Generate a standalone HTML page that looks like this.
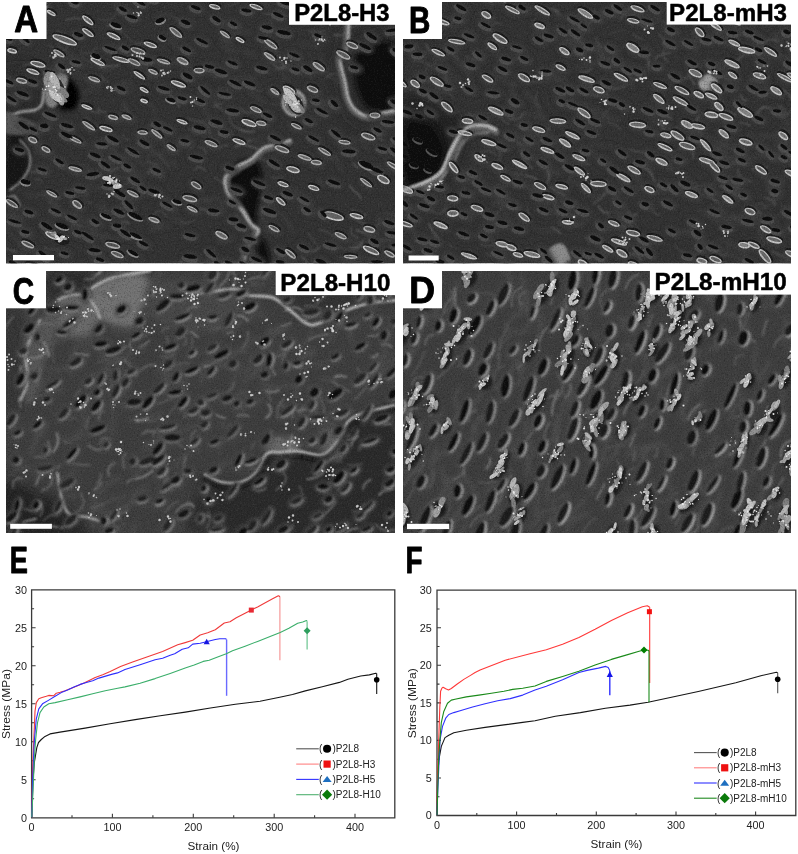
<!DOCTYPE html>
<html><head><meta charset="utf-8"><style>
html,body{margin:0;padding:0;background:#fff;}
body{width:798px;height:854px;overflow:hidden;position:relative;}
svg{position:absolute;left:0;top:0;display:block;}
</style></head><body>
<svg width="798" height="854" viewBox="0 0 798 854">
<defs><filter id="b04" x="-30%" y="-30%" width="160%" height="160%"><feGaussianBlur stdDeviation="0.4"/></filter><filter id="b05" x="-30%" y="-30%" width="160%" height="160%"><feGaussianBlur stdDeviation="0.5"/></filter><filter id="b06" x="-30%" y="-30%" width="160%" height="160%"><feGaussianBlur stdDeviation="0.6"/></filter><filter id="b08" x="-30%" y="-30%" width="160%" height="160%"><feGaussianBlur stdDeviation="0.8"/></filter><filter id="b1" x="-30%" y="-30%" width="160%" height="160%"><feGaussianBlur stdDeviation="1"/></filter><filter id="b2" x="-30%" y="-30%" width="160%" height="160%"><feGaussianBlur stdDeviation="2"/></filter><filter id="b3" x="-30%" y="-30%" width="160%" height="160%"><feGaussianBlur stdDeviation="3"/></filter><filter id="b6" x="-30%" y="-30%" width="160%" height="160%"><feGaussianBlur stdDeviation="6"/></filter><filter id="b8" x="-30%" y="-30%" width="160%" height="160%"><feGaussianBlur stdDeviation="8"/></filter><filter id="b12" x="-30%" y="-30%" width="160%" height="160%"><feGaussianBlur stdDeviation="12"/></filter><filter id="grain" x="0" y="0" width="100%" height="100%"><feTurbulence type="fractalNoise" baseFrequency="0.7" numOctaves="2" seed="3"/><feColorMatrix type="matrix" values="0 0 0 0 0  0 0 0 0 0  0 0 0 0 0  1.4 0 0 0 -0.7"/></filter><filter id="grainw" x="0" y="0" width="100%" height="100%"><feTurbulence type="fractalNoise" baseFrequency="0.7" numOctaves="2" seed="9"/><feColorMatrix type="matrix" values="0 0 0 0 1  0 0 0 0 1  0 0 0 0 1  1.4 0 0 0 -0.7"/></filter><clipPath id="clipA"><rect x="6" y="2" width="389" height="261.5"/></clipPath><clipPath id="clipB"><rect x="403" y="2" width="388" height="261.5"/></clipPath><clipPath id="clipC"><rect x="6" y="271" width="389" height="262"/></clipPath><clipPath id="clipD"><rect x="403" y="271" width="388" height="262"/></clipPath></defs><g clip-path="url(#clipA)"><g filter="url(#b04)"><rect x="6" y="2" width="389" height="261.5" fill="#303030"/><g filter="url(#b2)"><path d="M168,150C170,149 174,147 177,146C180,146 183,148 186,148C190,148 194,146 195,146M321,180C321,180 318,179 318,180C318,181 322,184 323,185C324,186 325,186 325,186M75,67C75,67 75,65 76,64C77,63 79,64 80,64C81,64 83,64 83,63M396,211C396,213 395,217 394,219C394,221 393,221 392,224C392,226 391,230 391,232M379,215C379,216 378,221 378,222C379,223 380,221 381,222C381,223 380,226 380,226M126,249C127,249 130,251 132,252C135,253 137,254 139,255C141,256 143,259 144,260M73,191C74,191 76,192 79,192C81,193 87,194 88,194C89,195 85,196 85,196M153,227C153,227 154,227 156,226C158,226 161,224 163,224C166,224 169,227 170,228M32,149C34,150 38,151 40,152C42,153 43,154 44,155C45,156 47,157 48,157M321,56C322,59 324,68 325,70C326,72 327,67 327,67C327,68 326,73 326,74M12,253C13,253 14,253 16,253C18,253 23,254 25,254C26,255 27,256 27,256M334,156C335,157 337,159 338,161C338,162 338,163 339,165C339,167 342,170 343,170M223,26C223,27 224,31 225,33C226,35 228,37 229,40C230,42 231,46 231,47M366,8C367,9 370,14 374,15C377,15 384,11 387,9C390,7 391,4 392,3M282,176C282,177 283,182 285,185C288,187 292,189 295,190C297,191 298,191 299,192M146,155C148,155 153,154 155,154C157,154 156,153 158,153C160,152 164,153 166,153M171,217C172,218 172,221 174,221C176,221 181,219 182,219C184,220 183,224 183,225M-1,80C1,79 7,78 9,78C11,79 8,82 10,83C12,84 19,85 21,86M75,101C77,103 81,108 83,110C85,113 85,112 86,115C87,118 89,126 89,128M367,76C369,76 372,78 374,77C375,76 375,72 376,72C377,72 380,76 381,76M387,118C387,118 388,116 388,117C388,118 388,121 388,122C388,124 389,126 390,127M10,215C11,215 11,215 12,216C13,216 14,218 15,218C17,219 22,219 23,219M263,47C265,48 268,53 270,54C272,55 274,53 277,54C279,54 283,55 284,55M288,101C290,101 296,101 299,102C302,104 304,107 306,108C308,108 309,106 310,105M137,140C139,141 146,146 150,149C153,151 157,153 159,155C161,156 161,158 161,159M338,257C340,258 345,262 349,262C353,262 358,258 362,257C366,257 371,260 373,260M217,197C217,198 219,199 220,201C221,202 223,204 223,206C224,208 223,212 223,213M281,213C282,214 284,216 285,219C287,221 289,224 291,227C292,229 294,232 295,233M240,136C242,137 250,139 253,140C256,141 256,142 258,142C260,141 263,137 264,136M74,139C76,140 82,140 83,141C85,142 83,145 84,145C86,146 91,144 92,144M269,26C269,25 270,22 271,20C273,18 276,15 278,14C280,13 284,15 285,15M119,51C120,51 123,51 126,51C128,52 131,54 134,54C136,54 139,52 140,51M137,161C138,161 140,164 142,164C144,165 147,163 148,163C150,163 150,164 151,164M57,47C59,48 64,49 67,51C69,53 70,55 72,56C74,58 76,58 77,58M350,84C351,84 353,84 355,84C357,84 359,85 360,86C362,87 362,91 362,92M163,206C164,206 169,207 170,207C171,207 169,205 170,206C171,207 174,212 175,213M192,199C193,199 197,202 200,202C202,202 204,198 207,198C209,199 211,203 212,203M74,213C76,215 84,219 86,221C88,223 84,223 86,225C88,227 95,231 97,232M201,106C201,106 202,106 203,108C205,110 208,114 209,117C211,119 212,124 213,125M2,222C3,224 6,229 8,231C9,233 10,235 13,237C16,240 23,243 25,245M92,231C94,233 102,239 105,241C108,243 107,242 108,243C109,243 113,243 114,243M28,85C28,85 28,85 29,87C31,89 35,97 36,98C38,100 39,97 40,96M263,158C262,157 259,156 259,154C258,153 257,153 259,151C260,149 266,143 268,142M155,16C155,16 159,20 160,20C161,19 160,15 162,14C164,14 170,15 172,15M386,159C387,160 388,165 390,167C391,169 393,169 395,171C397,173 401,175 402,176M18,245C19,246 23,249 25,249C27,250 28,247 30,248C32,249 36,254 37,256M115,2C116,2 116,5 117,7C118,9 119,12 121,13C123,13 128,11 129,11M350,111C350,112 349,112 350,113C352,113 358,112 361,113C364,114 370,116 371,117M230,34C231,34 235,34 238,33C241,33 244,31 246,31C248,31 249,32 250,33M168,197C168,198 166,199 167,201C168,204 173,209 174,211C176,213 176,211 176,211M133,73C134,73 136,74 139,74C142,75 148,77 151,77C154,76 156,72 157,71M20,70C21,70 23,71 26,72C28,73 34,75 35,75C37,76 36,75 36,74M147,128C147,128 147,130 148,130C150,129 155,125 156,125C157,124 156,127 156,127M97,203C98,205 101,213 103,214C105,215 107,210 108,211C110,212 110,219 111,221M41,224C41,224 42,227 43,228C44,230 47,232 48,234C49,235 48,235 48,235M112,190C113,191 116,193 118,193C121,194 125,193 127,193C130,193 134,192 135,191M352,252C353,251 357,247 361,246C364,245 368,248 370,247C373,247 375,242 376,241M141,102C142,102 144,101 146,101C147,102 149,103 151,105C153,107 155,112 156,114M343,72C344,72 344,73 345,74C346,75 346,77 347,78C349,78 354,75 355,75M26,194C28,194 33,196 35,197C38,197 39,194 41,194C44,195 50,199 52,200M205,203C205,203 203,200 204,200C205,199 209,201 211,200C213,200 213,197 213,197M258,212C259,214 264,219 265,221C266,224 264,226 265,228C267,230 274,232 275,232M161,32C162,33 166,34 168,36C170,38 172,42 173,44C175,46 177,48 178,49M254,202C254,202 251,201 252,202C253,202 259,205 261,206C263,208 264,209 264,210M89,185C90,186 94,188 95,188C97,189 97,187 99,187C101,188 105,191 107,192M339,236C340,237 344,239 347,240C351,241 356,243 358,244C360,244 359,243 360,242M207,130C207,131 209,131 210,133C211,134 213,138 213,140C213,142 213,142 212,142M61,83C61,83 59,80 60,81C62,82 67,88 69,89C72,91 75,90 76,90M-6,211C-4,212 3,216 6,217C9,217 10,213 12,214C14,214 18,218 20,219M116,209C117,209 120,208 122,207C123,207 123,207 125,207C127,208 134,210 135,211M124,82C124,82 123,83 123,83C124,83 126,81 128,82C130,83 133,87 134,88M251,2C252,3 252,3 255,4C258,4 267,6 269,6C272,6 269,6 269,5M236,77C238,77 243,77 244,77C246,78 245,79 247,79C249,79 256,76 257,76M223,183C223,184 224,188 225,189C225,191 224,189 224,191C225,193 228,199 228,201M327,156C328,157 330,160 331,160C333,160 334,156 335,156C337,155 338,157 338,157M317,105C318,105 318,106 320,105C323,105 330,103 332,102C334,101 332,99 332,99M4,85C6,86 11,88 12,89C13,89 11,88 12,88C14,89 19,90 21,91M213,102C214,101 218,98 219,96C220,94 220,89 221,89C223,88 228,92 229,93M247,51C247,52 246,54 246,55C247,55 249,53 251,53C252,54 255,56 256,57M346,140C348,140 357,139 360,140C362,140 360,141 362,143C364,144 369,149 370,150M110,240C111,240 116,238 118,238C120,238 119,238 121,238C123,238 129,237 130,236M111,178C113,178 119,176 122,177C125,177 128,180 130,180C133,181 138,180 139,180M220,43C221,44 225,48 227,49C229,51 229,52 231,52C234,51 240,49 241,49M154,161C155,162 153,165 156,165C159,166 169,162 172,162C175,162 175,166 176,167M216,241C217,241 219,242 222,242C224,242 229,242 231,241C233,240 234,236 234,235M120,159C120,159 119,157 121,157C122,157 128,158 129,158C131,158 129,157 129,157M124,101C124,102 124,103 124,105C124,106 124,107 124,108C125,110 126,112 126,112M347,32C348,32 351,29 353,29C356,28 359,29 362,29C364,28 368,26 370,26M347,216C348,216 350,218 351,217C353,216 354,210 356,211C358,211 362,216 363,217M74,75C75,75 80,75 83,76C85,77 86,80 90,81C93,81 102,79 105,79M78,167C79,167 82,164 84,165C87,165 90,169 91,171C91,172 89,172 88,172M367,116C368,116 368,115 369,116C370,117 372,121 373,121C373,122 373,120 373,120M136,173C139,173 148,174 151,174C154,174 152,174 154,175C156,176 162,178 164,178M205,138C206,139 208,143 210,144C211,145 213,143 215,142C216,142 216,141 217,141M110,141C111,141 114,142 115,143C115,145 113,148 113,150C113,151 115,153 115,153M250,85C250,86 249,91 250,93C252,95 256,95 258,97C261,99 264,103 266,104M301,41C301,42 301,44 302,44C304,45 308,45 311,45C314,46 318,47 320,47M4,155C6,156 13,158 16,159C20,159 24,158 26,159C28,159 29,160 30,160M103,203C103,204 105,208 106,210C107,211 110,211 111,212C112,213 112,214 113,214M207,65C207,65 208,68 209,70C210,72 213,76 214,77C216,78 218,77 219,77M28,107C28,107 28,107 28,108C28,109 25,111 26,112C28,113 37,114 39,114M92,234C93,234 94,234 97,235C100,235 107,237 108,237C110,236 106,234 106,233M88,66C88,66 89,64 91,64C94,64 101,68 104,69C106,70 105,70 105,70M21,82C22,83 26,85 27,88C29,90 27,94 29,97C30,99 34,101 35,102M83,93C84,92 87,92 89,91C90,90 91,87 92,87C94,87 98,91 99,92M80,103C80,103 82,103 84,103C85,103 87,103 88,103C89,103 87,103 87,103M283,63C283,64 285,67 285,69C285,71 281,75 282,76C282,78 288,78 290,79M337,81C338,82 341,85 344,86C347,87 351,88 354,89C357,90 359,92 360,93M123,105C123,106 127,108 128,110C129,112 128,114 129,116C130,118 135,119 136,120M149,231C150,231 152,230 154,229C156,229 161,229 162,229C163,228 160,227 160,226" fill="none" stroke="#404040" stroke-width="2.5" stroke-linecap="round"/></g><g filter="url(#b08)"><path d="M379,75C380,75 382,77 384,78C385,79 387,80 388,81C389,82 391,84 392,85M326,78C327,78 328,76 330,75C331,74 332,74 334,74C335,74 338,74 338,74M302,256C302,257 303,258 304,258C305,259 305,260 306,261C307,262 307,263 308,263M352,163C353,163 354,164 354,165C355,166 356,166 356,167C357,167 359,167 359,168M84,105C85,105 87,108 88,109C90,110 91,111 93,112C95,112 98,113 99,113M180,261C181,262 184,264 185,265C187,266 189,266 191,265C193,265 196,262 197,262M287,96C287,96 289,96 290,97C292,97 293,97 294,97C296,97 298,97 298,97M268,92C268,92 270,91 271,91C272,91 274,91 275,92C276,92 278,93 278,93" fill="none" stroke="#626262" stroke-width="1.2" stroke-linecap="round"/><path d="M48,202C49,202 51,202 52,203C53,203 55,204 56,204C57,205 59,207 59,207M214,177C215,177 216,179 217,179C218,180 219,181 220,181C221,182 222,182 223,183M12,168C13,167 15,166 16,165C17,165 19,164 20,164C22,164 24,164 25,164M274,70C275,70 278,70 280,69C282,69 284,68 286,68C288,67 290,66 291,65M115,58C116,58 119,57 120,56C122,56 123,56 125,57C127,57 129,58 130,58M200,122C201,123 204,123 206,124C207,125 208,127 209,128C209,130 209,133 210,134" fill="none" stroke="#565656" stroke-width="1.1" stroke-linecap="round"/><path d="M188,128C189,129 192,132 194,133C196,134 198,135 200,134C202,134 206,132 207,132M120,191C121,190 123,186 124,185C126,183 128,183 130,184C132,184 135,187 136,188M220,40C220,40 222,40 223,40C224,40 225,40 225,41C226,41 227,43 227,43M80,51C81,52 82,56 83,57C84,59 86,60 88,61C89,62 93,62 94,62M158,155C159,156 161,158 163,159C164,161 165,162 167,164C168,166 169,168 170,169M224,6C225,6 228,6 229,6C231,6 233,5 235,4C236,3 239,1 239,1M271,104C272,104 275,104 277,104C279,105 281,105 282,106C284,106 287,107 287,107" fill="none" stroke="#4a4a4a" stroke-width="1.1" stroke-linecap="round"/><path d="M158,126C158,125 160,125 161,125C162,125 163,125 164,126C165,126 167,127 167,127M135,236C135,236 137,236 138,236C139,236 139,236 140,236C141,237 142,238 143,238M255,155C256,155 257,157 258,157C259,158 260,159 261,159C263,159 265,160 265,160M44,247C44,247 47,248 48,249C50,249 52,249 54,249C55,250 58,249 59,249" fill="none" stroke="#4a4a4a" stroke-width="1.4" stroke-linecap="round"/><path d="M352,210C353,211 354,214 356,215C357,216 358,217 360,216C362,216 365,215 366,214M72,225C73,225 75,225 76,225C77,225 78,226 79,226C80,226 82,226 83,226M384,101C385,100 388,97 390,96C392,96 394,96 396,97C398,97 401,100 402,101M31,172C32,172 33,172 35,172C36,172 37,172 38,172C39,172 41,172 42,172" fill="none" stroke="#565656" stroke-width="1.4" stroke-linecap="round"/><path d="M11,100C11,100 12,102 13,103C14,104 15,105 16,106C17,107 19,109 19,109M328,76C329,77 332,78 333,79C335,79 337,80 338,81C340,82 342,84 343,84M93,53C93,53 93,51 94,50C95,49 95,49 96,48C97,48 98,48 99,48M279,32C280,33 281,34 282,35C283,35 284,35 285,35C286,35 287,34 288,34M147,159C147,160 149,161 150,162C151,162 152,163 153,164C154,164 156,165 157,165M382,213C383,213 386,213 388,213C390,214 392,214 394,215C396,215 399,217 400,217M63,94C63,94 66,95 68,96C69,96 70,97 70,99C71,100 70,103 71,104M39,83C40,82 43,79 45,78C47,77 49,76 51,76C53,76 57,78 58,78M392,144C392,144 393,146 393,147C393,148 393,149 393,150C393,151 393,153 393,153M94,246C94,247 96,248 96,249C97,250 97,250 98,251C98,252 98,254 99,254" fill="none" stroke="#4a4a4a" stroke-width="1.2" stroke-linecap="round"/><path d="M347,149C348,149 350,149 351,149C352,149 354,149 355,149C356,150 358,151 358,151M241,108C242,109 243,111 245,112C246,113 248,113 249,113C251,113 253,111 254,111M263,14C263,14 266,14 268,14C270,14 271,14 273,13C275,13 277,12 278,11M190,259C191,259 193,260 194,261C195,261 195,262 196,263C197,264 198,266 198,266M219,150C219,149 220,147 221,147C222,146 224,146 225,145C226,145 228,146 229,146M174,17C175,18 177,19 178,20C179,21 181,21 182,21C184,21 186,20 187,20M271,177C271,177 273,178 274,178C276,178 277,178 278,178C279,178 281,178 282,178M252,212C253,211 256,210 258,209C260,209 262,208 264,207C266,207 269,206 270,205M117,195C118,196 119,196 121,197C122,197 123,197 124,196C126,196 127,195 128,195M215,103C215,103 216,105 217,106C218,107 219,108 220,108C221,109 222,110 223,110M37,65C38,65 40,65 41,66C42,66 44,67 44,67C45,68 47,70 47,71M229,116C230,118 230,121 231,123C232,124 233,126 235,127C236,128 240,129 241,129" fill="none" stroke="#565656" stroke-width="1.2" stroke-linecap="round"/><path d="M355,12C356,12 357,12 358,12C359,12 360,12 361,12C362,12 364,12 365,11M26,19C27,19 28,19 29,19C30,19 31,19 32,20C33,20 35,21 35,21M351,227C351,228 351,231 351,232C352,234 352,235 354,236C355,237 358,237 358,238M57,163C57,164 58,165 59,166C60,167 62,168 63,168C64,168 66,168 67,168M199,147C200,147 201,148 202,148C203,149 204,149 205,150C205,151 206,153 206,154M135,46C135,46 137,45 139,44C140,44 141,43 143,43C144,43 146,44 147,44" fill="none" stroke="#565656" stroke-width="1.3" stroke-linecap="round"/><path d="M9,158C9,159 11,160 12,161C13,161 14,162 16,162C17,162 19,162 20,162M213,107C213,107 215,106 216,106C217,105 218,105 219,104C220,104 222,103 223,103M363,234C364,233 367,232 369,231C371,230 373,229 375,228C377,226 379,223 380,223M308,30C309,31 311,32 313,32C315,32 317,32 319,32C321,32 324,31 325,31" fill="none" stroke="#626262" stroke-width="1" stroke-linecap="round"/><path d="M319,230C320,230 323,230 325,231C326,231 328,232 329,233C331,234 333,236 334,237M332,248C333,248 336,247 337,247C339,247 341,248 342,248C344,249 346,250 347,250M123,134C124,135 123,137 124,138C124,139 125,139 126,139C127,140 129,139 130,139M57,30C57,31 59,32 60,32C61,33 61,33 63,33C64,34 65,33 66,34M33,128C33,128 35,129 36,130C36,131 37,132 37,133C37,134 35,136 35,136M62,94C62,95 63,96 64,97C64,98 65,98 66,99C67,100 68,101 68,101M187,118C188,118 191,120 193,120C195,121 197,121 200,121C202,121 205,120 206,120" fill="none" stroke="#4a4a4a" stroke-width="1.5" stroke-linecap="round"/><path d="M240,130C241,130 244,131 245,131C247,132 249,132 250,132C252,132 254,131 255,131M197,209C198,209 200,208 202,209C203,209 204,209 206,210C207,210 209,212 210,212M50,193C50,193 52,195 53,195C54,196 55,197 56,197C57,198 59,198 60,198M356,230C357,230 360,231 361,232C363,232 365,233 367,233C369,234 372,235 373,235M148,173C149,172 150,170 151,169C152,169 153,168 154,168C155,168 157,168 158,168M349,27C349,27 352,27 353,27C355,27 356,27 357,26C358,26 360,24 361,24M55,100C55,101 57,103 59,104C60,105 62,106 64,107C65,108 68,110 68,110M349,186C350,186 352,188 353,190C355,191 356,193 358,194C359,196 361,198 361,199" fill="none" stroke="#626262" stroke-width="1.4" stroke-linecap="round"/><path d="M194,171C194,170 197,168 198,167C199,167 201,167 202,168C203,168 205,171 206,171M106,25C107,25 110,26 112,26C114,27 116,28 118,29C119,30 122,32 123,32M98,108C98,109 99,110 100,111C101,111 102,112 103,112C104,112 105,112 106,112M379,240C380,240 382,240 383,240C385,240 386,240 388,240C389,240 392,240 392,240" fill="none" stroke="#626262" stroke-width="1.1" stroke-linecap="round"/><path d="M104,70C105,70 108,71 109,71C111,70 113,70 115,69C116,68 118,66 119,66M14,102C14,103 13,104 13,105C13,106 13,107 13,108C14,109 15,110 15,111" fill="none" stroke="#4a4a4a" stroke-width="1" stroke-linecap="round"/><path d="M350,216C351,216 353,218 355,219C357,220 358,221 360,222C362,223 365,223 366,224M111,173C111,172 112,171 113,170C114,170 115,169 116,169C117,169 118,168 119,168M24,65C25,65 28,65 30,64C31,64 33,64 35,64C37,64 39,63 40,63M-1,158C0,159 4,160 6,160C8,160 10,160 12,159C14,159 17,157 18,156M-1,241C-1,242 1,245 3,247C5,248 7,249 9,250C11,250 14,251 16,251" fill="none" stroke="#565656" stroke-width="1.5" stroke-linecap="round"/><path d="M268,140C269,141 271,143 273,144C274,145 276,146 278,147C280,148 283,149 284,149M181,222C182,222 184,223 186,223C187,223 189,223 190,222C192,222 194,220 195,220M386,50C387,50 389,51 391,53C392,54 393,55 394,57C394,58 395,61 395,62M307,233C308,233 310,235 311,237C312,238 313,239 314,241C315,242 316,245 317,245M254,89C254,89 256,90 257,91C258,91 259,91 260,91C261,91 262,90 263,90M34,179C35,179 37,179 38,179C39,179 40,179 41,180C42,181 43,183 43,183M314,66C314,66 314,69 315,70C316,71 317,72 318,72C319,72 322,72 323,72M84,53C85,53 87,53 89,53C90,53 92,54 93,54C95,54 97,55 98,55M235,213C236,214 238,217 239,218C241,220 242,221 244,223C246,224 249,225 250,226M98,19C99,19 103,20 105,20C107,20 109,20 111,19C113,18 116,15 116,14" fill="none" stroke="#4a4a4a" stroke-width="1.3" stroke-linecap="round"/><path d="M100,67C101,67 104,67 106,66C108,66 110,66 112,66C114,66 118,65 119,65M334,35C335,35 338,35 340,35C342,35 345,35 347,35C349,35 352,35 353,35M240,144C241,144 244,145 246,145C248,146 250,146 252,147C254,147 257,149 258,149M169,94C170,95 172,97 173,98C174,99 176,101 177,102C178,104 179,106 179,107M349,247C350,248 353,249 355,248C357,248 359,247 360,246C361,244 363,241 363,240M310,251C311,251 313,251 314,251C315,251 316,250 317,250C318,249 319,247 319,247M235,147C236,147 239,145 240,145C242,144 244,143 245,142C247,142 250,141 251,141" fill="none" stroke="#626262" stroke-width="1.5" stroke-linecap="round"/><path d="M255,214C256,214 258,213 260,213C261,213 262,213 264,213C265,213 267,214 268,214M47,45C48,45 50,46 51,47C53,47 54,48 55,50C55,51 56,53 56,54M84,200C84,200 85,201 86,201C87,202 88,202 89,203C90,203 91,203 92,203M116,175C116,176 117,177 117,178C117,179 118,180 118,181C118,182 118,184 118,184M58,43C59,44 61,48 63,49C64,50 65,50 66,49C68,48 69,43 70,42M124,33C125,34 127,37 128,38C130,40 132,41 134,42C136,43 139,44 140,44M101,75C101,75 102,77 102,78C103,79 104,80 105,81C106,81 108,82 109,82" fill="none" stroke="#565656" stroke-width="1" stroke-linecap="round"/><path d="M66,20C67,20 70,19 71,19C73,18 75,18 76,18C78,18 81,19 81,19M272,63C273,63 275,66 277,67C278,68 280,68 282,68C283,67 286,65 287,64M272,62C273,61 275,61 276,61C277,61 278,61 280,62C281,62 282,64 283,65" fill="none" stroke="#565656" stroke-width="1.6" stroke-linecap="round"/><path d="M181,90C181,89 182,86 182,84C183,82 185,81 186,80C188,79 192,79 193,79M152,220C153,219 154,214 156,212C157,211 159,211 161,211C163,212 166,216 167,217" fill="none" stroke="#4a4a4a" stroke-width="1.6" stroke-linecap="round"/><path d="M210,139C211,140 213,140 214,140C215,140 215,141 216,141C217,142 218,143 219,144M51,236C52,237 55,237 57,237C59,237 61,237 62,237C64,237 67,237 68,237M121,223C122,223 123,222 124,222C125,222 126,222 127,222C128,223 129,224 129,224" fill="none" stroke="#626262" stroke-width="1.3" stroke-linecap="round"/><path d="M369,136C370,136 373,135 374,135C376,136 377,136 379,137C380,138 382,140 383,140" fill="none" stroke="#626262" stroke-width="1.6" stroke-linecap="round"/></g><g filter="url(#b8)"><path d="M352,28C360.5,22.8 387.8,4.7 395,20C402.2,35.3 401.5,103.7 395,120C388.5,136.3 364,121.3 356,118C348,114.7 349,105.8 347,100C345,94.2 345.7,88.7 344,83C342.3,77.3 337,71.3 337,66C337,60.7 341.5,57.3 344,51C346.5,44.7 343.5,33.2 352,28Z" fill="#2a2a2a"/><path d="M6,75C11.7,64.7 34,72.2 40,78C46,83.8 43.7,100.5 42,110C40.3,119.5 36,130 30,135C24,140 10,150 6,140C2,130 0.3,85.3 6,75Z" fill="#2a2a2a"/></g><g filter="url(#b2)"><path d="M360,50C366.7,46.7 389.2,35.3 395,45C400.8,54.7 397.5,96.8 395,108C392.5,119.2 385,112.5 380,112C375,111.5 369,109.5 365,105C361,100.5 357.7,91.7 356,85C354.3,78.3 354.3,70.8 355,65C355.7,59.2 353.3,53.3 360,50Z" fill="#101010"/><path d="M232,168C234.5,163.8 240.7,160.8 245,160C249.3,159.2 255.2,159.7 258,163C260.8,166.3 262,173 262,180C262,187 259.3,197.3 258,205C256.7,212.7 256,224.3 254,226C252,227.7 248.7,219.3 246,215C243.3,210.7 240.7,205 238,200C235.3,195 231,190.3 230,185C229,179.7 229.5,172.2 232,168Z" fill="#070707"/><path d="M60,82C61.7,78.3 65.3,77.3 68,78C70.7,78.7 74.2,83 76,86C77.8,89 79.2,92.3 79,96C78.8,99.7 77.8,105.7 75,108C72.2,110.3 64.8,111.3 62,110C59.2,108.7 58.3,104.7 58,100C57.7,95.3 58.3,85.7 60,82Z" fill="#040404"/><path d="M8,140C10.7,131 18.3,134.3 22,136C25.7,137.7 29.5,143.5 30,150C30.5,156.5 28,168.7 25,175C22,181.3 15.2,185.5 12,188C8.8,190.5 6.7,198 6,190C5.3,182 5.3,149 8,140Z" fill="#121212"/><path d="M258,238C259.3,234.7 264,239.7 266,244C268,248.3 271.3,260.7 270,264C268.7,267.3 260,268.3 258,264C256,259.7 256.7,241.3 258,238Z" fill="#0e0e0e"/></g><g filter="url(#b1)"><path d="M347,24C347,25 347.1,25.8 346.8,30C346.5,34.2 346.5,44.6 345.1,49.5C343.7,54.4 338.9,53.8 338.6,59.3C338.3,64.8 342.1,75.7 343.5,82.3C344.9,88.9 345.1,93.9 346.8,98.7C348.6,103.5 350.5,107.8 354,111C357.5,114.2 362.8,117.5 368,118C373.2,118.5 380.5,115 385,114C389.5,113 393.3,112.3 395,112" fill="none" stroke="#5e5e5e" stroke-width="6" stroke-linecap="round"/><path d="M290,142C288,142.8 282.3,145.2 278,146.5C273.7,147.8 268.3,147.6 264,150C259.7,152.4 256,158 252,161C248,164 243.5,165.8 240,168C236.5,170.2 233.2,172 231,174C228.8,176 227.3,177.3 227,180C226.7,182.7 227.8,186.7 229,190C230.2,193.3 231.7,196.5 234,200C236.3,203.5 240.3,207 243,211C245.7,215 247.8,220.5 250,224C252.2,227.5 256.5,228.3 256,232C255.5,235.7 249.3,240.7 247,246C244.7,251.3 242.8,261 242,264" fill="none" stroke="#5e5e5e" stroke-width="6" stroke-linecap="round"/><path d="M349,24C349,25 349.1,25.8 348.8,30C348.5,34.2 348.5,44.6 347.1,49.5C345.7,54.4 340.9,53.8 340.6,59.3C340.3,64.8 344.1,75.7 345.5,82.3C346.9,88.9 347.1,94.1 348.8,98.7C350.6,103.3 352.8,107.1 356,110C359.2,112.9 363.2,115.7 368,116C372.8,116.3 380.5,113 385,112C389.5,111 393.3,110.3 395,110" fill="none" stroke="#b8b8b8" stroke-width="2.4" stroke-linecap="round"/><path d="M290,140C288,140.7 282.3,142.8 278,144C273.7,145.2 268.5,145 264,147.5C259.5,150 255.2,156.1 251,159C246.8,161.9 242.6,162.8 239,165C235.4,167.2 231.9,169.8 229.5,172C227.1,174.2 225.2,175.4 224.7,178.4C224.2,181.4 225.1,186.4 226.3,190C227.5,193.6 229.4,196.7 232,200C234.6,203.3 238.8,206 242,210C245.2,214 248.2,220.5 251,224C253.8,227.5 259.3,227.3 259,231C258.7,234.7 251.5,240.5 249,246C246.5,251.5 244.8,261 244,264" fill="none" stroke="#bcbcbc" stroke-width="2.4" stroke-linecap="round"/><path d="M6,118C8.3,117 15.2,113.3 20,112C24.8,110.7 31.3,111.3 35,110C38.7,108.7 40.5,107.3 42,104C43.5,100.7 43.7,92.3 44,90" fill="none" stroke="#a4a4a4" stroke-width="2.5" stroke-linecap="round"/><path d="M20,140C21.3,141.7 26.3,145.8 28,150C29.7,154.2 31,160 30,165C29,170 25.3,175.8 22,180C18.7,184.2 12,188.3 10,190" fill="none" stroke="#8e8e8e" stroke-width="2" stroke-linecap="round"/><path d="M6,200C7.3,199.3 11.7,195 14,196C16.3,197 19,204.3 20,206" fill="none" stroke="#8a8a8a" stroke-width="2" stroke-linecap="round"/></g><g filter="url(#b1)"><path d="M44,76C45.2,72.8 49,71.7 52,71C55,70.3 59.3,70.8 62,72C64.7,73.2 67.3,75 68,78C68.7,81 67.3,86.3 66,90C64.7,93.7 62.2,97 60,100C57.8,103 55.3,107.5 53,108C50.7,108.5 47.3,106 46,103C44.7,100 45.3,94.5 45,90C44.7,85.5 42.8,79.2 44,76Z" fill="#808080"/><path d="M48,80C49.3,77.5 55.7,76.2 58,77C60.3,77.8 62.5,81.5 62,85C61.5,88.5 57,96.8 55,98C53,99.2 51.2,95 50,92C48.8,89 46.7,82.5 48,80Z" fill="#a4a4a4"/><path d="M6,112C8.7,109.5 17,116 22,118C27,120 33.3,121.5 36,124C38.7,126.5 43,131.5 38,133C33,134.5 11.3,136.5 6,133C0.7,129.5 3.3,114.5 6,112Z" fill="#555"/><path d="M284,92C286.7,89.3 294.3,88.7 298,90C301.7,91.3 305.2,96 306,100C306.8,104 305.7,111.3 303,114C300.3,116.7 293.5,117.3 290,116C286.5,114.7 283,110 282,106C281,102 281.3,94.7 284,92Z" fill="#6a6a6a"/><path d="M284,94C286.2,93.5 293.5,90 297,91C300.5,92 304.2,96.5 305,100C305.8,103.5 304.3,109.5 302,112C299.7,114.5 294.2,116 291,115C287.8,114 284.2,109.5 283,106C281.8,102.5 283.8,96 284,94" fill="none" stroke="#b8b8b8" stroke-width="1.6" stroke-linecap="round"/></g><g filter="url(#b2)"><path fill="#3c3c3c" d="M20.6 5.2a9 5 10 1 0 17.7 3.2a9 5 10 1 0 -17.7 -3.2M220.8 260.3a9 5 22 1 0 16.7 6.7a9 5 22 1 0 -16.7 -6.7M266.6 225a9 5 29 1 0 15.8 8.7a9 5 29 1 0 -15.8 -8.7M306.2 134.9a9 5 29 1 0 15.7 8.8a9 5 29 1 0 -15.7 -8.8M25 136.9a9 5 26 1 0 16.2 7.8a9 5 26 1 0 -16.2 -7.8M67.7 136.7a9 5 27 1 0 16.1 8.1a9 5 27 1 0 -16.1 -8.1M134.2 132.6a9 5 4 1 0 18 1.3a9 5 4 1 0 -18 -1.3M72 187.4a9 5 9 1 0 17.8 2.7a9 5 9 1 0 -17.8 -2.7M160 125.9a9 5 25 1 0 16.3 7.6a9 5 25 1 0 -16.3 -7.6M25.7 125.9a9 5 27 1 0 16 8.3a9 5 27 1 0 -16 -8.3M218.1 29.9a9 5 35 1 0 14.7 10.4a9 5 35 1 0 -14.7 -10.4M113.6 85.4a9 5 25 1 0 16.3 7.7a9 5 25 1 0 -16.3 -7.7M273.3 247.5a9 5 29 1 0 15.8 8.6a9 5 29 1 0 -15.8 -8.6M382.1 250.4a9 5 29 1 0 15.7 8.8a9 5 29 1 0 -15.7 -8.8M361.2 227.9a9 5 15 1 0 17.4 4.6a9 5 15 1 0 -17.4 -4.6M364.7 4.2a9 5 0 1 0 18 0.1a9 5 0 1 0 -18 -0.1M188.1 155.9a9 5 13 1 0 17.5 4.1a9 5 13 1 0 -17.5 -4.1M267.1 159.1a9 5 32 1 0 15.2 9.6a9 5 32 1 0 -15.2 -9.6M238 246a9 5 28 1 0 15.8 8.5a9 5 28 1 0 -15.8 -8.5M375.6 2.9a9 5 30 1 0 15.6 9a9 5 30 1 0 -15.6 -9M6.5 219.9a9 5 16 1 0 17.3 4.9a9 5 16 1 0 -17.3 -4.9M267.8 134.8a9 5 27 1 0 16 8.2a9 5 27 1 0 -16 -8.2M224.7 199a9 5 26 1 0 16.2 7.9a9 5 26 1 0 -16.2 -7.9M315.7 -6.1a9 5 34 1 0 14.9 10.1a9 5 34 1 0 -14.9 -10.1M21 209.8a9 5 20 1 0 17 6a9 5 20 1 0 -17 -6M381.2 220.4a9 5 19 1 0 17 5.9a9 5 19 1 0 -17 -5.9M155.8 86.5a9 5 18 1 0 17.1 5.5a9 5 18 1 0 -17.1 -5.5M132.5 -1.8a9 5 31 1 0 15.4 9.3a9 5 31 1 0 -15.4 -9.3M300.6 64.8a9 5 32 1 0 15.3 9.4a9 5 32 1 0 -15.3 -9.4M128 176a9 5 32 1 0 15.3 9.4a9 5 32 1 0 -15.3 -9.4M175 58a9 5 26 1 0 16.1 8a9 5 26 1 0 -16.1 -8M344.4 42.5a9 5 24 1 0 16.5 7.2a9 5 24 1 0 -16.5 -7.2M54.7 61.9a9 5 36 1 0 14.6 10.5a9 5 36 1 0 -14.6 -10.5M184.6 205.9a9 5 27 1 0 16 8.2a9 5 27 1 0 -16 -8.2M126.6 59a9 5 26 1 0 16.2 7.9a9 5 26 1 0 -16.2 -7.9M253.5 66.8a9 5 14 1 0 17.5 4.3a9 5 14 1 0 -17.5 -4.3M201.3 65.4a9 5 13 1 0 17.5 4.2a9 5 13 1 0 -17.5 -4.2M86.2 77a9 5 20 1 0 16.9 6.1a9 5 20 1 0 -16.9 -6.1M125.3 190.5a9 5 27 1 0 16 8.2a9 5 27 1 0 -16 -8.2M261.6 208.9a9 5 19 1 0 17 5.8a9 5 19 1 0 -17 -5.8M209.5 14.9a9 5 34 1 0 14.9 10.1a9 5 34 1 0 -14.9 -10.1M136.1 240.1a9 5 28 1 0 15.9 8.5a9 5 28 1 0 -15.9 -8.5M387.6 99.1a9 5 26 1 0 16.1 8a9 5 26 1 0 -16.1 -8M48.1 207.9a9 5 24 1 0 16.4 7.4a9 5 24 1 0 -16.4 -7.4M304.8 86.4a9 5 23 1 0 16.6 7a9 5 23 1 0 -16.6 -7M307.5 99.3a9 5 11 1 0 17.7 3.5a9 5 11 1 0 -17.7 -3.5M108.4 154.8a9 5 26 1 0 16.2 7.8a9 5 26 1 0 -16.2 -7.8M288.8 123.1a9 5 26 1 0 16.2 7.9a9 5 26 1 0 -16.2 -7.9M192.2 98a9 5 21 1 0 16.8 6.6a9 5 21 1 0 -16.8 -6.6M20.2 241.4a9 5 25 1 0 16.3 7.6a9 5 25 1 0 -16.3 -7.6M51.9 49.4a9 5 32 1 0 15.2 9.7a9 5 32 1 0 -15.2 -9.7M342.1 257.2a9 5 3 1 0 18 0.8a9 5 3 1 0 -18 -0.8M364.6 31.8a9 5 35 1 0 14.7 10.4a9 5 35 1 0 -14.7 -10.4M70.4 32.6a9 5 18 1 0 17.2 5.4a9 5 18 1 0 -17.2 -5.4M284.1 248.7a9 5 41 1 0 13.6 11.8a9 5 41 1 0 -13.6 -11.8M174 96.7a9 5 16 1 0 17.3 4.9a9 5 16 1 0 -17.3 -4.9M41.3 71.1a9 5 8 1 0 17.8 2.6a9 5 8 1 0 -17.8 -2.6M367.4 13.7a9 5 29 1 0 15.7 8.8a9 5 29 1 0 -15.7 -8.8M13.4 79.1a9 5 15 1 0 17.4 4.8a9 5 15 1 0 -17.4 -4.8M203.4 141a9 5 23 1 0 16.6 6.9a9 5 23 1 0 -16.6 -6.9M204.8 248.2a9 5 41 1 0 13.7 11.7a9 5 41 1 0 -13.7 -11.7M24.5 79.2a9 5 20 1 0 17 6a9 5 20 1 0 -17 -6M296.5 243.7a9 5 27 1 0 16 8.3a9 5 27 1 0 -16 -8.3M194.5 37.9a9 5 27 1 0 16 8.3a9 5 27 1 0 -16 -8.3M126 147.3a9 5 31 1 0 15.4 9.4a9 5 31 1 0 -15.4 -9.4M111.2 208.7a9 5 25 1 0 16.3 7.5a9 5 25 1 0 -16.3 -7.5M379.7 121.4a9 5 8 1 0 17.8 2.6a9 5 8 1 0 -17.8 -2.6M233.4 223.8a9 5 19 1 0 17 5.9a9 5 19 1 0 -17 -5.9M179.3 45.8a9 5 29 1 0 15.7 8.8a9 5 29 1 0 -15.7 -8.8M368.3 262.4a9 5 0 1 0 18 -0a9 5 0 1 0 -18 0M4.6 199.5a9 5 32 1 0 15.2 9.6a9 5 32 1 0 -15.2 -9.6M286.5 52.3a9 5 23 1 0 16.6 7a9 5 23 1 0 -16.6 -7M252.8 122.4a9 5 11 1 0 17.7 3.5a9 5 11 1 0 -17.7 -3.5M66.6 -0.3a9 5 21 1 0 16.8 6.4a9 5 21 1 0 -16.8 -6.4M115.4 5.7a9 5 29 1 0 15.8 8.6a9 5 29 1 0 -15.8 -8.6M98.6 160.4a9 5 35 1 0 14.7 10.3a9 5 35 1 0 -14.7 -10.3M241.9 80.8a9 5 23 1 0 16.6 7a9 5 23 1 0 -16.6 -7M224.2 110a9 5 8 1 0 17.8 2.4a9 5 8 1 0 -17.8 -2.4M208.4 120a9 5 18 1 0 17.1 5.7a9 5 18 1 0 -17.1 -5.7M86.2 249.9a9 5 7 1 0 17.9 2.2a9 5 7 1 0 -17.9 -2.2M333.1 232.5a9 5 26 1 0 16.2 7.9a9 5 26 1 0 -16.2 -7.9M58.9 132a9 5 26 1 0 16.2 7.8a9 5 26 1 0 -16.2 -7.8M61.6 191.8a9 5 12 1 0 17.6 3.8a9 5 12 1 0 -17.6 -3.8M87.5 152.6a9 5 22 1 0 16.6 6.9a9 5 22 1 0 -16.6 -6.9M56.4 251.8a9 5 15 1 0 17.4 4.7a9 5 15 1 0 -17.4 -4.7M268 87.2a9 5 35 1 0 14.8 10.3a9 5 35 1 0 -14.8 -10.3M215.7 131.1a9 5 11 1 0 17.7 3.4a9 5 11 1 0 -17.7 -3.4M360.3 134.4a9 5 19 1 0 17 5.9a9 5 19 1 0 -17 -5.9M144.3 -3.3a9 5 16 1 0 17.3 5a9 5 16 1 0 -17.3 -5M190.6 70.9a9 5 3 1 0 18 0.8a9 5 3 1 0 -18 -0.8M221.8 166.5a9 5 17 1 0 17.2 5.2a9 5 17 1 0 -17.2 -5.2M177.7 19.5a9 5 23 1 0 16.6 7a9 5 23 1 0 -16.6 -7M191.2 126.7a9 5 13 1 0 17.6 3.9a9 5 13 1 0 -17.6 -3.9M248.9 256.6a9 5 24 1 0 16.5 7.3a9 5 24 1 0 -16.5 -7.3M105 115.8a9 5 15 1 0 17.4 4.6a9 5 15 1 0 -17.4 -4.6M87.7 218a9 5 28 1 0 15.9 8.5a9 5 28 1 0 -15.9 -8.5M311.9 62.2a9 5 35 1 0 14.7 10.4a9 5 35 1 0 -14.7 -10.4M164.2 143.4a9 5 34 1 0 15 9.9a9 5 34 1 0 -15 -9.9M370.2 126.4a9 5 29 1 0 15.7 8.8a9 5 29 1 0 -15.7 -8.8M329.4 128.7a9 5 39 1 0 14 11.3a9 5 39 1 0 -14 -11.3M129.9 49a9 5 18 1 0 17.1 5.5a9 5 18 1 0 -17.1 -5.5M313.2 259.1a9 5 22 1 0 16.7 6.8a9 5 22 1 0 -16.7 -6.8M359.4 178.1a9 5 37 1 0 14.4 10.8a9 5 37 1 0 -14.4 -10.8M318 207.9a9 5 49 1 0 11.8 13.6a9 5 49 1 0 -11.8 -13.6M64.5 214.1a9 5 28 1 0 15.9 8.5a9 5 28 1 0 -15.9 -8.5M199.1 85.2a9 5 42 1 0 13.3 12.2a9 5 42 1 0 -13.3 -12.2M307.9 162.3a9 5 7 1 0 17.9 2.1a9 5 7 1 0 -17.9 -2.1M258.6 26.5a9 5 12 1 0 17.6 3.6a9 5 12 1 0 -17.6 -3.6M383.6 231.9a9 5 11 1 0 17.7 3.5a9 5 11 1 0 -17.7 -3.5M117.9 44.6a9 5 29 1 0 15.8 8.6a9 5 29 1 0 -15.8 -8.6M386.1 161.7a9 5 34 1 0 15 10a9 5 34 1 0 -15 -10M44.4 190.2a9 5 30 1 0 15.6 8.9a9 5 30 1 0 -15.6 -8.9M17.1 230.3a9 5 15 1 0 17.4 4.7a9 5 15 1 0 -17.4 -4.7M299.9 205.9a9 5 30 1 0 15.5 9.1a9 5 30 1 0 -15.5 -9.1M340.3 151.5a9 5 4 1 0 17.9 1.3a9 5 4 1 0 -17.9 -1.3M368.7 167.7a9 5 22 1 0 16.7 6.6a9 5 22 1 0 -16.7 -6.6M84.4 176.2a9 5 -8 1 0 17.8 -2.4a9 5 -8 1 0 -17.8 2.4M102.3 46.4a9 5 19 1 0 17 5.9a9 5 19 1 0 -17 -5.9M251.4 180.3a9 5 23 1 0 16.6 7a9 5 23 1 0 -16.6 -7M109.6 251.9a9 5 23 1 0 16.6 7a9 5 23 1 0 -16.6 -7M105.5 135.2a9 5 29 1 0 15.7 8.8a9 5 29 1 0 -15.7 -8.8M187.9 4.9a9 5 22 1 0 16.7 6.8a9 5 22 1 0 -16.7 -6.8M336 141.7a9 5 9 1 0 17.8 2.8a9 5 9 1 0 -17.8 -2.8M181.6 197.3a9 5 14 1 0 17.5 4.3a9 5 14 1 0 -17.5 -4.3M224.8 60.2a9 5 24 1 0 16.5 7.3a9 5 24 1 0 -16.5 -7.3M123.9 15a9 5 17 1 0 17.2 5.3a9 5 17 1 0 -17.2 -5.3M14.8 91.3a9 5 21 1 0 16.8 6.5a9 5 21 1 0 -16.8 -6.5M248.2 106.8a9 5 24 1 0 16.5 7.3a9 5 24 1 0 -16.5 -7.3M155.4 59.5a9 5 18 1 0 17.1 5.5a9 5 18 1 0 -17.1 -5.5M181.7 256a9 5 8 1 0 17.8 2.5a9 5 8 1 0 -17.8 -2.5M42.6 112a9 5 23 1 0 16.6 6.9a9 5 23 1 0 -16.6 -6.9M367.2 237.6a9 5 29 1 0 15.7 8.8a9 5 29 1 0 -15.7 -8.8M93.3 143.8a9 5 6 1 0 17.9 1.8a9 5 6 1 0 -17.9 -1.8M390.3 137.2a9 5 25 1 0 16.3 7.6a9 5 25 1 0 -16.3 -7.6M70.6 199.7a9 5 38 1 0 14.2 11.1a9 5 38 1 0 -14.2 -11.1M18.6 33.2a9 5 43 1 0 13.1 12.3a9 5 43 1 0 -13.1 -12.3M212.8 69.4a9 5 18 1 0 17.1 5.7a9 5 18 1 0 -17.1 -5.7M279.8 191.5a9 5 20 1 0 16.9 6.3a9 5 20 1 0 -16.9 -6.3M123 199a9 5 46 1 0 12.5 13a9 5 46 1 0 -12.5 -13M35.8 126.3a9 5 3 1 0 18 1a9 5 3 1 0 -18 -1M16.3 15a9 5 19 1 0 17 5.9a9 5 19 1 0 -17 -5.9M100.5 185.3a9 5 4 1 0 18 1.3a9 5 4 1 0 -18 -1.3M169.2 27.6a9 5 39 1 0 14.1 11.2a9 5 39 1 0 -14.1 -11.2M289.2 105.4a9 5 13 1 0 17.6 4a9 5 13 1 0 -17.6 -4M238 9.8a9 5 9 1 0 17.8 2.9a9 5 9 1 0 -17.8 -2.9M275.8 31.6a9 5 12 1 0 17.6 3.7a9 5 12 1 0 -17.6 -3.7M16.8 121.3a9 5 35 1 0 14.8 10.2a9 5 35 1 0 -14.8 -10.2M0.5 16.2a9 5 14 1 0 17.5 4.4a9 5 14 1 0 -17.5 -4.4M150 120.4a9 5 31 1 0 15.4 9.3a9 5 31 1 0 -15.4 -9.3M37.4 250.2a9 5 39 1 0 14 11.3a9 5 39 1 0 -14 -11.3M227.8 79.9a9 5 26 1 0 16.1 8a9 5 26 1 0 -16.1 -8M384.1 32.4a9 5 -8 1 0 17.8 -2.6a9 5 -8 1 0 -17.8 2.6M346 65.7a9 5 16 1 0 17.3 4.9a9 5 16 1 0 -17.3 -4.9M119.7 162.9a9 5 27 1 0 16 8.1a9 5 27 1 0 -16 -8.1M301.1 117.7a9 5 25 1 0 16.3 7.6a9 5 25 1 0 -16.3 -7.6M181.7 233.8a9 5 13 1 0 17.5 4.2a9 5 13 1 0 -17.5 -4.2M260.4 195.5a9 5 19 1 0 17 5.9a9 5 19 1 0 -17 -5.9M112.6 189a9 5 33 1 0 15.1 9.9a9 5 33 1 0 -15.1 -9.9M260 111.9a9 5 27 1 0 16 8.3a9 5 27 1 0 -16 -8.3M276.7 -0a9 5 22 1 0 16.7 6.7a9 5 22 1 0 -16.7 -6.7M159.8 201a9 5 29 1 0 15.7 8.7a9 5 29 1 0 -15.7 -8.7M389.4 46.9a9 5 33 1 0 15.1 9.8a9 5 33 1 0 -15.1 -9.8M357 10.5a9 5 29 1 0 15.7 8.8a9 5 29 1 0 -15.7 -8.8M225 219a9 5 7 1 0 17.9 2.3a9 5 7 1 0 -17.9 -2.3M328.3 98.1a9 5 43 1 0 13.2 12.3a9 5 43 1 0 -13.2 -12.3M228.5 187.5a9 5 21 1 0 16.8 6.4a9 5 21 1 0 -16.8 -6.4M296.9 195.9a9 5 27 1 0 16 8.2a9 5 27 1 0 -16 -8.2M274 146.9a9 5 20 1 0 16.9 6.3a9 5 20 1 0 -16.9 -6.3M210.7 260.4a9 5 29 1 0 15.7 8.8a9 5 29 1 0 -15.7 -8.8M242 237.6a9 5 13 1 0 17.5 4a9 5 13 1 0 -17.5 -4M314.4 108a9 5 27 1 0 16.1 8.1a9 5 27 1 0 -16.1 -8.1M52.5 157.4a9 5 31 1 0 15.4 9.3a9 5 31 1 0 -15.4 -9.3M176.5 139.7a9 5 12 1 0 17.6 3.7a9 5 12 1 0 -17.6 -3.7M388.7 147a9 5 36 1 0 14.6 10.6a9 5 36 1 0 -14.6 -10.6M294.8 19a9 5 1 1 0 18 0.2a9 5 1 1 0 -18 -0.2M145.3 68.6a9 5 26 1 0 16.2 7.8a9 5 26 1 0 -16.2 -7.8M136.9 139.2a9 5 29 1 0 15.7 8.7a9 5 29 1 0 -15.7 -8.7M4.6 94.8a9 5 33 1 0 15.1 9.8a9 5 33 1 0 -15.1 -9.8M254.7 36.8a9 5 13 1 0 17.5 4.2a9 5 13 1 0 -17.5 -4.2M118.5 229.1a9 5 33 1 0 15.1 9.8a9 5 33 1 0 -15.1 -9.8M287.4 67.2a9 5 19 1 0 17.1 5.8a9 5 19 1 0 -17.1 -5.8M189.2 181.3a9 5 33 1 0 15 9.9a9 5 33 1 0 -15 -9.9M335.9 51.3a9 5 29 1 0 15.7 8.8a9 5 29 1 0 -15.7 -8.8M81.9 121.3a9 5 35 1 0 14.7 10.4a9 5 35 1 0 -14.7 -10.4M118.8 114.3a9 5 23 1 0 16.5 7.2a9 5 23 1 0 -16.5 -7.2M317.3 147.7a9 5 31 1 0 15.4 9.4a9 5 31 1 0 -15.4 -9.4M236.3 260.9a9 5 26 1 0 16.2 7.8a9 5 26 1 0 -16.2 -7.8M322.4 243.2a9 5 15 1 0 17.4 4.7a9 5 15 1 0 -17.4 -4.7M264 39.7a9 5 36 1 0 14.6 10.5a9 5 36 1 0 -14.6 -10.5M136.2 183.9a9 5 36 1 0 14.6 10.5a9 5 36 1 0 -14.6 -10.5M80.8 231.6a9 5 34 1 0 14.9 10.1a9 5 34 1 0 -14.9 -10.1M138.2 59.6a9 5 5 1 0 17.9 1.6a9 5 5 1 0 -17.9 -1.6M270.5 11.9a9 5 25 1 0 16.3 7.6a9 5 25 1 0 -16.3 -7.6M225.9 20.7a9 5 25 1 0 16.3 7.6a9 5 25 1 0 -16.3 -7.6M336 14.1a9 5 10 1 0 17.7 3.1a9 5 10 1 0 -17.7 -3.1M34.2 2.3a9 5 14 1 0 17.5 4.4a9 5 14 1 0 -17.5 -4.4M180.5 71.9a9 5 32 1 0 15.2 9.6a9 5 32 1 0 -15.2 -9.6M216.5 93a9 5 11 1 0 17.7 3.4a9 5 11 1 0 -17.7 -3.4M0.8 78.6a9 5 25 1 0 16.3 7.7a9 5 25 1 0 -16.3 -7.7M39.7 222a9 5 32 1 0 15.2 9.6a9 5 32 1 0 -15.2 -9.6M150.3 129a9 5 39 1 0 14 11.3a9 5 39 1 0 -14 -11.3M205.2 210.3a9 5 7 1 0 17.9 2.1a9 5 7 1 0 -17.9 -2.1M69.9 230a9 5 19 1 0 17.1 5.8a9 5 19 1 0 -17.1 -5.8M326 179.9a9 5 20 1 0 16.9 6.3a9 5 20 1 0 -16.9 -6.3M214.1 231.7a9 5 29 1 0 15.8 8.7a9 5 29 1 0 -15.8 -8.7M387.1 246.1a9 5 -1 1 0 18 -0.4a9 5 -1 1 0 -18 0.4M325.7 15.9a9 5 19 1 0 17 5.9a9 5 19 1 0 -17 -5.9M92 257.7a9 5 18 1 0 17.1 5.6a9 5 18 1 0 -17.1 -5.6M198.8 264.2a9 5 10 1 0 17.7 3a9 5 10 1 0 -17.7 -3M23.8 264.2a9 5 15 1 0 17.4 4.6a9 5 15 1 0 -17.4 -4.6M-0.5 35.4a9 5 22 1 0 16.7 6.7a9 5 22 1 0 -16.7 -6.7M149 167.3a9 5 25 1 0 16.3 7.6a9 5 25 1 0 -16.3 -7.6M38.6 146a9 5 29 1 0 15.7 8.8a9 5 29 1 0 -15.7 -8.8M366.4 115.7a9 5 3 1 0 18 1a9 5 3 1 0 -18 -1M296.7 155.3a9 5 19 1 0 17 6a9 5 19 1 0 -17 -6M262.8 52a9 5 35 1 0 14.7 10.4a9 5 35 1 0 -14.7 -10.4M374.1 147a9 5 15 1 0 17.4 4.7a9 5 15 1 0 -17.4 -4.7M34.2 167.6a9 5 18 1 0 17.1 5.6a9 5 18 1 0 -17.1 -5.6M311 33.2a9 5 23 1 0 16.6 7a9 5 23 1 0 -16.6 -7M58.8 123.9a9 5 17 1 0 17.3 5.1a9 5 17 1 0 -17.3 -5.1M67 167.6a9 5 15 1 0 17.3 4.8a9 5 15 1 0 -17.3 -4.8M11.3 147.7a9 5 18 1 0 17.1 5.7a9 5 18 1 0 -17.1 -5.7M146.1 217.6a9 5 21 1 0 16.8 6.4a9 5 21 1 0 -16.8 -6.4M104.5 243.7a9 5 15 1 0 17.4 4.7a9 5 15 1 0 -17.4 -4.7M67.9 60.2a9 5 16 1 0 17.3 5.1a9 5 16 1 0 -17.3 -5.1M108.7 224.8a9 5 11 1 0 17.7 3.3a9 5 11 1 0 -17.7 -3.3M271.8 261.1a9 5 11 1 0 17.7 3.5a9 5 11 1 0 -17.7 -3.5M146 189.6a9 5 17 1 0 17.3 5.1a9 5 17 1 0 -17.3 -5.1M5.3 260.1a9 5 23 1 0 16.5 7.2a9 5 23 1 0 -16.5 -7.2M357.5 43.5a9 5 26 1 0 16.2 7.8a9 5 26 1 0 -16.2 -7.8"/></g><g filter="url(#b06)"><path fill="#141414" opacity="0.85" d="M47.1 8.9a5.6 2.6 30 1 0 9.7 5.6a5.6 2.6 30 1 0 -9.7 -5.6M83 14.3a7.6 3.1 40 1 0 11.6 9.8a7.6 3.1 40 1 0 -11.6 -9.8M82.5 27a7.6 3.1 35 1 0 12.5 8.7a7.6 3.1 35 1 0 -12.5 -8.7M106.9 31.4a8.1 3.1 25 1 0 14.7 6.8a8.1 3.1 25 1 0 -14.7 -6.8M52.4 33.8a13.6 4.1 20 1 0 25.6 9.3a13.6 4.1 20 1 0 -25.6 -9.3M143.7 40.8a7.6 3.1 20 1 0 14.3 5.2a7.6 3.1 20 1 0 -14.3 -5.2M112 55.6a9.6 3.1 15 1 0 18.5 5a9.6 3.1 15 1 0 -18.5 -5M90.5 56.9a8.6 3.1 25 1 0 15.6 7.3a8.6 3.1 25 1 0 -15.6 -7.3M29.9 60.6a8.6 3.6 15 1 0 16.6 4.5a8.6 3.6 15 1 0 -16.6 -4.5M26.3 67.7a7.6 3.1 20 1 0 14.3 5.2a7.6 3.1 20 1 0 -14.3 -5.2M133.9 69.7a7.6 2.6 35 1 0 12.5 8.7a7.6 2.6 35 1 0 -12.5 -8.7M170.8 79.5a8.6 3.1 20 1 0 16.2 5.9a8.6 3.1 20 1 0 -16.2 -5.9M140 85.9a5.6 2.6 30 1 0 9.7 5.6a5.6 2.6 30 1 0 -9.7 -5.6M140.3 98a4.6 2.6 20 1 0 8.6 3.1a4.6 2.6 20 1 0 -8.6 -3.1M81 103.4a6.6 2.6 20 1 0 12.4 4.5a6.6 2.6 20 1 0 -12.4 -4.5M7.1 48a5.6 3.1 15 1 0 10.8 2.9a5.6 3.1 15 1 0 -10.8 -2.9M99 125.6a7.6 3.1 15 1 0 14.7 3.9a7.6 3.1 15 1 0 -14.7 -3.9M176.3 118.1a6.6 2.6 20 1 0 12.4 4.5a6.6 2.6 20 1 0 -12.4 -4.5M249.4 3a7.6 3.1 20 1 0 14.3 5.2a7.6 3.1 20 1 0 -14.3 -5.2M208.7 3.7a6.6 3.1 15 1 0 12.8 3.4a6.6 3.1 15 1 0 -12.8 -3.4M283.2 84.9a7.6 3.6 30 1 0 13.2 7.6a7.6 3.6 30 1 0 -13.2 -7.6M241.4 118.6a8.6 3.6 20 1 0 16.2 5.9a8.6 3.6 20 1 0 -16.2 -5.9M235.9 35.9a5.6 2.6 30 1 0 9.7 5.6a5.6 2.6 30 1 0 -9.7 -5.6M286 166.3a7.6 3.6 15 1 0 14.7 3.9a7.6 3.6 15 1 0 -14.7 -3.9M277.3 180.6a6.6 3.1 20 1 0 12.4 4.5a6.6 3.1 20 1 0 -12.4 -4.5M308 184.3a6.6 3.1 20 1 0 12.4 4.5a6.6 3.1 20 1 0 -12.4 -4.5M322.5 211.6a11.6 4.6 15 1 0 22.4 6a11.6 4.6 15 1 0 -22.4 -6M349.5 212.7a7.6 3.1 15 1 0 14.7 3.9a7.6 3.1 15 1 0 -14.7 -3.9M377.6 174.4a7.6 4.1 30 1 0 13.2 7.6a7.6 4.1 30 1 0 -13.2 -7.6M363 245a9.6 3.6 25 1 0 17.4 8.1a9.6 3.6 25 1 0 -17.4 -8.1M276.6 196.1a6.6 3.1 40 1 0 10.1 8.5a6.6 3.1 40 1 0 -10.1 -8.5M232.4 137.6a7.6 3.1 20 1 0 14.3 5.2a7.6 3.1 20 1 0 -14.3 -5.2M45.3 230.7a8.6 3.6 25 1 0 15.6 7.3a8.6 3.6 25 1 0 -15.6 -7.3M268.7 223.9a6.9 3 29 1 0 12.1 6.6a6.9 3 29 1 0 -12.1 -6.6M28.2 136.2a5.7 3.5 26 1 0 10.3 4.9a5.7 3.5 26 1 0 -10.3 -4.9M69 135.1a7.7 2.7 27 1 0 13.8 7a7.7 2.7 27 1 0 -13.8 -7M136.8 130.6a5.9 2.9 4 1 0 11.8 0.9a5.9 2.9 4 1 0 -11.8 -0.9M220.4 29.3a6.6 2.6 35 1 0 10.8 7.7a6.6 2.6 35 1 0 -10.8 -7.7M384.6 249.5a6.5 2.9 29 1 0 11.3 6.3a6.5 2.9 29 1 0 -11.3 -6.3M363.2 226.2a6.8 3.5 15 1 0 13.1 3.5a6.8 3.5 15 1 0 -13.1 -3.5M364.7 1.9a8.5 3.3 0 1 0 17.1 0.1a8.5 3.3 0 1 0 -17.1 -0.1M177 56.7a7 3.4 26 1 0 12.5 6.2a7 3.4 26 1 0 -12.5 -6.2M346.3 41.2a7 3.4 24 1 0 12.8 5.6a7 3.4 24 1 0 -12.8 -5.6M186.9 204.8a6.6 2.7 27 1 0 11.8 6.1a6.6 2.7 27 1 0 -11.8 -6.1M128 57.5a7.6 3.3 26 1 0 13.7 6.7a7.6 3.3 26 1 0 -13.7 -6.7M88.1 75.5a7 2.9 20 1 0 13.2 4.8a7 2.9 20 1 0 -13.2 -4.8M127.1 189.2a7.2 3 27 1 0 12.9 6.5a7.2 3 27 1 0 -12.9 -6.5M307 85.1a6.7 3.5 23 1 0 12.3 5.2a6.7 3.5 23 1 0 -12.3 -5.2M291.1 122a6.6 2.8 26 1 0 11.9 5.8a6.6 2.8 26 1 0 -11.9 -5.8M21.6 239.9a7.6 3.1 25 1 0 13.7 6.4a7.6 3.1 25 1 0 -13.7 -6.4M53.8 48.3a7.1 2.9 32 1 0 12 7.6a7.1 2.9 32 1 0 -12 -7.6M343.2 255a7.5 2.7 3 1 0 15 0.7a7.5 2.7 3 1 0 -15 -0.7M285.9 247.9a7.3 2.9 41 1 0 10.9 9.5a7.3 2.9 41 1 0 -10.9 -9.5M370 12.9a6.3 3 29 1 0 11 6.2a6.3 3 29 1 0 -11 -6.2M15.9 77.6a6.3 3.2 15 1 0 12.1 3.3a6.3 3.2 15 1 0 -12.1 -3.3M204.6 139.3a7.7 3.2 23 1 0 14.2 5.9a7.7 3.2 23 1 0 -14.2 -5.9M5.9 198.1a7.8 3.2 32 1 0 13.2 8.4a7.8 3.2 32 1 0 -13.2 -8.4M255.6 120.7a6 3.2 11 1 0 11.8 2.4a6 3.2 11 1 0 -11.8 -2.4M334.7 231.1a7.3 3.2 26 1 0 13.1 6.5a7.3 3.2 26 1 0 -13.1 -6.5M270.8 86.9a6 2.8 35 1 0 9.9 6.9a6 2.8 35 1 0 -9.9 -6.9M361.1 132.5a8.1 3.6 19 1 0 15.3 5.3a8.1 3.6 19 1 0 -15.3 -5.3M192.9 68.7a6.3 3.5 3 1 0 12.6 0.6a6.3 3.5 3 1 0 -12.6 -0.6M107.9 114.4a5.8 3 15 1 0 11.3 3a5.8 3 15 1 0 -11.3 -3M313.4 61a7.7 3.2 35 1 0 12.5 8.8a7.7 3.2 35 1 0 -12.5 -8.8M167.1 143.1a5.9 2.6 34 1 0 9.9 6.5a5.9 2.6 34 1 0 -9.9 -6.5M130.3 46.9a8.5 3.5 18 1 0 16.2 5.2a8.5 3.5 18 1 0 -16.2 -5.2M360.6 176.6a8 2.7 37 1 0 12.9 9.6a8 2.7 37 1 0 -12.9 -9.6M310.2 160.3a6.3 3.3 7 1 0 12.6 1.5a6.3 3.3 7 1 0 -12.6 -1.5M387.3 160.3a7.9 2.8 34 1 0 13.1 8.7a7.9 2.8 34 1 0 -13.1 -8.7M46.4 189.1a7 2.6 30 1 0 12.2 7a7 2.6 30 1 0 -12.2 -7M111 250.3a7.5 3.4 23 1 0 13.8 5.8a7.5 3.4 23 1 0 -13.8 -5.8M337.8 139.8a6.9 2.8 9 1 0 13.7 2.1a6.9 2.8 9 1 0 -13.7 -2.1M182.1 195.2a8.3 3.5 14 1 0 16 3.9a8.3 3.5 14 1 0 -16 -3.9M250.1 105.5a7 3.2 24 1 0 12.8 5.6a7 3.2 24 1 0 -12.8 -5.6M156.7 57.7a7.6 2.7 18 1 0 14.4 4.6a7.6 2.7 18 1 0 -14.4 -4.6M73.2 199.4a6.3 3.6 38 1 0 9.9 7.7a6.3 3.6 38 1 0 -9.9 -7.7M170 26a8.5 3.4 39 1 0 13.3 10.6a8.5 3.4 39 1 0 -13.3 -10.6M359.9 9.9a5.9 2.8 29 1 0 10.3 5.7a5.9 2.8 29 1 0 -10.3 -5.7M274.7 145a8.3 3.4 20 1 0 15.5 5.7a8.3 3.4 20 1 0 -15.5 -5.7M148.3 67.8a5.9 2.6 26 1 0 10.5 5.1a5.9 2.6 26 1 0 -10.5 -5.1M191.4 180.5a6.7 3.5 33 1 0 11.2 7.4a6.7 3.5 33 1 0 -11.2 -7.4M336.7 49.6a8.4 3.5 29 1 0 14.6 8.2a8.4 3.5 29 1 0 -14.6 -8.2M82.7 119.6a8.4 2.8 35 1 0 13.8 9.8a8.4 2.8 35 1 0 -13.8 -9.8M121.7 113.3a6 2.7 23 1 0 11 4.8a6 2.7 23 1 0 -11 -4.8M318.4 146.1a8.1 2.8 31 1 0 13.8 8.4a8.1 2.8 31 1 0 -13.8 -8.4M264.7 38a8.6 3.1 36 1 0 13.9 10a8.6 3.1 36 1 0 -13.9 -10M152 128a7.5 2.7 39 1 0 11.6 9.3a7.5 2.7 39 1 0 -11.6 -9.3M215.7 230.4a7.5 3.4 29 1 0 13.1 7.2a7.5 3.4 29 1 0 -13.1 -7.2M328.7 14.7a5.8 2.7 19 1 0 11 3.9a5.8 2.7 19 1 0 -11 -3.9M24.8 262.3a7.8 2.7 15 1 0 15.2 4a7.8 2.7 15 1 0 -15.2 -4M41.7 145.5a5.6 3.2 29 1 0 9.9 5.5a5.6 3.2 29 1 0 -9.9 -5.5M368.8 113.5a6.2 3.6 3 1 0 12.4 0.7a6.2 3.6 3 1 0 -12.4 -0.7M297.7 153.5a7.9 2.9 19 1 0 14.9 5.2a7.9 2.9 19 1 0 -14.9 -5.2M264.6 51a7.3 2.8 35 1 0 11.8 8.4a7.3 2.8 35 1 0 -11.8 -8.4M68.4 165.7a7.5 2.7 15 1 0 14.4 4a7.5 2.7 15 1 0 -14.4 -4M148.3 216.2a6.7 3 21 1 0 12.5 4.7a6.7 3 21 1 0 -12.5 -4.7M105.1 241.7a8.3 3.4 15 1 0 16 4.3a8.3 3.4 15 1 0 -16 -4.3"/><path fill="#1a1a1a" opacity="0.85" d="M290 95a11 7 60 1 0 11 19.1a11 7 60 1 0 -11 -19.1M51.4 75.4a15 8 70 1 0 10.3 28.2a15 8 70 1 0 -10.3 -28.2M105.7 179a9 5.5 30 1 0 15.6 9a9 5.5 30 1 0 -15.6 -9M54 236.8a8 5 20 1 0 15 5.5a8 5 20 1 0 -15 -5.5"/><path fill="#4e4e4e" d="M21.6 6.7a7.1 3.1 10 1 0 14 2.5a7.1 3.1 10 1 0 -14 -2.5M222.8 262.7a5.5 3.3 22 1 0 10.3 4.1a5.5 3.3 22 1 0 -10.3 -4.1M306 136.5a7.6 3 29 1 0 13.2 7.4a7.6 3 29 1 0 -13.2 -7.4M73.5 189a6.7 3 9 1 0 13.3 2a6.7 3 9 1 0 -13.3 -2M160.9 128a6.5 3.1 25 1 0 11.8 5.5a6.5 3.1 25 1 0 -11.8 -5.5M27.3 128.4a5.7 3 27 1 0 10.1 5.2a5.7 3 27 1 0 -10.1 -5.2M114.7 87.6a6.3 3.2 25 1 0 11.3 5.4a6.3 3.2 25 1 0 -11.3 -5.4M274.1 249.7a6.5 3.4 29 1 0 11.4 6.2a6.5 3.4 29 1 0 -11.4 -6.2M188.1 157.3a8.1 3.3 13 1 0 15.8 3.7a8.1 3.3 13 1 0 -15.8 -3.7M266.5 160.6a7.9 3.4 32 1 0 13.4 8.5a7.9 3.4 32 1 0 -13.4 -8.5M239.4 248.5a5.8 3.5 28 1 0 10.2 5.5a5.8 3.5 28 1 0 -10.2 -5.5M375.7 4.7a7.1 3.1 30 1 0 12.4 7.1a7.1 3.1 30 1 0 -12.4 -7.1M6.5 221.3a8 3 16 1 0 15.4 4.4a8 3 16 1 0 -15.4 -4.4M267.8 136.5a7.5 3.1 27 1 0 13.3 6.8a7.5 3.1 27 1 0 -13.3 -6.8M226.6 201.5a5.4 3 26 1 0 9.7 4.7a5.4 3 26 1 0 -9.7 -4.7M315.5 -4.3a7.3 3.3 34 1 0 12.1 8.2a7.3 3.3 34 1 0 -12.1 -8.2M22.5 211.9a6.1 3.3 20 1 0 11.5 4.1a6.1 3.3 20 1 0 -11.5 -4.1M382.1 222.2a6.8 3.4 19 1 0 12.9 4.5a6.8 3.4 19 1 0 -12.9 -4.5M156 88a7.6 3.3 18 1 0 14.5 4.7a7.6 3.3 18 1 0 -14.5 -4.7M131.7 -0.5a8.1 3.4 31 1 0 13.9 8.4a8.1 3.4 31 1 0 -13.9 -8.4M301 66.9a6.7 3.5 32 1 0 11.4 7a6.7 3.5 32 1 0 -11.4 -7M128 177.9a7.1 3.4 32 1 0 12.1 7.5a7.1 3.4 32 1 0 -12.1 -7.5M55.7 64.6a5.7 3.4 36 1 0 9.3 6.6a5.7 3.4 36 1 0 -9.3 -6.6M254.4 68.4a7.1 3.5 14 1 0 13.9 3.4a7.1 3.5 14 1 0 -13.9 -3.4M203 67.2a6.3 3.3 13 1 0 12.2 2.9a6.3 3.3 13 1 0 -12.2 -2.9M261.1 210.2a8.4 3.5 19 1 0 15.8 5.4a8.4 3.5 19 1 0 -15.8 -5.4M210.1 17.3a6.2 3.6 34 1 0 10.3 7a6.2 3.6 34 1 0 -10.3 -7M136.8 242.2a6.6 3.3 28 1 0 11.6 6.2a6.6 3.3 28 1 0 -11.6 -6.2M388 101a7 3.6 26 1 0 12.5 6.2a7 3.6 26 1 0 -12.5 -6.2M48.5 209.7a7.1 3.1 24 1 0 12.9 5.9a7.1 3.1 24 1 0 -12.9 -5.9M310.1 101.2a5.4 3.1 11 1 0 10.6 2.1a5.4 3.1 11 1 0 -10.6 -2.1M108.2 156.4a7.6 3 26 1 0 13.8 6.6a7.6 3 26 1 0 -13.8 -6.6M193.1 99.9a6.7 3 21 1 0 12.4 4.9a6.7 3 21 1 0 -12.4 -4.9M364.2 33.5a7.6 3.5 35 1 0 12.4 8.7a7.6 3.5 35 1 0 -12.4 -8.7M72.1 34.6a6.1 3.5 18 1 0 11.7 3.7a6.1 3.5 18 1 0 -11.7 -3.7M175.6 98.6a6.2 3.1 16 1 0 11.9 3.4a6.2 3.1 16 1 0 -11.9 -3.4M42.7 72.6a6.8 3.1 8 1 0 13.4 2a6.8 3.1 8 1 0 -13.4 -2M203.9 249.7a7.7 3.3 41 1 0 11.8 10.1a7.7 3.3 41 1 0 -11.8 -10.1M25.6 81.1a6.5 3.2 20 1 0 12.3 4.4a6.5 3.2 20 1 0 -12.3 -4.4M296.8 245.6a7.1 3.2 27 1 0 12.6 6.5a7.1 3.2 27 1 0 -12.6 -6.5M194 39.3a7.9 3.2 27 1 0 14.1 7.3a7.9 3.2 27 1 0 -14.1 -7.3M125 148.6a8.3 3.1 31 1 0 14.2 8.7a8.3 3.1 31 1 0 -14.2 -8.7M111.4 210.4a7.3 3.4 25 1 0 13.3 6.1a7.3 3.4 25 1 0 -13.3 -6.1M380.2 122.8a7.7 3.3 8 1 0 15.3 2.2a7.7 3.3 8 1 0 -15.3 -2.2M234.7 225.8a6.5 3.3 19 1 0 12.2 4.3a6.5 3.3 19 1 0 -12.2 -4.3M180.1 48.1a6.3 3.3 29 1 0 11 6.2a6.3 3.3 29 1 0 -11 -6.2M369 263.6a7.8 3.2 0 1 0 15.6 -0a7.8 3.2 0 1 0 -15.6 0M286.9 54.1a7.2 3.2 23 1 0 13.3 5.6a7.2 3.2 23 1 0 -13.3 -5.6M68.4 1.9a5.8 3.5 21 1 0 10.8 4.1a5.8 3.5 21 1 0 -10.8 -4.1M116.6 8.1a5.9 3.4 29 1 0 10.4 5.7a5.9 3.4 29 1 0 -10.4 -5.7M98.5 162.3a7.1 3.5 35 1 0 11.7 8.2a7.1 3.5 35 1 0 -11.7 -8.2M241.8 82.3a7.7 3.4 23 1 0 14.3 6a7.7 3.4 23 1 0 -14.3 -6M224.4 111.3a8 3.5 8 1 0 15.9 2.1a8 3.5 8 1 0 -15.9 -2.1M208.4 121.5a7.8 3.5 18 1 0 14.7 4.9a7.8 3.5 18 1 0 -14.7 -4.9M86.8 251.2a7.6 3.5 7 1 0 15.2 1.9a7.6 3.5 7 1 0 -15.2 -1.9M58.5 133.5a7.9 3.5 26 1 0 14.3 6.9a7.9 3.5 26 1 0 -14.3 -6.9M63.5 193.6a6 3.2 12 1 0 11.8 2.6a6 3.2 12 1 0 -11.8 -2.6M87.9 154.4a7.2 3.4 22 1 0 13.3 5.5a7.2 3.4 22 1 0 -13.3 -5.5M58.7 253.8a5.5 3 15 1 0 10.7 2.9a5.5 3 15 1 0 -10.7 -2.9M217.7 132.8a6 3.4 11 1 0 11.9 2.3a6 3.4 11 1 0 -11.9 -2.3M145 -1.6a7.2 3.4 16 1 0 13.8 4a7.2 3.4 16 1 0 -13.8 -4M223.5 168.4a6.1 3.4 17 1 0 11.7 3.5a6.1 3.4 17 1 0 -11.7 -3.5M178.8 21.6a6.4 3.6 23 1 0 11.9 5a6.4 3.6 23 1 0 -11.9 -5M191.8 128.2a7.5 3.4 13 1 0 14.6 3.2a7.5 3.4 13 1 0 -14.6 -3.2M248.9 258.2a7.5 3.1 24 1 0 13.7 6.1a7.5 3.1 24 1 0 -13.7 -6.1M89.3 220.6a5.5 3.2 28 1 0 9.7 5.2a5.5 3.2 28 1 0 -9.7 -5.2M371.3 128.8a6 3.2 29 1 0 10.5 5.9a6 3.2 29 1 0 -10.5 -5.9M328.8 130.3a7.6 3.2 39 1 0 11.8 9.6a7.6 3.2 39 1 0 -11.8 -9.6M313.6 260.9a7.2 3.6 22 1 0 13.3 5.5a7.2 3.6 22 1 0 -13.3 -5.5M318.2 211a5.6 3.4 49 1 0 7.4 8.5a5.6 3.4 49 1 0 -7.4 -8.5M64.9 216.1a6.9 3 28 1 0 12.2 6.5a6.9 3 28 1 0 -12.2 -6.5M198.1 86.7a7.8 3.2 42 1 0 11.5 10.6a7.8 3.2 42 1 0 -11.5 -10.6M259.7 28.1a6.9 3.5 12 1 0 13.5 2.8a6.9 3.5 12 1 0 -13.5 -2.8M384.6 233.4a7.1 3.2 11 1 0 13.9 2.8a7.1 3.2 11 1 0 -13.9 -2.8M119.5 47.2a5.5 3.3 29 1 0 9.7 5.3a5.5 3.3 29 1 0 -9.7 -5.3M19.4 232.4a5.5 3.1 15 1 0 10.6 2.8a5.5 3.1 15 1 0 -10.6 -2.8M301.2 208.5a5.7 3.2 30 1 0 9.8 5.7a5.7 3.2 30 1 0 -9.8 -5.7M340.6 152.8a8.1 3.4 4 1 0 16.1 1.2a8.1 3.4 4 1 0 -16.1 -1.2M368.1 169a8.3 3.5 22 1 0 15.4 6.1a8.3 3.5 22 1 0 -15.4 -6.1M85.2 177.2a7.9 3.5 -8 1 0 15.7 -2.1a7.9 3.5 -8 1 0 -15.7 2.1M102 47.7a8.1 3 19 1 0 15.4 5.3a8.1 3 19 1 0 -15.4 -5.3M251 181.7a8.1 3.2 23 1 0 14.9 6.3a8.1 3.2 23 1 0 -14.9 -6.3M104.9 136.7a8 3.5 29 1 0 14 7.8a8 3.5 29 1 0 -14 -7.8M188.8 6.9a6.6 3.3 22 1 0 12.3 5a6.6 3.3 22 1 0 -12.3 -5M225.4 62.1a6.9 3.1 24 1 0 12.6 5.6a6.9 3.1 24 1 0 -12.6 -5.6M124.9 16.8a6.8 3.3 17 1 0 13 4a6.8 3.3 17 1 0 -13 -4M14.6 92.7a8 3.3 21 1 0 14.9 5.8a8 3.3 21 1 0 -14.9 -5.8M181.7 257.3a8.3 3.6 8 1 0 16.3 2.3a8.3 3.6 8 1 0 -16.3 -2.3M42.2 113.4a8.1 3.2 23 1 0 14.9 6.2a8.1 3.2 23 1 0 -14.9 -6.2M368.1 239.9a6.2 3.5 29 1 0 10.9 6.1a6.2 3.5 29 1 0 -10.9 -6.1M94.6 145.2a6.9 3.2 6 1 0 13.8 1.4a6.9 3.2 6 1 0 -13.8 -1.4M390.3 138.9a7.5 3.4 25 1 0 13.6 6.3a7.5 3.4 25 1 0 -13.6 -6.3M17.5 34.5a7.9 3.5 43 1 0 11.6 10.8a7.9 3.5 43 1 0 -11.6 -10.8M212.7 70.9a7.9 3.5 18 1 0 15 5a7.9 3.5 18 1 0 -15 -5M280.5 193.3a6.9 3.5 20 1 0 13 4.8a6.9 3.5 20 1 0 -13 -4.8M122.2 200.7a7.4 3.4 46 1 0 10.3 10.7a7.4 3.4 46 1 0 -10.3 -10.7M38.6 127.7a5.6 3.6 3 1 0 11.1 0.6a5.6 3.6 3 1 0 -11.1 -0.6M17.9 17.1a6 3.3 19 1 0 11.4 3.9a6 3.3 19 1 0 -11.4 -3.9M101.3 186.6a7.5 3.1 4 1 0 15.1 1.1a7.5 3.1 4 1 0 -15.1 -1.1M289.8 106.9a7.4 3 13 1 0 14.5 3.3a7.4 3 13 1 0 -14.5 -3.3M239.7 11.4a6.5 3.2 9 1 0 12.8 2.1a6.5 3.2 9 1 0 -12.8 -2.1M275.5 32.9a8.4 3.5 12 1 0 16.4 3.4a8.4 3.5 12 1 0 -16.4 -3.4M16.2 122.9a7.8 3.6 35 1 0 12.9 8.9a7.8 3.6 35 1 0 -12.9 -8.9M2.9 18.2a5.4 3.4 14 1 0 10.6 2.7a5.4 3.4 14 1 0 -10.6 -2.7M151.4 123.1a5.6 3.4 31 1 0 9.6 5.8a5.6 3.4 31 1 0 -9.6 -5.8M36.2 251.4a8.4 3.4 39 1 0 13 10.4a8.4 3.4 39 1 0 -13 -10.4M227.2 81.3a8.1 3.2 26 1 0 14.5 7.2a8.1 3.2 26 1 0 -14.5 -7.2M384.7 33.5a8.2 3 -8 1 0 16.1 -2.4a8.2 3 -8 1 0 -16.1 2.4M348.1 67.8a5.7 3.2 16 1 0 11 3.1a5.7 3.2 16 1 0 -11 -3.1M121.3 165.3a5.7 3.3 27 1 0 10.1 5.1a5.7 3.3 27 1 0 -10.1 -5.1M302.5 119.9a6 3.3 25 1 0 10.9 5a6 3.3 25 1 0 -10.9 -5M182.8 235.4a7 3.2 13 1 0 13.6 3.2a7 3.2 13 1 0 -13.6 -3.2M261.9 197.6a6.2 3.3 19 1 0 11.7 4a6.2 3.3 19 1 0 -11.7 -4M111.8 190.4a8.1 3.6 33 1 0 13.5 8.8a8.1 3.6 33 1 0 -13.5 -8.8M260.8 114a6.5 3.2 27 1 0 11.6 6a6.5 3.2 27 1 0 -11.6 -6M276.4 1.4a7.9 3.6 22 1 0 14.7 5.9a7.9 3.6 22 1 0 -14.7 -5.9M159.9 202.8a7.2 3.1 29 1 0 12.6 7a7.2 3.1 29 1 0 -12.6 -7M390.2 49.3a6.2 3.6 33 1 0 10.4 6.7a6.2 3.6 33 1 0 -10.4 -6.7M226.9 220.5a6.4 3.4 7 1 0 12.6 1.6a6.4 3.4 7 1 0 -12.6 -1.6M328.5 100.7a6.2 3.5 43 1 0 9 8.4a6.2 3.5 43 1 0 -9 -8.4M228.3 189a7.8 3.3 21 1 0 14.6 5.6a7.8 3.3 21 1 0 -14.6 -5.6M297.3 197.8a7 3 27 1 0 12.4 6.3a7 3 27 1 0 -12.4 -6.3M211.7 262.7a6.2 3.4 29 1 0 10.8 6.1a6.2 3.4 29 1 0 -10.8 -6.1M242.6 239.1a7.4 3.1 13 1 0 14.5 3.3a7.4 3.1 13 1 0 -14.5 -3.3M314 109.4a7.9 3.1 27 1 0 14.2 7.1a7.9 3.1 27 1 0 -14.2 -7.1M53.3 159.8a6.2 3.2 31 1 0 10.6 6.5a6.2 3.2 31 1 0 -10.6 -6.5M178.5 141.5a6 3 12 1 0 11.7 2.5a6 3 12 1 0 -11.7 -2.5M387.6 148.2a8.3 3.4 36 1 0 13.5 9.8a8.3 3.4 36 1 0 -13.5 -9.8M296.9 20.2a6.4 3.2 1 1 0 12.8 0.1a6.4 3.2 1 1 0 -12.8 -0.1M137.2 141.1a7 3.5 29 1 0 12.3 6.8a7 3.5 29 1 0 -12.3 -6.8M4.6 96.8a7 3.1 33 1 0 11.7 7.6a7 3.1 33 1 0 -11.7 -7.6M256.5 38.6a6.1 3.1 13 1 0 11.9 2.9a6.1 3.1 13 1 0 -11.9 -2.9M117.8 230.6a7.9 3.4 33 1 0 13.3 8.6a7.9 3.4 33 1 0 -13.3 -8.6M289.3 69.3a5.7 3.1 19 1 0 10.8 3.7a5.7 3.1 19 1 0 -10.8 -3.7M237.1 263a6.5 3.1 26 1 0 11.8 5.6a6.5 3.1 26 1 0 -11.8 -5.6M322.8 244.7a7.5 3.1 15 1 0 14.5 3.9a7.5 3.1 15 1 0 -14.5 -3.9M137.3 186.8a5.5 3.1 36 1 0 9 6.5a5.5 3.1 36 1 0 -9 -6.5M79.7 232.9a8.4 3.1 34 1 0 13.8 9.4a8.4 3.1 34 1 0 -13.8 -9.4M139.4 61a7.1 3.6 5 1 0 14.1 1.3a7.1 3.6 5 1 0 -14.1 -1.3M270.8 13.7a7.2 3.3 25 1 0 13.1 6.1a7.2 3.3 25 1 0 -13.1 -6.1M227.7 23.2a5.4 3.2 25 1 0 9.9 4.6a5.4 3.2 25 1 0 -9.9 -4.6M336.2 15.5a7.9 3.1 10 1 0 15.5 2.8a7.9 3.1 10 1 0 -15.5 -2.8M35.5 4a6.6 3.3 14 1 0 12.8 3.2a6.6 3.3 14 1 0 -12.8 -3.2M180.7 73.9a6.9 3.5 32 1 0 11.6 7.3a6.9 3.5 32 1 0 -11.6 -7.3M216.8 94.4a7.8 3.1 11 1 0 15.4 2.9a7.8 3.1 11 1 0 -15.4 -2.9M1.5 80.6a6.7 3.1 25 1 0 12.2 5.7a6.7 3.1 25 1 0 -12.2 -5.7M39 223.4a8 3.6 32 1 0 13.5 8.6a8 3.6 32 1 0 -13.5 -8.6M206.3 211.7a7.1 3.4 7 1 0 14.1 1.7a7.1 3.4 7 1 0 -14.1 -1.7M71.9 232.2a5.6 3.3 19 1 0 10.7 3.6a5.6 3.3 19 1 0 -10.7 -3.6M325.8 181.3a8 3.3 20 1 0 14.9 5.6a8 3.3 20 1 0 -14.9 -5.6M390 247.3a5.6 3.1 -1 1 0 11.2 -0.2a5.6 3.1 -1 1 0 -11.2 0.2M93.8 259.8a5.9 3.2 18 1 0 11.2 3.6a5.9 3.2 18 1 0 -11.2 -3.6M201.4 265.9a5.5 3.1 10 1 0 10.9 1.8a5.5 3.1 10 1 0 -10.9 -1.8M0.4 37.4a6.6 3.6 22 1 0 12.3 4.9a6.6 3.6 22 1 0 -12.3 -4.9M150.3 169.6a6 3.2 25 1 0 10.9 5.1a6 3.2 25 1 0 -10.9 -5.1M375.6 148.8a6.3 3.1 15 1 0 12.2 3.3a6.3 3.1 15 1 0 -12.2 -3.3M35.8 169.6a6.1 3 18 1 0 11.7 3.8a6.1 3 18 1 0 -11.7 -3.8M312.2 35.3a6.2 3.2 23 1 0 11.5 4.8a6.2 3.2 23 1 0 -11.5 -4.8M58.8 125.3a7.9 3.6 17 1 0 15.2 4.5a7.9 3.6 17 1 0 -15.2 -4.5M12.9 149.7a6.1 3.4 18 1 0 11.7 3.9a6.1 3.4 18 1 0 -11.7 -3.9M69.6 62.1a6.1 3.1 16 1 0 11.7 3.5a6.1 3.1 16 1 0 -11.7 -3.5M111.1 226.5a5.7 3.6 11 1 0 11.2 2.1a5.7 3.6 11 1 0 -11.2 -2.1M273.9 262.8a5.9 3.5 11 1 0 11.6 2.3a5.9 3.5 11 1 0 -11.6 -2.3M146.4 191.1a7.4 3.5 17 1 0 14.3 4.2a7.4 3.5 17 1 0 -14.3 -4.2M6.9 262.4a5.9 3.4 23 1 0 10.9 4.7a5.9 3.4 23 1 0 -10.9 -4.7M357.3 45a7.8 3.3 26 1 0 14 6.8a7.8 3.3 26 1 0 -14 -6.8"/><path fill="#8a8a8a" d="M109.4 23.8a6.7 3.4 20 1 0 12.6 4.6a6.7 3.4 20 1 0 -12.6 -4.6M155 23.2a5.7 3.4 -20 1 0 10.7 -3.9a5.7 3.4 -20 1 0 -10.7 3.9M157.9 36a4.7 2.9 30 1 0 8.1 4.7a4.7 2.9 30 1 0 -8.1 -4.7M165.3 98.8a5.7 2.9 20 1 0 10.7 3.9a5.7 2.9 20 1 0 -10.7 -3.9M90.3 55a5.7 3.4 20 1 0 10.7 3.9a5.7 3.4 20 1 0 -10.7 -3.9M358 162a8.7 3.9 25 1 0 15.8 7.4a8.7 3.9 25 1 0 -15.8 -7.4M54.6 224.2a7.7 3.4 20 1 0 14.5 5.3a7.7 3.4 20 1 0 -14.5 -5.3M127.3 213.3a8.7 3.4 25 1 0 15.8 7.4a8.7 3.4 25 1 0 -15.8 -7.4M128.2 233.4a7.7 2.9 25 1 0 14 6.5a7.7 2.9 25 1 0 -14 -6.5M99.7 214.2a6.7 2.9 25 1 0 12.1 5.7a6.7 2.9 25 1 0 -12.1 -5.7M19.8 181.4a5.7 3.4 15 1 0 11 3a5.7 3.4 15 1 0 -11 -3M126.8 250.3a6.7 2.9 30 1 0 11.6 6.7a6.7 2.9 30 1 0 -11.6 -6.7M171.4 200.5a5.7 2.9 20 1 0 10.7 3.9a5.7 2.9 20 1 0 -10.7 -3.9"/><path fill="#b0b0b0" d="M268.5 225.5a6.3 2.4 29 1 0 11.1 6.1a6.3 2.4 29 1 0 -11.1 -6.1M28.1 137.8a5.1 2.9 26 1 0 9.2 4.4a5.1 2.9 26 1 0 -9.2 -4.4M68.9 136.7a7.1 2.1 27 1 0 12.7 6.4a7.1 2.1 27 1 0 -12.7 -6.4M137.3 132.1a5.3 2.3 4 1 0 10.6 0.8a5.3 2.3 4 1 0 -10.6 -0.8M220 30.9a6 2 35 1 0 9.8 7a6 2 35 1 0 -9.8 -7M384.4 251.1a5.9 2.3 29 1 0 10.2 5.7a5.9 2.3 29 1 0 -10.2 -5.7M363.4 227.8a6.2 2.9 15 1 0 11.9 3.2a6.2 2.9 15 1 0 -11.9 -3.2M365.2 3.4a7.9 2.7 0 1 0 15.9 0.1a7.9 2.7 0 1 0 -15.9 -0.1M176.9 58.3a6.4 2.8 26 1 0 11.4 5.6a6.4 2.8 26 1 0 -11.4 -5.6M346.3 42.8a6.4 2.8 24 1 0 11.7 5.1a6.4 2.8 24 1 0 -11.7 -5.1M186.8 206.4a6 2.1 27 1 0 10.8 5.5a6 2.1 27 1 0 -10.8 -5.5M127.9 59.1a7 2.7 26 1 0 12.6 6.2a7 2.7 26 1 0 -12.6 -6.2M88.1 77.1a6.4 2.3 20 1 0 12.1 4.4a6.4 2.3 20 1 0 -12.1 -4.4M126.9 190.8a6.6 2.4 27 1 0 11.8 6a6.6 2.4 27 1 0 -11.8 -6M307 86.8a6.1 2.9 23 1 0 11.2 4.8a6.1 2.9 23 1 0 -11.2 -4.8M291 123.6a6 2.2 26 1 0 10.8 5.3a6 2.2 26 1 0 -10.8 -5.3M21.5 241.5a7 2.5 25 1 0 12.6 5.9a7 2.5 25 1 0 -12.6 -5.9M53.5 49.9a6.5 2.3 32 1 0 10.9 7a6.5 2.3 32 1 0 -10.9 -7M343.7 256.5a6.9 2.1 3 1 0 13.8 0.6a6.9 2.1 3 1 0 -13.8 -0.6M285.4 249.5a6.7 2.3 41 1 0 10 8.7a6.7 2.3 41 1 0 -10 -8.7M369.7 14.5a5.7 2.4 29 1 0 10 5.6a5.7 2.4 29 1 0 -10 -5.6M16.1 79.2a5.7 2.6 15 1 0 10.9 3a5.7 2.6 15 1 0 -10.9 -3M204.6 140.9a7.1 2.6 23 1 0 13.1 5.5a7.1 2.6 23 1 0 -13.1 -5.5M5.6 199.7a7.2 2.6 32 1 0 12.2 7.8a7.2 2.6 32 1 0 -12.2 -7.8M255.9 122.3a5.4 2.6 11 1 0 10.6 2.1a5.4 2.6 11 1 0 -10.6 -2.1M334.6 232.7a6.7 2.6 26 1 0 12.1 5.9a6.7 2.6 26 1 0 -12.1 -5.9M270.4 88.5a5.4 2.2 35 1 0 8.9 6.2a5.4 2.2 35 1 0 -8.9 -6.2M361.2 134.1a7.5 3 19 1 0 14.1 4.9a7.5 3 19 1 0 -14.1 -4.9M193.4 70.3a5.7 2.9 3 1 0 11.4 0.5a5.7 2.9 3 1 0 -11.4 -0.5M108.1 116a5.2 2.4 15 1 0 10.1 2.7a5.2 2.4 15 1 0 -10.1 -2.7M313 62.6a7.1 2.6 35 1 0 11.5 8.1a7.1 2.6 35 1 0 -11.5 -8.1M166.8 144.7a5.3 2 34 1 0 8.9 5.9a5.3 2 34 1 0 -8.9 -5.9M130.4 48.5a7.9 2.9 18 1 0 15.1 4.8a7.9 2.9 18 1 0 -15.1 -4.8M360.1 178.2a7.4 2.1 37 1 0 11.9 8.9a7.4 2.1 37 1 0 -11.9 -8.9M310.6 161.9a5.7 2.7 7 1 0 11.4 1.3a5.7 2.7 7 1 0 -11.4 -1.3M387 161.8a7.3 2.2 34 1 0 12.1 8.1a7.3 2.2 34 1 0 -12.1 -8.1M46.1 190.7a6.4 2 30 1 0 11.2 6.4a6.4 2 30 1 0 -11.2 -6.4M111 251.9a6.9 2.8 23 1 0 12.7 5.4a6.9 2.8 23 1 0 -12.7 -5.4M338.2 141.3a6.3 2.2 9 1 0 12.5 1.9a6.3 2.2 9 1 0 -12.5 -1.9M182.4 196.8a7.7 2.9 14 1 0 14.9 3.7a7.7 2.9 14 1 0 -14.9 -3.7M250.1 107.1a6.4 2.6 24 1 0 11.7 5.2a6.4 2.6 24 1 0 -11.7 -5.2M156.9 59.3a7 2.1 18 1 0 13.3 4.3a7 2.1 18 1 0 -13.3 -4.3M72.7 201a5.7 3 38 1 0 8.9 7a5.7 3 38 1 0 -8.9 -7M169.6 27.5a7.9 2.8 39 1 0 12.4 9.9a7.9 2.8 39 1 0 -12.4 -9.9M359.7 11.5a5.3 2.2 29 1 0 9.2 5.1a5.3 2.2 29 1 0 -9.2 -5.1M274.8 146.6a7.7 2.8 20 1 0 14.4 5.3a7.7 2.8 20 1 0 -14.4 -5.3M148.2 69.5a5.3 2 26 1 0 9.5 4.6a5.3 2 26 1 0 -9.5 -4.6M191.1 182a6.1 2.9 33 1 0 10.2 6.7a6.1 2.9 33 1 0 -10.2 -6.7M336.5 51.2a7.8 2.9 29 1 0 13.5 7.6a7.8 2.9 29 1 0 -13.5 -7.6M82.3 121.2a7.8 2.2 35 1 0 12.8 9.1a7.8 2.2 35 1 0 -12.8 -9.1M121.6 114.9a5.4 2.1 23 1 0 9.9 4.3a5.4 2.1 23 1 0 -9.9 -4.3M318.1 147.7a7.5 2.2 31 1 0 12.8 7.8a7.5 2.2 31 1 0 -12.8 -7.8M264.3 39.5a8 2.5 36 1 0 12.9 9.3a8 2.5 36 1 0 -12.9 -9.3M151.5 129.6a6.9 2.1 39 1 0 10.7 8.6a6.9 2.1 39 1 0 -10.7 -8.6M215.5 232a6.9 2.8 29 1 0 12 6.6a6.9 2.8 29 1 0 -12 -6.6M328.7 16.3a5.2 2.1 19 1 0 9.9 3.5a5.2 2.1 19 1 0 -9.9 -3.5M25 263.9a7.2 2.1 15 1 0 14 3.7a7.2 2.1 15 1 0 -14 -3.7M41.5 147.1a5 2.6 29 1 0 8.8 4.9a5 2.6 29 1 0 -8.8 -4.9M369.3 115.1a5.6 3 3 1 0 11.2 0.6a5.6 3 3 1 0 -11.2 -0.6M297.8 155.1a7.3 2.3 19 1 0 13.7 4.8a7.3 2.3 19 1 0 -13.7 -4.8M264.2 52.6a6.7 2.2 35 1 0 10.8 7.7a6.7 2.2 35 1 0 -10.8 -7.7M68.6 167.3a6.9 2.1 15 1 0 13.2 3.7a6.9 2.1 15 1 0 -13.2 -3.7M148.3 217.8a6.1 2.4 21 1 0 11.4 4.3a6.1 2.4 21 1 0 -11.4 -4.3M105.3 243.3a7.7 2.8 15 1 0 14.8 4a7.7 2.8 15 1 0 -14.8 -4"/><path fill="#cacaca" d="M46.9 10.5a5 2 30 1 0 8.7 5a5 2 30 1 0 -8.7 -5M82.5 15.8a7 2.5 40 1 0 10.7 9a7 2.5 40 1 0 -10.7 -9M82.2 28.6a7 2.5 35 1 0 11.5 8a7 2.5 35 1 0 -11.5 -8M106.8 33a7.5 2.5 25 1 0 13.6 6.3a7.5 2.5 25 1 0 -13.6 -6.3M52.5 35.5a13 3.5 20 1 0 24.4 8.9a13 3.5 20 1 0 -24.4 -8.9M143.7 42.4a7 2.5 20 1 0 13.2 4.8a7 2.5 20 1 0 -13.2 -4.8M112.2 57.2a9 2.5 15 1 0 17.4 4.7a9 2.5 15 1 0 -17.4 -4.7M90.4 58.5a8 2.5 25 1 0 14.5 6.8a8 2.5 25 1 0 -14.5 -6.8M30.1 62.2a8 3 15 1 0 15.5 4.1a8 3 15 1 0 -15.5 -4.1M26.3 69.3a7 2.5 20 1 0 13.2 4.8a7 2.5 20 1 0 -13.2 -4.8M133.6 71.3a7 2 35 1 0 11.5 8a7 2 35 1 0 -11.5 -8M170.9 81.2a8 2.5 20 1 0 15 5.5a8 2.5 20 1 0 -15 -5.5M139.8 87.5a5 2 30 1 0 8.7 5a5 2 30 1 0 -8.7 -5M140.3 99.6a4 2 20 1 0 7.5 2.7a4 2 20 1 0 -7.5 -2.7M81.1 105a6 2 20 1 0 11.3 4.1a6 2 20 1 0 -11.3 -4.1M7.3 49.6a5 2.5 15 1 0 9.7 2.6a5 2.5 15 1 0 -9.7 -2.6M99.2 127.2a7 2.5 15 1 0 13.5 3.6a7 2.5 15 1 0 -13.5 -3.6M176.4 119.7a6 2 20 1 0 11.3 4.1a6 2 20 1 0 -11.3 -4.1M249.4 4.6a7 2.5 20 1 0 13.2 4.8a7 2.5 20 1 0 -13.2 -4.8M208.9 5.3a6 2.5 15 1 0 11.6 3.1a6 2.5 15 1 0 -11.6 -3.1M282.9 86.5a7 3 30 1 0 12.1 7a7 3 30 1 0 -12.1 -7M241.5 120.3a8 3 20 1 0 15 5.5a8 3 20 1 0 -15 -5.5M235.7 37.5a5 2 30 1 0 8.7 5a5 2 30 1 0 -8.7 -5M286.2 167.9a7 3 15 1 0 13.5 3.6a7 3 15 1 0 -13.5 -3.6M277.4 182.2a6 2.5 20 1 0 11.3 4.1a6 2.5 20 1 0 -11.3 -4.1M308.1 185.9a6 2.5 20 1 0 11.3 4.1a6 2.5 20 1 0 -11.3 -4.1M322.7 213.3a11 4 15 1 0 21.3 5.7a11 4 15 1 0 -21.3 -5.7M349.7 214.3a7 2.5 15 1 0 13.5 3.6a7 2.5 15 1 0 -13.5 -3.6M377.3 176a7 3.5 30 1 0 12.1 7a7 3.5 30 1 0 -12.1 -7M362.9 246.6a9 3 25 1 0 16.3 7.6a9 3 25 1 0 -16.3 -7.6M276.1 197.6a6 2.5 40 1 0 9.2 7.7a6 2.5 40 1 0 -9.2 -7.7M232.4 139.2a7 2.5 20 1 0 13.2 4.8a7 2.5 20 1 0 -13.2 -4.8M45.2 232.3a8 3 25 1 0 14.5 6.8a8 3 25 1 0 -14.5 -6.8"/><path fill="#525252" d="M269.9 226a4.8 1 29 1 0 8.4 4.6a4.8 1 29 1 0 -8.4 -4.6M138.8 132a3.8 0.9 4 1 0 7.7 0.6a3.8 0.9 4 1 0 -7.7 -0.6M385.8 251.7a4.4 0.9 29 1 0 7.6 4.3a4.4 0.9 29 1 0 -7.6 -4.3M347.7 43.2a4.9 1.4 24 1 0 8.9 3.9a4.9 1.4 24 1 0 -8.9 -3.9M308.4 87.2a4.6 1.5 23 1 0 8.5 3.6a4.6 1.5 23 1 0 -8.5 -3.6M292.4 124.1a4.5 0.8 26 1 0 8.1 3.9a4.5 0.8 26 1 0 -8.1 -3.9M23 242a5.5 1.1 25 1 0 9.9 4.6a5.5 1.1 25 1 0 -9.9 -4.6M345.2 256.4a5.4 0.7 3 1 0 10.8 0.5a5.4 0.7 3 1 0 -10.8 -0.5M286.7 250.3a5.2 0.9 41 1 0 7.8 6.8a5.2 0.9 41 1 0 -7.8 -6.8M17.6 79.4a4.2 1.2 15 1 0 8.1 2.2a4.2 1.2 15 1 0 -8.1 -2.2M7 200.3a5.7 1.2 32 1 0 9.7 6.2a5.7 1.2 32 1 0 -9.7 -6.2M362.7 134.4a6 1.6 19 1 0 11.3 3.9a6 1.6 19 1 0 -11.3 -3.9M194.9 70.1a4.2 1.5 3 1 0 8.4 0.4a4.2 1.5 3 1 0 -8.4 -0.4M109.6 116.2a3.7 1 15 1 0 7.2 1.9a3.7 1 15 1 0 -7.2 -1.9M168.1 145.3a3.8 0.6 34 1 0 6.4 4.2a3.8 0.6 34 1 0 -6.4 -4.2M131.9 48.8a6.4 1.5 18 1 0 12.2 3.9a6.4 1.5 18 1 0 -12.2 -3.9M388.4 162.5a5.8 0.8 34 1 0 9.6 6.4a5.8 0.8 34 1 0 -9.6 -6.4M47.5 191.2a4.9 0.6 30 1 0 8.6 4.9a4.9 0.6 30 1 0 -8.6 -4.9M339.7 141.4a4.8 0.8 9 1 0 9.5 1.5a4.8 0.8 9 1 0 -9.5 -1.5M183.9 197a6.2 1.5 14 1 0 12 2.9a6.2 1.5 14 1 0 -12 -2.9M158.4 59.6a5.5 0.7 18 1 0 10.4 3.3a5.5 0.7 18 1 0 -10.4 -3.3M74 201.7a4.2 1.6 38 1 0 6.6 5.2a4.2 1.6 38 1 0 -6.6 -5.2M149.6 69.9a3.8 0.6 26 1 0 6.8 3.3a3.8 0.6 26 1 0 -6.8 -3.3M192.4 182.7a4.6 1.5 33 1 0 7.7 5.1a4.6 1.5 33 1 0 -7.7 -5.1M26.5 264a5.7 0.7 15 1 0 11.1 2.9a5.7 0.7 15 1 0 -11.1 -2.9M42.9 147.7a3.5 1.2 29 1 0 6.2 3.5a3.5 1.2 29 1 0 -6.2 -3.5M106.8 243.5a6.2 1.4 15 1 0 11.9 3.2a6.2 1.4 15 1 0 -11.9 -3.2"/><path fill="#5c5c5c" d="M29.5 138.3a3.6 1.5 26 1 0 6.5 3.1a3.6 1.5 26 1 0 -6.5 -3.1M70.3 137.2a5.6 0.7 27 1 0 10.1 5.1a5.6 0.7 27 1 0 -10.1 -5.1M364.9 228a4.7 1.5 15 1 0 9 2.4a4.7 1.5 15 1 0 -9 -2.4M129.3 59.6a5.5 1.3 26 1 0 9.9 4.9a5.5 1.3 26 1 0 -9.9 -4.9M128.4 191.3a5.1 1 27 1 0 9.1 4.6a5.1 1 27 1 0 -9.1 -4.6M54.9 50.6a5 0.9 32 1 0 8.4 5.3a5 0.9 32 1 0 -8.4 -5.3M314.4 63.3a5.6 1.2 35 1 0 9.1 6.4a5.6 1.2 35 1 0 -9.1 -6.4M361.5 178.9a5.9 0.7 37 1 0 9.5 7.1a5.9 0.7 37 1 0 -9.5 -7.1M312.1 161.8a4.2 1.3 7 1 0 8.4 1a4.2 1.3 7 1 0 -8.4 -1M112.4 252.3a5.4 1.4 23 1 0 10 4.2a5.4 1.4 23 1 0 -10 -4.2M361.2 12.1a3.8 0.8 29 1 0 6.6 3.7a3.8 0.8 29 1 0 -6.6 -3.7M276.3 146.9a6.2 1.4 20 1 0 11.6 4.3a6.2 1.4 20 1 0 -11.6 -4.3M337.9 51.7a6.3 1.5 29 1 0 10.9 6.1a6.3 1.5 29 1 0 -10.9 -6.1M319.5 148.3a6 0.8 31 1 0 10.2 6.2a6 0.8 31 1 0 -10.2 -6.2M265.6 40.2a6.5 1.1 36 1 0 10.5 7.6a6.5 1.1 36 1 0 -10.5 -7.6M330.2 16.6a3.7 0.7 19 1 0 7 2.5a3.7 0.7 19 1 0 -7 -2.5"/><path fill="#646464" d="M48.3 11.1a3.5 0.6 30 1 0 6.1 3.5a3.5 0.6 30 1 0 -6.1 -3.5M83.8 16.6a5.5 1.1 40 1 0 8.4 7.1a5.5 1.1 40 1 0 -8.4 -7.1M83.5 29.3a5.5 1.1 35 1 0 9 6.3a5.5 1.1 35 1 0 -9 -6.3M108.2 33.5a6 1.1 25 1 0 10.9 5.1a6 1.1 25 1 0 -10.9 -5.1M54 35.8a11.5 2.1 20 1 0 21.6 7.9a11.5 2.1 20 1 0 -21.6 -7.9M145.2 42.7a5.5 1.1 20 1 0 10.3 3.8a5.5 1.1 20 1 0 -10.3 -3.8M113.7 57.4a7.5 1.1 15 1 0 14.5 3.9a7.5 1.1 15 1 0 -14.5 -3.9M91.9 59a6.5 1.1 25 1 0 11.8 5.5a6.5 1.1 25 1 0 -11.8 -5.5M31.6 62.4a6.5 1.6 15 1 0 12.6 3.4a6.5 1.6 15 1 0 -12.6 -3.4M27.8 69.6a5.5 1.1 20 1 0 10.3 3.8a5.5 1.1 20 1 0 -10.3 -3.8M134.9 72a5.5 0.6 35 1 0 9 6.3a5.5 0.6 35 1 0 -9 -6.3M172.4 81.5a6.5 1.1 20 1 0 12.2 4.4a6.5 1.1 20 1 0 -12.2 -4.4M141.2 88.1a3.5 0.6 30 1 0 6.1 3.5a3.5 0.6 30 1 0 -6.1 -3.5M141.8 100a2.5 0.6 20 1 0 4.7 1.7a2.5 0.6 20 1 0 -4.7 -1.7M82.5 105.4a4.5 0.6 20 1 0 8.5 3.1a4.5 0.6 20 1 0 -8.5 -3.1M8.8 49.8a3.5 1.1 15 1 0 6.8 1.8a3.5 1.1 15 1 0 -6.8 -1.8M100.7 127.4a5.5 1.1 15 1 0 10.6 2.8a5.5 1.1 15 1 0 -10.6 -2.8M177.8 120.1a4.5 0.6 20 1 0 8.5 3.1a4.5 0.6 20 1 0 -8.5 -3.1M250.9 4.9a5.5 1.1 20 1 0 10.3 3.8a5.5 1.1 20 1 0 -10.3 -3.8M210.4 5.5a4.5 1.1 15 1 0 8.7 2.3a4.5 1.1 15 1 0 -8.7 -2.3M284.3 87.1a5.5 1.6 30 1 0 9.5 5.5a5.5 1.6 30 1 0 -9.5 -5.5M243 120.6a6.5 1.6 20 1 0 12.2 4.4a6.5 1.6 20 1 0 -12.2 -4.4M237.1 38.1a3.5 0.6 30 1 0 6.1 3.5a3.5 0.6 30 1 0 -6.1 -3.5M287.7 168.1a5.5 1.6 15 1 0 10.6 2.8a5.5 1.6 15 1 0 -10.6 -2.8M278.8 182.6a4.5 1.1 20 1 0 8.5 3.1a4.5 1.1 20 1 0 -8.5 -3.1M309.5 186.3a4.5 1.1 20 1 0 8.5 3.1a4.5 1.1 20 1 0 -8.5 -3.1M324.2 213.4a9.5 2.6 15 1 0 18.4 4.9a9.5 2.6 15 1 0 -18.4 -4.9M351.2 214.5a5.5 1.1 15 1 0 10.6 2.8a5.5 1.1 15 1 0 -10.6 -2.8M378.7 176.6a5.5 2.1 30 1 0 9.5 5.5a5.5 2.1 30 1 0 -9.5 -5.5M364.4 247a7.5 1.6 25 1 0 13.6 6.3a7.5 1.6 25 1 0 -13.6 -6.3M277.4 198.5a4.5 1.1 40 1 0 6.9 5.8a4.5 1.1 40 1 0 -6.9 -5.8M233.9 139.5a5.5 1.1 20 1 0 10.3 3.8a5.5 1.1 20 1 0 -10.3 -3.8M46.7 232.8a6.5 1.6 25 1 0 11.8 5.5a6.5 1.6 25 1 0 -11.8 -5.5"/><path fill="#666666" d="M221.3 31.6a4.5 0.6 35 1 0 7.3 5.2a4.5 0.6 35 1 0 -7.3 -5.2M366.7 3.2a6.4 1.3 0 1 0 12.9 0.1a6.4 1.3 0 1 0 -12.9 -0.1M178.3 58.8a4.9 1.4 26 1 0 8.8 4.3a4.9 1.4 26 1 0 -8.8 -4.3M188.2 206.9a4.5 0.7 27 1 0 8.1 4.1a4.5 0.7 27 1 0 -8.1 -4.1M89.6 77.4a4.9 0.9 20 1 0 9.3 3.3a4.9 0.9 20 1 0 -9.3 -3.3M371.1 15.1a4.2 1 29 1 0 7.4 4.2a4.2 1 29 1 0 -7.4 -4.2M206.1 141.3a5.6 1.2 23 1 0 10.4 4.3a5.6 1.2 23 1 0 -10.4 -4.3M257.4 122.4a3.9 1.2 11 1 0 7.6 1.5a3.9 1.2 11 1 0 -7.6 -1.5M336 233.2a5.2 1.2 26 1 0 9.4 4.6a5.2 1.2 26 1 0 -9.4 -4.6M271.8 89.1a3.9 0.8 35 1 0 6.4 4.5a3.9 0.8 35 1 0 -6.4 -4.5M251.5 107.5a4.9 1.2 24 1 0 8.9 3.9a4.9 1.2 24 1 0 -8.9 -3.9M170.8 28.3a6.4 1.4 39 1 0 10 8a6.4 1.4 39 1 0 -10 -8M83.6 121.9a6.3 0.8 35 1 0 10.4 7.3a6.3 0.8 35 1 0 -10.4 -7.3M123.1 115.4a3.9 0.7 23 1 0 7.1 3.1a3.9 0.7 23 1 0 -7.1 -3.1M152.8 130.4a5.4 0.7 39 1 0 8.3 6.7a5.4 0.7 39 1 0 -8.3 -6.7M216.9 232.5a5.4 1.4 29 1 0 9.4 5.2a5.4 1.4 29 1 0 -9.4 -5.2M370.8 115a4.1 1.6 3 1 0 8.2 0.4a4.1 1.6 3 1 0 -8.2 -0.4M299.3 155.4a5.8 0.9 19 1 0 10.9 3.8a5.8 0.9 19 1 0 -10.9 -3.8M265.6 53.3a5.2 0.8 35 1 0 8.4 6a5.2 0.8 35 1 0 -8.4 -6M70.1 167.5a5.4 0.7 15 1 0 10.3 2.9a5.4 0.7 15 1 0 -10.3 -2.9M149.8 218.2a4.6 1 21 1 0 8.6 3.2a4.6 1 21 1 0 -8.6 -3.2"/><path fill="#0e0e0e" d="M110.4 23.1a6 2.5 20 1 0 11.3 4.1a6 2.5 20 1 0 -11.3 -4.1M155.3 22a5 2.5 -20 1 0 9.4 -3.4a5 2.5 -20 1 0 -9.4 3.4M159 35.5a4 2 30 1 0 6.9 4a4 2 30 1 0 -6.9 -4M166.3 98.1a5 2 20 1 0 9.4 3.4a5 2 20 1 0 -9.4 -3.4M91.3 54.3a5 2.5 20 1 0 9.4 3.4a5 2.5 20 1 0 -9.4 -3.4M359 161.4a8 3 25 1 0 14.5 6.8a8 3 25 1 0 -14.5 -6.8M55.6 223.5a7 2.5 20 1 0 13.2 4.8a7 2.5 20 1 0 -13.2 -4.8M128.3 212.7a8 2.5 25 1 0 14.5 6.8a8 2.5 25 1 0 -14.5 -6.8M129.3 232.7a7 2 25 1 0 12.7 5.9a7 2 25 1 0 -12.7 -5.9M100.8 213.6a6 2 25 1 0 10.9 5.1a6 2 25 1 0 -10.9 -5.1M20.8 180.6a5 2.5 15 1 0 9.7 2.6a5 2.5 15 1 0 -9.7 -2.6M127.9 249.8a6 2 30 1 0 10.4 6a6 2 30 1 0 -10.4 -6M172.4 199.8a5 2 20 1 0 9.4 3.4a5 2 20 1 0 -9.4 -3.4"/><path fill="#101010" d="M23.3 5a5.7 1.5 10 1 0 11.2 2a5.7 1.5 10 1 0 -11.2 -2M224.8 261.3a4.1 1.7 22 1 0 7.7 3.1a4.1 1.7 22 1 0 -7.7 -3.1M308.2 135.5a6.2 1.4 29 1 0 10.8 6a6.2 1.4 29 1 0 -10.8 -6M75.2 187.2a5.3 1.4 9 1 0 10.5 1.6a5.3 1.4 9 1 0 -10.5 -1.6M163 126.8a5.1 1.5 25 1 0 9.3 4.3a5.1 1.5 25 1 0 -9.3 -4.3M29.4 127.3a4.3 1.4 27 1 0 7.6 3.9a4.3 1.4 27 1 0 -7.6 -3.9M116.8 86.4a4.9 1.6 25 1 0 8.8 4.2a4.9 1.6 25 1 0 -8.8 -4.2M276.2 248.6a5.1 1.8 29 1 0 9 4.9a5.1 1.8 29 1 0 -9 -4.9M189.9 155.7a6.7 1.7 13 1 0 13 3a6.7 1.7 13 1 0 -13 -3M268.7 159.6a6.5 1.8 32 1 0 11 7a6.5 1.8 32 1 0 -11 -7M241.5 247.4a4.4 1.9 28 1 0 7.7 4.2a4.4 1.9 28 1 0 -7.7 -4.2M377.9 3.7a5.7 1.5 30 1 0 9.9 5.7a5.7 1.5 30 1 0 -9.9 -5.7M8.4 219.8a6.6 1.4 16 1 0 12.7 3.6a6.6 1.4 16 1 0 -12.7 -3.6M269.9 135.3a6.1 1.5 27 1 0 10.8 5.5a6.1 1.5 27 1 0 -10.8 -5.5M228.7 200.4a4 1.4 26 1 0 7.2 3.5a4 1.4 26 1 0 -7.2 -3.5M317.8 -5.1a5.9 1.7 34 1 0 9.8 6.6a5.9 1.7 34 1 0 -9.8 -6.6M24.5 210.5a4.7 1.7 20 1 0 8.8 3.2a4.7 1.7 20 1 0 -8.8 -3.2M384.1 220.8a5.4 1.8 19 1 0 10.2 3.6a5.4 1.8 19 1 0 -10.2 -3.6M157.9 86.5a6.2 1.7 18 1 0 11.9 3.8a6.2 1.7 18 1 0 -11.9 -3.8M133.9 -1.5a6.7 1.8 31 1 0 11.5 7a6.7 1.8 31 1 0 -11.5 -7M303.3 65.9a5.3 1.9 32 1 0 9 5.5a5.3 1.9 32 1 0 -9 -5.5M130.3 176.9a5.7 1.8 32 1 0 9.7 6a5.7 1.8 32 1 0 -9.7 -6M58 63.8a4.3 1.8 36 1 0 7 5a4.3 1.8 36 1 0 -7 -5M256.2 66.8a5.7 1.9 14 1 0 11.2 2.7a5.7 1.9 14 1 0 -11.2 -2.7M204.8 65.6a4.9 1.7 13 1 0 9.5 2.2a4.9 1.7 13 1 0 -9.5 -2.2M263 208.7a7 1.9 19 1 0 13.2 4.5a7 1.9 19 1 0 -13.2 -4.5M212.4 16.5a4.8 2 34 1 0 8 5.4a4.8 2 34 1 0 -8 -5.4M138.9 241.1a5.2 1.7 28 1 0 9.2 4.9a5.2 1.7 28 1 0 -9.2 -4.9M390.2 99.9a5.6 2 26 1 0 10 5a5.6 2 26 1 0 -10 -5M50.6 208.4a5.7 1.5 24 1 0 10.4 4.7a5.7 1.5 24 1 0 -10.4 -4.7M311.9 99.5a4 1.5 11 1 0 7.9 1.6a4 1.5 11 1 0 -7.9 -1.6M110.3 155.2a6.2 1.4 26 1 0 11.3 5.4a6.2 1.4 26 1 0 -11.3 -5.4M195.2 98.6a5.3 1.4 21 1 0 9.8 3.8a5.3 1.4 21 1 0 -9.8 -3.8M366.5 32.6a6.2 1.9 35 1 0 10.1 7.1a6.2 1.9 35 1 0 -10.1 -7.1M74 33.1a4.7 1.9 18 1 0 9 2.9a4.7 1.9 18 1 0 -9 -2.9M177.5 97a4.8 1.5 16 1 0 9.2 2.6a4.8 1.5 16 1 0 -9.2 -2.6M44.4 70.8a5.4 1.5 8 1 0 10.7 1.6a5.4 1.5 8 1 0 -10.7 -1.6M206.3 249.1a6.3 1.7 41 1 0 9.6 8.3a6.3 1.7 41 1 0 -9.6 -8.3M27.6 79.7a5.1 1.6 20 1 0 9.7 3.4a5.1 1.6 20 1 0 -9.7 -3.4M298.9 244.5a5.7 1.6 27 1 0 10.1 5.2a5.7 1.6 27 1 0 -10.1 -5.2M196.2 38.2a6.5 1.6 27 1 0 11.6 6a6.5 1.6 27 1 0 -11.6 -6M127.3 147.6a6.9 1.5 31 1 0 11.8 7.2a6.9 1.5 31 1 0 -11.8 -7.2M113.5 209.2a5.9 1.8 25 1 0 10.7 4.9a5.9 1.8 25 1 0 -10.7 -4.9M381.8 121a6.3 1.7 8 1 0 12.5 1.8a6.3 1.7 8 1 0 -12.5 -1.8M236.7 224.3a5.1 1.7 19 1 0 9.5 3.3a5.1 1.7 19 1 0 -9.5 -3.3M182.3 47a4.9 1.7 29 1 0 8.6 4.8a4.9 1.7 29 1 0 -8.6 -4.8M370.4 261.6a6.4 1.6 0 1 0 12.8 -0a6.4 1.6 0 1 0 -12.8 0M289 52.8a5.8 1.6 23 1 0 10.7 4.5a5.8 1.6 23 1 0 -10.7 -4.5M70.4 0.5a4.4 1.9 21 1 0 8.2 3.1a4.4 1.9 21 1 0 -8.2 -3.1M118.8 7a4.5 1.8 29 1 0 8 4.3a4.5 1.8 29 1 0 -8 -4.3M100.8 161.5a5.7 1.9 35 1 0 9.4 6.6a5.7 1.9 35 1 0 -9.4 -6.6M243.9 81a6.3 1.8 23 1 0 11.7 4.9a6.3 1.8 23 1 0 -11.7 -4.9M226.1 109.5a6.6 1.9 8 1 0 13.1 1.8a6.6 1.9 8 1 0 -13.1 -1.8M210.4 120a6.4 1.9 18 1 0 12.1 4a6.4 1.9 18 1 0 -12.1 -4M88.4 249.4a6.2 1.9 7 1 0 12.4 1.5a6.2 1.9 7 1 0 -12.4 -1.5M60.7 132.3a6.5 1.9 26 1 0 11.8 5.6a6.5 1.9 26 1 0 -11.8 -5.6M65.3 192a4.6 1.6 12 1 0 9.1 2a4.6 1.6 12 1 0 -9.1 -2M90 153.1a5.8 1.8 22 1 0 10.7 4.4a5.8 1.8 22 1 0 -10.7 -4.4M60.6 252.3a4.1 1.4 15 1 0 8 2.2a4.1 1.4 15 1 0 -8 -2.2M219.5 131.1a4.6 1.8 11 1 0 9.1 1.7a4.6 1.8 11 1 0 -9.1 -1.7M146.9 -3.2a5.8 1.8 16 1 0 11.1 3.2a5.8 1.8 16 1 0 -11.1 -3.2M225.4 166.9a4.7 1.8 17 1 0 9 2.7a4.7 1.8 17 1 0 -9 -2.7M180.9 20.3a5 2 23 1 0 9.3 3.9a5 2 23 1 0 -9.3 -3.9M193.6 126.5a6.1 1.8 13 1 0 11.8 2.6a6.1 1.8 13 1 0 -11.8 -2.6M251 257a6.1 1.5 24 1 0 11.1 4.9a6.1 1.5 24 1 0 -11.1 -4.9M91.5 219.5a4.1 1.6 28 1 0 7.2 3.9a4.1 1.6 28 1 0 -7.2 -3.9M373.5 127.8a4.6 1.6 29 1 0 8 4.5a4.6 1.6 29 1 0 -8 -4.5M331.1 129.7a6.2 1.6 39 1 0 9.7 7.8a6.2 1.6 39 1 0 -9.7 -7.8M315.6 259.6a5.8 2 22 1 0 10.7 4.4a5.8 2 22 1 0 -10.7 -4.4M320.7 210.7a4.2 1.8 49 1 0 5.5 6.4a4.2 1.8 49 1 0 -5.5 -6.4M67.1 215a5.5 1.4 28 1 0 9.8 5.2a5.5 1.4 28 1 0 -9.8 -5.2M200.5 86.1a6.4 1.6 42 1 0 9.5 8.7a6.4 1.6 42 1 0 -9.5 -8.7M261.5 26.4a5.5 1.9 12 1 0 10.8 2.2a5.5 1.9 12 1 0 -10.8 -2.2M386.3 231.7a5.7 1.6 11 1 0 11.2 2.2a5.7 1.6 11 1 0 -11.2 -2.2M121.7 46.1a4.1 1.7 29 1 0 7.3 4a4.1 1.7 29 1 0 -7.3 -4M21.3 230.8a4.1 1.5 15 1 0 7.9 2.1a4.1 1.5 15 1 0 -7.9 -2.1M303.4 207.5a4.3 1.6 30 1 0 7.4 4.3a4.3 1.6 30 1 0 -7.4 -4.3M342.2 150.9a6.7 1.8 4 1 0 13.3 1a6.7 1.8 4 1 0 -13.3 -1M370.2 167.7a6.9 1.9 22 1 0 12.8 5.1a6.9 1.9 22 1 0 -12.8 -5.1M86.4 175a6.5 1.9 -8 1 0 12.9 -1.8a6.5 1.9 -8 1 0 -12.9 1.8M104 46.3a6.7 1.4 19 1 0 12.7 4.4a6.7 1.4 19 1 0 -12.7 -4.4M253 180.4a6.7 1.6 23 1 0 12.3 5.2a6.7 1.6 23 1 0 -12.3 -5.2M107.1 135.6a6.6 1.9 29 1 0 11.6 6.5a6.6 1.9 29 1 0 -11.6 -6.5M190.8 5.6a5.2 1.7 22 1 0 9.7 4a5.2 1.7 22 1 0 -9.7 -4M227.5 60.8a5.5 1.5 24 1 0 10.1 4.4a5.5 1.5 24 1 0 -10.1 -4.4M126.8 15.3a5.4 1.7 17 1 0 10.4 3.2a5.4 1.7 17 1 0 -10.4 -3.2M16.6 91.4a6.6 1.7 21 1 0 12.2 4.8a6.6 1.7 21 1 0 -12.2 -4.8M183.4 255.5a6.9 2 8 1 0 13.6 1.9a6.9 2 8 1 0 -13.6 -1.9M44.2 112.1a6.7 1.6 23 1 0 12.4 5.1a6.7 1.6 23 1 0 -12.4 -5.1M370.3 238.9a4.8 1.9 29 1 0 8.4 4.7a4.8 1.9 29 1 0 -8.4 -4.7M96.2 143.3a5.5 1.6 6 1 0 11 1.1a5.5 1.6 6 1 0 -11 -1.1M392.4 137.7a6.1 1.8 25 1 0 11.1 5.1a6.1 1.8 25 1 0 -11.1 -5.1M19.9 34a6.5 1.9 43 1 0 9.5 8.9a6.5 1.9 43 1 0 -9.5 -8.9M214.7 69.4a6.5 1.9 18 1 0 12.3 4.1a6.5 1.9 18 1 0 -12.3 -4.1M282.5 191.9a5.5 1.9 20 1 0 10.4 3.9a5.5 1.9 20 1 0 -10.4 -3.9M124.6 200.4a6 1.8 46 1 0 8.4 8.7a6 1.8 46 1 0 -8.4 -8.7M40.1 125.7a4.2 2 3 1 0 8.3 0.4a4.2 2 3 1 0 -8.3 -0.4M19.9 15.6a4.6 1.7 19 1 0 8.7 3a4.6 1.7 19 1 0 -8.7 -3M102.8 184.7a6.1 1.5 4 1 0 12.3 0.9a6.1 1.5 4 1 0 -12.3 -0.9M291.6 105.3a6 1.4 13 1 0 11.8 2.7a6 1.4 13 1 0 -11.8 -2.7M241.4 9.7a5.1 1.6 9 1 0 10 1.7a5.1 1.6 9 1 0 -10 -1.7M277.2 31.2a7 1.9 12 1 0 13.6 2.8a7 1.9 12 1 0 -13.6 -2.8M18.4 122a6.4 2 35 1 0 10.6 7.3a6.4 2 35 1 0 -10.6 -7.3M4.8 16.7a4 1.8 14 1 0 7.8 2a4 1.8 14 1 0 -7.8 -2M153.6 122.1a4.2 1.8 31 1 0 7.2 4.3a4.2 1.8 31 1 0 -7.2 -4.3M38.5 250.7a7 1.8 39 1 0 10.9 8.7a7 1.8 39 1 0 -10.9 -8.7M229.3 80.1a6.7 1.6 26 1 0 12 5.9a6.7 1.6 26 1 0 -12 -5.9M385.8 31.3a6.8 1.4 -8 1 0 13.4 -2a6.8 1.4 -8 1 0 -13.4 2M350 66.2a4.3 1.6 16 1 0 8.3 2.3a4.3 1.6 16 1 0 -8.3 -2.3M123.5 164.2a4.3 1.7 27 1 0 7.6 3.9a4.3 1.7 27 1 0 -7.6 -3.9M304.6 118.7a4.6 1.7 25 1 0 8.3 3.9a4.6 1.7 25 1 0 -8.3 -3.9M184.6 233.8a5.6 1.6 13 1 0 10.8 2.6a5.6 1.6 13 1 0 -10.8 -2.6M263.9 196.1a4.8 1.7 19 1 0 9.1 3.1a4.8 1.7 19 1 0 -9.1 -3.1M114 189.5a6.7 2 33 1 0 11.2 7.3a6.7 2 33 1 0 -11.2 -7.3M263 112.9a5.1 1.6 27 1 0 9.1 4.7a5.1 1.6 27 1 0 -9.1 -4.7M278.5 0.1a6.5 2 22 1 0 12.1 4.9a6.5 2 22 1 0 -12.1 -4.9M162.1 201.7a5.8 1.5 29 1 0 10.2 5.7a5.8 1.5 29 1 0 -10.2 -5.7M392.4 48.4a4.8 2 33 1 0 8.1 5.2a4.8 2 33 1 0 -8.1 -5.2M228.5 218.7a5 1.8 7 1 0 9.8 1.3a5 1.8 7 1 0 -9.8 -1.3M330.9 100.2a4.8 1.9 43 1 0 7 6.5a4.8 1.9 43 1 0 -7 -6.5M230.4 187.6a6.4 1.7 21 1 0 12 4.6a6.4 1.7 21 1 0 -12 -4.6M299.4 196.7a5.6 1.4 27 1 0 10 5.1a5.6 1.4 27 1 0 -10 -5.1M213.9 261.7a4.8 1.8 29 1 0 8.4 4.7a4.8 1.8 29 1 0 -8.4 -4.7M244.4 237.4a6 1.5 13 1 0 11.8 2.7a6 1.5 13 1 0 -11.8 -2.7M316.2 108.3a6.5 1.5 27 1 0 11.7 5.8a6.5 1.5 27 1 0 -11.7 -5.8M55.5 158.8a4.8 1.6 31 1 0 8.3 5a4.8 1.6 31 1 0 -8.3 -5M180.3 139.8a4.6 1.4 12 1 0 8.9 1.9a4.6 1.4 12 1 0 -8.9 -1.9M389.9 147.4a6.9 1.8 36 1 0 11.2 8.2a6.9 1.8 36 1 0 -11.2 -8.2M298.3 18.3a5 1.6 1 1 0 10 0.1a5 1.6 1 1 0 -10 -0.1M139.4 140.1a5.6 1.9 29 1 0 9.9 5.5a5.6 1.9 29 1 0 -9.9 -5.5M6.9 95.9a5.6 1.5 33 1 0 9.4 6.1a5.6 1.5 33 1 0 -9.4 -6.1M258.3 36.9a4.7 1.5 13 1 0 9.2 2.2a4.7 1.5 13 1 0 -9.2 -2.2M120.1 229.6a6.5 1.8 33 1 0 10.9 7.1a6.5 1.8 33 1 0 -10.9 -7.1M291.3 67.9a4.3 1.5 19 1 0 8.2 2.8a4.3 1.5 19 1 0 -8.2 -2.8M239.3 261.8a5.1 1.5 26 1 0 9.3 4.4a5.1 1.5 26 1 0 -9.3 -4.4M324.7 243.1a6.1 1.5 15 1 0 11.8 3.1a6.1 1.5 15 1 0 -11.8 -3.1M139.6 185.9a4.1 1.5 36 1 0 6.7 4.9a4.1 1.5 36 1 0 -6.7 -4.9M82 232a7 1.5 34 1 0 11.5 7.8a7 1.5 34 1 0 -11.5 -7.8M141 59.1a5.7 2 5 1 0 11.3 1a5.7 2 5 1 0 -11.3 -1M272.9 12.4a5.8 1.7 25 1 0 10.6 4.9a5.8 1.7 25 1 0 -10.6 -4.9M229.9 22a4 1.6 25 1 0 7.3 3.4a4 1.6 25 1 0 -7.3 -3.4M337.9 13.8a6.5 1.5 10 1 0 12.8 2.3a6.5 1.5 10 1 0 -12.8 -2.3M37.4 2.4a5.2 1.7 14 1 0 10.1 2.5a5.2 1.7 14 1 0 -10.1 -2.5M183 73a5.5 1.9 32 1 0 9.2 5.8a5.5 1.9 32 1 0 -9.2 -5.8M218.5 92.7a6.4 1.5 11 1 0 12.6 2.4a6.4 1.5 11 1 0 -12.6 -2.4M3.6 79.4a5.3 1.5 25 1 0 9.6 4.5a5.3 1.5 25 1 0 -9.6 -4.5M41.3 222.5a6.6 2 32 1 0 11.1 7.1a6.6 2 32 1 0 -11.1 -7.1M207.9 209.9a5.7 1.8 7 1 0 11.3 1.3a5.7 1.8 7 1 0 -11.3 -1.3M73.9 230.7a4.2 1.7 19 1 0 8 2.7a4.2 1.7 19 1 0 -8 -2.7M327.8 180a6.6 1.7 20 1 0 12.3 4.6a6.6 1.7 20 1 0 -12.3 -4.6M391.4 245.2a4.2 1.5 -1 1 0 8.4 -0.2a4.2 1.5 -1 1 0 -8.4 0.2M95.8 258.3a4.5 1.6 18 1 0 8.5 2.8a4.5 1.6 18 1 0 -8.5 -2.8M203.1 264.2a4.1 1.5 10 1 0 8.2 1.4a4.1 1.5 10 1 0 -8.2 -1.4M2.5 36a5.2 2 22 1 0 9.7 3.9a5.2 2 22 1 0 -9.7 -3.9M152.4 168.4a4.6 1.6 25 1 0 8.4 3.9a4.6 1.6 25 1 0 -8.4 -3.9M377.5 147.3a4.9 1.5 15 1 0 9.5 2.6a4.9 1.5 15 1 0 -9.5 -2.6M37.7 168.1a4.7 1.4 18 1 0 9 3a4.7 1.4 18 1 0 -9 -3M314.3 34a4.8 1.6 23 1 0 8.9 3.8a4.8 1.6 23 1 0 -8.9 -3.8M60.7 123.8a6.5 2 17 1 0 12.5 3.7a6.5 2 17 1 0 -12.5 -3.7M14.9 148.3a4.7 1.8 18 1 0 9 3a4.7 1.8 18 1 0 -9 -3M71.5 60.6a4.7 1.5 16 1 0 9 2.7a4.7 1.5 16 1 0 -9 -2.7M112.8 224.8a4.3 2 11 1 0 8.5 1.6a4.3 2 11 1 0 -8.5 -1.6M275.7 261.2a4.5 1.9 11 1 0 8.9 1.8a4.5 1.9 11 1 0 -8.9 -1.8M148.3 189.6a6 1.9 17 1 0 11.6 3.4a6 1.9 17 1 0 -11.6 -3.4M8.9 261.1a4.5 1.8 23 1 0 8.3 3.6a4.5 1.8 23 1 0 -8.3 -3.6M359.4 43.8a6.4 1.7 26 1 0 11.4 5.5a6.4 1.7 26 1 0 -11.4 -5.5"/></g><g filter="url(#b05)"><path fill="#7e7e7e" d="M294.6 102a7.2 3.2 49 1 0 9.5 10.9a7.2 3.2 49 1 0 -9.5 -10.9M53.1 86a9.5 4.1 35 1 0 15.5 10.9a9.5 4.1 35 1 0 -15.5 -10.9M54.4 91.6a8.3 2.5 39 1 0 12.9 10.5a8.3 2.5 39 1 0 -12.9 -10.5M112 182.9a5.5 2.4 20 1 0 10.4 3.8a5.5 2.4 20 1 0 -10.4 -3.8"/><path fill="#8e8e8e" d="M285.3 98.3a5.8 3.5 16 1 0 11.1 3.1a5.8 3.5 16 1 0 -11.1 -3.1M293 105a5.6 2.1 42 1 0 8.4 7.5a5.6 2.1 42 1 0 -8.4 -7.5M49.2 71.5a7.3 3.6 102 1 0 -2.9 14.2a7.3 3.6 102 1 0 2.9 -14.2M51.7 73.4a7 2.4 67 1 0 5.4 13a7 2.4 67 1 0 -5.4 -13M51.1 73.6a8.7 2.9 78 1 0 3.6 17a8.7 2.9 78 1 0 -3.6 -17M105.2 176.3a5 1.4 40 1 0 7.6 6.5a5 1.4 40 1 0 -7.6 -6.5M50.7 234.6a3 2 -17 1 0 5.7 -1.8a3 2 -17 1 0 -5.7 1.8"/><path fill="#a0a0a0" d="M49.7 81.8a8.9 3.3 75 1 0 4.5 17.1a8.9 3.3 75 1 0 -4.5 -17.1M59.1 92.9a6.5 3.4 74 1 0 3.5 12.6a6.5 3.4 74 1 0 -3.5 -12.6M109.4 181.5a3.7 1.9 6 1 0 7.4 0.7a3.7 1.9 6 1 0 -7.4 -0.7M60.9 238a3.3 1.4 9 1 0 6.6 1a3.3 1.4 9 1 0 -6.6 -1"/><path fill="#b4b4b4" d="M283.3 95.2a6.6 2.1 49 1 0 8.6 9.9a6.6 2.1 49 1 0 -8.6 -9.9M291.4 93.1a6.7 2.2 65 1 0 5.8 12.1a6.7 2.2 65 1 0 -5.8 -12.1M291.1 104.2a5.9 3.4 41 1 0 9 7.8a5.9 3.4 41 1 0 -9 -7.8M50.9 71.9a8.7 3.1 62 1 0 8.3 15.4a8.7 3.1 62 1 0 -8.3 -15.4M49.3 76.9a8 2.6 49 1 0 10.5 12.1a8 2.6 49 1 0 -10.5 -12.1"/><path fill="#c4c4c4" d="M284 88.2a7.9 3.3 47 1 0 10.8 11.5a7.9 3.3 47 1 0 -10.8 -11.5M50 91.8a7.5 3.7 39 1 0 11.7 9.6a7.5 3.7 39 1 0 -11.7 -9.6M102.1 177.5a5 2.3 12 1 0 9.9 2a5 2.3 12 1 0 -9.9 -2M112.9 186.8a4.4 2.4 -7 1 0 8.7 -1a4.4 2.4 -7 1 0 -8.7 1M54.6 233.9a3.1 1.2 65 1 0 2.7 5.7a3.1 1.2 65 1 0 -2.7 -5.7M58.5 242.2a4.1 1.8 -53 1 0 4.8 -6.5a4.1 1.8 -53 1 0 -4.8 6.5"/><path stroke="#c8c8c8" stroke-width="1" stroke-linecap="round" d="M139.5 55h0M108.5 87h0M114 90.5h0M50 56h0M55 56h0M53 57h0M138.5 13.5h0M194.5 100h0M194 101h0M114.5 177.5h0M110.5 196h0M109 195h0M113 195h0M325 40.5h0M332 22.5h0"/><path stroke="#c8c8c8" stroke-width="1.5" stroke-linecap="round" d="M140.5 53h0M108 86.5h0M112.5 88.5h0M107.5 88.5h0M170.5 71h0M163 70h0M164.5 72.5h0M72 67.5h0M74 70h0M70.5 73.5h0M70.5 74h0M55 56h0M58 54.5h0M140.5 12h0M133.5 13h0M137 12.5h0M138 7h0M192.5 101.5h0M196.5 99.5h0M192.5 106h0M196.5 98h0M114 177.5h0M116 182h0M110 180.5h0M107 194h0M114 191.5h0M155 195.5h0M154.5 195.5h0M156.5 194.5h0M160.5 198h0M295.5 104.5h0M295.5 100.5h0M296 106h0M295 107h0M294 103.5h0M324.5 39.5h0M322 37h0M319 40h0M315.5 40h0M319.5 39h0M291 61h0M287 58h0M282 60.5h0M284 59.5h0M327 18.5h0M328 21h0M329 21h0M333.5 21.5h0"/><path stroke="#c8c8c8" stroke-width="2" stroke-linecap="round" d="M139.5 56.5h0M141.5 57.5h0M144 54h0M137 56h0M132.5 55h0M137 53h0M110.5 87h0M107 87.5h0M111 88h0M167.5 73h0M161 70.5h0M162 75.5h0M168.5 72.5h0M68.5 71h0M70.5 73h0M68 72h0M52 53h0M139 15h0M138.5 15.5h0M141 13h0M138.5 13.5h0M190.5 97h0M191 102.5h0M192.5 102h0M113 178h0M112 181h0M116.5 179.5h0M112 180.5h0M111.5 193.5h0M113 194h0M109 197h0M159 197h0M155.5 195.5h0M162.5 196.5h0M155 195h0M294 102h0M294.5 104.5h0M299 104h0M318 44h0M323 41h0M286 61.5h0M280 57.5h0M286 63h0M330.5 20.5h0M330 24.5h0"/><path stroke="#c8c8c8" stroke-width="2.5" stroke-linecap="round" d="M143 58.5h0M111.5 90.5h0M163.5 73h0M164.5 74h0M70 69.5h0M67.5 70h0M55 55h0M55.5 56h0M53.5 57.5h0M116 181.5h0M109 196h0M159.5 195h0M298.5 101.5h0M321.5 39.5h0M284.5 58h0M284.5 58h0M330 18h0M332 19h0"/><path stroke="#e8e8e8" stroke-width="1" stroke-linecap="round" d="M285.5 105h0M295 104h0M301.5 100h0M42.5 89h0M59 79h0M55.5 89.5h0M52.5 91.5h0M53.5 87.5h0M110 184.5h0M119.5 181h0M68.5 237.5h0M59 240h0"/><path stroke="#e8e8e8" stroke-width="1.5" stroke-linecap="round" d="M297.5 107h0M295 104h0M295.5 104.5h0M295 101.5h0M290 105.5h0M295.5 117h0M286 102.5h0M55.5 89.5h0M45.5 89.5h0M53 87.5h0M65 87h0M46.5 86.5h0M112.5 180h0M58 237.5h0M63.5 237h0M57 236h0"/><path stroke="#e8e8e8" stroke-width="2" stroke-linecap="round" d="M293.5 104.5h0M297 103.5h0M50 91h0M51.5 76.5h0M55 87h0M48.5 86h0M53.5 87h0M57.5 95h0M56.5 91h0M110 183h0M108 183h0M116.5 180.5h0M109.5 181.5h0M110 176h0M119.5 185h0M57.5 239h0M59 239h0M64 236.5h0"/></g></g><rect x="6" y="2" width="389" height="261.5" filter="url(#grain)" opacity="0.5"/><rect x="6" y="2" width="389" height="261.5" filter="url(#grainw)" opacity="0.15"/></g><g clip-path="url(#clipB)"><g filter="url(#b04)"><rect x="403" y="2" width="388" height="261.5" fill="#303030"/><g filter="url(#b2)"><path d="M771,37C772,37 774,35 775,35C777,36 778,39 780,40C781,41 783,41 784,41M756,169C758,170 762,173 764,175C766,178 765,184 767,186C769,189 773,190 774,191M751,206C753,206 758,207 761,207C764,207 769,205 771,204C774,204 776,202 776,201M719,176C720,176 725,177 725,177C726,177 723,177 723,177C723,177 727,179 727,180M749,79C750,79 752,79 754,79C757,80 761,81 763,82C765,83 766,85 767,85M560,101C561,102 563,105 565,106C568,107 573,107 576,109C579,110 581,112 582,113M527,91C527,91 525,93 526,94C528,96 533,98 535,99C536,101 535,103 535,103M570,227C572,227 580,225 582,225C584,224 580,224 582,223C583,221 588,219 590,218M697,208C699,209 702,212 704,214C706,215 710,216 712,217C713,219 714,221 715,222M773,92C774,92 776,91 777,92C778,93 779,95 780,96C781,97 782,97 782,98M524,185C525,186 532,192 535,193C538,195 539,193 541,194C543,196 548,200 549,201M576,70C577,69 578,68 580,67C582,66 586,65 588,65C590,65 592,66 592,66M634,7C634,8 635,12 636,14C637,15 637,15 638,16C639,18 643,22 644,23M732,214C733,215 737,218 739,218C740,218 741,215 741,215C742,216 740,221 739,222M600,42C600,44 600,49 600,51C600,53 597,53 599,54C600,55 607,59 609,60M546,175C547,175 549,175 550,175C550,174 548,173 550,173C552,173 560,175 561,175M729,157C730,157 733,158 734,158C736,159 736,160 738,161C740,162 746,163 748,164M759,230C760,232 760,240 763,242C765,244 770,241 772,241C774,241 775,244 776,245M650,84C650,85 651,86 653,87C654,87 657,89 659,89C661,89 663,89 664,89M582,104C582,104 580,106 582,108C583,109 589,110 592,112C595,113 598,116 599,117M599,57C599,57 600,61 601,62C602,63 603,61 604,62C606,62 609,62 610,62M423,90C423,90 422,91 424,92C426,92 433,92 436,92C438,91 439,88 440,88M540,70C540,71 542,75 543,76C544,77 546,75 547,76C547,77 545,83 545,84M622,73C623,74 625,80 627,82C628,83 630,81 631,82C632,83 632,87 633,88M612,211C613,212 619,213 620,214C621,215 618,217 618,218C618,219 622,221 622,222M697,94C699,95 704,98 707,99C710,100 714,100 717,100C720,101 724,102 725,103M692,32C694,32 700,32 702,33C705,34 705,38 707,39C709,40 714,40 716,40M763,135C763,135 763,134 765,135C766,135 771,136 772,137C774,137 774,138 774,138M570,180C570,180 572,182 574,183C576,184 580,186 582,187C583,189 585,191 585,192M521,116C523,116 526,114 529,114C531,114 533,116 536,117C539,118 546,119 548,120M746,135C749,135 759,136 762,137C765,137 763,136 766,136C768,136 775,136 777,136M543,78C544,78 547,81 550,81C553,81 559,78 561,78C563,78 563,79 563,79M577,42C576,42 574,43 575,43C575,43 579,44 580,45C581,46 581,48 581,48M579,57C579,57 582,57 584,58C586,58 588,58 589,59C591,60 594,63 595,64M704,136C706,137 712,139 714,140C717,141 716,141 718,142C721,143 729,145 731,145M534,105C535,106 539,106 540,108C540,109 538,112 538,113C539,114 543,115 544,116M442,76C443,76 445,80 447,80C449,80 451,76 454,77C456,77 459,81 460,82M454,58C455,59 460,64 462,66C464,68 465,69 466,71C468,73 471,78 471,80M391,181C393,183 398,188 401,189C404,191 406,191 409,192C411,193 414,196 415,197M416,139C417,140 421,143 422,143C424,144 423,143 424,143C425,143 429,145 430,145M619,6C621,6 625,6 627,7C629,8 628,11 630,12C631,13 635,14 636,14M493,205C494,204 498,199 500,199C501,199 500,204 500,204C501,205 504,204 504,204M496,196C497,197 497,200 499,201C502,202 508,203 511,204C515,206 518,208 519,208M782,207C783,207 784,209 786,209C787,209 789,207 791,206C793,206 797,205 798,205M526,129C527,129 532,127 535,127C537,128 539,131 541,131C544,131 548,128 550,127M560,198C561,199 565,200 566,200C567,201 565,201 567,202C569,202 575,203 577,204M689,180C690,181 694,186 695,189C695,191 694,192 695,194C696,197 700,201 701,203M483,136C483,135 484,132 485,132C485,133 486,135 488,137C489,140 492,144 493,145M444,17C445,18 447,21 449,23C451,25 454,27 455,28C456,29 457,29 457,29M591,145C593,145 597,145 599,145C601,145 601,146 604,146C606,146 612,146 613,146M484,93C485,93 488,93 489,93C491,94 490,93 491,94C492,95 495,98 496,99M547,136C548,136 550,138 553,139C556,139 561,137 564,138C567,139 571,142 572,143M592,198C592,198 594,199 596,199C597,199 598,197 600,196C603,195 607,193 608,192M715,145C716,146 719,151 721,153C723,155 726,154 727,156C728,158 726,163 726,164M430,153C431,152 434,149 436,148C438,147 439,149 442,149C445,149 452,146 453,146M691,187C692,187 696,186 699,186C702,186 707,185 710,185C712,185 715,185 715,185M563,42C563,42 563,42 565,43C567,43 571,43 573,45C575,47 577,54 577,56M460,128C461,128 465,127 466,127C468,127 468,127 469,127C470,127 471,125 471,125M719,25C720,26 724,30 725,31C727,32 727,31 728,31C728,32 728,32 728,32M503,134C505,134 510,134 514,135C517,135 520,137 523,138C526,138 529,137 530,137M540,168C541,168 548,168 550,169C553,169 553,170 555,170C556,171 558,171 558,171M732,218C733,218 739,219 740,219C742,220 739,221 740,222C740,222 743,223 743,223M778,259C779,260 783,264 784,264C786,264 784,260 785,260C786,260 790,264 791,265M697,35C696,37 695,41 695,44C695,46 696,48 697,50C697,52 698,54 698,55M651,121C653,121 663,122 666,123C669,124 667,126 669,127C672,128 678,130 679,131M425,73C426,71 428,65 429,65C431,64 432,69 433,68C435,67 436,60 436,59M718,239C720,240 727,241 730,242C733,244 733,246 736,248C739,250 746,253 747,254M410,13C411,12 413,9 416,8C419,7 427,7 430,7C433,7 434,7 435,7M585,85C586,86 589,86 590,87C591,88 591,91 593,92C594,93 597,91 598,91M781,107C782,109 783,115 784,118C785,121 786,121 788,123C789,124 791,126 791,127M710,38C711,38 712,39 714,39C715,39 721,39 721,39C722,39 719,37 719,37M500,195C500,193 500,188 501,186C502,185 507,184 508,184C509,183 507,182 507,182M702,246C703,245 709,244 711,244C713,245 712,246 713,247C715,248 720,251 722,252M605,211C606,212 608,217 610,218C611,219 610,218 612,220C613,222 619,227 621,229M462,137C463,137 468,136 470,136C472,135 474,133 475,133C477,132 479,132 479,132M441,210C442,210 448,209 448,208C449,207 443,205 444,206C444,206 450,211 451,211M781,135C781,134 781,130 782,129C782,128 783,128 785,129C787,130 791,133 793,134M515,145C516,145 519,145 520,146C522,147 522,150 523,151C524,151 526,150 526,150M396,210C397,210 397,208 400,208C404,208 413,208 417,208C421,208 423,207 424,207M603,118C604,118 606,118 608,118C610,118 614,120 616,120C618,119 620,118 620,118M429,161C430,163 429,167 431,169C433,170 439,169 441,171C443,173 443,178 443,179M672,5C673,6 677,7 679,7C681,6 683,4 684,3C686,2 689,1 690,0M735,3C737,4 742,6 744,8C745,11 743,14 744,16C744,17 748,17 749,17M657,121C659,123 666,127 670,128C673,129 675,127 677,127C679,128 682,131 683,132M464,84C465,85 468,91 469,92C470,94 466,92 468,92C469,91 475,89 477,88M680,230C681,230 682,233 684,232C686,232 690,229 692,229C695,229 696,231 697,232M672,168C672,169 673,170 675,171C677,173 680,174 683,175C685,176 687,177 688,177M397,123C399,124 403,128 405,130C408,132 411,134 413,136C415,138 417,141 417,143M533,228C535,228 542,230 544,231C547,231 545,232 548,232C550,232 555,231 557,231M491,74C493,75 499,78 502,80C505,81 505,81 508,82C510,83 516,85 518,86M644,164C645,165 646,166 647,167C648,167 649,167 650,168C651,169 652,171 652,172M712,149C714,149 723,146 726,147C728,147 726,150 728,150C731,149 739,146 741,145M410,230C410,230 413,230 414,231C415,231 415,233 415,234C415,235 414,237 414,238M560,45C561,45 562,42 565,41C567,40 572,40 574,39C577,38 579,37 579,36M547,195C546,195 545,193 545,194C545,195 545,200 546,201C547,201 549,199 549,199M518,182C519,182 523,183 524,184C526,185 525,187 527,187C529,188 534,188 535,188M422,106C424,107 429,109 431,110C433,111 432,114 435,113C438,111 444,103 446,101M697,122C697,122 698,122 698,122C698,122 699,121 699,121C700,122 702,125 703,125M769,198C770,198 775,198 776,198C777,199 777,199 776,200C776,200 776,202 776,202M406,83C406,83 404,83 406,84C407,85 412,86 413,87C414,88 413,90 412,91M500,205C501,206 504,211 506,214C508,216 509,218 511,220C512,222 515,224 516,224M632,175C634,177 639,181 642,182C646,184 650,184 652,186C654,187 656,191 657,192M587,102C587,103 586,107 588,108C589,110 593,109 597,110C600,111 607,115 609,116M541,71C543,71 548,72 551,73C553,75 555,77 557,79C560,80 565,81 566,82M430,186C430,186 432,185 433,185C435,184 437,184 438,184C439,184 440,184 440,184M729,245C728,247 725,252 727,254C729,256 737,256 739,258C742,260 740,264 741,266M455,105C456,106 457,110 459,112C461,113 465,114 467,115C469,117 471,121 471,122M514,83C514,84 512,88 512,90C513,93 515,97 516,99C517,102 517,106 517,107M447,165C448,166 452,167 455,169C459,171 465,175 468,176C472,177 474,176 475,176M736,158C737,158 743,160 746,160C749,160 752,158 755,157C758,157 762,158 763,158M636,187C638,187 642,187 645,188C648,188 651,190 655,191C658,191 664,191 665,191M411,11C412,11 417,12 419,13C421,13 421,15 423,16C425,17 431,18 432,19M488,166C489,166 493,165 495,165C497,164 499,163 499,162C500,162 499,162 499,162M749,210C750,211 752,212 753,214C754,215 756,217 757,218C758,220 761,220 761,221M627,47C629,47 635,46 637,46C640,46 642,49 644,49C646,49 648,46 648,46M717,221C718,221 723,220 726,219C729,219 731,219 734,220C737,220 743,221 745,221M430,15C431,16 433,18 434,21C434,25 435,30 436,33C436,36 439,39 439,40M624,247C624,247 625,245 626,244C626,244 626,243 627,243C627,243 630,244 631,245M705,65C707,65 712,66 715,65C718,65 719,64 721,63C724,61 728,58 729,58M500,261C500,261 500,258 502,259C504,259 511,261 512,263C514,265 511,270 511,272M740,9C741,10 747,13 749,15C750,16 750,15 751,17C752,19 753,25 754,26M497,171C498,171 499,169 501,169C502,169 506,170 509,171C512,172 517,175 519,176M397,85C398,85 402,84 403,85C405,86 403,90 404,90C406,90 411,84 413,83M681,233C682,233 684,233 688,233C691,234 697,237 700,238C702,240 702,240 703,240M661,158C661,158 662,158 664,159C665,160 667,162 668,164C669,166 670,170 670,171M705,12C706,11 709,7 711,8C712,8 714,13 716,13C718,14 721,10 722,9M599,47C599,47 598,45 598,46C599,47 602,52 603,53C604,55 604,54 604,55M570,220C570,220 569,221 570,222C572,222 576,223 578,224C579,225 579,226 579,227M719,117C720,117 720,117 722,118C724,118 730,119 732,120C734,121 733,125 734,126M519,256C521,256 525,256 528,256C531,257 533,258 535,260C538,261 541,263 543,264M551,132C550,133 546,136 546,138C545,140 548,144 548,145C547,147 545,149 544,149M776,34C776,36 777,39 777,42C777,45 777,49 778,52C779,55 780,59 780,60M586,50C587,50 591,49 593,48C595,48 597,49 598,50C599,50 599,52 599,53M658,17C659,18 662,23 664,24C666,25 671,22 672,21C673,20 671,19 670,18M556,18C557,17 561,17 564,17C566,17 569,16 571,17C574,17 577,19 579,20M412,163C414,164 418,167 420,167C422,168 424,165 425,165C427,166 431,170 432,171M772,4C772,5 770,8 770,9C770,11 771,13 771,15C772,17 773,19 773,19M689,121C689,122 689,125 690,127C690,129 693,131 694,131C695,132 694,129 694,129M615,224C616,224 618,226 620,227C623,227 627,224 629,224C632,224 635,226 636,227M719,202C719,203 721,206 722,208C723,211 726,214 727,217C728,220 727,223 728,225" fill="none" stroke="#404040" stroke-width="2.5" stroke-linecap="round"/></g><g filter="url(#b08)"><path d="M697,75C698,75 700,77 702,78C703,79 705,81 706,82C707,84 708,87 708,88M439,52C441,52 444,52 446,52C449,52 451,53 452,54C454,55 457,58 458,59M427,101C429,101 432,100 434,100C436,100 438,100 440,100C443,101 446,103 447,104M427,114C428,115 431,115 432,116C433,117 434,119 435,120C435,122 436,124 436,125M713,71C714,71 718,71 720,71C721,70 723,69 724,67C726,66 727,63 727,62M756,70C756,70 758,72 760,74C761,75 763,76 765,76C767,77 769,78 770,78" fill="none" stroke="#626262" stroke-width="1" stroke-linecap="round"/><path d="M626,214C626,214 628,215 630,216C631,216 632,216 633,216C635,215 636,214 637,214M660,122C661,123 661,125 662,126C662,127 663,128 664,129C664,130 666,132 666,132M751,207C752,208 754,209 755,210C756,210 757,211 758,212C759,212 761,213 761,214M706,190C707,191 708,194 709,195C711,197 712,198 713,199C715,200 717,202 718,202M468,120C468,121 467,124 467,126C467,128 467,129 468,131C469,132 471,135 472,135M514,187C515,187 516,187 517,187C518,187 519,187 520,187C521,187 523,186 523,186M542,164C543,165 546,167 547,169C548,171 549,173 549,176C549,178 548,182 548,183" fill="none" stroke="#626262" stroke-width="1.5" stroke-linecap="round"/><path d="M465,56C466,56 469,58 471,59C473,59 475,60 477,60C479,60 483,60 484,60M620,235C621,235 624,236 626,236C628,236 630,236 632,236C634,236 637,235 638,235M674,245C674,245 675,247 677,248C678,249 679,249 680,250C681,251 683,252 684,252M413,61C414,61 418,61 420,61C422,61 424,62 426,63C428,63 430,66 431,66M488,32C488,31 490,28 491,26C493,25 494,24 496,23C498,23 502,24 503,24M651,160C651,160 653,160 655,160C656,160 657,161 658,161C660,161 661,162 662,162" fill="none" stroke="#4a4a4a" stroke-width="1.3" stroke-linecap="round"/><path d="M495,69C496,69 498,70 499,70C501,70 503,71 504,71C506,71 508,72 509,72M719,77C720,77 722,77 723,77C724,77 725,77 727,78C728,78 729,79 730,80M664,110C664,111 665,113 665,114C666,115 667,116 668,117C669,118 672,118 672,119M646,55C646,56 647,57 648,59C649,60 649,61 649,63C649,64 649,67 649,67M643,167C644,168 647,169 648,170C650,172 651,173 652,175C653,177 654,180 654,181M429,224C430,225 431,228 432,230C433,232 434,234 436,235C437,237 439,240 439,241" fill="none" stroke="#626262" stroke-width="1.6" stroke-linecap="round"/><path d="M497,184C496,185 495,189 495,191C495,193 496,195 498,196C499,198 503,199 504,200M588,15C589,14 591,13 593,12C595,12 597,12 598,12C600,12 603,12 604,13M573,52C574,52 577,53 578,54C580,55 581,56 583,57C584,59 585,61 586,62M486,41C486,41 489,41 491,41C492,41 494,41 495,40C497,40 499,39 500,39M756,204C757,204 759,203 761,203C762,203 763,204 764,205C765,206 766,209 766,209M438,92C439,92 443,92 445,92C447,93 449,93 451,95C452,96 454,100 455,101M738,5C739,5 742,5 744,6C746,6 748,7 750,7C752,8 755,9 756,10M641,187C642,188 644,189 645,190C647,190 648,191 650,192C651,192 654,193 655,193M415,53C416,53 418,53 419,53C421,53 422,53 423,53C425,53 427,52 427,52M449,243C449,243 450,246 451,247C452,248 453,248 454,248C456,249 458,248 459,248M568,182C568,181 569,178 570,176C571,175 572,174 574,173C576,173 579,173 580,173M602,118C603,118 603,116 604,114C605,113 606,112 607,111C608,110 610,108 611,108" fill="none" stroke="#4a4a4a" stroke-width="1.1" stroke-linecap="round"/><path d="M462,30C463,31 465,32 466,32C467,32 468,32 469,32C470,31 472,30 473,30M550,209C551,210 554,212 556,214C557,215 558,217 559,219C559,221 559,225 559,226M744,242C745,243 745,245 746,246C747,247 748,248 749,249C750,249 752,250 753,250M647,63C647,64 647,66 648,67C648,68 648,69 649,70C649,71 651,72 651,72M609,34C610,34 612,33 614,32C615,32 617,32 619,31C620,31 623,30 624,30M445,166C446,167 448,168 449,169C450,170 451,171 453,171C454,172 456,174 457,174" fill="none" stroke="#4a4a4a" stroke-width="1" stroke-linecap="round"/><path d="M554,10C554,10 555,11 556,12C557,13 557,13 558,14C559,14 560,15 560,15M582,162C582,162 584,163 585,163C586,163 587,164 587,164C588,164 590,165 590,165M431,166C432,166 434,167 435,168C436,169 437,170 438,172C439,173 440,175 440,176M502,141C501,142 501,145 501,147C500,149 500,151 500,153C500,155 500,158 500,159M498,112C498,112 499,115 500,117C502,118 503,120 504,121C506,122 508,124 509,124M778,106C778,107 780,107 781,107C782,108 783,109 783,109C784,110 785,111 785,112M517,142C517,143 519,143 521,144C522,144 524,145 525,145C527,146 529,146 530,146M527,207C527,207 527,209 527,210C527,211 528,212 528,213C528,214 528,215 528,216" fill="none" stroke="#565656" stroke-width="1.2" stroke-linecap="round"/><path d="M583,11C583,11 584,13 584,15C585,16 585,18 585,19C586,21 586,23 587,23M630,78C630,78 633,79 634,79C635,79 636,78 638,78C639,77 641,76 641,76M588,25C588,24 591,22 592,21C594,20 595,19 597,18C599,17 601,15 602,15M751,80C752,80 754,80 755,80C756,80 757,81 758,81C759,81 760,82 761,82M562,216C563,216 565,216 567,216C569,216 571,216 572,216C574,216 577,216 577,216M510,120C511,120 514,120 516,119C518,119 520,118 521,117C523,115 524,112 525,112M469,113C469,114 470,115 471,115C472,116 473,116 474,116C475,116 477,115 477,115M711,257C712,257 714,256 716,256C718,256 720,255 722,255C724,255 726,255 727,255M620,20C621,19 622,16 623,14C625,12 626,11 628,10C630,8 634,7 635,7M738,168C738,169 738,173 739,175C740,177 742,179 744,180C746,181 751,181 752,182" fill="none" stroke="#626262" stroke-width="1.1" stroke-linecap="round"/><path d="M752,169C753,169 756,169 757,169C759,169 761,169 763,168C764,168 767,167 768,167M628,220C628,220 629,222 629,223C630,224 630,225 631,226C631,227 632,229 632,229M733,185C734,184 735,184 736,184C737,185 738,185 739,186C739,187 740,189 740,189M590,237C591,237 593,237 594,237C596,237 597,237 599,237C600,238 602,239 603,239M771,110C772,111 775,115 778,116C780,117 782,117 784,116C786,116 790,112 791,111M724,112C724,113 726,114 727,115C727,116 728,117 729,118C729,119 730,121 731,122M623,226C623,226 624,228 625,228C626,229 627,229 628,230C629,230 630,231 631,231M546,10C547,9 549,9 551,9C552,9 553,9 555,9C556,10 558,11 559,11" fill="none" stroke="#565656" stroke-width="1.5" stroke-linecap="round"/><path d="M633,33C633,33 634,35 635,36C636,37 637,38 639,38C640,39 642,39 643,39M481,245C482,245 485,246 488,246C490,246 491,246 493,245C495,244 497,241 498,241M480,152C481,152 484,151 486,151C488,151 490,151 492,152C494,153 496,155 497,155M528,79C529,79 530,81 532,81C533,82 535,82 536,82C538,83 540,82 541,82M563,47C563,48 564,50 564,51C565,52 566,53 567,53C568,54 570,54 571,54M429,209C430,209 433,212 435,213C437,213 439,214 441,213C442,213 446,210 447,210M653,208C653,209 653,212 654,213C655,214 656,214 657,215C658,215 660,214 661,214" fill="none" stroke="#4a4a4a" stroke-width="1.5" stroke-linecap="round"/><path d="M593,204C594,203 597,202 599,200C600,199 602,197 603,196C605,194 607,192 608,191M535,135C536,134 538,133 540,133C542,132 543,131 545,130C547,130 549,128 550,128M695,91C696,91 699,91 701,91C703,91 705,91 707,91C709,91 712,90 713,90M665,47C665,48 663,51 663,53C663,55 663,57 664,58C665,59 668,61 669,62M665,132C666,132 669,133 670,133C672,133 673,133 675,133C677,133 679,133 680,132M659,34C659,34 660,35 661,36C662,37 662,38 663,39C664,40 664,42 665,42M606,180C606,181 607,183 608,185C608,187 609,188 610,190C610,191 611,194 612,195" fill="none" stroke="#565656" stroke-width="1.1" stroke-linecap="round"/><path d="M683,149C684,149 688,149 690,149C692,150 693,151 693,153C694,155 693,158 693,159M458,124C459,125 461,128 462,129C464,131 466,132 467,133C469,134 472,135 473,135M528,247C528,248 526,250 526,251C526,252 526,253 527,253C528,254 531,254 531,254M620,12C621,13 623,14 624,14C626,15 627,15 629,16C630,16 632,16 633,16M581,72C581,72 583,72 585,72C586,72 587,71 588,71C590,70 591,69 592,69M663,43C664,43 666,43 667,44C668,44 670,44 671,43C672,43 674,42 674,42M629,149C630,149 633,151 635,151C637,152 639,152 641,152C643,153 646,152 647,152M445,69C445,70 446,73 446,75C446,77 446,79 446,81C447,83 447,86 447,87M764,198C765,198 768,198 769,199C770,199 772,200 773,201C774,202 775,205 775,205M772,251C773,252 776,253 777,254C779,255 781,256 783,256C785,257 788,258 789,259M763,42C764,42 767,41 768,40C770,40 772,40 773,40C775,40 777,41 778,41" fill="none" stroke="#565656" stroke-width="1.4" stroke-linecap="round"/><path d="M629,254C630,254 632,254 634,254C635,255 637,255 638,256C639,257 641,260 641,260M689,74C690,75 690,77 691,78C692,79 692,80 693,82C694,83 695,85 695,85M425,38C426,37 428,35 430,34C432,33 434,32 436,32C438,31 441,30 442,30M781,89C782,90 784,91 786,92C787,93 788,94 789,95C790,97 792,99 792,100M756,116C757,115 758,111 760,110C761,108 763,107 765,107C767,107 771,109 772,109M728,193C728,193 730,192 731,193C733,193 734,193 735,194C735,195 737,196 737,197M577,39C577,40 579,41 580,41C581,42 582,43 583,45C583,46 584,48 584,49M525,175C526,176 529,176 531,177C533,177 534,178 536,179C537,180 539,183 540,183M551,187C552,188 554,189 556,191C557,192 559,193 560,193C562,194 564,195 565,196M720,186C721,186 724,187 726,187C728,187 730,188 732,188C733,189 736,189 737,189M631,18C632,19 635,21 636,22C638,23 640,24 642,25C644,27 647,28 648,28" fill="none" stroke="#626262" stroke-width="1.4" stroke-linecap="round"/><path d="M662,45C662,45 664,46 665,46C665,47 666,47 667,48C668,48 669,49 669,49M711,108C712,109 715,111 717,112C719,113 721,113 723,113C726,113 729,112 730,112M579,13C580,13 583,12 584,12C586,12 588,12 589,12C591,12 594,12 595,12M774,55C775,55 779,54 781,55C783,55 785,56 787,57C789,58 791,61 792,62M485,252C486,252 487,254 487,254C488,255 489,256 490,256C491,256 493,257 493,257M475,132C475,131 477,130 479,129C480,128 482,128 483,128C485,127 488,127 488,127M423,12C424,12 427,12 429,12C431,12 433,12 435,13C437,13 440,15 441,15M696,183C697,184 697,188 698,190C699,192 700,193 702,194C703,196 707,197 708,197" fill="none" stroke="#4a4a4a" stroke-width="1.2" stroke-linecap="round"/><path d="M720,181C721,181 724,182 726,182C728,183 730,184 732,185C734,186 736,188 737,188M400,104C400,104 401,106 402,107C403,108 404,109 405,109C405,110 407,112 407,112M426,44C426,44 427,47 428,48C429,50 430,51 431,51C432,52 435,52 436,53M741,95C741,95 741,97 742,98C742,99 743,100 744,100C745,101 747,100 747,100M551,227C552,228 554,228 555,229C556,230 557,230 558,231C559,232 561,233 561,234M598,206C599,206 600,209 601,210C602,211 603,212 604,212C606,213 608,213 609,213M699,115C699,116 697,120 696,122C696,124 696,126 697,128C698,130 701,133 702,134M727,112C728,112 729,113 730,113C731,113 732,114 733,114C734,114 735,115 736,115" fill="none" stroke="#626262" stroke-width="1.3" stroke-linecap="round"/><path d="M555,197C555,198 555,201 555,203C555,205 555,207 556,209C557,210 558,213 558,214M736,62C737,61 739,59 741,57C742,56 744,54 745,53C746,52 749,49 749,49M559,104C560,104 563,103 564,103C566,102 568,102 569,102C571,101 574,101 574,101M740,122C740,123 742,123 743,123C745,124 746,124 747,124C748,125 750,125 750,126M725,166C725,165 728,165 729,164C731,164 732,164 734,163C736,163 738,163 739,163M608,89C609,89 612,89 614,89C616,89 618,88 620,88C622,87 624,87 625,86" fill="none" stroke="#626262" stroke-width="1.2" stroke-linecap="round"/><path d="M589,92C590,93 593,95 595,96C597,96 599,96 602,96C604,96 607,94 608,94M523,150C523,151 523,155 523,157C524,159 525,161 526,163C528,165 531,167 532,168M735,105C735,105 738,105 740,106C741,106 742,107 743,109C744,110 744,113 744,114M671,78C672,78 675,79 677,80C679,80 681,80 683,79C685,79 688,77 689,76M655,59C656,58 658,56 660,55C662,55 663,54 665,54C667,53 670,53 671,53M424,179C425,179 426,178 427,178C428,178 429,178 430,179C431,179 432,180 433,180" fill="none" stroke="#565656" stroke-width="1.6" stroke-linecap="round"/><path d="M490,221C491,220 493,219 495,218C496,216 497,215 498,214C499,212 501,210 501,209M505,198C506,198 510,198 512,199C514,200 516,202 517,204C519,206 519,210 520,211" fill="none" stroke="#565656" stroke-width="1" stroke-linecap="round"/><path d="M503,114C504,114 505,116 506,117C507,117 509,118 510,118C511,118 514,118 514,117M479,209C480,210 482,215 483,216C485,217 487,218 489,217C491,217 495,213 496,213M537,92C537,93 536,96 536,98C535,100 536,101 536,103C537,105 539,107 540,108M514,174C515,174 516,174 517,174C518,174 519,174 520,174C521,174 523,175 523,175M614,7C614,7 614,9 614,10C615,11 615,12 614,12C614,13 614,15 614,15" fill="none" stroke="#4a4a4a" stroke-width="1.4" stroke-linecap="round"/><path d="M662,182C663,183 665,186 666,187C668,189 669,190 671,191C672,193 675,194 676,195M439,159C440,158 443,154 444,154C446,153 448,153 450,154C452,155 454,159 455,161M582,75C583,76 586,78 587,79C589,81 590,82 591,84C593,86 594,89 594,90M688,187C688,187 690,188 691,188C692,189 692,189 693,190C694,191 695,192 695,192M628,210C628,210 629,212 629,213C630,214 630,215 631,216C632,217 633,218 633,219M703,20C703,20 704,21 705,21C706,22 707,22 708,23C708,24 709,25 710,25M585,237C586,237 587,238 588,239C588,239 589,240 589,241C589,242 589,244 589,244" fill="none" stroke="#565656" stroke-width="1.3" stroke-linecap="round"/><path d="M596,37C596,38 597,40 597,41C598,43 599,44 599,45C600,46 601,48 602,49M607,123C608,123 611,123 612,124C614,125 615,125 617,126C618,127 620,129 621,130M678,149C679,149 681,149 682,148C684,148 685,148 686,148C688,147 690,147 690,146" fill="none" stroke="#4a4a4a" stroke-width="1.6" stroke-linecap="round"/></g><g filter="url(#b6)"><path d="M403,100C409.2,85.5 430.5,100.8 440,105C449.5,109.2 458,115 460,125C462,135 457,155 452,165C447,175 438.2,180.5 430,185C421.8,189.5 407.5,206.2 403,192C398.5,177.8 396.8,114.5 403,100Z" fill="#202020"/></g><g filter="url(#b3)"><path d="M405,150C408.3,142.5 418.8,140 425,140C431.2,140 439.5,144.7 442,150C444.5,155.3 443.7,166.3 440,172C436.3,177.7 425.8,181.8 420,184C414.2,186.2 407.5,190.7 405,185C402.5,179.3 401.7,157.5 405,150Z" fill="#0a0a0a"/></g><g filter="url(#b1)"><path d="M403,192C405.2,191.3 411.3,189.7 416,188C420.7,186.3 426.5,184.5 431,182C435.5,179.5 439.5,177.8 443,173C446.5,168.2 449,158.8 452,153C455,147.2 457.8,142 461,138C464.2,134 467,130.7 471,129C475,127.3 480.8,127.5 485,128C489.2,128.5 494.2,131.3 496,132" fill="none" stroke="#606060" stroke-width="7" stroke-linecap="round"/><path d="M403,190C405.2,189.3 411.3,187.4 416,185.6C420.7,183.8 426.7,181.6 431,179.1C435.3,176.6 438.6,175.2 441.8,170.5C445,165.8 447.5,156.8 450.4,151.1C453.3,145.3 455.8,140.1 459,136C462.2,131.9 465.5,128.1 469.8,126.3C474.1,124.5 480.6,124.8 484.9,125.3C489.2,125.8 493.9,128.9 495.7,129.6" fill="none" stroke="#b4b4b4" stroke-width="2.6" stroke-linecap="round"/><path d="M410,195C412.5,194.2 420.3,192 425,190C429.7,188 434.3,186 438,183C441.7,180 445.5,173.8 447,172" fill="none" stroke="#8a8a8a" stroke-width="1.8" stroke-linecap="round"/><path d="M455,160C456.2,157.5 459.2,149.2 462,145C464.8,140.8 467.7,137 472,135C476.3,133 485.3,133.3 488,133" fill="none" stroke="#8a8a8a" stroke-width="1.8" stroke-linecap="round"/></g><g filter="url(#b1)"><path d="M543,262C539.7,259.7 546.7,251 550,248C553.3,245 559.7,241.7 563,244C566.3,246.3 573.3,259 570,262C566.7,265 546.3,264.3 543,262Z" fill="#8a8a8a"/><path d="M700,78C702,75.7 709,73 712,74C715,75 718.3,81 718,84C717.7,87 713,91.3 710,92C707,92.7 701.7,90.3 700,88C698.3,85.7 698,80.3 700,78Z" fill="#a0a0a0"/></g><g filter="url(#b2)"><path fill="#3e3e3e" d="M481.4 212.6a9 5 18 1 0 17.1 5.6a9 5 18 1 0 -17.1 -5.6M632 160.6a9 5 15 1 0 17.4 4.8a9 5 15 1 0 -17.4 -4.8M703.5 93.2a9 5 25 1 0 16.4 7.5a9 5 25 1 0 -16.4 -7.5M663.1 26.9a9 5 23 1 0 16.5 7.1a9 5 23 1 0 -16.5 -7.1M416.2 203.7a9 5 18 1 0 17.1 5.6a9 5 18 1 0 -17.1 -5.6M492.9 -4a9 5 23 1 0 16.6 6.9a9 5 23 1 0 -16.6 -6.9M529.7 194.4a9 5 13 1 0 17.6 3.9a9 5 13 1 0 -17.6 -3.9M573 118.1a9 5 32 1 0 15.3 9.5a9 5 32 1 0 -15.3 -9.5M407 212.2a9 5 35 1 0 14.7 10.4a9 5 35 1 0 -14.7 -10.4M512.4 160.7a9 5 29 1 0 15.7 8.9a9 5 29 1 0 -15.7 -8.9M605.9 221a9 5 22 1 0 16.7 6.6a9 5 22 1 0 -16.7 -6.6M589.1 13.3a9 5 30 1 0 15.5 9.1a9 5 30 1 0 -15.5 -9.1M616 174.2a9 5 29 1 0 15.7 8.8a9 5 29 1 0 -15.7 -8.8M758.4 225.5a9 5 31 1 0 15.5 9.2a9 5 31 1 0 -15.5 -9.2M523.7 253.2a9 5 13 1 0 17.5 4a9 5 13 1 0 -17.5 -4M777.3 142a9 5 38 1 0 14.1 11.2a9 5 38 1 0 -14.1 -11.2M721 194.8a9 5 36 1 0 14.5 10.6a9 5 36 1 0 -14.5 -10.6M668.7 182.6a9 5 45 1 0 12.6 12.8a9 5 45 1 0 -12.6 -12.8M705.1 244.6a9 5 21 1 0 16.8 6.4a9 5 21 1 0 -16.8 -6.4M580.2 182.4a9 5 46 1 0 12.5 13a9 5 46 1 0 -12.5 -13M697.9 38.4a9 5 13 1 0 17.6 3.9a9 5 13 1 0 -17.6 -3.9M497.1 266.5a9 5 -6 1 0 17.9 -1.9a9 5 -6 1 0 -17.9 1.9M456.4 211a9 5 26 1 0 16.1 8a9 5 26 1 0 -16.1 -8M565.5 101.9a9 5 23 1 0 16.6 7a9 5 23 1 0 -16.6 -7M625 19.5a9 5 13 1 0 17.5 4.2a9 5 13 1 0 -17.5 -4.2M448.3 40.7a9 5 11 1 0 17.7 3.4a9 5 11 1 0 -17.7 -3.4M561.2 201a9 5 17 1 0 17.3 5.1a9 5 17 1 0 -17.3 -5.1M591 87.7a9 5 20 1 0 16.9 6.1a9 5 20 1 0 -16.9 -6.1M615.4 148.1a9 5 38 1 0 14.3 11a9 5 38 1 0 -14.3 -11M767.1 179.1a9 5 18 1 0 17.1 5.7a9 5 18 1 0 -17.1 -5.7M455.7 231.5a9 5 21 1 0 16.8 6.5a9 5 21 1 0 -16.8 -6.5M635.6 52a9 5 7 1 0 17.8 2.3a9 5 7 1 0 -17.8 -2.3M580.9 44a9 5 13 1 0 17.5 4.2a9 5 13 1 0 -17.5 -4.2M469 206.3a9 5 19 1 0 17 5.8a9 5 19 1 0 -17 -5.8M710.7 35.6a9 5 24 1 0 16.4 7.4a9 5 24 1 0 -16.4 -7.4M620.5 214.6a9 5 25 1 0 16.3 7.7a9 5 25 1 0 -16.3 -7.7M638.8 19a9 5 16 1 0 17.3 5a9 5 16 1 0 -17.3 -5M614.7 249.5a9 5 32 1 0 15.2 9.6a9 5 32 1 0 -15.2 -9.6M620.8 65.7a9 5 33 1 0 15.2 9.7a9 5 33 1 0 -15.2 -9.7M707.7 257a9 5 22 1 0 16.7 6.7a9 5 22 1 0 -16.7 -6.7M460.4 260.6a9 5 48 1 0 12 13.4a9 5 48 1 0 -12 -13.4M786.9 73.9a9 5 26 1 0 16.2 7.9a9 5 26 1 0 -16.2 -7.9M409 54.7a9 5 2 1 0 18 0.6a9 5 2 1 0 -18 -0.6M742.1 209a9 5 22 1 0 16.7 6.6a9 5 22 1 0 -16.7 -6.6M516 123.4a9 5 15 1 0 17.3 4.8a9 5 15 1 0 -17.3 -4.8M679.1 144.1a9 5 18 1 0 17.1 5.6a9 5 18 1 0 -17.1 -5.6M484.8 92.6a9 5 7 1 0 17.9 2.2a9 5 7 1 0 -17.9 -2.2M768.6 110.3a9 5 9 1 0 17.8 2.8a9 5 9 1 0 -17.8 -2.8M443.5 253.3a9 5 32 1 0 15.3 9.6a9 5 32 1 0 -15.3 -9.6M644.2 245.9a9 5 51 1 0 11.4 14a9 5 51 1 0 -11.4 -14M580 251.5a9 5 19 1 0 17 5.8a9 5 19 1 0 -17 -5.8M656.2 181.4a9 5 29 1 0 15.8 8.7a9 5 29 1 0 -15.8 -8.7M571.1 154.8a9 5 24 1 0 16.5 7.3a9 5 24 1 0 -16.5 -7.3M663 39.5a9 5 29 1 0 15.7 8.8a9 5 29 1 0 -15.7 -8.8M562.1 163.7a9 5 29 1 0 15.8 8.7a9 5 29 1 0 -15.8 -8.7M590 184.1a9 5 4 1 0 18 1.2a9 5 4 1 0 -18 -1.2M673.3 97.7a9 5 29 1 0 15.7 8.8a9 5 29 1 0 -15.7 -8.8M648.2 66.3a9 5 4 1 0 18 1.3a9 5 4 1 0 -18 -1.3M412.4 189.2a9 5 23 1 0 16.6 7a9 5 23 1 0 -16.6 -7M746.4 3.4a9 5 39 1 0 14 11.3a9 5 39 1 0 -14 -11.3M664.3 227.7a9 5 26 1 0 16.2 7.9a9 5 26 1 0 -16.2 -7.9M559 222.1a9 5 6 1 0 17.9 2a9 5 6 1 0 -17.9 -2M644.1 149.6a9 5 37 1 0 14.4 10.9a9 5 37 1 0 -14.4 -10.9M657.4 144.2a9 5 25 1 0 16.3 7.6a9 5 25 1 0 -16.3 -7.6M691.4 91.2a9 5 28 1 0 15.9 8.5a9 5 28 1 0 -15.9 -8.5M461.1 253.8a9 5 19 1 0 17 6a9 5 19 1 0 -17 -6M392.1 170.3a9 5 28 1 0 15.9 8.4a9 5 28 1 0 -15.9 -8.4M415.2 88.2a9 5 24 1 0 16.5 7.2a9 5 24 1 0 -16.5 -7.2M431.8 259.9a9 5 16 1 0 17.3 4.8a9 5 16 1 0 -17.3 -4.8M572.6 166.7a9 5 36 1 0 14.5 10.6a9 5 36 1 0 -14.5 -10.6M640.3 107.1a9 5 24 1 0 16.5 7.2a9 5 24 1 0 -16.5 -7.2M726.1 17.3a9 5 29 1 0 15.8 8.6a9 5 29 1 0 -15.8 -8.6M444.5 214.3a9 5 -1 1 0 18 -0.3a9 5 -1 1 0 -18 0.3M681.1 39.4a9 5 29 1 0 15.7 8.8a9 5 29 1 0 -15.7 -8.8M410.4 15.2a9 5 24 1 0 16.5 7.3a9 5 24 1 0 -16.5 -7.3M706.8 209.1a9 5 22 1 0 16.6 6.9a9 5 22 1 0 -16.6 -6.9M432.9 222.6a9 5 23 1 0 16.5 7.1a9 5 23 1 0 -16.5 -7.1M557.4 47a9 5 34 1 0 15 10a9 5 34 1 0 -15 -10M481.1 226.3a9 5 10 1 0 17.7 3.1a9 5 10 1 0 -17.7 -3.1M597.4 61.1a9 5 20 1 0 16.9 6.1a9 5 20 1 0 -16.9 -6.1M504.9 6.6a9 5 27 1 0 16 8.1a9 5 27 1 0 -16 -8.1M471.3 179a9 5 31 1 0 15.4 9.3a9 5 31 1 0 -15.4 -9.3M700 139.4a9 5 48 1 0 12.1 13.3a9 5 48 1 0 -12.1 -13.3M567 15.8a9 5 29 1 0 15.8 8.6a9 5 29 1 0 -15.8 -8.6M457.7 191.5a9 5 14 1 0 17.5 4.3a9 5 14 1 0 -17.5 -4.3M577.2 108.6a9 5 36 1 0 14.6 10.5a9 5 36 1 0 -14.6 -10.5M687.8 70a9 5 26 1 0 16.1 8a9 5 26 1 0 -16.1 -8M703.1 114.1a9 5 10 1 0 17.7 3.3a9 5 10 1 0 -17.7 -3.3M647.8 4.3a9 5 31 1 0 15.4 9.4a9 5 31 1 0 -15.4 -9.4M625.8 43.6a9 5 33 1 0 15 9.9a9 5 33 1 0 -15 -9.9M478.2 21.7a9 5 28 1 0 15.9 8.4a9 5 28 1 0 -15.9 -8.4M522.2 135.8a9 5 30 1 0 15.6 9.1a9 5 30 1 0 -15.6 -9.1M610.2 56.1a9 5 38 1 0 14.3 11a9 5 38 1 0 -14.3 -11M553.9 98.4a9 5 24 1 0 16.5 7.2a9 5 24 1 0 -16.5 -7.2M498.1 174.9a9 5 28 1 0 15.9 8.4a9 5 28 1 0 -15.9 -8.4M641 130.3a9 5 14 1 0 17.5 4.3a9 5 14 1 0 -17.5 -4.3M734.2 157.3a9 5 24 1 0 16.5 7.3a9 5 24 1 0 -16.5 -7.3M553 64.3a9 5 27 1 0 16.1 8.1a9 5 27 1 0 -16.1 -8.1M399 109.6a9 5 22 1 0 16.7 6.8a9 5 22 1 0 -16.7 -6.8M746 84.3a9 5 30 1 0 15.7 8.9a9 5 30 1 0 -15.7 -8.9M398.6 198.5a9 5 43 1 0 13.2 12.2a9 5 43 1 0 -13.2 -12.2M542.4 254.3a9 5 41 1 0 13.7 11.7a9 5 41 1 0 -13.7 -11.7M449.7 17.4a9 5 12 1 0 17.6 3.7a9 5 12 1 0 -17.6 -3.7M565.6 263a9 5 20 1 0 16.9 6.1a9 5 20 1 0 -16.9 -6.1M611.5 198.6a9 5 34 1 0 15 10a9 5 34 1 0 -15 -10M708.7 161a9 5 46 1 0 12.5 12.9a9 5 46 1 0 -12.5 -12.9M555.3 207.8a9 5 25 1 0 16.3 7.6a9 5 25 1 0 -16.3 -7.6M737.8 108.7a9 5 30 1 0 15.6 9a9 5 30 1 0 -15.6 -9M689.7 12.7a9 5 43 1 0 13.1 12.3a9 5 43 1 0 -13.1 -12.3M766.2 148a9 5 52 1 0 11.1 14.2a9 5 52 1 0 -11.1 -14.2M646.4 236.8a9 5 16 1 0 17.3 4.8a9 5 16 1 0 -17.3 -4.8M613.6 73.6a9 5 29 1 0 15.7 8.8a9 5 29 1 0 -15.7 -8.8M594.7 220.4a9 5 41 1 0 13.5 11.9a9 5 41 1 0 -13.5 -11.9M629.6 6.5a9 5 20 1 0 16.9 6.3a9 5 20 1 0 -16.9 -6.3M434.5 66a9 5 20 1 0 16.9 6.3a9 5 20 1 0 -16.9 -6.3M508 97.4a9 5 31 1 0 15.4 9.3a9 5 31 1 0 -15.4 -9.3M536.8 246.5a9 5 37 1 0 14.4 10.7a9 5 37 1 0 -14.4 -10.7M552.5 151.9a9 5 31 1 0 15.4 9.4a9 5 31 1 0 -15.4 -9.4M716.1 160.9a9 5 18 1 0 17.1 5.6a9 5 18 1 0 -17.1 -5.6M493.7 243.1a9 5 13 1 0 17.6 4a9 5 13 1 0 -17.6 -4M411.4 113.1a9 5 26 1 0 16.2 7.8a9 5 26 1 0 -16.2 -7.8M689.8 125.2a9 5 13 1 0 17.5 4a9 5 13 1 0 -17.5 -4M759.7 250.3a9 5 50 1 0 11.6 13.8a9 5 50 1 0 -11.6 -13.8M690.9 228.5a9 5 37 1 0 14.4 10.8a9 5 37 1 0 -14.4 -10.8M726.6 40a9 5 26 1 0 16.1 8a9 5 26 1 0 -16.1 -8M596 156.6a9 5 32 1 0 15.3 9.5a9 5 32 1 0 -15.3 -9.5M766.5 189.6a9 5 14 1 0 17.4 4.5a9 5 14 1 0 -17.4 -4.5M695.1 240.4a9 5 53 1 0 10.9 14.4a9 5 53 1 0 -10.9 -14.4M568.6 28.5a9 5 35 1 0 14.7 10.3a9 5 35 1 0 -14.7 -10.3M693.7 259.2a9 5 17 1 0 17.2 5.3a9 5 17 1 0 -17.2 -5.3M785.5 150.6a9 5 26 1 0 16.2 7.9a9 5 26 1 0 -16.2 -7.9M574.7 209.4a9 5 15 1 0 17.4 4.5a9 5 15 1 0 -17.4 -4.5M414.4 74.2a9 5 23 1 0 16.6 7.1a9 5 23 1 0 -16.6 -7.1M683.5 192.3a9 5 21 1 0 16.8 6.4a9 5 21 1 0 -16.8 -6.4M629.1 124.9a9 5 5 1 0 17.9 1.6a9 5 5 1 0 -17.9 -1.6M732.7 147.2a9 5 27 1 0 16.1 8.1a9 5 27 1 0 -16.1 -8.1M751.1 115.5a9 5 25 1 0 16.3 7.6a9 5 25 1 0 -16.3 -7.6M670.9 157.8a9 5 14 1 0 17.4 4.5a9 5 14 1 0 -17.4 -4.5M516.8 74a9 5 31 1 0 15.4 9.4a9 5 31 1 0 -15.4 -9.4M693.2 -1.6a9 5 33 1 0 15.1 9.8a9 5 33 1 0 -15.1 -9.8M587.4 117.9a9 5 24 1 0 16.4 7.4a9 5 24 1 0 -16.4 -7.4M604.6 98.6a9 5 17 1 0 17.2 5.4a9 5 17 1 0 -17.2 -5.4M654.6 109.3a9 5 20 1 0 16.9 6.3a9 5 20 1 0 -16.9 -6.3M423.4 195.4a9 5 27 1 0 16.1 8.1a9 5 27 1 0 -16.1 -8.1M535.1 6.6a9 5 31 1 0 15.5 9.2a9 5 31 1 0 -15.5 -9.2M472.3 49.4a9 5 42 1 0 13.4 12a9 5 42 1 0 -13.4 -12M722.2 85a9 5 17 1 0 17.2 5.2a9 5 17 1 0 -17.2 -5.2M408.4 79.1a9 5 37 1 0 14.4 10.9a9 5 37 1 0 -14.4 -10.9M783.7 251.2a9 5 25 1 0 16.3 7.6a9 5 25 1 0 -16.3 -7.6M598.9 80a9 5 25 1 0 16.3 7.6a9 5 25 1 0 -16.3 -7.6M632.8 245.4a9 5 37 1 0 14.5 10.7a9 5 37 1 0 -14.5 -10.7M576.4 86.8a9 5 28 1 0 15.8 8.6a9 5 28 1 0 -15.8 -8.6M718.2 226.1a9 5 11 1 0 17.7 3.5a9 5 11 1 0 -17.7 -3.5M657.7 133.9a9 5 14 1 0 17.5 4.4a9 5 14 1 0 -17.5 -4.4M702.9 186.6a9 5 32 1 0 15.3 9.5a9 5 32 1 0 -15.3 -9.5M504.3 203.3a9 5 16 1 0 17.3 4.9a9 5 16 1 0 -17.3 -4.9M556 26.4a9 5 34 1 0 15 10a9 5 34 1 0 -15 -10M562.8 85.5a9 5 31 1 0 15.5 9.2a9 5 31 1 0 -15.5 -9.2M679.4 254.1a9 5 13 1 0 17.5 4.1a9 5 13 1 0 -17.5 -4.1M570.5 249.2a9 5 36 1 0 14.6 10.5a9 5 36 1 0 -14.6 -10.5M735.6 192.3a9 5 22 1 0 16.7 6.6a9 5 22 1 0 -16.7 -6.6M501.2 109a9 5 21 1 0 16.8 6.4a9 5 21 1 0 -16.8 -6.4M738.4 49a9 5 13 1 0 17.5 4.2a9 5 13 1 0 -17.5 -4.2M440.7 101.7a9 5 42 1 0 13.4 12a9 5 42 1 0 -13.4 -12M494 143.2a9 5 23 1 0 16.6 7a9 5 23 1 0 -16.6 -7M712.8 101.2a9 5 43 1 0 13.1 12.4a9 5 43 1 0 -13.1 -12.4M636.7 235.8a9 5 30 1 0 15.6 9a9 5 30 1 0 -15.6 -9M397.1 222.1a9 5 18 1 0 17.1 5.5a9 5 18 1 0 -17.1 -5.5M502.9 132.1a9 5 28 1 0 15.9 8.5a9 5 28 1 0 -15.9 -8.5M396.1 152.7a9 5 26 1 0 16.1 8a9 5 26 1 0 -16.1 -8M600.6 244.9a9 5 31 1 0 15.4 9.3a9 5 31 1 0 -15.4 -9.3M430.6 49.6a9 5 25 1 0 16.2 7.7a9 5 25 1 0 -16.2 -7.7M652.3 83a9 5 22 1 0 16.7 6.7a9 5 22 1 0 -16.7 -6.7M393.2 78.3a9 5 34 1 0 14.8 10.2a9 5 34 1 0 -14.8 -10.2M434.3 20.1a9 5 18 1 0 17.1 5.5a9 5 18 1 0 -17.1 -5.5M576.8 21.7a9 5 34 1 0 14.9 10.1a9 5 34 1 0 -14.9 -10.1M517.5 212.5a9 5 37 1 0 14.3 10.9a9 5 37 1 0 -14.3 -10.9M503.4 244.9a9 5 23 1 0 16.5 7.2a9 5 23 1 0 -16.5 -7.2M780.3 -2.7a9 5 37 1 0 14.5 10.7a9 5 37 1 0 -14.5 -10.7M494.2 221a9 5 16 1 0 17.3 5.1a9 5 16 1 0 -17.3 -5.1M519.7 149.7a9 5 35 1 0 14.8 10.3a9 5 35 1 0 -14.8 -10.3M746.1 242.1a9 5 26 1 0 16.2 7.8a9 5 26 1 0 -16.2 -7.8M578.5 77.2a9 5 18 1 0 17.1 5.5a9 5 18 1 0 -17.1 -5.5M398.5 186.4a9 5 26 1 0 16.2 7.9a9 5 26 1 0 -16.2 -7.9M396 138.2a9 5 36 1 0 14.5 10.6a9 5 36 1 0 -14.5 -10.6M729.4 179a9 5 11 1 0 17.7 3.5a9 5 11 1 0 -17.7 -3.5M578.1 9.6a9 5 32 1 0 15.3 9.5a9 5 32 1 0 -15.3 -9.5M489.5 163.8a9 5 23 1 0 16.6 6.9a9 5 23 1 0 -16.6 -6.9M479.1 11.2a9 5 31 1 0 15.5 9.2a9 5 31 1 0 -15.5 -9.2M652.4 93.9a9 5 40 1 0 13.8 11.5a9 5 40 1 0 -13.8 -11.5M758.9 219a9 5 4 1 0 18 1.3a9 5 4 1 0 -18 -1.3M583.4 130.2a9 5 20 1 0 16.9 6.2a9 5 20 1 0 -16.9 -6.2M429.8 77.8a9 5 32 1 0 15.2 9.6a9 5 32 1 0 -15.2 -9.6M777.4 74.2a9 5 29 1 0 15.8 8.6a9 5 29 1 0 -15.8 -8.6M587.7 235.3a9 5 26 1 0 16.2 7.8a9 5 26 1 0 -16.2 -7.8M439.2 85a9 5 11 1 0 17.6 3.6a9 5 11 1 0 -17.6 -3.6M733.1 99a9 5 45 1 0 12.8 12.7a9 5 45 1 0 -12.8 -12.7M472.2 153.4a9 5 38 1 0 14.2 11.1a9 5 38 1 0 -14.2 -11.1M677.7 180.6a9 5 25 1 0 16.3 7.5a9 5 25 1 0 -16.3 -7.5M625 262.1a9 5 20 1 0 16.9 6.2a9 5 20 1 0 -16.9 -6.2M707.2 5.3a9 5 34 1 0 14.9 10.1a9 5 34 1 0 -14.9 -10.1M724.2 31.9a9 5 9 1 0 17.8 2.9a9 5 9 1 0 -17.8 -2.9M493.5 188.2a9 5 29 1 0 15.8 8.7a9 5 29 1 0 -15.8 -8.7M444.2 198.3a9 5 6 1 0 17.9 1.7a9 5 6 1 0 -17.9 -1.7M530.7 127.7a9 5 18 1 0 17.1 5.6a9 5 18 1 0 -17.1 -5.6M420 -0.1a9 5 20 1 0 17 6a9 5 20 1 0 -17 -6M679.6 120.9a9 5 30 1 0 15.6 8.9a9 5 30 1 0 -15.6 -8.9M399.8 243.7a9 5 31 1 0 15.5 9.1a9 5 31 1 0 -15.5 -9.1M763.5 47.7a9 5 34 1 0 14.9 10.1a9 5 34 1 0 -14.9 -10.1M509.5 180.4a9 5 16 1 0 17.3 4.9a9 5 16 1 0 -17.3 -4.9M626.8 166.4a9 5 30 1 0 15.6 9a9 5 30 1 0 -15.6 -9M553.5 185.1a9 5 15 1 0 17.4 4.6a9 5 15 1 0 -17.4 -4.6M508.7 45.6a9 5 16 1 0 17.3 5a9 5 16 1 0 -17.3 -5M788.3 46.6a9 5 43 1 0 13.2 12.2a9 5 43 1 0 -13.2 -12.2M698.6 159.1a9 5 17 1 0 17.2 5.2a9 5 17 1 0 -17.2 -5.2M462.5 62.6a9 5 19 1 0 17 5.8a9 5 19 1 0 -17 -5.8M492.8 34.9a9 5 31 1 0 15.5 9.2a9 5 31 1 0 -15.5 -9.2M741.3 29.7a9 5 21 1 0 16.8 6.4a9 5 21 1 0 -16.8 -6.4M480.7 140.6a9 5 18 1 0 17.1 5.5a9 5 18 1 0 -17.1 -5.5M718 114.5a9 5 21 1 0 16.8 6.4a9 5 21 1 0 -16.8 -6.4M686 219.2a9 5 24 1 0 16.4 7.4a9 5 24 1 0 -16.4 -7.4M607.4 165.8a9 5 36 1 0 14.6 10.5a9 5 36 1 0 -14.6 -10.5M755.5 142.3a9 5 44 1 0 13 12.4a9 5 44 1 0 -13 -12.4M549.5 121.4a9 5 4 1 0 18 1.1a9 5 4 1 0 -18 -1.1M776.2 154.3a9 5 24 1 0 16.4 7.5a9 5 24 1 0 -16.4 -7.5M686.9 135.8a9 5 19 1 0 17 5.9a9 5 19 1 0 -17 -5.9M400.5 48.2a9 5 -7 1 0 17.9 -2.2a9 5 -7 1 0 -17.9 2.2M784.5 170.9a9 5 25 1 0 16.3 7.7a9 5 25 1 0 -16.3 -7.7M394.2 259.6a9 5 41 1 0 13.6 11.8a9 5 41 1 0 -13.6 -11.8M766 238.4a9 5 15 1 0 17.4 4.6a9 5 15 1 0 -17.4 -4.6M591.6 252.1a9 5 28 1 0 15.8 8.6a9 5 28 1 0 -15.8 -8.6M459.1 120.8a9 5 7 1 0 17.9 2.1a9 5 7 1 0 -17.9 -2.1M465.3 169.6a9 5 25 1 0 16.3 7.7a9 5 25 1 0 -16.3 -7.7M420.3 20.1a9 5 30 1 0 15.5 9.1a9 5 30 1 0 -15.5 -9.1M564.9 132.2a9 5 26 1 0 16.2 7.9a9 5 26 1 0 -16.2 -7.9M637.1 202.4a9 5 17 1 0 17.2 5.3a9 5 17 1 0 -17.2 -5.3M621.5 185.7a9 5 31 1 0 15.4 9.4a9 5 31 1 0 -15.4 -9.4M611 3.1a9 5 35 1 0 14.7 10.4a9 5 35 1 0 -14.7 -10.4M709.2 151.5a9 5 20 1 0 16.9 6.3a9 5 20 1 0 -16.9 -6.3M453 175.5a9 5 15 1 0 17.4 4.6a9 5 15 1 0 -17.4 -4.6M414.1 238.1a9 5 13 1 0 17.5 4a9 5 13 1 0 -17.5 -4M776.8 130.9a9 5 39 1 0 14.1 11.2a9 5 39 1 0 -14.1 -11.2M552.6 87.1a9 5 24 1 0 16.5 7.2a9 5 24 1 0 -16.5 -7.2M717.4 128.9a9 5 40 1 0 13.8 11.6a9 5 40 1 0 -13.8 -11.6M540.5 34.2a9 5 17 1 0 17.2 5.2a9 5 17 1 0 -17.2 -5.2M703.8 61a9 5 23 1 0 16.5 7.2a9 5 23 1 0 -16.5 -7.2M708.7 21.7a9 5 35 1 0 14.7 10.3a9 5 35 1 0 -14.7 -10.3M781.1 209.5a9 5 28 1 0 15.8 8.5a9 5 28 1 0 -15.8 -8.5M754.2 165.5a9 5 36 1 0 14.6 10.6a9 5 36 1 0 -14.6 -10.6M673.2 0.9a9 5 38 1 0 14.2 11a9 5 38 1 0 -14.2 -11M765.3 8.5a9 5 29 1 0 15.8 8.7a9 5 29 1 0 -15.8 -8.7M601.4 8.8a9 5 25 1 0 16.4 7.5a9 5 25 1 0 -16.4 -7.5M461.7 85a9 5 32 1 0 15.3 9.6a9 5 32 1 0 -15.3 -9.6M490.7 250.4a9 5 25 1 0 16.3 7.7a9 5 25 1 0 -16.3 -7.7M539.4 148.1a9 5 20 1 0 16.9 6.1a9 5 20 1 0 -16.9 -6.1M614.9 100.5a9 5 33 1 0 15.2 9.7a9 5 33 1 0 -15.2 -9.7M786.8 263.1a9 5 21 1 0 16.8 6.4a9 5 21 1 0 -16.8 -6.4M558.1 138.7a9 5 34 1 0 14.9 10.1a9 5 34 1 0 -14.9 -10.1M535.7 159.1a9 5 28 1 0 15.9 8.4a9 5 28 1 0 -15.9 -8.4M454 3.7a9 5 32 1 0 15.3 9.5a9 5 32 1 0 -15.3 -9.5M668 72.5a9 5 31 1 0 15.4 9.3a9 5 31 1 0 -15.4 -9.3M443.2 45.7a9 5 28 1 0 15.9 8.4a9 5 28 1 0 -15.9 -8.4M540.2 195.4a9 5 17 1 0 17.3 5.1a9 5 17 1 0 -17.3 -5.1M461.3 33a9 5 23 1 0 16.6 7.1a9 5 23 1 0 -16.6 -7.1M741.7 257.6a9 5 27 1 0 16.1 8.1a9 5 27 1 0 -16.1 -8.1M604.8 185.2a9 5 30 1 0 15.6 9a9 5 30 1 0 -15.6 -9M431.2 186.1a9 5 9 1 0 17.8 2.7a9 5 9 1 0 -17.8 -2.7M710.2 83.4a9 5 39 1 0 13.9 11.4a9 5 39 1 0 -13.9 -11.4M423.2 108.4a9 5 33 1 0 15.2 9.7a9 5 33 1 0 -15.2 -9.7M654 158.5a9 5 27 1 0 16.1 8.1a9 5 27 1 0 -16.1 -8.1M709.3 69.1a9 5 25 1 0 16.3 7.6a9 5 25 1 0 -16.3 -7.6M445.1 130.4a9 5 14 1 0 17.5 4.4a9 5 14 1 0 -17.5 -4.4M767.6 228.9a9 5 12 1 0 17.6 3.8a9 5 12 1 0 -17.6 -3.8M478.3 187.2a9 5 22 1 0 16.6 6.8a9 5 22 1 0 -16.6 -6.8M575.9 259.6a9 5 34 1 0 15 9.9a9 5 34 1 0 -15 -9.9M660.6 200.1a9 5 28 1 0 15.9 8.3a9 5 28 1 0 -15.9 -8.3M475.3 114a9 5 30 1 0 15.6 8.9a9 5 30 1 0 -15.6 -8.9M630 67.7a9 5 26 1 0 16.2 7.8a9 5 26 1 0 -16.2 -7.8M537.2 70.9a9 5 6 1 0 17.9 2a9 5 6 1 0 -17.9 -2M488.1 108.1a9 5 25 1 0 16.3 7.6a9 5 25 1 0 -16.3 -7.6M735.7 244.7a9 5 9 1 0 17.8 2.8a9 5 9 1 0 -17.8 -2.8M641.7 186.6a9 5 24 1 0 16.4 7.5a9 5 24 1 0 -16.4 -7.5M448.6 161.3a9 5 52 1 0 11.1 14.2a9 5 52 1 0 -11.1 -14.2M779 29.6a9 5 21 1 0 16.8 6.4a9 5 21 1 0 -16.8 -6.4M724.4 60.8a9 5 26 1 0 16.2 7.9a9 5 26 1 0 -16.2 -7.9M516.6 55.1a9 5 27 1 0 16 8.2a9 5 27 1 0 -16 -8.2M497.9 57.1a9 5 17 1 0 17.2 5.2a9 5 17 1 0 -17.2 -5.2M754.4 58.6a9 5 26 1 0 16.1 8a9 5 26 1 0 -16.1 -8M479.7 -4.2a9 5 22 1 0 16.7 6.6a9 5 22 1 0 -16.7 -6.6M480.4 74.8a9 5 31 1 0 15.5 9.2a9 5 31 1 0 -15.5 -9.2M624.7 232a9 5 13 1 0 17.6 3.9a9 5 13 1 0 -17.6 -3.9M572.1 46.8a9 5 26 1 0 16.1 8a9 5 26 1 0 -16.1 -8M495.2 65.6a9 5 28 1 0 15.8 8.6a9 5 28 1 0 -15.8 -8.6M722.1 183.1a9 5 33 1 0 15.1 9.8a9 5 33 1 0 -15.1 -9.8M674.5 87.1a9 5 28 1 0 15.9 8.4a9 5 28 1 0 -15.9 -8.4M577.3 149a9 5 15 1 0 17.4 4.7a9 5 15 1 0 -17.4 -4.7M751.4 73.9a9 5 18 1 0 17.2 5.5a9 5 18 1 0 -17.2 -5.5M476.1 233.2a9 5 23 1 0 16.5 7.1a9 5 23 1 0 -16.5 -7.1M531.7 23.3a9 5 22 1 0 16.7 6.6a9 5 22 1 0 -16.7 -6.6M514.9 3.7a9 5 31 1 0 15.4 9.2a9 5 31 1 0 -15.4 -9.2M426.6 239.6a9 5 19 1 0 17 5.9a9 5 19 1 0 -17 -5.9M531.6 35.6a9 5 30 1 0 15.6 9a9 5 30 1 0 -15.6 -9M737.7 140.2a9 5 17 1 0 17.2 5.4a9 5 17 1 0 -17.2 -5.4M509.9 253a9 5 18 1 0 17.2 5.4a9 5 18 1 0 -17.2 -5.4M723.2 125a9 5 16 1 0 17.3 5a9 5 16 1 0 -17.3 -5M714.9 175.7a9 5 19 1 0 17 6a9 5 19 1 0 -17 -6M510.7 227.4a9 5 13 1 0 17.5 4.2a9 5 13 1 0 -17.5 -4.2M717 11.2a9 5 18 1 0 17.1 5.6a9 5 18 1 0 -17.1 -5.6M611 239.9a9 5 19 1 0 17.1 5.7a9 5 19 1 0 -17.1 -5.7M398.3 14.9a9 5 22 1 0 16.6 6.9a9 5 22 1 0 -16.6 -6.9M670.4 131.6a9 5 33 1 0 15.1 9.8a9 5 33 1 0 -15.1 -9.8M769.2 86.7a9 5 34 1 0 15 10a9 5 34 1 0 -15 -10M532.6 182.6a9 5 28 1 0 15.9 8.5a9 5 28 1 0 -15.9 -8.5M786.4 225.2a9 5 24 1 0 16.5 7.3a9 5 24 1 0 -16.5 -7.3M725.9 70.8a9 5 36 1 0 14.6 10.6a9 5 36 1 0 -14.6 -10.6M539.4 136.9a9 5 23 1 0 16.6 6.9a9 5 23 1 0 -16.6 -6.9M485.5 41.8a9 5 36 1 0 14.6 10.6a9 5 36 1 0 -14.6 -10.6M603.3 44.3a9 5 32 1 0 15.3 9.4a9 5 32 1 0 -15.3 -9.4M693.9 26.7a9 5 46 1 0 12.5 12.9a9 5 46 1 0 -12.5 -12.9M456.5 132.1a9 5 12 1 0 17.6 3.7a9 5 12 1 0 -17.6 -3.7M782.4 60.1a9 5 30 1 0 15.6 9a9 5 30 1 0 -15.6 -9M427 91.4a9 5 35 1 0 14.7 10.4a9 5 35 1 0 -14.7 -10.4M750.9 46.6a9 5 26 1 0 16.2 7.9a9 5 26 1 0 -16.2 -7.9M420.1 248.1a9 5 21 1 0 16.8 6.5a9 5 21 1 0 -16.8 -6.5M535.9 206.8a9 5 25 1 0 16.4 7.5a9 5 25 1 0 -16.4 -7.5M750.8 35.5a9 5 25 1 0 16.4 7.5a9 5 25 1 0 -16.4 -7.5M684.3 104.1a9 5 30 1 0 15.6 9a9 5 30 1 0 -15.6 -9M739.7 219.6a9 5 13 1 0 17.5 4.1a9 5 13 1 0 -17.5 -4.1M754 94a9 5 -6 1 0 17.9 -1.9a9 5 -6 1 0 -17.9 1.9M684.6 58.8a9 5 29 1 0 15.7 8.9a9 5 29 1 0 -15.7 -8.9"/></g><g filter="url(#b06)"><path fill="#141414" opacity="0.85" d="M705 91.7a7.4 3.1 25 1 0 13.5 6.2a7.4 3.1 25 1 0 -13.5 -6.2M494.4 -5.6a7.5 3 23 1 0 13.8 5.7a7.5 3 23 1 0 -13.8 -5.7M512.5 158.5a9.2 2.9 29 1 0 16 9a9.2 2.9 29 1 0 -16 -9M607.9 219.5a6.9 3.1 22 1 0 12.9 5.1a6.9 3.1 22 1 0 -12.9 -5.1M616.5 172.2a8.7 3.1 29 1 0 15.1 8.5a8.7 3.1 29 1 0 -15.1 -8.5M760.4 224.5a6.9 3.5 31 1 0 11.9 7.1a6.9 3.5 31 1 0 -11.9 -7.1M523.2 250.9a9.3 3.6 13 1 0 18.2 4.2a9.3 3.6 13 1 0 -18.2 -4.2M722.8 193.8a7.3 2.9 36 1 0 11.7 8.5a7.3 2.9 36 1 0 -11.7 -8.5M581.9 181.7a7.4 2.9 46 1 0 10.2 10.7a7.4 2.9 46 1 0 -10.2 -10.7M626.7 17.7a7 3.1 13 1 0 13.6 3.3a7 3.1 13 1 0 -13.6 -3.3M447.6 38.4a9.5 3 11 1 0 18.6 3.6a9.5 3 11 1 0 -18.6 -3.6M593.1 86.2a6.8 3.8 20 1 0 12.9 4.6a6.8 3.8 20 1 0 -12.9 -4.6M470.6 204.6a7.3 3.6 19 1 0 13.8 4.7a7.3 3.6 19 1 0 -13.8 -4.7M616.7 248.5a7 3.8 32 1 0 11.9 7.5a7 3.8 32 1 0 -11.9 -7.5M709.4 255.5a7.2 3.6 22 1 0 13.4 5.4a7.2 3.6 22 1 0 -13.4 -5.4M786.8 71.6a9.2 3.4 26 1 0 16.6 8.1a9.2 3.4 26 1 0 -16.6 -8.1M744.6 207.8a6.4 3.8 22 1 0 11.9 4.7a6.4 3.8 22 1 0 -11.9 -4.7M678.9 141.8a9.2 3.8 18 1 0 17.4 5.7a9.2 3.8 18 1 0 -17.4 -5.7M572.3 153.1a7.8 3.1 24 1 0 14.3 6.3a7.8 3.1 24 1 0 -14.3 -6.3M589.7 181.8a8.9 3.5 4 1 0 17.7 1.2a8.9 3.5 4 1 0 -17.7 -1.2M673.1 95.3a9.5 3.2 29 1 0 16.6 9.3a9.5 3.2 29 1 0 -16.6 -9.3M747.6 2a8 3.7 39 1 0 12.5 10.1a8 3.7 39 1 0 -12.5 -10.1M561.3 220.1a6.4 2.9 6 1 0 12.8 1.4a6.4 2.9 6 1 0 -12.8 -1.4M657.7 142.2a8.8 2.9 25 1 0 15.9 7.4a8.8 2.9 25 1 0 -15.9 -7.4M693.9 90.4a6.4 3.3 28 1 0 11.3 6a6.4 3.3 28 1 0 -11.3 -6M460.9 251.5a9.1 3 19 1 0 17.2 6.1a9.1 3 19 1 0 -17.2 -6.1M574.2 165.6a7.5 3.2 36 1 0 12.1 8.9a7.5 3.2 36 1 0 -12.1 -8.9M726.4 15.3a8.9 3 29 1 0 15.6 8.5a8.9 3 29 1 0 -15.6 -8.5M446.6 212a6.4 3.7 -1 1 0 12.7 -0.2a6.4 3.7 -1 1 0 -12.7 0.2M433.7 220.7a8.3 3.2 23 1 0 15.2 6.6a8.3 3.2 23 1 0 -15.2 -6.6M559.7 46.2a6.7 3.5 34 1 0 11.2 7.4a6.7 3.5 34 1 0 -11.2 -7.4M505.3 4.6a8.8 2.9 27 1 0 15.6 7.9a8.8 2.9 27 1 0 -15.6 -7.9M700.9 137.9a8.6 3 48 1 0 11.6 12.8a8.6 3 48 1 0 -11.6 -12.8M577.8 106.7a8.7 3.7 36 1 0 14.2 10.1a8.7 3.7 36 1 0 -14.2 -10.1M688.9 68.3a8 3.8 26 1 0 14.3 7.1a8 3.8 26 1 0 -14.3 -7.1M704.2 112.1a7.6 3.6 10 1 0 14.9 2.8a7.6 3.6 10 1 0 -14.9 -2.8M626.9 42.1a8.1 3.8 33 1 0 13.4 8.9a8.1 3.8 33 1 0 -13.4 -8.9M500.4 173.9a6.5 2.9 28 1 0 11.5 6.1a6.5 2.9 28 1 0 -11.5 -6.1M555.6 63.4a6.3 3.1 27 1 0 11.2 5.7a6.3 3.1 27 1 0 -11.2 -5.7M709.8 159.7a8.3 3.3 46 1 0 11.5 11.9a8.3 3.3 46 1 0 -11.5 -11.9M737.8 106.5a9.4 3.8 30 1 0 16.2 9.4a9.4 3.8 30 1 0 -16.2 -9.4M646.2 234.5a9.1 3.2 16 1 0 17.6 4.9a9.1 3.2 16 1 0 -17.6 -4.9M614.2 71.7a8.7 3 29 1 0 15.2 8.5a8.7 3 29 1 0 -15.2 -8.5M630.4 4.6a8.1 3.4 20 1 0 15.2 5.7a8.1 3.4 20 1 0 -15.2 -5.7M495.1 241.2a7.4 3.6 13 1 0 14.5 3.3a7.4 3.6 13 1 0 -14.5 -3.3M690.6 123.2a8 3.3 13 1 0 15.6 3.6a8 3.3 13 1 0 -15.6 -3.6M760.1 248.2a9.5 3.8 50 1 0 12.2 14.5a9.5 3.8 50 1 0 -12.2 -14.5M728.4 38.6a7.1 3.1 26 1 0 12.8 6.3a7.1 3.1 26 1 0 -12.8 -6.3M696.2 257.8a6.3 3.5 17 1 0 11.9 3.7a6.3 3.5 17 1 0 -11.9 -3.7M684.9 190.6a7.6 3.2 21 1 0 14.2 5.4a7.6 3.2 21 1 0 -14.2 -5.4M628.5 122.6a9.3 3.8 5 1 0 18.6 1.6a9.3 3.8 5 1 0 -18.6 -1.6M518.4 72.7a7.5 3.8 31 1 0 12.8 7.8a7.5 3.8 31 1 0 -12.8 -7.8M534.9 4.3a9.5 2.9 31 1 0 16.3 9.7a9.5 2.9 31 1 0 -16.3 -9.7M411 78.8a6.2 3.8 37 1 0 9.9 7.5a6.2 3.8 37 1 0 -9.9 -7.5M785.1 249.7a7.6 3.5 25 1 0 13.7 6.4a7.6 3.5 25 1 0 -13.7 -6.4M659.9 132.3a6.5 3.4 14 1 0 12.7 3.2a6.5 3.4 14 1 0 -12.7 -3.2M737.9 46.6a9.4 3.4 13 1 0 18.2 4.3a9.4 3.4 13 1 0 -18.2 -4.3M441.9 100.5a8 3.7 42 1 0 11.9 10.7a8 3.7 42 1 0 -11.9 -10.7M715.2 101a6.5 3.4 43 1 0 9.4 8.9a6.5 3.4 43 1 0 -9.4 -8.9M397.6 220a8.5 3.1 18 1 0 16.2 5.1a8.5 3.1 18 1 0 -16.2 -5.1M602.5 243.8a7.1 2.9 31 1 0 12.1 7.3a7.1 2.9 31 1 0 -12.1 -7.3M431.6 47.8a8 3 25 1 0 14.5 6.9a8 3 25 1 0 -14.5 -6.9M653.1 81.1a8.1 3 22 1 0 15.1 6.1a8.1 3 22 1 0 -15.1 -6.1M394.1 76.6a8.4 3.1 34 1 0 13.9 9.5a8.4 3.1 34 1 0 -13.9 -9.5M435 18.1a8.2 2.9 18 1 0 15.6 5a8.2 2.9 18 1 0 -15.6 -5M519.1 211.5a7.4 3.6 37 1 0 11.8 9a7.4 3.6 37 1 0 -11.8 -9M506 243.8a6.3 3.4 23 1 0 11.5 5a6.3 3.4 23 1 0 -11.5 -5M782.2 -3.6a7.1 3.2 37 1 0 11.4 8.5a7.1 3.2 37 1 0 -11.4 -8.5M747.9 240.8a7.2 3 26 1 0 12.9 6.2a7.2 3 26 1 0 -12.9 -6.2M578.2 74.9a9.3 3.2 18 1 0 17.6 5.7a9.3 3.2 18 1 0 -17.6 -5.7M399.5 184.6a8.1 3.7 26 1 0 14.5 7.1a8.1 3.7 26 1 0 -14.5 -7.1M577.9 7.2a9.6 3.6 32 1 0 16.3 10.1a9.6 3.6 32 1 0 -16.3 -10.1M491.4 162.4a7 3.2 23 1 0 12.9 5.4a7 3.2 23 1 0 -12.9 -5.4M481.8 10.6a6.1 3.8 31 1 0 10.5 6.3a6.1 3.8 31 1 0 -10.5 -6.3M653.8 92.7a7.8 3.5 40 1 0 12 10a7.8 3.5 40 1 0 -12 -10M430.2 75.8a8.8 3.7 32 1 0 14.9 9.4a8.8 3.7 32 1 0 -14.9 -9.4M777.1 71.8a9.5 2.9 29 1 0 16.7 9.1a9.5 2.9 29 1 0 -16.7 -9.1M474.9 153.2a6.1 3.4 38 1 0 9.7 7.6a6.1 3.4 38 1 0 -9.7 -7.6M627.7 260.8a6.1 3.4 20 1 0 11.5 4.2a6.1 3.4 20 1 0 -11.5 -4.2M446.5 196.2a6.4 3.7 6 1 0 12.7 1.2a6.4 3.7 6 1 0 -12.7 -1.2M532 125.9a7.5 3.3 18 1 0 14.3 4.7a7.5 3.3 18 1 0 -14.3 -4.7M421.9 -1.6a7.1 3.4 20 1 0 13.3 4.7a7.1 3.4 20 1 0 -13.3 -4.7M681.3 119.6a7.4 3.8 30 1 0 12.8 7.3a7.4 3.8 30 1 0 -12.8 -7.3M764.2 45.9a8.5 3.2 34 1 0 14.1 9.6a8.5 3.2 34 1 0 -14.1 -9.6M627.8 164.7a8.2 3.5 30 1 0 14.2 8.2a8.2 3.5 30 1 0 -14.2 -8.2M555.1 183.4a7.2 2.9 15 1 0 13.8 3.7a7.2 2.9 15 1 0 -13.8 -3.7M790.4 46.1a6.8 3.2 43 1 0 10 9.2a6.8 3.2 43 1 0 -10 -9.2M698.6 156.8a9 3.3 17 1 0 17.3 5.2a9 3.3 17 1 0 -17.3 -5.2M493 32.8a9.1 3.6 31 1 0 15.6 9.2a9.1 3.6 31 1 0 -15.6 -9.2M481.1 138.6a8.5 3.1 18 1 0 16.1 5.1a8.5 3.1 18 1 0 -16.1 -5.1M718.5 112.5a8.5 3.6 21 1 0 15.9 6a8.5 3.6 21 1 0 -15.9 -6M548.9 119.1a9.1 3.4 4 1 0 18.2 1.2a9.1 3.4 4 1 0 -18.2 -1.2M784.8 168.8a8.8 3.5 25 1 0 15.9 7.5a8.8 3.5 25 1 0 -15.9 -7.5M766.1 236.2a8.8 3.5 15 1 0 17 4.5a8.8 3.5 15 1 0 -17 -4.5M461.3 118.8a6.5 3.4 7 1 0 12.9 1.5a6.5 3.4 7 1 0 -12.9 -1.5M421.3 18.4a8.2 3 30 1 0 14.1 8.2a8.2 3 30 1 0 -14.1 -8.2M565.3 130.2a8.7 2.9 26 1 0 15.6 7.6a8.7 2.9 26 1 0 -15.6 -7.6M779.2 130.5a6.5 3.7 39 1 0 10.1 8.1a6.5 3.7 39 1 0 -10.1 -8.1M719.3 128.1a7.1 3.6 40 1 0 10.9 9.1a7.1 3.6 40 1 0 -10.9 -9.1M709.6 20a8.3 3.1 35 1 0 13.6 9.6a8.3 3.1 35 1 0 -13.6 -9.6M755.6 164.2a7.7 3.4 36 1 0 12.5 9a7.7 3.4 36 1 0 -12.5 -9M767.4 7.4a6.8 3.2 29 1 0 11.9 6.6a6.8 3.2 29 1 0 -11.9 -6.6M540.4 146.3a8 3 20 1 0 15 5.4a8 3 20 1 0 -15 -5.4M559.4 137.3a7.8 3.4 34 1 0 13 8.8a7.8 3.4 34 1 0 -13 -8.8M541.9 193.7a7.2 3 17 1 0 13.7 4.1a7.2 3 17 1 0 -13.7 -4.1M711.7 82.3a7.6 3.4 39 1 0 11.7 9.6a7.6 3.4 39 1 0 -11.7 -9.6M655.6 157.1a7.4 3.4 27 1 0 13.2 6.7a7.4 3.4 27 1 0 -13.2 -6.7M578.2 258.8a6.6 3.8 34 1 0 11 7.3a6.6 3.8 34 1 0 -11 -7.3M488 105.8a9.3 3.6 25 1 0 16.9 7.8a9.3 3.6 25 1 0 -16.9 -7.8M737.8 242.7a6.6 3.8 9 1 0 13.1 2.1a6.6 3.8 9 1 0 -13.1 -2.1M644.4 185.6a6.2 3.6 24 1 0 11.3 5.2a6.2 3.6 24 1 0 -11.3 -5.2M450.1 160.6a7.6 3.3 52 1 0 9.3 12a7.6 3.3 52 1 0 -9.3 -12M724.5 58.6a9.1 3.3 26 1 0 16.3 7.9a9.1 3.3 26 1 0 -16.3 -7.9M481 -5.9a7.6 3.6 22 1 0 14.2 5.6a7.6 3.6 22 1 0 -14.2 -5.6M482.1 73.7a7.2 3.3 31 1 0 12.4 7.4a7.2 3.3 31 1 0 -12.4 -7.4M625.7 230a7.9 3.5 13 1 0 15.3 3.4a7.9 3.5 13 1 0 -15.3 -3.4M674.7 85a8.9 3.5 28 1 0 15.8 8.3a8.9 3.5 28 1 0 -15.8 -8.3M752.5 72.1a7.7 3.7 18 1 0 14.8 4.7a7.7 3.7 18 1 0 -14.8 -4.7M534.4 22.1a6.2 3.1 22 1 0 11.5 4.6a6.2 3.1 22 1 0 -11.5 -4.6M738.9 138.4a7.7 3.6 17 1 0 14.7 4.6a7.7 3.6 17 1 0 -14.7 -4.6M512.5 251.6a6.2 3.1 18 1 0 11.8 3.7a6.2 3.1 18 1 0 -11.8 -3.7M611 237.7a9 2.9 19 1 0 17 5.7a9 2.9 19 1 0 -17 -5.7M671.1 129.8a8.6 3.6 33 1 0 14.3 9.3a8.6 3.6 33 1 0 -14.3 -9.3M770.9 85.5a7.4 3.6 34 1 0 12.3 8.2a7.4 3.6 34 1 0 -12.3 -8.2M534.3 181.2a7.4 3.5 28 1 0 13.1 7a7.4 3.5 28 1 0 -13.1 -7M728.5 70.4a6.2 3 36 1 0 10 7.3a6.2 3 36 1 0 -10 -7.3M487.9 41.4a6.4 3 36 1 0 10.4 7.5a6.4 3 36 1 0 -10.4 -7.5M696 26.4a6.8 3.8 46 1 0 9.5 9.8a6.8 3.8 46 1 0 -9.5 -9.8M456.9 130a8.3 3.1 12 1 0 16.3 3.5a8.3 3.1 12 1 0 -16.3 -3.5"/><path fill="#4e4e4e" d="M482.6 214.5a6.5 3.5 18 1 0 12.4 4.1a6.5 3.5 18 1 0 -12.4 -4.1M633.4 162.3a6.5 3.4 15 1 0 12.5 3.4a6.5 3.4 15 1 0 -12.5 -3.4M664.8 29.2a5.7 3.5 23 1 0 10.5 4.5a5.7 3.5 23 1 0 -10.5 -4.5M417.1 205.5a6.9 3.2 18 1 0 13.1 4.3a6.9 3.2 18 1 0 -13.1 -4.3M530.5 196a7.2 3.4 13 1 0 14 3.1a7.2 3.4 13 1 0 -14 -3.1M573 120a7.1 3.3 32 1 0 12.1 7.5a7.1 3.3 32 1 0 -12.1 -7.5M407.7 214.7a6.1 3.1 35 1 0 10 7.1a6.1 3.1 35 1 0 -10 -7.1M590.7 16.1a5.4 3.2 30 1 0 9.2 5.4a5.4 3.2 30 1 0 -9.2 -5.4M778.3 144.9a5.6 3.4 38 1 0 8.8 6.9a5.6 3.4 38 1 0 -8.8 -6.9M668.3 184.8a6.8 3.2 45 1 0 9.5 9.6a6.8 3.2 45 1 0 -9.5 -9.6M705.9 246.5a6.9 3.1 21 1 0 12.9 4.9a6.9 3.1 21 1 0 -12.9 -4.9M699.5 40.2a6.5 3.1 13 1 0 12.6 2.8a6.5 3.1 13 1 0 -12.6 -2.8M500.6 267.3a5.2 3 -6 1 0 10.4 -1.1a5.2 3 -6 1 0 -10.4 1.1M458.7 213.8a5 3 26 1 0 8.9 4.4a5 3 26 1 0 -8.9 -4.4M565.9 103.6a7.2 3 23 1 0 13.3 5.6a7.2 3 23 1 0 -13.3 -5.6M563.3 203a5.7 3.4 17 1 0 10.9 3.2a5.7 3.4 17 1 0 -10.9 -3.2M615.7 150.4a6.6 3.1 38 1 0 10.4 8a6.6 3.1 38 1 0 -10.4 -8M768.5 181a6.3 3.4 18 1 0 12 4a6.3 3.4 18 1 0 -12 -4M456 233.1a7.3 3.3 21 1 0 13.7 5.3a7.3 3.3 21 1 0 -13.7 -5.3M637.4 53.5a6.4 3.3 7 1 0 12.8 1.7a6.4 3.3 7 1 0 -12.8 -1.7M583.3 45.9a5.5 3.2 13 1 0 10.6 2.5a5.5 3.2 13 1 0 -10.6 -2.5M711.3 37.5a6.9 3.1 24 1 0 12.6 5.7a6.9 3.1 24 1 0 -12.6 -5.7M621.9 216.9a6 3.1 25 1 0 10.8 5.1a6 3.1 25 1 0 -10.8 -5.1M639.3 20.6a7.3 2.9 16 1 0 14.1 4a7.3 2.9 16 1 0 -14.1 -4M621.5 68a6.3 2.9 33 1 0 10.7 6.8a6.3 2.9 33 1 0 -10.7 -6.8M460.6 263.6a5.7 3 48 1 0 7.6 8.5a5.7 3 48 1 0 -7.6 -8.5M411 56a6.4 3.3 2 1 0 12.8 0.4a6.4 3.3 2 1 0 -12.8 -0.4M518.7 125.6a5.1 3.2 15 1 0 9.8 2.7a5.1 3.2 15 1 0 -9.8 -2.7M485.8 94a7.2 3.1 7 1 0 14.4 1.8a7.2 3.1 7 1 0 -14.4 -1.8M771.2 112a5.5 3.2 9 1 0 10.9 1.7a5.5 3.2 9 1 0 -10.9 -1.7M444.9 256.1a5.5 3 32 1 0 9.3 5.8a5.5 3 32 1 0 -9.3 -5.8M643.8 248.4a6.4 3.4 51 1 0 8 9.9a6.4 3.4 51 1 0 -8 -9.9M582.5 253.9a5.2 2.9 19 1 0 9.7 3.3a5.2 2.9 19 1 0 -9.7 -3.3M657.6 184a5.6 3.2 29 1 0 9.9 5.5a5.6 3.2 29 1 0 -9.9 -5.5M663.1 41.3a7.3 3.2 29 1 0 12.7 7.1a7.3 3.2 29 1 0 -12.7 -7.1M562.6 165.8a6.8 3.4 29 1 0 11.9 6.5a6.8 3.4 29 1 0 -11.9 -6.5M651.2 67.8a5.4 3 4 1 0 10.8 0.8a5.4 3 4 1 0 -10.8 -0.8M413.9 191.5a5.9 3 23 1 0 10.9 4.7a5.9 3 23 1 0 -10.9 -4.7M665.9 230.2a5.7 3.1 26 1 0 10.2 5a5.7 3.1 26 1 0 -10.2 -5M644.9 152.3a5.9 3.3 37 1 0 9.4 7.1a5.9 3.3 37 1 0 -9.4 -7.1M392.1 172a7.4 3.3 28 1 0 13 6.9a7.4 3.3 28 1 0 -13 -6.9M417 90.6a5.6 3.4 24 1 0 10.3 4.5a5.6 3.4 24 1 0 -10.3 -4.5M433.5 261.9a6.1 3.5 16 1 0 11.7 3.3a6.1 3.5 16 1 0 -11.7 -3.3M640.6 108.9a7.2 3.2 24 1 0 13.2 5.8a7.2 3.2 24 1 0 -13.2 -5.8M681.8 41.6a6.5 3 29 1 0 11.4 6.4a6.5 3 29 1 0 -11.4 -6.4M410.6 17a7.3 3.3 24 1 0 13.3 5.9a7.3 3.3 24 1 0 -13.3 -5.9M707.2 210.8a7.1 3 22 1 0 13.2 5.5a7.1 3 22 1 0 -13.2 -5.5M483.2 228a5.9 3.4 10 1 0 11.7 2.1a5.9 3.4 10 1 0 -11.7 -2.1M598.4 63a6.6 3.2 20 1 0 12.5 4.5a6.6 3.2 20 1 0 -12.5 -4.5M472.1 181.3a6.2 3.2 31 1 0 10.7 6.4a6.2 3.2 31 1 0 -10.7 -6.4M567.1 17.6a7.3 2.9 29 1 0 12.8 6.9a7.3 2.9 29 1 0 -12.8 -6.9M459.6 193.4a6.1 3 14 1 0 11.8 2.9a6.1 3 14 1 0 -11.8 -2.9M648 6.3a6.9 3.3 31 1 0 11.8 7.2a6.9 3.3 31 1 0 -11.8 -7.2M478.3 23.5a7.2 3.1 28 1 0 12.7 6.7a7.2 3.1 28 1 0 -12.7 -6.7M523.2 138.2a6.1 2.9 30 1 0 10.5 6.1a6.1 2.9 30 1 0 -10.5 -6.1M611.4 59.1a5.3 3.4 38 1 0 8.4 6.5a5.3 3.4 38 1 0 -8.4 -6.5M556.3 101a5 3.3 24 1 0 9.1 4a5 3.3 24 1 0 -9.1 -4M643.3 132.2a5.7 3.1 14 1 0 11.1 2.7a5.7 3.1 14 1 0 -11.1 -2.7M735.7 159.6a5.9 3.1 24 1 0 10.8 4.8a5.9 3.1 24 1 0 -10.8 -4.8M399.4 111.4a7.2 3.3 22 1 0 13.3 5.4a7.2 3.3 22 1 0 -13.3 -5.4M746.2 86.2a7.1 3.1 30 1 0 12.3 7a7.1 3.1 30 1 0 -12.3 -7M399.2 201.4a5.7 3.4 43 1 0 8.3 7.7a5.7 3.4 43 1 0 -8.3 -7.7M542.6 256.7a6.4 3.3 41 1 0 9.7 8.3a6.4 3.3 41 1 0 -9.7 -8.3M452.6 19.3a5.1 3.2 12 1 0 10.1 2.1a5.1 3.2 12 1 0 -10.1 -2.1M568.1 265.4a5 3.4 20 1 0 9.5 3.4a5 3.4 20 1 0 -9.5 -3.4M613.1 201.6a5.1 3.1 34 1 0 8.6 5.7a5.1 3.1 34 1 0 -8.6 -5.7M556.5 210a6.1 3.1 25 1 0 11.1 5.2a6.1 3.1 25 1 0 -11.1 -5.2M690.7 16a5.1 2.9 43 1 0 7.5 7a5.1 2.9 43 1 0 -7.5 -7M766.1 151a5.7 3 52 1 0 7 9a5.7 3 52 1 0 -7 -9M595.9 223.8a4.9 3.4 41 1 0 7.4 6.5a4.9 3.4 41 1 0 -7.4 -6.5M435.5 67.9a6.6 3.1 20 1 0 12.4 4.6a6.6 3.1 20 1 0 -12.4 -4.6M508.8 99.8a6.3 3.5 31 1 0 10.7 6.4a6.3 3.5 31 1 0 -10.7 -6.4M537.7 249.2a5.8 3.2 37 1 0 9.3 6.9a5.8 3.2 37 1 0 -9.3 -6.9M552.8 153.9a6.9 3.4 31 1 0 11.8 7.2a6.9 3.4 31 1 0 -11.8 -7.2M717.2 162.7a6.7 3.2 18 1 0 12.7 4.1a6.7 3.2 18 1 0 -12.7 -4.1M413 115.6a5.6 3.4 26 1 0 10.2 4.9a5.6 3.4 26 1 0 -10.2 -4.9M691.5 231a6.1 3.3 37 1 0 9.7 7.3a6.1 3.3 37 1 0 -9.7 -7.3M597.8 159.6a5 3 32 1 0 8.4 5.2a5 3 32 1 0 -8.4 -5.2M769.4 191.7a5 3.4 14 1 0 9.6 2.5a5 3.4 14 1 0 -9.6 -2.5M695.5 244a4.9 3.5 53 1 0 6 7.9a4.9 3.5 53 1 0 -6 -7.9M568.6 30.4a7.1 3.2 35 1 0 11.6 8.1a7.1 3.2 35 1 0 -11.6 -8.1M786.1 152.6a6.8 3.1 26 1 0 12.2 5.9a6.8 3.1 26 1 0 -12.2 -5.9M575.3 211a7.3 3 15 1 0 14 3.7a7.3 3 15 1 0 -14 -3.7M416.7 76.8a5.1 3.4 23 1 0 9.4 4a5.1 3.4 23 1 0 -9.4 -4M733.7 149.4a6.3 3.3 27 1 0 11.3 5.7a6.3 3.3 27 1 0 -11.3 -5.7M752.2 117.6a6.3 3.2 25 1 0 11.4 5.3a6.3 3.2 25 1 0 -11.4 -5.3M673.8 159.9a5 3.2 14 1 0 9.7 2.5a5 3.2 14 1 0 -9.7 -2.5M693.1 0.2a7.2 3.1 33 1 0 12.1 7.9a7.2 3.1 33 1 0 -12.1 -7.9M588 119.8a6.9 3.2 24 1 0 12.5 5.7a6.9 3.2 24 1 0 -12.5 -5.7M606.2 100.6a6.2 3.2 17 1 0 11.8 3.7a6.2 3.2 17 1 0 -11.8 -3.7M655.2 111a7.1 3.5 20 1 0 13.4 5a7.1 3.5 20 1 0 -13.4 -5M424.8 197.8a5.9 3.4 27 1 0 10.4 5.3a5.9 3.4 27 1 0 -10.4 -5.3M472.8 52.2a5.8 3 42 1 0 8.7 7.8a5.8 3 42 1 0 -8.7 -7.8M724.9 87.2a5.1 3.4 17 1 0 9.7 2.9a5.1 3.4 17 1 0 -9.7 -2.9M599.8 82.1a6.5 3.5 25 1 0 11.8 5.5a6.5 3.5 25 1 0 -11.8 -5.5M632.4 247.2a7.3 3.2 37 1 0 11.8 8.7a7.3 3.2 37 1 0 -11.8 -8.7M577.1 89a6.6 3.1 28 1 0 11.6 6.3a6.6 3.1 28 1 0 -11.6 -6.3M719.4 227.6a6.8 3.4 11 1 0 13.4 2.6a6.8 3.4 11 1 0 -13.4 -2.6M704.3 189.3a5.5 3 32 1 0 9.4 5.8a5.5 3 32 1 0 -9.4 -5.8M506.2 205.3a5.9 3 16 1 0 11.3 3.2a5.9 3 16 1 0 -11.3 -3.2M556.7 28.8a6.3 3.1 34 1 0 10.5 7a6.3 3.1 34 1 0 -10.5 -7M563.7 87.9a6.2 3.3 31 1 0 10.6 6.3a6.2 3.3 31 1 0 -10.6 -6.3M681.2 255.9a6.2 3.2 13 1 0 12 2.8a6.2 3.2 13 1 0 -12 -2.8M570.7 251.4a6.7 3.1 36 1 0 10.9 7.8a6.7 3.1 36 1 0 -10.9 -7.8M738 194.8a5.1 3.3 22 1 0 9.5 3.7a5.1 3.3 22 1 0 -9.5 -3.7M502.8 111.1a6 3.4 21 1 0 11.2 4.3a6 3.4 21 1 0 -11.2 -4.3M494.8 145.1a6.8 3 23 1 0 12.5 5.3a6.8 3 23 1 0 -12.5 -5.3M637.1 237.8a6.8 3.3 30 1 0 11.7 6.8a6.8 3.3 30 1 0 -11.7 -6.8M503.9 134.4a6.2 3.2 28 1 0 10.9 5.8a6.2 3.2 28 1 0 -10.9 -5.8M396.2 154.4a7.3 3.1 26 1 0 13.1 6.5a7.3 3.1 26 1 0 -13.1 -6.5M578.3 24.6a5.2 2.9 34 1 0 8.7 5.9a5.2 2.9 34 1 0 -8.7 -5.9M495.5 222.8a6.4 3.4 16 1 0 12.4 3.7a6.4 3.4 16 1 0 -12.4 -3.7M520.8 152.4a5.7 3.1 35 1 0 9.3 6.5a5.7 3.1 35 1 0 -9.3 -6.5M395.9 140.1a7 3.4 36 1 0 11.4 8.3a7 3.4 36 1 0 -11.4 -8.3M730.5 180.5a6.9 3.3 11 1 0 13.6 2.7a6.9 3.3 11 1 0 -13.6 -2.7M760.6 220.4a6.7 3.4 4 1 0 13.3 0.9a6.7 3.4 4 1 0 -13.3 -0.9M584.6 132.1a6.5 3.2 20 1 0 12.2 4.5a6.5 3.2 20 1 0 -12.2 -4.5M588.2 237.2a7 3.5 26 1 0 12.6 6.1a7 3.5 26 1 0 -12.6 -6.1M441.7 86.8a5.5 3.1 11 1 0 10.8 2.2a5.5 3.1 11 1 0 -10.8 -2.2M733.4 101.9a5.9 3 45 1 0 8.4 8.3a5.9 3 45 1 0 -8.4 -8.3M678.3 182.5a6.9 3.5 25 1 0 12.5 5.8a6.9 3.5 25 1 0 -12.5 -5.8M708.6 8.2a5.3 3.4 34 1 0 8.7 5.9a5.3 3.4 34 1 0 -8.7 -5.9M726.1 33.5a6.2 3.1 9 1 0 12.2 2a6.2 3.1 9 1 0 -12.2 -2M494 190.3a6.8 2.9 29 1 0 11.9 6.5a6.8 2.9 29 1 0 -11.9 -6.5M400.4 245.9a6.6 3.2 31 1 0 11.4 6.7a6.6 3.2 31 1 0 -11.4 -6.7M510.8 182.2a6.6 3.2 16 1 0 12.7 3.6a6.6 3.2 16 1 0 -12.7 -3.6M510 47.4a6.6 2.9 16 1 0 12.7 3.6a6.6 2.9 16 1 0 -12.7 -3.6M463.8 64.5a6.5 3.3 19 1 0 12.3 4.2a6.5 3.3 19 1 0 -12.3 -4.2M742.9 31.8a6.1 3.2 21 1 0 11.3 4.3a6.1 3.2 21 1 0 -11.3 -4.3M686.8 221.2a6.7 2.9 24 1 0 12.1 5.5a6.7 2.9 24 1 0 -12.1 -5.5M607.2 167.7a7.3 3.4 36 1 0 11.8 8.5a7.3 3.4 36 1 0 -11.8 -8.5M756.2 145.4a5.4 2.9 44 1 0 7.8 7.5a5.4 2.9 44 1 0 -7.8 -7.5M778.5 157a5 3.3 24 1 0 9.2 4.2a5 3.3 24 1 0 -9.2 -4.2M688.1 137.7a6.5 2.9 19 1 0 12.3 4.2a6.5 2.9 19 1 0 -12.3 -4.2M403.2 49a6 3.5 -7 1 0 11.9 -1.4a6 3.5 -7 1 0 -11.9 1.4M393.7 261.4a7.3 3 41 1 0 11 9.6a7.3 3 41 1 0 -11 -9.6M592.1 254.1a6.8 3.2 28 1 0 11.9 6.4a6.8 3.2 28 1 0 -11.9 -6.4M466.6 171.9a6 3.2 25 1 0 10.9 5.2a6 3.2 25 1 0 -10.9 -5.2M639.6 204.6a5.2 3.4 17 1 0 9.9 3a5.2 3.4 17 1 0 -9.9 -3M621.7 187.6a7.1 3 31 1 0 12 7.4a7.1 3 31 1 0 -12 -7.4M611.4 5.4a6.5 3.3 35 1 0 10.6 7.5a6.5 3.3 35 1 0 -10.6 -7.5M710.2 153.4a6.6 3.2 20 1 0 12.4 4.6a6.6 3.2 20 1 0 -12.4 -4.6M455.6 177.6a5.3 3.1 15 1 0 10.3 2.7a5.3 3.1 15 1 0 -10.3 -2.7M415.5 239.8a6.7 3.1 13 1 0 13 3a6.7 3.1 13 1 0 -13 -3M553.3 89a6.8 3.2 24 1 0 12.4 5.4a6.8 3.2 24 1 0 -12.4 -5.4M541.7 36a6.6 3.4 17 1 0 12.7 3.8a6.6 3.4 17 1 0 -12.7 -3.8M705.9 63.5a5.3 3.3 23 1 0 9.7 4.2a5.3 3.3 23 1 0 -9.7 -4.2M781.7 211.6a6.7 3.2 28 1 0 11.8 6.4a6.7 3.2 28 1 0 -11.8 -6.4M673.5 3.2a6.4 3.4 38 1 0 10.2 7.9a6.4 3.4 38 1 0 -10.2 -7.9M602.7 11a6.1 3.4 25 1 0 11.1 5.1a6.1 3.4 25 1 0 -11.1 -5.1M462.3 87.2a6.4 3.1 32 1 0 10.9 6.8a6.4 3.1 32 1 0 -10.9 -6.8M491 252.2a7.1 2.9 25 1 0 12.8 6.1a7.1 2.9 25 1 0 -12.8 -6.1M616.7 103.6a4.9 3.4 33 1 0 8.3 5.3a4.9 3.4 33 1 0 -8.3 -5.3M789.3 265.6a5 3.2 21 1 0 9.4 3.6a5 3.2 21 1 0 -9.4 -3.6M536.4 161.1a6.7 3 28 1 0 11.8 6.2a6.7 3 28 1 0 -11.8 -6.2M453.9 5.5a7.3 3.4 32 1 0 12.4 7.7a7.3 3.4 32 1 0 -12.4 -7.7M668.1 74.4a7.1 3.4 31 1 0 12.2 7.4a7.1 3.4 31 1 0 -12.2 -7.4M444.7 48.2a5.7 3.1 28 1 0 10.1 5.3a5.7 3.1 28 1 0 -10.1 -5.3M461.8 34.7a7.1 3.2 23 1 0 13.1 5.6a7.1 3.2 23 1 0 -13.1 -5.6M742.5 259.7a6.5 3.4 27 1 0 11.6 5.8a6.5 3.4 27 1 0 -11.6 -5.8M605.8 187.6a6.1 3.3 30 1 0 10.5 6.1a6.1 3.3 30 1 0 -10.5 -6.1M433.5 187.7a5.8 3.1 9 1 0 11.5 1.8a5.8 3.1 9 1 0 -11.5 -1.8M424.3 111a5.8 3 33 1 0 9.8 6.3a5.8 3 33 1 0 -9.8 -6.3M709.5 70.9a7.3 3.5 25 1 0 13.3 6.1a7.3 3.5 25 1 0 -13.3 -6.1M446.9 132.2a6.2 3.1 14 1 0 12 3a6.2 3.1 14 1 0 -12 -3M769.7 230.7a5.9 3.4 12 1 0 11.6 2.5a5.9 3.4 12 1 0 -11.6 -2.5M478.7 188.9a7.2 3 22 1 0 13.3 5.5a7.2 3 22 1 0 -13.3 -5.5M661 202a6.9 3.3 28 1 0 12.2 6.4a6.9 3.3 28 1 0 -12.2 -6.4M476.1 116.2a6.3 3.1 30 1 0 11 6.3a6.3 3.1 30 1 0 -11 -6.3M631.3 69.9a6.1 3.2 26 1 0 11 5.3a6.1 3.2 26 1 0 -11 -5.3M538.6 72.3a6.9 3 6 1 0 13.7 1.5a6.9 3 6 1 0 -13.7 -1.5M781.4 32a5.2 3.4 21 1 0 9.6 3.7a5.2 3.4 21 1 0 -9.6 -3.7M518 57.5a5.9 3.1 27 1 0 10.5 5.4a5.9 3.1 27 1 0 -10.5 -5.4M499.2 59a6.5 3.5 17 1 0 12.4 3.8a6.5 3.5 17 1 0 -12.4 -3.8M755.5 60.8a6.2 3.1 26 1 0 11.1 5.5a6.2 3.1 26 1 0 -11.1 -5.5M574 49.4a5.4 3.4 26 1 0 9.6 4.8a5.4 3.4 26 1 0 -9.6 -4.8M495.7 67.5a6.9 3.1 28 1 0 12.1 6.5a6.9 3.1 28 1 0 -12.1 -6.5M723.2 185.7a5.9 2.9 33 1 0 9.9 6.4a5.9 2.9 33 1 0 -9.9 -6.4M579.8 151.1a5.4 2.9 15 1 0 10.3 2.8a5.4 2.9 15 1 0 -10.3 -2.8M477.9 235.6a5.6 3.2 23 1 0 10.3 4.4a5.6 3.2 23 1 0 -10.3 -4.4M516.3 6.4a5.6 3.4 31 1 0 9.6 5.7a5.6 3.4 31 1 0 -9.6 -5.7M428.2 241.6a6.2 3 19 1 0 11.6 4.1a6.2 3 19 1 0 -11.6 -4.1M532.6 38.1a6 3.2 30 1 0 10.4 6a6 3.2 30 1 0 -10.4 -6M724.5 126.8a6.5 3.3 16 1 0 12.5 3.6a6.5 3.3 16 1 0 -12.5 -3.6M716.4 177.7a6.2 3 19 1 0 11.7 4.1a6.2 3 19 1 0 -11.7 -4.1M511.8 229a6.9 3.4 13 1 0 13.4 3.2a6.9 3.4 13 1 0 -13.4 -3.2M718.9 13.3a5.8 2.9 18 1 0 11 3.6a5.8 2.9 18 1 0 -11 -3.6M400.6 17.5a5.1 3.4 22 1 0 9.5 3.9a5.1 3.4 22 1 0 -9.5 -3.9M788 227.5a5.8 3.4 24 1 0 10.7 4.7a5.8 3.4 24 1 0 -10.7 -4.7M540.3 138.9a6.7 3.2 23 1 0 12.3 5.1a6.7 3.2 23 1 0 -12.3 -5.1M604.4 46.8a5.9 3.1 32 1 0 10.1 6.2a5.9 3.1 32 1 0 -10.1 -6.2M783.2 62.4a6.4 3.2 30 1 0 11 6.3a6.4 3.2 30 1 0 -11 -6.3M427.1 93.5a6.9 3.4 35 1 0 11.2 8a6.9 3.4 35 1 0 -11.2 -8M752.5 49.1a5.6 3.2 26 1 0 10 4.9a5.6 3.2 26 1 0 -10 -4.9M421.5 250.2a6.2 3.2 21 1 0 11.5 4.5a6.2 3.2 21 1 0 -11.5 -4.5M536.7 208.8a6.6 3.2 25 1 0 12.1 5.5a6.6 3.2 25 1 0 -12.1 -5.5M751.2 37.3a7.1 2.9 25 1 0 13 6a7.1 2.9 25 1 0 -13 -6M684.8 106.2a6.7 3 30 1 0 11.5 6.7a6.7 3 30 1 0 -11.5 -6.7M740.4 221.2a7.3 3 13 1 0 14.2 3.3a7.3 3 13 1 0 -14.2 -3.3M757.1 94.9a5.6 3.1 -6 1 0 11.2 -1.2a5.6 3.1 -6 1 0 -11.2 1.2M685.2 60.9a6.6 3.2 29 1 0 11.5 6.5a6.6 3.2 29 1 0 -11.5 -6.5"/><path fill="#c6c6c6" d="M705 93.3a6.8 2.5 25 1 0 12.4 5.7a6.8 2.5 25 1 0 -12.4 -5.7M494.4 -4a6.9 2.4 23 1 0 12.7 5.3a6.9 2.4 23 1 0 -12.7 -5.3M512.2 160.1a8.6 2.3 29 1 0 14.9 8.4a8.6 2.3 29 1 0 -14.9 -8.4M607.9 221.2a6.3 2.5 22 1 0 11.8 4.6a6.3 2.5 22 1 0 -11.8 -4.6M616.3 173.8a8.1 2.5 29 1 0 14.1 7.9a8.1 2.5 29 1 0 -14.1 -7.9M760.2 226.1a6.3 2.9 31 1 0 10.9 6.5a6.3 2.9 31 1 0 -10.9 -6.5M523.4 252.5a8.7 3 13 1 0 17.1 3.9a8.7 3 13 1 0 -17.1 -3.9M722.4 195.4a6.7 2.3 36 1 0 10.8 7.8a6.7 2.3 36 1 0 -10.8 -7.8M581.2 183.2a6.8 2.3 46 1 0 9.4 9.8a6.8 2.3 46 1 0 -9.4 -9.8M627 19.3a6.4 2.5 13 1 0 12.5 3a6.4 2.5 13 1 0 -12.5 -3M447.9 40a8.9 2.4 11 1 0 17.5 3.4a8.9 2.4 11 1 0 -17.5 -3.4M593.1 87.8a6.2 3.2 20 1 0 11.7 4.2a6.2 3.2 20 1 0 -11.7 -4.2M470.7 206.2a6.7 3 19 1 0 12.7 4.3a6.7 3 19 1 0 -12.7 -4.3M616.4 250a6.4 3.2 32 1 0 10.9 6.9a6.4 3.2 32 1 0 -10.9 -6.9M709.4 257.1a6.6 3 22 1 0 12.3 4.9a6.6 3 22 1 0 -12.3 -4.9M786.7 73.2a8.6 2.8 26 1 0 15.5 7.6a8.6 2.8 26 1 0 -15.5 -7.6M744.6 209.4a5.8 3.2 22 1 0 10.8 4.2a5.8 3.2 22 1 0 -10.8 -4.2M679 143.4a8.6 3.2 18 1 0 16.3 5.3a8.6 3.2 18 1 0 -16.3 -5.3M572.2 154.7a7.2 2.5 24 1 0 13.2 5.8a7.2 2.5 24 1 0 -13.2 -5.8M590.2 183.3a8.3 2.9 4 1 0 16.5 1.1a8.3 2.9 4 1 0 -16.5 -1.1M672.8 96.9a8.9 2.6 29 1 0 15.6 8.7a8.9 2.6 29 1 0 -15.6 -8.7M747.1 3.6a7.4 3.1 39 1 0 11.6 9.3a7.4 3.1 39 1 0 -11.6 -9.3M561.7 221.7a5.8 2.3 6 1 0 11.6 1.3a5.8 2.3 6 1 0 -11.6 -1.3M657.6 143.8a8.2 2.3 25 1 0 14.8 6.9a8.2 2.3 25 1 0 -14.8 -6.9M693.7 92a5.8 2.7 28 1 0 10.2 5.4a5.8 2.7 28 1 0 -10.2 -5.4M461 253.1a8.5 2.4 19 1 0 16.1 5.7a8.5 2.4 19 1 0 -16.1 -5.7M573.8 167.1a6.9 2.6 36 1 0 11.1 8.2a6.9 2.6 36 1 0 -11.1 -8.2M726.2 16.9a8.3 2.4 29 1 0 14.6 8a8.3 2.4 29 1 0 -14.6 -8M447.2 213.5a5.8 3.1 -1 1 0 11.5 -0.2a5.8 3.1 -1 1 0 -11.5 0.2M433.6 222.3a7.7 2.6 23 1 0 14.1 6.1a7.7 2.6 23 1 0 -14.1 -6.1M559.3 47.8a6.1 2.9 34 1 0 10.2 6.8a6.1 2.9 34 1 0 -10.2 -6.8M505.2 6.2a8.2 2.3 27 1 0 14.6 7.4a8.2 2.3 27 1 0 -14.6 -7.4M700.2 139.3a8 2.4 48 1 0 10.8 11.9a8 2.4 48 1 0 -10.8 -11.9M577.4 108.3a8.1 3.1 36 1 0 13.2 9.4a8.1 3.1 36 1 0 -13.2 -9.4M688.8 69.9a7.4 3.2 26 1 0 13.2 6.6a7.4 3.2 26 1 0 -13.2 -6.6M704.6 113.6a7 3 10 1 0 13.7 2.5a7 3 10 1 0 -13.7 -2.5M626.6 43.7a7.5 3.2 33 1 0 12.4 8.2a7.5 3.2 33 1 0 -12.4 -8.2M500.3 175.5a5.9 2.3 28 1 0 10.5 5.5a5.9 2.3 28 1 0 -10.5 -5.5M555.5 65a5.7 2.5 27 1 0 10.2 5.1a5.7 2.5 27 1 0 -10.2 -5.1M709.1 161.2a7.7 2.7 46 1 0 10.7 11a7.7 2.7 46 1 0 -10.7 -11M737.6 108.1a8.8 3.2 30 1 0 15.1 8.8a8.8 3.2 30 1 0 -15.1 -8.8M646.4 236.1a8.5 2.6 16 1 0 16.4 4.6a8.5 2.6 16 1 0 -16.4 -4.6M613.9 73.3a8.1 2.4 29 1 0 14.1 7.9a8.1 2.4 29 1 0 -14.1 -7.9M630.5 6.3a7.5 2.8 20 1 0 14.1 5.2a7.5 2.8 20 1 0 -14.1 -5.2M495.4 242.8a6.8 3 13 1 0 13.3 3a6.8 3 13 1 0 -13.3 -3M690.8 124.8a7.4 2.7 13 1 0 14.4 3.3a7.4 2.7 13 1 0 -14.4 -3.3M759.3 249.6a8.9 3.2 50 1 0 11.4 13.6a8.9 3.2 50 1 0 -11.4 -13.6M728.3 40.2a6.5 2.5 26 1 0 11.7 5.8a6.5 2.5 26 1 0 -11.7 -5.8M696.4 259.4a5.7 2.9 17 1 0 10.8 3.3a5.7 2.9 17 1 0 -10.8 -3.3M684.9 192.2a7 2.6 21 1 0 13.1 4.9a7 2.6 21 1 0 -13.1 -4.9M628.9 124.1a8.7 3.2 5 1 0 17.4 1.5a8.7 3.2 5 1 0 -17.4 -1.5M518.1 74.2a6.9 3.2 31 1 0 11.8 7.2a6.9 3.2 31 1 0 -11.8 -7.2M534.7 5.9a8.9 2.3 31 1 0 15.2 9.1a8.9 2.3 31 1 0 -15.2 -9.1M410.6 80.4a5.6 3.2 37 1 0 9 6.8a5.6 3.2 37 1 0 -9 -6.8M785 251.3a7 2.9 25 1 0 12.7 5.9a7 2.9 25 1 0 -12.7 -5.9M660.1 133.9a5.9 2.8 14 1 0 11.5 2.9a5.9 2.8 14 1 0 -11.5 -2.9M738.1 48.2a8.8 2.8 13 1 0 17 4a8.8 2.8 13 1 0 -17 -4M441.4 102a7.4 3.1 42 1 0 11 9.9a7.4 3.1 42 1 0 -11 -9.9M714.6 102.5a5.9 2.8 43 1 0 8.5 8a5.9 2.8 43 1 0 -8.5 -8M397.7 221.6a7.9 2.5 18 1 0 15 4.8a7.9 2.5 18 1 0 -15 -4.8M602.2 245.4a6.5 2.3 31 1 0 11.1 6.7a6.5 2.3 31 1 0 -11.1 -6.7M431.5 49.4a7.4 2.4 25 1 0 13.4 6.4a7.4 2.4 25 1 0 -13.4 -6.4M653.1 82.7a7.5 2.4 22 1 0 14 5.6a7.5 2.4 22 1 0 -14 -5.6M393.7 78.1a7.8 2.5 34 1 0 12.9 8.9a7.8 2.5 34 1 0 -12.9 -8.9M435.2 19.7a7.6 2.3 18 1 0 14.4 4.6a7.6 2.3 18 1 0 -14.4 -4.6M518.7 213.1a6.8 3 37 1 0 10.9 8.2a6.8 3 37 1 0 -10.9 -8.2M506 245.4a5.7 2.8 23 1 0 10.4 4.5a5.7 2.8 23 1 0 -10.4 -4.5M781.8 -2a6.5 2.6 37 1 0 10.5 7.7a6.5 2.6 37 1 0 -10.5 -7.7M747.8 242.4a6.6 2.4 26 1 0 11.8 5.7a6.6 2.4 26 1 0 -11.8 -5.7M578.3 76.5a8.7 2.6 18 1 0 16.5 5.3a8.7 2.6 18 1 0 -16.5 -5.3M399.4 186.2a7.5 3.1 26 1 0 13.4 6.6a7.5 3.1 26 1 0 -13.4 -6.6M577.7 8.8a9 3 32 1 0 15.3 9.5a9 3 32 1 0 -15.3 -9.5M491.4 164a6.4 2.6 23 1 0 11.8 4.9a6.4 2.6 23 1 0 -11.8 -4.9M481.5 12.2a5.5 3.2 31 1 0 9.5 5.7a5.5 3.2 31 1 0 -9.5 -5.7M653.3 94.2a7.2 2.9 40 1 0 11.1 9.2a7.2 2.9 40 1 0 -11.1 -9.2M429.9 77.4a8.2 3.1 32 1 0 13.9 8.7a8.2 3.1 32 1 0 -13.9 -8.7M776.9 73.4a8.9 2.3 29 1 0 15.7 8.6a8.9 2.3 29 1 0 -15.7 -8.6M474.5 154.7a5.5 2.8 38 1 0 8.7 6.8a5.5 2.8 38 1 0 -8.7 -6.8M627.8 262.5a5.5 2.8 20 1 0 10.4 3.8a5.5 2.8 20 1 0 -10.4 -3.8M446.9 197.8a5.8 3.1 6 1 0 11.6 1.1a5.8 3.1 6 1 0 -11.6 -1.1M532.1 127.5a6.9 2.7 18 1 0 13.1 4.3a6.9 2.7 18 1 0 -13.1 -4.3M421.9 -0a6.5 2.8 20 1 0 12.2 4.3a6.5 2.8 20 1 0 -12.2 -4.3M681.1 121.2a6.8 3.2 30 1 0 11.8 6.7a6.8 3.2 30 1 0 -11.8 -6.7M763.9 47.5a7.9 2.6 34 1 0 13.1 8.9a7.9 2.6 34 1 0 -13.1 -8.9M627.5 166.3a7.6 2.9 30 1 0 13.2 7.6a7.6 2.9 30 1 0 -13.2 -7.6M555.3 185a6.6 2.3 15 1 0 12.7 3.4a6.6 2.3 15 1 0 -12.7 -3.4M789.9 47.6a6.2 2.6 43 1 0 9.1 8.4a6.2 2.6 43 1 0 -9.1 -8.4M698.7 158.5a8.4 2.7 17 1 0 16.1 4.9a8.4 2.7 17 1 0 -16.1 -4.9M492.8 34.4a8.5 3 31 1 0 14.5 8.6a8.5 3 31 1 0 -14.5 -8.6M481.2 140.2a7.9 2.5 18 1 0 15 4.8a7.9 2.5 18 1 0 -15 -4.8M718.5 114.1a7.9 3 21 1 0 14.8 5.6a7.9 3 21 1 0 -14.8 -5.6M549.4 120.6a8.5 2.8 4 1 0 17 1.1a8.5 2.8 4 1 0 -17 -1.1M784.7 170.4a8.2 2.9 25 1 0 14.8 7a8.2 2.9 25 1 0 -14.8 -7M766.3 237.8a8.2 2.9 15 1 0 15.8 4.2a8.2 2.9 15 1 0 -15.8 -4.2M461.7 120.4a5.9 2.8 7 1 0 11.7 1.4a5.9 2.8 7 1 0 -11.7 -1.4M421.1 20a7.6 2.4 30 1 0 13.1 7.6a7.6 2.4 30 1 0 -13.1 -7.6M565.2 131.8a8.1 2.3 26 1 0 14.5 7.1a8.1 2.3 26 1 0 -14.5 -7.1M778.7 132.1a5.9 3.1 39 1 0 9.2 7.4a5.9 3.1 39 1 0 -9.2 -7.4M718.8 129.6a6.5 3 40 1 0 10 8.4a6.5 3 40 1 0 -10 -8.4M709.2 21.6a7.7 2.5 35 1 0 12.6 8.9a7.7 2.5 35 1 0 -12.6 -8.9M755.2 165.8a7.1 2.8 36 1 0 11.5 8.3a7.1 2.8 36 1 0 -11.5 -8.3M767.2 9a6.2 2.6 29 1 0 10.9 6a6.2 2.6 29 1 0 -10.9 -6M540.4 147.9a7.4 2.4 20 1 0 13.9 5a7.4 2.4 20 1 0 -13.9 -5M559.1 138.9a7.2 2.8 34 1 0 12 8.1a7.2 2.8 34 1 0 -12 -8.1M542 195.3a6.6 2.4 17 1 0 12.6 3.7a6.6 2.4 17 1 0 -12.6 -3.7M711.2 83.9a7 2.8 39 1 0 10.8 8.8a7 2.8 39 1 0 -10.8 -8.8M655.5 158.7a6.8 2.8 27 1 0 12.1 6.1a6.8 2.8 27 1 0 -12.1 -6.1M577.9 260.4a6 3.2 34 1 0 10 6.6a6 3.2 34 1 0 -10 -6.6M487.9 107.4a8.7 3 25 1 0 15.8 7.3a8.7 3 25 1 0 -15.8 -7.3M738.1 244.3a6 3.2 9 1 0 11.9 1.9a6 3.2 9 1 0 -11.9 -1.9M644.3 187.2a5.6 3 24 1 0 10.2 4.7a5.6 3 24 1 0 -10.2 -4.7M449.3 162a7 2.7 52 1 0 8.6 11a7 2.7 52 1 0 -8.6 -11M724.4 60.2a8.5 2.7 26 1 0 15.2 7.4a8.5 2.7 26 1 0 -15.2 -7.4M481 -4.3a7 3 22 1 0 13.1 5.2a7 3 22 1 0 -13.1 -5.2M481.9 75.2a6.6 2.7 31 1 0 11.4 6.8a6.6 2.7 31 1 0 -11.4 -6.8M625.9 231.6a7.3 2.9 13 1 0 14.2 3.2a7.3 2.9 13 1 0 -14.2 -3.2M674.6 86.6a8.3 2.9 28 1 0 14.7 7.8a8.3 2.9 28 1 0 -14.7 -7.8M752.7 73.7a7.1 3.1 18 1 0 13.6 4.3a7.1 3.1 18 1 0 -13.6 -4.3M534.4 23.8a5.6 2.5 22 1 0 10.3 4.1a5.6 2.5 22 1 0 -10.3 -4.1M739 140a7.1 3 17 1 0 13.5 4.2a7.1 3 17 1 0 -13.5 -4.2M512.7 253.2a5.6 2.5 18 1 0 10.7 3.4a5.6 2.5 18 1 0 -10.7 -3.4M611.1 239.3a8.4 2.3 19 1 0 15.8 5.3a8.4 2.3 19 1 0 -15.8 -5.3M670.8 131.3a8 3 33 1 0 13.3 8.7a8 3 33 1 0 -13.3 -8.7M770.5 87.1a6.8 3 34 1 0 11.3 7.5a6.8 3 34 1 0 -11.3 -7.5M534.1 182.8a6.8 2.9 28 1 0 12 6.4a6.8 2.9 28 1 0 -12 -6.4M728.1 72a5.6 2.4 36 1 0 9.1 6.6a5.6 2.4 36 1 0 -9.1 -6.6M487.5 42.9a5.8 2.4 36 1 0 9.4 6.8a5.8 2.4 36 1 0 -9.4 -6.8M695.3 27.9a6.2 3.2 46 1 0 8.7 8.9a6.2 3.2 46 1 0 -8.7 -8.9M457.2 131.6a7.7 2.5 12 1 0 15.1 3.2a7.7 2.5 12 1 0 -15.1 -3.2"/><path fill="#5e5e5e" d="M628.5 19.4a4.9 1.1 13 1 0 9.5 2.3a4.9 1.1 13 1 0 -9.5 -2.3M449.4 40.1a7.4 1 11 1 0 14.5 2.8a7.4 1 11 1 0 -14.5 -2.8M594.6 88.1a4.7 1.8 20 1 0 8.9 3.2a4.7 1.8 20 1 0 -8.9 -3.2M710.8 257.5a5.1 1.6 22 1 0 9.5 3.8a5.1 1.6 22 1 0 -9.5 -3.8M746.1 209.8a4.3 1.8 22 1 0 8 3.1a4.3 1.8 22 1 0 -8 -3.1M680.5 143.7a7.1 1.8 18 1 0 13.4 4.4a7.1 1.8 18 1 0 -13.4 -4.4M591.7 183.2a6.8 1.5 4 1 0 13.5 0.9a6.8 1.5 4 1 0 -13.5 -0.9M659 144.2a6.7 0.9 25 1 0 12.1 5.7a6.7 0.9 25 1 0 -12.1 -5.7M727.6 17.4a6.8 1 29 1 0 11.9 6.5a6.8 1 29 1 0 -11.9 -6.5M501.7 176a4.4 0.9 28 1 0 7.8 4.1a4.4 0.9 28 1 0 -7.8 -4.1M710.3 162.1a6.2 1.3 46 1 0 8.6 8.9a6.2 1.3 46 1 0 -8.6 -8.9M615.4 73.8a6.6 1 29 1 0 11.5 6.4a6.6 1 29 1 0 -11.5 -6.4M632 6.6a6 1.4 20 1 0 11.3 4.2a6 1.4 20 1 0 -11.3 -4.2M519.5 74.9a5.4 1.8 31 1 0 9.3 5.6a5.4 1.8 31 1 0 -9.3 -5.6M442.6 102.9a5.9 1.7 42 1 0 8.8 7.9a5.9 1.7 42 1 0 -8.8 -7.9M399.2 221.9a6.4 1.1 18 1 0 12.1 3.9a6.4 1.1 18 1 0 -12.1 -3.9M433 49.9a5.9 1 25 1 0 10.7 5.1a5.9 1 25 1 0 -10.7 -5.1M654.6 83.1a6 1 22 1 0 11.2 4.5a6 1 22 1 0 -11.2 -4.5M436.6 20a6.1 0.9 18 1 0 11.6 3.7a6.1 0.9 18 1 0 -11.6 -3.7M749.3 242.9a5.1 1 26 1 0 9.1 4.4a5.1 1 26 1 0 -9.1 -4.4M448.4 197.7a4.3 1.7 6 1 0 8.6 0.8a4.3 1.7 6 1 0 -8.6 -0.8M423.4 0.3a5 1.4 20 1 0 9.3 3.3a5 1.4 20 1 0 -9.3 -3.3M494.2 35a7 1.6 31 1 0 12 7.1a7 1.6 31 1 0 -12 -7.1M422.5 20.6a6.1 1 30 1 0 10.5 6.1a6.1 1 30 1 0 -10.5 -6.1M756.6 166.5a5.6 1.4 36 1 0 9.1 6.6a5.6 1.4 36 1 0 -9.1 -6.6M543.5 195.5a5.1 1 17 1 0 9.7 2.9a5.1 1 17 1 0 -9.7 -2.9M579.3 261.1a4.5 1.8 34 1 0 7.5 5a4.5 1.8 34 1 0 -7.5 -5M645.8 187.6a4.1 1.6 24 1 0 7.5 3.4a4.1 1.6 24 1 0 -7.5 -3.4M482.4 -3.9a5.5 1.6 22 1 0 10.3 4.1a5.5 1.6 22 1 0 -10.3 -4.1M483.3 75.8a5.1 1.3 31 1 0 8.8 5.3a5.1 1.3 31 1 0 -8.8 -5.3M627.5 231.7a5.8 1.5 13 1 0 11.2 2.5a5.8 1.5 13 1 0 -11.2 -2.5M676 87.1a6.8 1.5 28 1 0 12 6.4a6.8 1.5 28 1 0 -12 -6.4M535.5 183.3a5.3 1.5 28 1 0 9.4 5a5.3 1.5 28 1 0 -9.4 -5M696.5 28.8a4.7 1.8 46 1 0 6.6 6.8a4.7 1.8 46 1 0 -6.6 -6.8M458.7 131.7a6.2 1.1 12 1 0 12.2 2.6a6.2 1.1 12 1 0 -12.2 -2.6"/><path fill="#6a6a6a" d="M609.4 221.5a4.8 1.1 22 1 0 9 3.5a4.8 1.1 22 1 0 -9 -3.5M761.6 226.7a4.8 1.5 31 1 0 8.3 4.9a4.8 1.5 31 1 0 -8.3 -4.9M472.2 206.5a5.2 1.6 19 1 0 9.8 3.3a5.2 1.6 19 1 0 -9.8 -3.3M617.8 250.7a4.9 1.8 32 1 0 8.3 5.3a4.9 1.8 32 1 0 -8.3 -5.3M788.1 73.7a7.1 1.4 26 1 0 12.8 6.3a7.1 1.4 26 1 0 -12.8 -6.3M674.2 97.5a7.4 1.2 29 1 0 13 7.2a7.4 1.2 29 1 0 -13 -7.2M563.2 221.7a4.3 0.9 6 1 0 8.6 0.9a4.3 0.9 6 1 0 -8.6 -0.9M695.1 92.5a4.3 1.3 28 1 0 7.6 4a4.3 1.3 28 1 0 -7.6 -4M448.7 213.2a4.3 1.7 -1 1 0 8.5 -0.2a4.3 1.7 -1 1 0 -8.5 0.2M506.6 6.7a6.7 0.9 27 1 0 11.9 6a6.7 0.9 27 1 0 -11.9 -6M578.7 109a6.6 1.7 36 1 0 10.8 7.7a6.6 1.7 36 1 0 -10.8 -7.7M690.2 70.4a5.9 1.8 26 1 0 10.5 5.2a5.9 1.8 26 1 0 -10.5 -5.2M706.1 113.7a5.5 1.6 10 1 0 10.8 2a5.5 1.6 10 1 0 -10.8 -2M556.9 65.5a4.2 1.1 27 1 0 7.5 3.8a4.2 1.1 27 1 0 -7.5 -3.8M647.9 236.3a7 1.2 16 1 0 13.6 3.8a7 1.2 16 1 0 -13.6 -3.8M692.3 124.9a5.9 1.3 13 1 0 11.5 2.6a5.9 1.3 13 1 0 -11.5 -2.6M760.4 250.7a7.4 1.8 50 1 0 9.5 11.3a7.4 1.8 50 1 0 -9.5 -11.3M697.9 259.7a4.2 1.5 17 1 0 7.9 2.5a4.2 1.5 17 1 0 -7.9 -2.5M630.4 124a7.2 1.8 5 1 0 14.4 1.3a7.2 1.8 5 1 0 -14.4 -1.3M536.1 6.5a7.4 0.9 31 1 0 12.7 7.5a7.4 0.9 31 1 0 -12.7 -7.5M411.9 81.1a4.1 1.8 37 1 0 6.6 5a4.1 1.8 37 1 0 -6.6 -5M786.4 251.7a5.5 1.5 25 1 0 9.9 4.6a5.5 1.5 25 1 0 -9.9 -4.6M395 78.8a6.3 1.1 34 1 0 10.4 7.2a6.3 1.1 34 1 0 -10.4 -7.2M520 213.8a5.3 1.6 37 1 0 8.5 6.4a5.3 1.6 37 1 0 -8.5 -6.4M507.4 245.8a4.2 1.4 23 1 0 7.7 3.3a4.2 1.4 23 1 0 -7.7 -3.3M783.1 -1.3a5 1.2 37 1 0 8 6a5 1.2 37 1 0 -8 -6M492.9 164.4a4.9 1.2 23 1 0 9 3.7a4.9 1.2 23 1 0 -9 -3.7M482.9 12.7a4 1.8 31 1 0 6.9 4.1a4 1.8 31 1 0 -6.9 -4.1M431.3 78a6.7 1.7 32 1 0 11.3 7.1a6.7 1.7 32 1 0 -11.3 -7.1M778.3 73.9a7.4 0.9 29 1 0 13 7.1a7.4 0.9 29 1 0 -13 -7.1M475.8 155.5a4 1.4 38 1 0 6.4 5a4 1.4 38 1 0 -6.4 -5M533.6 127.8a5.4 1.3 18 1 0 10.3 3.4a5.4 1.3 18 1 0 -10.3 -3.4M765.2 48.2a6.4 1.2 34 1 0 10.6 7.2a6.4 1.2 34 1 0 -10.6 -7.2M628.9 166.9a6.1 1.5 30 1 0 10.6 6.1a6.1 1.5 30 1 0 -10.6 -6.1M556.8 185.2a5.1 0.9 15 1 0 9.8 2.6a5.1 0.9 15 1 0 -9.8 -2.6M791.1 48.5a4.7 1.2 43 1 0 6.9 6.4a4.7 1.2 43 1 0 -6.9 -6.4M720 114.5a6.4 1.6 21 1 0 12 4.5a6.4 1.6 21 1 0 -12 -4.5M550.9 120.5a7 1.4 4 1 0 14 0.9a7 1.4 4 1 0 -14 -0.9M767.8 238a6.7 1.5 15 1 0 12.9 3.4a6.7 1.5 15 1 0 -12.9 -3.4M463.2 120.4a4.4 1.4 7 1 0 8.8 1a4.4 1.4 7 1 0 -8.8 -1M710.5 22.3a6.2 1.1 35 1 0 10.2 7.1a6.2 1.1 35 1 0 -10.2 -7.1M450.4 163.1a5.5 1.3 52 1 0 6.8 8.7a5.5 1.3 52 1 0 -6.8 -8.7M754.1 73.9a5.6 1.7 18 1 0 10.8 3.4a5.6 1.7 18 1 0 -10.8 -3.4M740.5 140.2a5.6 1.6 17 1 0 10.7 3.3a5.6 1.6 17 1 0 -10.7 -3.3M514.2 253.5a4.1 1.1 18 1 0 7.8 2.5a4.1 1.1 18 1 0 -7.8 -2.5M612.6 239.6a6.9 0.9 19 1 0 13 4.4a6.9 0.9 19 1 0 -13 -4.4M672.2 132a6.5 1.6 33 1 0 10.8 7a6.5 1.6 33 1 0 -10.8 -7"/><path fill="#767676" d="M706.4 93.8a5.3 1.1 25 1 0 9.7 4.5a5.3 1.1 25 1 0 -9.7 -4.5M495.8 -3.6a5.4 1 23 1 0 9.9 4.1a5.4 1 23 1 0 -9.9 -4.1M524.9 252.6a7.2 1.6 13 1 0 14.1 3.2a7.2 1.6 13 1 0 -14.1 -3.2M573.7 155.1a5.7 1.1 24 1 0 10.4 4.6a5.7 1.1 24 1 0 -10.4 -4.6M748.4 4.4a5.9 1.7 39 1 0 9.2 7.5a5.9 1.7 39 1 0 -9.2 -7.5M560.7 48.5a4.6 1.5 34 1 0 7.7 5.1a4.6 1.5 34 1 0 -7.7 -5.1M496.9 242.9a5.3 1.6 13 1 0 10.4 2.3a5.3 1.6 13 1 0 -10.4 -2.3M661.6 134a4.4 1.4 14 1 0 8.6 2.1a4.4 1.4 14 1 0 -8.6 -2.1M715.8 103.4a4.4 1.4 43 1 0 6.3 6a4.4 1.4 43 1 0 -6.3 -6M603.6 246a5 0.9 31 1 0 8.5 5.2a5 0.9 31 1 0 -8.5 -5.2M654.5 95a5.7 1.5 40 1 0 8.8 7.3a5.7 1.5 40 1 0 -8.8 -7.3M629.3 262.8a4 1.4 20 1 0 7.5 2.7a4 1.4 20 1 0 -7.5 -2.7M700.2 158.7a6.9 1.3 17 1 0 13.2 4a6.9 1.3 17 1 0 -13.2 -4M482.7 140.5a6.4 1.1 18 1 0 12.1 3.9a6.4 1.1 18 1 0 -12.1 -3.9M786.2 170.9a6.7 1.5 25 1 0 12.1 5.7a6.7 1.5 25 1 0 -12.1 -5.7M780 132.9a4.4 1.7 39 1 0 6.9 5.5a4.4 1.7 39 1 0 -6.9 -5.5M541.9 148.2a5.9 1 20 1 0 11.1 4a5.9 1 20 1 0 -11.1 -4M712.5 84.7a5.5 1.4 39 1 0 8.5 6.9a5.5 1.4 39 1 0 -8.5 -6.9M656.9 159.2a5.3 1.4 27 1 0 9.5 4.8a5.3 1.4 27 1 0 -9.5 -4.8M535.9 24.1a4.1 1.1 22 1 0 7.6 3a4.1 1.1 22 1 0 -7.6 -3M729.5 72.7a4.1 1 36 1 0 6.6 4.8a4.1 1 36 1 0 -6.6 -4.8M488.9 43.6a4.3 1 36 1 0 7 5.1a4.3 1 36 1 0 -7 -5.1"/><path fill="#828282" d="M513.6 160.6a7.1 0.9 29 1 0 12.3 7a7.1 0.9 29 1 0 -12.3 -7M617.7 174.4a6.6 1.1 29 1 0 11.5 6.4a6.6 1.1 29 1 0 -11.5 -6.4M723.7 196.1a5.2 0.9 36 1 0 8.3 6.1a5.2 0.9 36 1 0 -8.3 -6.1M582.4 184.1a5.3 0.9 46 1 0 7.3 7.6a5.3 0.9 46 1 0 -7.3 -7.6M462.5 253.5a7 1 19 1 0 13.3 4.7a7 1 19 1 0 -13.3 -4.7M575.2 167.9a5.4 1.2 36 1 0 8.7 6.4a5.4 1.2 36 1 0 -8.7 -6.4M435.1 222.7a6.2 1.2 23 1 0 11.4 4.9a6.2 1.2 23 1 0 -11.4 -4.9M701.4 140.3a6.5 1 48 1 0 8.8 9.7a6.5 1 48 1 0 -8.8 -9.7M627.9 44.3a6 1.8 33 1 0 9.9 6.6a6 1.8 33 1 0 -9.9 -6.6M739 108.6a7.3 1.8 30 1 0 12.5 7.3a7.3 1.8 30 1 0 -12.5 -7.3M729.7 40.7a5 1.1 26 1 0 9 4.5a5 1.1 26 1 0 -9 -4.5M686.4 192.5a5.5 1.2 21 1 0 10.2 3.9a5.5 1.2 21 1 0 -10.2 -3.9M739.7 48.4a7.3 1.4 13 1 0 14.1 3.3a7.3 1.4 13 1 0 -14.1 -3.3M579.8 76.8a7.2 1.2 18 1 0 13.6 4.4a7.2 1.2 18 1 0 -13.6 -4.4M400.8 186.7a6 1.7 26 1 0 10.7 5.2a6 1.7 26 1 0 -10.7 -5.2M579 9.4a7.5 1.6 32 1 0 12.7 7.9a7.5 1.6 32 1 0 -12.7 -7.9M682.5 121.8a5.3 1.8 30 1 0 9.2 5.2a5.3 1.8 30 1 0 -9.2 -5.2M566.6 132.3a6.6 0.9 26 1 0 11.8 5.7a6.6 0.9 26 1 0 -11.8 -5.7M720.1 130.5a5 1.6 40 1 0 7.7 6.4a5 1.6 40 1 0 -7.7 -6.4M768.6 9.6a4.7 1.2 29 1 0 8.3 4.6a4.7 1.2 29 1 0 -8.3 -4.6M560.4 139.6a5.7 1.4 34 1 0 9.5 6.4a5.7 1.4 34 1 0 -9.5 -6.4M489.3 107.8a7.2 1.6 25 1 0 13.1 6.1a7.2 1.6 25 1 0 -13.1 -6.1M739.6 244.4a4.5 1.8 9 1 0 8.9 1.4a4.5 1.8 9 1 0 -8.9 -1.4M725.9 60.7a7 1.3 26 1 0 12.5 6.1a7 1.3 26 1 0 -12.5 -6.1M771.9 87.7a5.3 1.6 34 1 0 8.8 5.8a5.3 1.6 34 1 0 -8.8 -5.8"/><path fill="#101010" d="M484.5 213a5.1 1.9 18 1 0 9.8 3.2a5.1 1.9 18 1 0 -9.8 -3.2M635.2 160.8a5.1 1.8 15 1 0 9.8 2.7a5.1 1.8 15 1 0 -9.8 -2.7M666.9 28a4.3 1.9 23 1 0 8 3.4a4.3 1.9 23 1 0 -8 -3.4M419.1 204a5.5 1.6 18 1 0 10.4 3.4a5.5 1.6 18 1 0 -10.4 -3.4M532.3 194.3a5.8 1.8 13 1 0 11.3 2.5a5.8 1.8 13 1 0 -11.3 -2.5M575.2 119a5.7 1.7 32 1 0 9.8 6.1a5.7 1.7 32 1 0 -9.8 -6.1M410 213.9a4.7 1.5 35 1 0 7.7 5.5a4.7 1.5 35 1 0 -7.7 -5.5M592.9 15.1a4 1.6 30 1 0 6.8 4a4 1.6 30 1 0 -6.8 -4M780.6 144.2a4.2 1.8 38 1 0 6.6 5.2a4.2 1.8 38 1 0 -6.6 -5.2M670.7 184.4a5.4 1.6 45 1 0 7.5 7.6a5.4 1.6 45 1 0 -7.5 -7.6M707.9 245.1a5.5 1.5 21 1 0 10.3 3.9a5.5 1.5 21 1 0 -10.3 -3.9M701.3 38.5a5.1 1.5 13 1 0 9.9 2.2a5.1 1.5 13 1 0 -9.9 -2.2M501.8 265.2a3.8 1.4 -6 1 0 7.6 -0.8a3.8 1.4 -6 1 0 -7.6 0.8M460.8 212.6a3.6 1.4 26 1 0 6.4 3.2a3.6 1.4 26 1 0 -6.4 -3.2M568 102.3a5.8 1.4 23 1 0 10.7 4.5a5.8 1.4 23 1 0 -10.7 -4.5M565.2 201.5a4.3 1.8 17 1 0 8.2 2.4a4.3 1.8 17 1 0 -8.2 -2.4M618 149.6a5.2 1.5 38 1 0 8.2 6.3a5.2 1.5 38 1 0 -8.2 -6.3M770.5 179.6a4.9 1.8 18 1 0 9.4 3.1a4.9 1.8 18 1 0 -9.4 -3.1M458 231.8a5.9 1.7 21 1 0 11.1 4.3a5.9 1.7 21 1 0 -11.1 -4.3M639.1 51.7a5 1.7 7 1 0 10 1.3a5 1.7 7 1 0 -10 -1.3M585.2 44.3a4.1 1.6 13 1 0 7.9 1.9a4.1 1.6 13 1 0 -7.9 -1.9M713.4 36.3a5.5 1.5 24 1 0 10.1 4.6a5.5 1.5 24 1 0 -10.1 -4.6M624 215.7a4.6 1.5 25 1 0 8.3 3.9a4.6 1.5 25 1 0 -8.3 -3.9M641.2 19a5.9 1.3 16 1 0 11.4 3.3a5.9 1.3 16 1 0 -11.4 -3.3M623.7 67.1a4.9 1.3 33 1 0 8.3 5.3a4.9 1.3 33 1 0 -8.3 -5.3M463 263.3a4.3 1.4 48 1 0 5.8 6.4a4.3 1.4 48 1 0 -5.8 -6.4M412.5 54.1a5 1.7 2 1 0 10 0.3a5 1.7 2 1 0 -10 -0.3M520.6 124a3.7 1.6 15 1 0 7.1 2a3.7 1.6 15 1 0 -7.1 -2M487.4 92.1a5.8 1.5 7 1 0 11.6 1.4a5.8 1.5 7 1 0 -11.6 -1.4M772.9 110.3a4.1 1.6 9 1 0 8.1 1.3a4.1 1.6 9 1 0 -8.1 -1.3M447.2 255.1a4.1 1.4 32 1 0 6.9 4.3a4.1 1.4 32 1 0 -6.9 -4.3M646.3 248.2a5 1.8 51 1 0 6.3 7.7a5 1.8 51 1 0 -6.3 -7.7M584.5 252.4a3.8 1.3 19 1 0 7.1 2.4a3.8 1.3 19 1 0 -7.1 -2.4M659.8 182.9a4.2 1.6 29 1 0 7.4 4.1a4.2 1.6 29 1 0 -7.4 -4.1M665.3 40.2a5.9 1.6 29 1 0 10.3 5.8a5.9 1.6 29 1 0 -10.3 -5.8M564.8 164.7a5.4 1.8 29 1 0 9.4 5.2a5.4 1.8 29 1 0 -9.4 -5.2M652.7 65.9a4 1.4 4 1 0 8 0.6a4 1.4 4 1 0 -8 -0.6M416 190.2a4.5 1.4 23 1 0 8.4 3.6a4.5 1.4 23 1 0 -8.4 -3.6M668 229a4.3 1.5 26 1 0 7.7 3.8a4.3 1.5 26 1 0 -7.7 -3.8M647.2 151.5a4.5 1.7 37 1 0 7.1 5.4a4.5 1.7 37 1 0 -7.1 -5.4M394.3 170.9a6 1.7 28 1 0 10.6 5.5a6 1.7 28 1 0 -10.6 -5.5M419 89.3a4.2 1.8 24 1 0 7.8 3.4a4.2 1.8 24 1 0 -7.8 -3.4M435.4 260.3a4.7 1.9 16 1 0 9 2.5a4.7 1.9 16 1 0 -9 -2.5M642.7 107.6a5.8 1.6 24 1 0 10.6 4.6a5.8 1.6 24 1 0 -10.6 -4.6M684 40.5a5.1 1.4 29 1 0 9 5a5.1 1.4 29 1 0 -9 -5M412.7 15.7a5.9 1.7 24 1 0 10.7 4.7a5.9 1.7 24 1 0 -10.7 -4.7M709.3 209.5a5.7 1.4 22 1 0 10.6 4.4a5.7 1.4 22 1 0 -10.6 -4.4M485 226.3a4.5 1.8 10 1 0 8.9 1.6a4.5 1.8 10 1 0 -8.9 -1.6M600.4 61.6a5.2 1.6 20 1 0 9.8 3.5a5.2 1.6 20 1 0 -9.8 -3.5M474.3 180.4a4.8 1.6 31 1 0 8.3 5a4.8 1.6 31 1 0 -8.3 -5M569.3 16.5a5.9 1.3 29 1 0 10.3 5.6a5.9 1.3 29 1 0 -10.3 -5.6M461.4 191.8a4.7 1.4 14 1 0 9 2.2a4.7 1.4 14 1 0 -9 -2.2M650.3 5.3a5.5 1.7 31 1 0 9.5 5.8a5.5 1.7 31 1 0 -9.5 -5.8M480.5 22.4a5.8 1.5 28 1 0 10.3 5.4a5.8 1.5 28 1 0 -10.3 -5.4M525.4 137.1a4.7 1.3 30 1 0 8.1 4.7a4.7 1.3 30 1 0 -8.1 -4.7M613.7 58.4a3.9 1.8 38 1 0 6.2 4.8a3.9 1.8 38 1 0 -6.2 -4.8M558.4 99.7a3.6 1.7 24 1 0 6.6 2.9a3.6 1.7 24 1 0 -6.6 -2.9M645.1 130.6a4.3 1.5 14 1 0 8.4 2a4.3 1.5 14 1 0 -8.4 -2M737.8 158.4a4.5 1.5 24 1 0 8.2 3.6a4.5 1.5 24 1 0 -8.2 -3.6M401.5 110a5.8 1.7 22 1 0 10.7 4.4a5.8 1.7 22 1 0 -10.7 -4.4M748.4 85.1a5.7 1.5 30 1 0 9.9 5.6a5.7 1.5 30 1 0 -9.9 -5.6M401.6 200.9a4.3 1.8 43 1 0 6.3 5.8a4.3 1.8 43 1 0 -6.3 -5.8M545 256.1a5 1.7 41 1 0 7.6 6.5a5 1.7 41 1 0 -7.6 -6.5M454.4 17.6a3.7 1.6 12 1 0 7.3 1.5a3.7 1.6 12 1 0 -7.3 -1.5M570.1 264a3.6 1.8 20 1 0 6.8 2.5a3.6 1.8 20 1 0 -6.8 -2.5M615.3 200.7a3.7 1.5 34 1 0 6.2 4.1a3.7 1.5 34 1 0 -6.2 -4.1M558.7 208.8a4.7 1.5 25 1 0 8.5 4a4.7 1.5 25 1 0 -8.5 -4M693.1 15.5a3.7 1.3 43 1 0 5.4 5.1a3.7 1.3 43 1 0 -5.4 -5.1M768.5 150.9a4.3 1.4 52 1 0 5.3 6.8a4.3 1.4 52 1 0 -5.3 -6.8M598.3 223.2a3.5 1.8 41 1 0 5.3 4.7a3.5 1.8 41 1 0 -5.3 -4.7M437.5 66.5a5.2 1.5 20 1 0 9.8 3.6a5.2 1.5 20 1 0 -9.8 -3.6M511 98.8a4.9 1.9 31 1 0 8.3 5a4.9 1.9 31 1 0 -8.3 -5M540 248.4a4.4 1.6 37 1 0 7.1 5.3a4.4 1.6 37 1 0 -7.1 -5.3M555 152.9a5.5 1.8 31 1 0 9.4 5.7a5.5 1.8 31 1 0 -9.4 -5.7M719.2 161.2a5.3 1.6 18 1 0 10 3.3a5.3 1.6 18 1 0 -10 -3.3M415.1 114.4a4.2 1.8 26 1 0 7.6 3.7a4.2 1.8 26 1 0 -7.6 -3.7M693.8 230.3a4.7 1.7 37 1 0 7.4 5.6a4.7 1.7 37 1 0 -7.4 -5.6M600.1 158.7a3.6 1.4 32 1 0 6.1 3.8a3.6 1.4 32 1 0 -6.1 -3.8M771.3 190.1a3.6 1.8 14 1 0 6.9 1.8a3.6 1.8 14 1 0 -6.9 -1.8M697.9 244a3.5 1.9 53 1 0 4.3 5.6a3.5 1.9 53 1 0 -4.3 -5.6M570.9 29.6a5.7 1.6 35 1 0 9.3 6.5a5.7 1.6 35 1 0 -9.3 -6.5M788.3 151.4a5.4 1.5 26 1 0 9.7 4.7a5.4 1.5 26 1 0 -9.7 -4.7M577.2 209.4a5.9 1.4 15 1 0 11.3 3a5.9 1.4 15 1 0 -11.3 -3M418.7 75.5a3.7 1.8 23 1 0 6.8 2.9a3.7 1.8 23 1 0 -6.8 -2.9M735.8 148.2a4.9 1.7 27 1 0 8.8 4.4a4.9 1.7 27 1 0 -8.8 -4.4M754.3 116.4a4.9 1.6 25 1 0 8.8 4.1a4.9 1.6 25 1 0 -8.8 -4.1M675.6 158.3a3.6 1.6 14 1 0 7 1.8a3.6 1.6 14 1 0 -7 -1.8M695.3 -0.7a5.8 1.5 33 1 0 9.8 6.3a5.8 1.5 33 1 0 -9.8 -6.3M590.1 118.5a5.5 1.6 24 1 0 10 4.5a5.5 1.6 24 1 0 -10 -4.5M608.2 99.1a4.8 1.6 17 1 0 9.1 2.8a4.8 1.6 17 1 0 -9.1 -2.8M657.2 109.7a5.7 1.9 20 1 0 10.7 4a5.7 1.9 20 1 0 -10.7 -4M427 196.7a4.5 1.8 27 1 0 8 4a4.5 1.8 27 1 0 -8 -4M475.2 51.6a4.4 1.4 42 1 0 6.6 5.9a4.4 1.4 42 1 0 -6.6 -5.9M726.8 85.7a3.7 1.8 17 1 0 7 2.1a3.7 1.8 17 1 0 -7 -2.1M601.9 80.8a5.1 1.9 25 1 0 9.3 4.3a5.1 1.9 25 1 0 -9.3 -4.3M634.7 246.5a5.9 1.6 37 1 0 9.6 7.1a5.9 1.6 37 1 0 -9.6 -7.1M579.3 87.9a5.2 1.5 28 1 0 9.1 4.9a5.2 1.5 28 1 0 -9.1 -4.9M721.2 225.9a5.4 1.8 11 1 0 10.6 2.1a5.4 1.8 11 1 0 -10.6 -2.1M706.5 188.3a4.1 1.4 32 1 0 7 4.3a4.1 1.4 32 1 0 -7 -4.3M508.1 203.7a4.5 1.4 16 1 0 8.6 2.5a4.5 1.4 16 1 0 -8.6 -2.5M558.9 27.9a4.9 1.5 34 1 0 8.2 5.5a4.9 1.5 34 1 0 -8.2 -5.5M565.9 86.9a4.8 1.7 31 1 0 8.2 4.9a4.8 1.7 31 1 0 -8.2 -4.9M683 254.2a4.8 1.6 13 1 0 9.3 2.2a4.8 1.6 13 1 0 -9.3 -2.2M573 250.6a5.3 1.5 36 1 0 8.6 6.2a5.3 1.5 36 1 0 -8.6 -6.2M740.1 193.4a3.7 1.7 22 1 0 6.9 2.7a3.7 1.7 22 1 0 -6.9 -2.7M504.8 109.8a4.6 1.8 21 1 0 8.6 3.3a4.6 1.8 21 1 0 -8.6 -3.3M496.8 143.8a5.4 1.4 23 1 0 9.9 4.2a5.4 1.4 23 1 0 -9.9 -4.2M639.4 236.8a5.4 1.7 30 1 0 9.3 5.4a5.4 1.7 30 1 0 -9.3 -5.4M506.1 133.3a4.8 1.6 28 1 0 8.4 4.5a4.8 1.6 28 1 0 -8.4 -4.5M398.4 153.2a5.9 1.5 26 1 0 10.6 5.2a5.9 1.5 26 1 0 -10.6 -5.2M580.6 23.8a3.8 1.3 34 1 0 6.4 4.3a3.8 1.3 34 1 0 -6.4 -4.3M497.5 221.3a5 1.8 16 1 0 9.7 2.9a5 1.8 16 1 0 -9.7 -2.9M523.1 151.6a4.3 1.5 35 1 0 7 4.9a4.3 1.5 35 1 0 -7 -4.9M398.2 139.4a5.6 1.8 36 1 0 9.1 6.7a5.6 1.8 36 1 0 -9.1 -6.7M732.3 178.8a5.5 1.7 11 1 0 10.9 2.2a5.5 1.7 11 1 0 -10.9 -2.2M762.1 218.5a5.3 1.8 4 1 0 10.5 0.7a5.3 1.8 4 1 0 -10.5 -0.7M586.6 130.7a5.1 1.6 20 1 0 9.6 3.5a5.1 1.6 20 1 0 -9.6 -3.5M590.3 236a5.6 1.9 26 1 0 10 4.8a5.6 1.9 26 1 0 -10 -4.8M443.5 85.1a4.1 1.5 11 1 0 8.1 1.6a4.1 1.5 11 1 0 -8.1 -1.6M735.8 101.4a4.5 1.4 45 1 0 6.4 6.3a4.5 1.4 45 1 0 -6.4 -6.3M680.4 181.3a5.5 1.9 25 1 0 9.9 4.6a5.5 1.9 25 1 0 -9.9 -4.6M710.9 7.3a3.9 1.8 34 1 0 6.4 4.4a3.9 1.8 34 1 0 -6.4 -4.4M727.8 31.8a4.8 1.5 9 1 0 9.4 1.6a4.8 1.5 9 1 0 -9.4 -1.6M496.2 189.2a5.4 1.3 29 1 0 9.4 5.2a5.4 1.3 29 1 0 -9.4 -5.2M402.6 244.9a5.2 1.6 31 1 0 8.9 5.3a5.2 1.6 31 1 0 -8.9 -5.3M512.7 180.6a5.2 1.6 16 1 0 10 2.8a5.2 1.6 16 1 0 -10 -2.8M511.9 45.8a5.2 1.3 16 1 0 10 2.9a5.2 1.3 16 1 0 -10 -2.9M465.7 63.1a5.1 1.7 19 1 0 9.7 3.3a5.1 1.7 19 1 0 -9.7 -3.3M744.9 30.4a4.7 1.6 21 1 0 8.7 3.3a4.7 1.6 21 1 0 -8.7 -3.3M688.9 220a5.3 1.3 24 1 0 9.6 4.3a5.3 1.3 24 1 0 -9.6 -4.3M609.5 166.8a5.9 1.8 36 1 0 9.5 6.9a5.9 1.8 36 1 0 -9.5 -6.9M758.6 144.9a4 1.3 44 1 0 5.8 5.5a4 1.3 44 1 0 -5.8 -5.5M780.6 155.7a3.6 1.7 24 1 0 6.6 3a3.6 1.7 24 1 0 -6.6 -3M690.1 136.3a5.1 1.3 19 1 0 9.6 3.3a5.1 1.3 19 1 0 -9.6 -3.3M404.4 46.9a4.6 1.9 -7 1 0 9.1 -1.1a4.6 1.9 -7 1 0 -9.1 1.1M396.1 260.8a5.9 1.4 41 1 0 8.9 7.7a5.9 1.4 41 1 0 -8.9 -7.7M594.3 253a5.4 1.6 28 1 0 9.5 5.1a5.4 1.6 28 1 0 -9.5 -5.1M468.7 170.7a4.6 1.6 25 1 0 8.4 4a4.6 1.6 25 1 0 -8.4 -4M641.6 203.1a3.8 1.8 17 1 0 7.2 2.2a3.8 1.8 17 1 0 -7.2 -2.2M623.9 186.7a5.7 1.4 31 1 0 9.6 5.9a5.7 1.4 31 1 0 -9.6 -5.9M613.7 4.6a5.1 1.7 35 1 0 8.3 5.9a5.1 1.7 35 1 0 -8.3 -5.9M712.2 152a5.2 1.6 20 1 0 9.7 3.6a5.2 1.6 20 1 0 -9.7 -3.6M457.4 176a3.9 1.5 15 1 0 7.6 2a3.9 1.5 15 1 0 -7.6 -2M417.3 238.2a5.3 1.5 13 1 0 10.2 2.4a5.3 1.5 13 1 0 -10.2 -2.4M555.4 87.7a5.4 1.6 24 1 0 9.8 4.3a5.4 1.6 24 1 0 -9.8 -4.3M543.6 34.5a5.2 1.8 17 1 0 10 3a5.2 1.8 17 1 0 -10 -3M708 62.3a3.9 1.7 23 1 0 7.1 3.1a3.9 1.7 23 1 0 -7.1 -3.1M783.9 210.5a5.3 1.6 28 1 0 9.3 5a5.3 1.6 28 1 0 -9.3 -5M675.8 2.5a5 1.8 38 1 0 8 6.2a5 1.8 38 1 0 -8 -6.2M604.8 9.8a4.7 1.8 25 1 0 8.6 3.9a4.7 1.8 25 1 0 -8.6 -3.9M464.5 86.3a5 1.5 32 1 0 8.5 5.4a5 1.5 32 1 0 -8.5 -5.4M493.2 251a5.7 1.3 25 1 0 10.3 4.9a5.7 1.3 25 1 0 -10.3 -4.9M619 102.7a3.5 1.8 33 1 0 5.9 3.8a3.5 1.8 33 1 0 -5.9 -3.8M791.3 264.2a3.6 1.6 21 1 0 6.7 2.6a3.6 1.6 21 1 0 -6.7 -2.6M538.5 160a5.3 1.4 28 1 0 9.3 4.9a5.3 1.4 28 1 0 -9.3 -4.9M456.1 4.5a5.9 1.8 32 1 0 10 6.2a5.9 1.8 32 1 0 -10 -6.2M670.3 73.4a5.7 1.8 31 1 0 9.8 5.9a5.7 1.8 31 1 0 -9.8 -5.9M446.9 47.1a4.3 1.5 28 1 0 7.6 4a4.3 1.5 28 1 0 -7.6 -4M463.9 33.5a5.7 1.6 23 1 0 10.5 4.5a5.7 1.6 23 1 0 -10.5 -4.5M744.7 258.5a5.1 1.8 27 1 0 9.1 4.6a5.1 1.8 27 1 0 -9.1 -4.6M608 186.6a4.7 1.7 30 1 0 8.1 4.7a4.7 1.7 30 1 0 -8.1 -4.7M435.2 186a4.4 1.5 9 1 0 8.8 1.4a4.4 1.5 9 1 0 -8.8 -1.4M426.6 110a4.4 1.4 33 1 0 7.5 4.8a4.4 1.4 33 1 0 -7.5 -4.8M711.6 69.6a5.9 1.9 25 1 0 10.7 5a5.9 1.9 25 1 0 -10.7 -5M448.7 130.6a4.8 1.5 14 1 0 9.2 2.3a4.8 1.5 14 1 0 -9.2 -2.3M771.5 229.1a4.5 1.8 12 1 0 8.9 1.9a4.5 1.8 12 1 0 -8.9 -1.9M480.7 187.6a5.8 1.4 22 1 0 10.8 4.4a5.8 1.4 22 1 0 -10.8 -4.4M663.2 200.9a5.5 1.7 28 1 0 9.7 5.1a5.5 1.7 28 1 0 -9.7 -5.1M478.3 115.2a4.9 1.5 30 1 0 8.6 4.9a4.9 1.5 30 1 0 -8.6 -4.9M633.4 68.8a4.7 1.6 26 1 0 8.5 4.1a4.7 1.6 26 1 0 -8.5 -4.1M540.2 70.5a5.5 1.4 6 1 0 10.9 1.2a5.5 1.4 6 1 0 -10.9 -1.2M783.4 30.6a3.8 1.8 21 1 0 7 2.7a3.8 1.8 21 1 0 -7 -2.7M520.1 56.3a4.5 1.5 27 1 0 8 4.1a4.5 1.5 27 1 0 -8 -4.1M501.2 57.5a5.1 1.9 17 1 0 9.8 3a5.1 1.9 17 1 0 -9.8 -3M757.7 59.6a4.8 1.5 26 1 0 8.6 4.3a4.8 1.5 26 1 0 -8.6 -4.3M576.1 48.2a4 1.8 26 1 0 7.1 3.5a4 1.8 26 1 0 -7.1 -3.5M497.8 66.4a5.5 1.5 28 1 0 9.6 5.2a5.5 1.5 28 1 0 -9.6 -5.2M725.4 184.8a4.5 1.3 33 1 0 7.5 4.9a4.5 1.3 33 1 0 -7.5 -4.9M581.6 149.5a4 1.3 15 1 0 7.6 2.1a4 1.3 15 1 0 -7.6 -2.1M480 234.3a4.2 1.6 23 1 0 7.7 3.3a4.2 1.6 23 1 0 -7.7 -3.3M518.5 5.4a4.2 1.8 31 1 0 7.2 4.3a4.2 1.8 31 1 0 -7.2 -4.3M430.1 240.2a4.8 1.4 19 1 0 9 3.1a4.8 1.4 19 1 0 -9 -3.1M534.9 37a4.6 1.6 30 1 0 8 4.6a4.6 1.6 30 1 0 -8 -4.6M726.4 125.2a5.1 1.7 16 1 0 9.8 2.9a5.1 1.7 16 1 0 -9.8 -2.9M718.4 176.2a4.8 1.4 19 1 0 9.1 3.2a4.8 1.4 19 1 0 -9.1 -3.2M513.6 227.4a5.5 1.8 13 1 0 10.7 2.5a5.5 1.8 13 1 0 -10.7 -2.5M720.9 11.8a4.4 1.3 18 1 0 8.3 2.7a4.4 1.3 18 1 0 -8.3 -2.7M402.7 16.1a3.7 1.8 22 1 0 6.9 2.9a3.7 1.8 22 1 0 -6.9 -2.9M790.1 226.3a4.4 1.8 24 1 0 8.1 3.6a4.4 1.8 24 1 0 -8.1 -3.6M542.4 137.6a5.3 1.6 23 1 0 9.7 4.1a5.3 1.6 23 1 0 -9.7 -4.1M606.6 45.8a4.5 1.5 32 1 0 7.7 4.8a4.5 1.5 32 1 0 -7.7 -4.8M785.4 61.3a5 1.6 30 1 0 8.6 4.9a5 1.6 30 1 0 -8.6 -4.9M429.4 92.6a5.5 1.8 35 1 0 9 6.3a5.5 1.8 35 1 0 -9 -6.3M754.7 47.9a4.2 1.6 26 1 0 7.5 3.7a4.2 1.6 26 1 0 -7.5 -3.7M423.6 248.8a4.8 1.6 21 1 0 8.9 3.4a4.8 1.6 21 1 0 -8.9 -3.4M538.8 207.6a5.2 1.6 25 1 0 9.5 4.4a5.2 1.6 25 1 0 -9.5 -4.4M753.3 36.1a5.7 1.3 25 1 0 10.4 4.8a5.7 1.3 25 1 0 -10.4 -4.8M687 105.1a5.3 1.4 30 1 0 9.1 5.3a5.3 1.4 30 1 0 -9.1 -5.3M742.2 219.6a5.9 1.4 13 1 0 11.4 2.6a5.9 1.4 13 1 0 -11.4 -2.6M758.3 92.7a4.2 1.5 -6 1 0 8.4 -0.9a4.2 1.5 -6 1 0 -8.4 0.9M687.4 59.9a5.2 1.6 29 1 0 9 5.1a5.2 1.6 29 1 0 -9 -5.1"/></g><g filter="url(#b05)"><path stroke="#d0d0d0" stroke-width="1" stroke-linecap="round" d="M711 73.5h0M588 173.5h0M668.5 109.5h0M666.5 108h0M699.5 226h0M701 229h0M404.5 23h0M404 20.5h0M569.5 220.5h0M569.5 219h0M573.5 223h0M570.5 224h0M661 121h0M791 48.5h0M787 42h0M487 162h0M481.5 156.5h0M483.5 156h0M422 185h0M432 185h0M434.5 187h0M430 186h0M641 79.5h0M531.5 76.5h0M647.5 26h0M652 29h0M600 102.5h0M603 101.5h0M579.5 59.5h0M589 59h0M764 66h0M537 78h0M538 77h0M727.5 236h0M728 230.5h0M727.5 233.5h0M679 171.5h0M439 183.5h0M438.5 183.5h0M443 180.5h0M442 183.5h0"/><path stroke="#d0d0d0" stroke-width="1.5" stroke-linecap="round" d="M713.5 73.5h0M714.5 73h0M591 181h0M586 180h0M583.5 176.5h0M669 106h0M624.5 114h0M633.5 112h0M630 107h0M633.5 109.5h0M630 106.5h0M635 109h0M705.5 224.5h0M702.5 226.5h0M703 228h0M406.5 27.5h0M407.5 24.5h0M569.5 221h0M658.5 120h0M665 120.5h0M662.5 121h0M417 108.5h0M420.5 105.5h0M786 46.5h0M787 45.5h0M431 183.5h0M465.5 83.5h0M530.5 76h0M533 70.5h0M606.5 104.5h0M605 102.5h0M601.5 99.5h0M625.5 237.5h0M584 58h0M590 62h0M590 60.5h0M760.5 68h0M757 66.5h0M759 68h0M767.5 66h0M542 72h0M537 78h0M541.5 77.5h0M542 74h0M728 233.5h0M680.5 173h0"/><path stroke="#d0d0d0" stroke-width="2" stroke-linecap="round" d="M716.5 71.5h0M716.5 73.5h0M581 177h0M675.5 107h0M672.5 109h0M668.5 108h0M633 108h0M696.5 223.5h0M698.5 224h0M404 20h0M410 25.5h0M402.5 22h0M567.5 221h0M573 222h0M658.5 124.5h0M667.5 123h0M422.5 105.5h0M420 104h0M788.5 46h0M788.5 43.5h0M482.5 155h0M484.5 156h0M479 157h0M429.5 189.5h0M428 190h0M469 84h0M463 85h0M468.5 82.5h0M469.5 81.5h0M461.5 87h0M637.5 80.5h0M642.5 81.5h0M644 78h0M542 76h0M540 78.5h0M539 79.5h0M644.5 29.5h0M649 33h0M651 28h0M648 32h0M606 100.5h0M627 242.5h0M619.5 241h0M623 243.5h0M625.5 239.5h0M629.5 239h0M622.5 237.5h0M582 59.5h0M586.5 60h0M757.5 67h0M760.5 75h0M764.5 71h0M724 233h0M725 236h0M728 232h0M723.5 231h0M683 177h0M683.5 173h0M682 174h0M678.5 172.5h0M676 173.5h0M441.5 181.5h0M440 181.5h0"/><path stroke="#d0d0d0" stroke-width="2.5" stroke-linecap="round" d="M708.5 71.5h0M710 72.5h0M714.5 71h0M586 178h0M587.5 177h0M587 177.5h0M671.5 108.5h0M672 107.5h0M633.5 111.5h0M698.5 226h0M403 25h0M574 217h0M666 123.5h0M664 123h0M420.5 103h0M422 104h0M419.5 105.5h0M412.5 103.5h0M791.5 44.5h0M781.5 45.5h0M483.5 159.5h0M484.5 159.5h0M429.5 186.5h0M468 79.5h0M460 83h0M640.5 78.5h0M636.5 80h0M646 78h0M642 79h0M535.5 76.5h0M533.5 76.5h0M653 28.5h0M648 32.5h0M605 104h0M604.5 101.5h0M624.5 240.5h0M590 57.5h0M539.5 78h0M541.5 78.5h0M677.5 173h0M435.5 185h0M438 184h0"/></g><g filter="url(#b3)" opacity="0.85"><path d="M403,125C406.7,114.2 418.5,116.3 425,118C431.5,119.7 438.8,128.3 442,135C445.2,141.7 445.7,151.5 444,158C442.3,164.5 437.3,170 432,174C426.7,178 416.8,180.5 412,182C407.2,183.5 404.5,192.5 403,183C401.5,173.5 399.3,135.8 403,125Z" fill="#0c0c0c"/></g><g filter="url(#b2)"></g><g filter="url(#b06)"><path fill="#555" d="M412.4 138.5a5.7 2.9 25 1 0 10.3 4.8a5.7 2.9 25 1 0 -10.3 -4.8M425.7 149.5a6.7 2.9 30 1 0 11.6 6.7a6.7 2.9 30 1 0 -11.6 -6.7M408.8 164.2a5.2 2.9 20 1 0 9.8 3.6a5.2 2.9 20 1 0 -9.8 -3.6M423.3 168.9a4.7 2.4 25 1 0 8.5 4a4.7 2.4 25 1 0 -8.5 -4"/><path fill="#0e0e0e" d="M413.5 137.9a5 2 25 1 0 9.1 4.2a5 2 25 1 0 -9.1 -4.2M426.8 149a6 2 30 1 0 10.4 6a6 2 30 1 0 -10.4 -6M409.8 163.5a4.5 2 20 1 0 8.5 3.1a4.5 2 20 1 0 -8.5 -3.1M424.4 168.3a4 1.5 25 1 0 7.3 3.4a4 1.5 25 1 0 -7.3 -3.4"/></g><g filter="url(#b05)"></g><g filter="url(#b1)"><path d="M403,190C405.2,189.3 411.3,187.4 416,185.6C420.7,183.8 426.7,181.6 431,179.1C435.3,176.6 438.6,175.2 441.8,170.5C445,165.8 447.5,156.8 450.4,151.1C453.3,145.3 455.8,140.1 459,136C462.2,131.9 465.5,128.1 469.8,126.3C474.1,124.5 480.6,124.8 484.9,125.3C489.2,125.8 493.9,128.9 495.7,129.6" fill="none" stroke="#b8b8b8" stroke-width="2.4" stroke-linecap="round"/></g></g><rect x="403" y="2" width="388" height="261.5" filter="url(#grain)" opacity="0.5"/><rect x="403" y="2" width="388" height="261.5" filter="url(#grainw)" opacity="0.15"/></g><g clip-path="url(#clipC)"><g filter="url(#b04)"><rect x="6" y="271" width="389" height="262" fill="#3e3e3e"/><g filter="url(#b2)"><path d="M219,450C220,449 219,444 221,441C224,438 232,434 234,432C237,430 237,429 238,429M169,528C170,527 173,524 175,521C177,519 178,515 180,513C182,512 185,512 185,511M356,425C357,424 360,421 363,420C366,418 373,416 375,414C378,413 377,410 378,409M100,278C102,278 106,276 109,275C112,274 117,274 120,272C122,271 122,267 123,266M50,314C50,314 52,314 54,312C55,311 58,308 59,306C60,305 60,305 60,304M304,353C305,353 308,351 310,351C311,351 313,351 314,351C314,351 315,350 315,350M118,508C119,508 121,509 124,508C127,507 132,504 134,502C137,500 139,498 139,497M91,507C92,506 96,506 99,505C103,504 108,501 112,499C116,498 122,498 125,497M232,354C234,353 240,351 242,350C245,349 245,348 247,346C250,344 255,339 257,337M328,446C329,446 332,444 333,441C335,438 336,433 339,431C341,428 346,429 348,428M36,527C35,526 36,523 35,520C34,518 33,516 31,512C30,509 28,502 27,500M1,484C2,483 5,483 7,481C10,478 14,471 18,469C22,467 28,468 30,468M324,276C325,276 329,275 330,275C332,274 333,273 334,273C335,273 336,274 336,274M78,308C79,307 83,304 84,303C85,303 83,305 84,304C85,304 90,303 91,302M31,365C31,364 32,361 34,359C35,358 38,358 40,357C42,356 46,354 48,354M64,535C63,533 61,526 62,525C63,524 66,529 69,529C72,529 76,524 78,523M314,423C314,421 314,415 315,411C316,408 317,406 318,403C318,400 318,394 318,393M283,522C284,520 290,514 291,511C292,508 289,508 291,506C292,504 299,501 300,500M64,329C65,329 65,326 66,326C67,326 70,329 71,328C72,328 73,323 73,322M363,420C363,420 364,420 363,420C363,420 362,422 363,421C363,419 368,412 369,410M194,411C195,411 198,409 199,408C200,406 198,403 198,401C199,399 203,397 203,397M318,526C319,525 319,522 321,520C323,518 328,516 331,513C334,509 339,501 341,499M141,306C142,305 145,303 145,302C145,301 141,303 141,302C141,301 144,298 144,297M110,313C111,311 114,307 115,304C117,302 118,301 120,298C122,295 128,290 129,288M199,371C199,370 202,367 203,366C204,364 202,363 204,362C206,362 215,362 217,361M120,323C122,323 129,324 132,323C136,322 137,319 140,317C143,315 149,314 151,313M224,353C225,353 228,356 230,356C232,356 233,352 236,351C238,350 244,352 246,353M108,318C109,317 112,315 115,314C117,313 119,313 121,313C124,313 127,315 128,316M380,368C381,367 382,363 382,360C383,357 385,352 385,349C384,345 383,341 382,340M154,446C155,444 159,438 160,435C161,433 159,431 160,429C162,427 166,423 167,422M300,368C302,368 308,365 311,365C315,364 320,364 323,364C326,365 329,366 330,367M294,513C294,512 293,509 295,509C296,509 301,512 303,512C305,512 308,508 309,507M209,476C210,475 216,475 218,474C220,472 219,467 221,465C223,463 228,463 229,462M382,441C383,441 387,440 389,440C391,440 392,440 394,440C396,440 398,439 399,439M93,375C95,375 99,376 102,374C105,372 108,366 111,363C114,360 118,358 119,357M178,531C179,530 186,525 189,522C192,520 192,520 196,517C199,514 206,507 208,505M373,376C374,375 379,372 383,371C387,369 393,370 396,369C400,368 402,368 403,367M73,323C75,322 80,316 83,316C86,316 88,321 91,322C94,322 99,318 100,317M56,443C57,443 59,440 62,439C65,439 69,440 73,440C77,439 83,437 85,436M373,494C374,492 378,486 379,484C379,482 378,481 378,480C377,478 376,476 376,475M346,491C346,491 346,492 347,491C347,490 348,486 350,485C351,484 353,486 354,487M112,437C112,434 112,428 113,424C113,419 113,412 113,409C113,406 113,407 113,407M291,313C294,312 301,305 305,304C308,303 310,306 314,306C317,306 325,303 328,303M64,369C66,368 71,363 72,361C74,358 73,356 74,353C75,351 77,347 78,345M341,518C343,517 345,515 348,512C351,510 354,506 358,504C362,501 369,500 371,499M152,450C153,449 156,444 157,444C158,445 158,451 159,451C161,451 165,446 166,445M213,362C214,362 218,365 221,366C223,367 226,367 230,367C233,367 239,367 241,367M100,357C102,357 106,361 109,361C112,362 115,360 119,360C123,360 130,363 132,363M119,358C120,358 123,359 125,358C127,357 128,353 131,352C134,350 141,348 144,348M149,291C149,289 151,283 153,281C155,278 159,279 160,276C161,273 159,267 159,265M308,525C308,524 307,520 307,518C308,516 307,512 309,511C311,510 319,510 321,510M321,380C322,380 324,379 326,379C328,379 331,380 333,379C335,379 338,378 339,377M182,511C182,511 183,512 184,512C185,511 188,508 189,508C191,507 193,508 194,508M242,492C243,491 244,485 246,482C248,479 251,477 253,475C255,473 258,469 258,468M322,329C321,328 317,328 317,325C317,322 321,315 321,311C322,308 319,305 318,303M251,284C252,283 257,279 259,277C261,275 262,274 263,272C265,271 268,268 269,267M257,522C259,521 264,517 266,515C268,514 268,515 270,513C273,511 277,505 278,504M92,526C92,525 91,519 91,515C92,511 96,505 96,501C97,498 96,495 96,494M275,508C276,508 279,510 282,511C286,512 294,514 297,515C301,517 303,518 304,519M13,313C14,312 16,308 18,307C19,307 20,312 22,312C24,312 28,308 29,308M220,423C221,423 224,425 226,426C228,426 229,427 231,427C232,427 234,426 234,425M198,304C201,303 211,299 215,298C219,297 220,298 223,297C225,296 227,291 228,290M244,375C245,374 248,372 249,369C250,367 250,362 251,360C251,357 253,354 253,353M102,521C102,521 105,523 106,523C107,523 108,520 109,519C110,518 114,518 115,517M94,511C95,511 101,509 103,510C106,510 104,514 107,515C109,515 118,513 120,513M175,468C176,466 180,459 183,456C186,454 190,453 193,452C195,451 199,449 200,448M319,482C320,482 322,483 325,483C327,482 329,479 332,478C335,477 340,477 341,476M237,322C238,322 242,321 246,320C249,319 255,315 258,314C262,314 264,316 266,317M71,357C72,355 73,352 76,349C78,346 82,341 84,338C87,335 91,333 92,331M27,506C28,505 32,498 34,496C37,494 38,496 40,494C42,493 44,489 45,488M217,325C219,324 224,322 227,322C229,323 231,327 234,327C237,327 241,322 242,322M243,383C244,382 248,380 250,378C252,376 253,373 255,371C257,369 261,368 262,367M293,400C294,399 297,396 297,394C298,392 295,390 296,387C297,384 302,378 303,377M113,330C115,330 119,332 122,332C126,332 131,330 133,330C136,330 137,332 137,333M57,531C58,530 62,529 64,528C67,527 68,525 69,525C71,525 73,527 74,527M270,331C270,331 269,330 270,330C272,329 279,328 281,328C283,328 282,329 283,329M81,295C82,294 82,292 82,291C83,290 84,290 84,288C84,286 82,281 81,280M299,321C300,320 306,317 309,317C311,317 310,318 313,318C315,319 323,317 325,317M74,437C75,436 80,433 82,430C84,427 85,424 85,421C85,418 83,413 83,412M8,330C9,331 11,334 12,334C13,333 13,329 13,326C14,324 15,319 15,318M329,287C330,286 336,284 339,283C341,282 341,282 342,282C344,282 347,283 348,283M252,375C253,374 261,373 262,371C263,369 258,365 259,363C260,360 264,358 265,357M263,384C264,385 269,386 273,387C277,387 282,387 285,387C288,386 290,385 292,385M111,397C113,397 120,396 122,395C124,394 124,393 124,391C125,389 125,384 126,383M371,359C371,359 372,359 374,359C376,358 380,359 382,358C385,357 390,354 391,353M238,473C240,473 247,472 250,472C254,473 259,475 262,475C264,475 265,473 265,473M112,539C113,538 117,534 118,532C120,530 119,528 120,527C122,525 125,524 126,523M265,489C264,488 262,487 262,485C262,484 263,484 264,481C264,478 266,471 266,469M163,381C164,382 168,383 171,383C174,383 176,381 179,381C182,381 186,383 188,383M246,480C247,479 249,478 252,476C254,475 260,472 261,470C263,468 261,465 261,464M189,416C190,414 196,409 198,408C201,407 203,409 205,409C207,409 209,408 210,407M330,312C331,312 334,315 336,313C338,312 342,306 344,304C346,303 348,303 349,303M168,387C168,386 166,382 165,381C165,379 163,377 164,376C165,374 168,372 169,372M285,370C286,370 288,367 290,366C292,365 294,366 296,364C298,363 301,358 302,357M224,520C225,520 229,518 232,517C234,516 235,516 236,514C238,513 240,509 241,509M143,450C144,449 147,445 150,443C153,442 158,441 160,439C162,438 162,435 162,434M48,368C50,368 55,370 58,370C61,370 63,369 66,369C68,370 72,372 74,373M219,366C219,366 217,366 218,366C219,365 223,364 226,363C228,363 230,363 231,363M201,383C201,382 201,381 202,378C202,376 200,369 201,367C202,365 205,366 206,366M1,520C1,519 4,519 5,517C6,515 6,510 7,507C9,504 11,500 12,498M37,439C37,438 38,437 40,436C41,435 42,433 43,431C45,429 47,425 48,424M375,369C377,368 382,366 386,364C389,362 392,360 396,359C399,357 406,356 408,355M124,539C126,539 130,539 132,537C133,535 133,531 134,528C134,526 135,524 135,524M303,355C304,356 308,358 309,358C310,358 310,354 310,353C311,352 313,354 313,354M240,404C242,404 247,405 249,405C252,405 253,404 255,403C257,402 262,400 264,400M128,404C129,404 132,403 134,403C136,402 137,403 138,402C140,400 143,396 144,394M262,347C263,345 266,340 269,337C272,335 278,333 281,332C284,330 285,328 286,327M165,433C167,434 172,435 176,435C179,434 183,429 187,428C191,427 197,426 199,426M353,343C353,342 350,337 350,334C350,330 354,326 355,323C356,321 355,317 356,316M134,475C135,474 137,475 139,473C140,470 142,463 145,461C149,458 158,459 161,459M285,538C286,538 288,535 289,534C290,533 288,535 289,532C290,530 296,521 297,519M365,311C366,311 369,312 371,311C373,310 376,306 378,305C380,304 381,305 381,305M98,415C98,414 96,412 97,412C98,411 102,413 103,412C104,411 102,407 102,406M275,355C277,354 281,352 283,350C286,349 287,348 289,347C291,345 295,342 296,341M51,543C53,542 58,537 61,534C63,532 64,528 67,527C69,525 74,525 76,524M48,394C49,393 51,390 53,389C54,389 56,392 57,392C59,392 62,389 63,389M108,377C109,376 109,371 111,371C112,370 118,373 120,373C121,372 120,367 120,366M323,492C324,491 326,486 328,484C329,482 333,483 334,482C335,481 333,477 333,476M45,343C47,343 55,343 58,342C62,341 65,338 68,337C71,337 76,339 78,339M342,432C343,431 346,427 347,424C349,422 351,419 351,416C352,413 351,409 351,408M31,455C31,454 32,451 33,449C34,446 34,443 35,440C36,437 38,432 39,430M129,419C132,419 140,419 144,419C148,418 152,417 155,416C158,415 160,413 161,412M328,342C329,340 331,337 332,335C334,333 335,331 337,329C339,327 344,325 345,324M166,377C167,377 173,376 175,374C176,373 176,370 178,369C179,367 183,366 184,366M185,400C185,399 185,397 185,394C184,392 182,388 182,386C183,384 185,382 185,381M44,502C46,503 53,506 57,505C60,504 60,500 63,498C66,497 73,495 75,495M285,510C285,508 285,503 285,502C286,501 287,505 288,504C290,503 293,497 294,495M30,393C31,392 36,390 39,389C41,387 42,387 43,384C45,382 49,377 50,376M86,520C86,520 87,522 88,521C89,521 92,520 93,518C93,517 91,514 91,513M232,403C233,402 237,399 239,397C240,395 240,392 241,392C242,391 246,392 247,392M67,280C68,280 70,280 72,278C74,277 77,272 80,272C83,271 88,275 90,275M91,498C92,497 99,493 102,491C104,489 103,486 106,484C109,482 117,479 120,479M241,418C241,417 241,413 242,410C243,408 247,407 247,404C248,401 245,396 245,394M248,286C248,286 249,285 251,285C253,285 258,285 260,285C262,285 262,283 263,283M230,389C231,388 234,383 235,381C236,379 233,378 234,376C235,374 240,371 242,370M53,486C54,485 59,482 61,480C64,479 66,478 68,477C71,475 74,472 76,471M309,391C309,390 309,388 310,387C311,387 313,388 314,388C315,388 316,387 316,387M266,333C268,332 273,331 275,331C277,330 277,331 280,330C282,329 288,326 290,326M157,374C158,373 162,368 163,366C165,363 165,361 167,359C169,357 175,354 177,352M102,373C102,372 102,372 103,370C105,368 110,365 111,362C113,359 113,354 113,353M13,495C13,494 13,490 14,488C15,486 18,484 20,482C22,481 25,480 26,479M80,529C81,528 85,526 86,526C88,526 89,527 91,526C93,526 96,524 96,524M109,407C111,406 116,403 118,403C121,403 122,407 125,407C128,408 135,406 137,406M92,529C93,529 94,531 94,529C95,528 95,521 95,520C95,519 93,521 93,522M121,508C122,507 129,504 131,502C134,499 132,495 135,493C138,490 146,489 148,488M197,291C198,290 202,287 203,284C205,280 205,275 206,271C208,267 210,263 211,261M296,349C298,348 302,347 304,345C306,343 308,339 310,336C311,333 313,329 313,328M265,393C265,393 261,391 261,390C262,390 265,393 267,393C268,392 270,386 271,385M81,368C82,367 84,362 84,359C85,356 85,352 86,348C87,344 91,338 92,336M162,434C162,435 159,437 161,437C163,436 172,432 174,431C177,431 175,433 175,434" fill="none" stroke="#4c4c4c" stroke-width="3" stroke-linecap="round"/></g><g filter="url(#b6)"><path d="M205,475C209.3,472 215,480.8 221,482C227,483.2 235,483.7 241,482C247,480.3 252.7,476.7 257,472C261.3,467.3 263.2,457.2 267,454C270.8,450.8 274.8,453.5 280,453C285.2,452.5 291.2,450.7 298,451C304.8,451.3 315,455.8 321,455C327,454.2 330.5,449.7 334,446C337.5,442.3 339.5,437.2 342,433C344.5,428.8 345.2,424.3 349,421C352.8,417.7 359,415.2 365,413C371,410.8 380,409.3 385,408C390,406.7 393.3,384.2 395,405C396.7,425.8 427.5,511.7 395,533C362.5,554.3 233.3,538.5 200,533C166.7,527.5 194.2,509.7 195,500C195.8,490.3 200.7,478 205,475Z" fill="#2a2a2a"/><path d="M6,480C10,472.8 21.5,486.7 30,490C38.5,493.3 50.3,495.8 57,500C63.7,504.2 64.5,509.5 70,515C75.5,520.5 100.7,530 90,533C79.3,536 20,541.8 6,533C-8,524.2 2,487.2 6,480Z" fill="#242424"/><path d="M46,271C53.5,267.8 83.5,268 91,271C98.5,274 94.5,285 91,289C87.5,293 76.8,293.2 70,295C63.2,296.8 54,300.8 50,300C46,299.2 46.7,294.8 46,290C45.3,285.2 38.5,274.2 46,271Z" fill="#2c2c2c"/><path d="M200,271C180.8,271 265.8,266.2 280,271C294.2,275.8 281.7,292.2 285,300C288.3,307.8 292.5,315 300,318C307.5,321 318.2,320.5 330,318C341.8,315.5 360.2,306 371,303C381.8,300 391,305.3 395,300C399,294.7 427.5,275.8 395,271C362.5,266.2 219.2,271 200,271Z" fill="#333333"/><path d="M6,310C8.7,294.2 18.7,295 22,310C25.3,325 28.7,384.2 26,400C23.3,415.8 9.3,420 6,405C2.7,390 3.3,325.8 6,310Z" fill="#343434"/></g><g filter="url(#b3)"><path d="M91,289C92.3,285.3 96,285 100,283C104,281 110,278.5 115,277C120,275.5 125,274.2 130,274C135,273.8 141.7,273.3 145,276C148.3,278.7 150.8,284.3 150,290C149.2,295.7 142.5,304.2 140,310C137.5,315.8 139.2,322.5 135,325C130.8,327.5 120.8,326.2 115,325C109.2,323.8 103.8,321.3 100,318C96.2,314.7 93.5,309.8 92,305C90.5,300.2 89.7,292.7 91,289Z" fill="#727272"/><path d="M58,300C60,295 65.5,295.7 70,295C74.5,294.3 81,294.3 85,296C89,297.7 91.5,301 94,305C96.5,309 100.7,315.2 100,320C99.3,324.8 95,331.3 90,334C85,336.7 75.3,337.5 70,336C64.7,334.5 60,331 58,325C56,319 56,305 58,300Z" fill="#686868"/><path d="M25,335C27.5,321.7 35,325 40,320C45,315 52,303.3 55,305C58,306.7 59.7,320.8 58,330C56.3,339.2 48.8,349.2 45,360C41.2,370.8 38.3,388.3 35,395C31.7,401.7 26.7,410 25,400C23.3,390 22.5,348.3 25,335Z" fill="#565656"/><path d="M268,439C272.7,436.3 293.3,437.2 298,440C302.7,442.8 300.7,453.3 296,456C291.3,458.7 274.7,458.8 270,456C265.3,453.2 263.3,441.7 268,439Z" fill="#666"/><path d="M322,431C325,427.2 339,428.5 342,433C345,437.5 343,454.2 340,458C337,461.8 327,460.5 324,456C321,451.5 319,434.8 322,431Z" fill="#666"/><path d="M150,283C160,278 195,282.2 210,285C225,287.8 236.7,292.5 240,300C243.3,307.5 240,325 230,330C220,335 193.3,332.5 180,330C166.7,327.5 155,322.8 150,315C145,307.2 140,288 150,283Z" fill="#474747"/></g><g filter="url(#b08)"><path d="M3,285C4,285 6,285 8,285C9,285 11,285 12,284C14,284 16,282 16,282M42,491C43,490 48,488 49,486C51,485 52,482 52,480C53,478 52,473 51,472M78,330C79,330 80,329 80,328C81,327 81,326 81,325C81,324 80,323 80,322M253,489C254,489 256,490 258,491C259,491 261,491 262,490C264,490 266,488 266,488M269,436C269,436 269,435 270,434C270,434 270,433 271,433C271,432 272,431 272,431M183,317C184,316 185,313 187,311C188,309 190,308 192,307C194,307 198,307 199,307M167,482C168,482 170,482 171,482C172,481 174,481 175,481C176,480 178,479 179,479" fill="none" stroke="#787878" stroke-width="1.3" stroke-linecap="round"/><path d="M197,520C198,519 200,516 201,515C202,514 204,514 205,515C207,515 210,517 210,518M120,519C120,519 119,517 118,516C117,515 117,515 116,514C115,513 113,513 112,513M155,536C157,536 160,537 162,537C164,536 165,535 167,534C168,532 168,529 169,527M176,512C177,511 179,508 181,507C182,506 184,505 186,505C188,504 192,505 193,505M341,441C341,440 342,439 343,438C344,438 345,437 346,436C347,436 348,435 349,435" fill="none" stroke="#787878" stroke-width="1.8" stroke-linecap="round"/><path d="M223,355C224,355 225,354 226,353C227,352 228,351 228,351C229,350 230,348 230,348M54,466C54,467 56,468 57,468C58,468 59,467 59,467C60,466 61,464 61,464M361,374C361,374 360,372 360,372C359,371 359,370 358,369C358,369 357,368 357,368M160,356C161,356 164,357 165,357C167,357 169,357 170,356C172,356 174,354 175,354" fill="none" stroke="#6a6a6a" stroke-width="1.2" stroke-linecap="round"/><path d="M35,457C37,457 43,457 45,457C48,456 49,454 50,452C50,449 48,443 48,441M309,340C310,339 313,338 315,337C317,336 319,336 321,335C323,335 327,335 328,334M135,317C136,317 137,319 138,319C139,320 140,320 141,320C142,319 144,318 144,318M37,386C37,385 37,382 38,380C38,378 38,376 39,374C40,372 41,369 41,368" fill="none" stroke="#888888" stroke-width="1.1" stroke-linecap="round"/><path d="M136,479C137,478 141,478 143,477C145,476 147,475 148,474C150,473 153,471 153,470M135,420C136,421 138,421 139,421C141,420 142,420 144,420C145,419 147,419 148,418M209,296C209,295 209,292 209,290C210,289 210,287 211,285C212,284 214,281 214,281M204,367C205,366 207,366 209,366C210,365 211,365 213,364C214,363 216,362 216,362M335,377C336,376 337,376 339,376C340,376 341,376 342,376C343,376 345,377 346,377M237,316C238,316 240,315 242,316C243,316 244,317 245,318C247,319 248,321 248,321M53,452C54,451 56,448 57,446C58,444 58,442 58,440C58,437 57,434 57,433M23,522C24,522 26,521 27,521C29,520 30,520 32,520C33,519 35,519 36,519M49,356C49,355 48,351 47,349C47,347 45,345 44,343C42,341 38,339 37,339" fill="none" stroke="#888888" stroke-width="1.8" stroke-linecap="round"/><path d="M117,350C118,350 119,350 120,350C122,349 123,349 124,348C125,348 126,346 126,346M275,375C275,374 273,371 272,370C272,368 271,366 271,364C270,362 270,359 270,358M384,425C384,425 385,424 386,424C387,424 388,424 389,424C390,424 391,424 391,424M379,495C380,494 382,492 383,491C384,491 386,490 388,490C389,489 392,489 393,489" fill="none" stroke="#787878" stroke-width="2" stroke-linecap="round"/><path d="M168,416C169,415 171,412 172,410C174,408 175,406 177,404C178,402 181,400 182,399M101,450C101,449 101,448 102,448C102,447 102,446 102,446C103,445 103,444 103,444M251,449C251,448 252,447 253,447C253,446 254,445 254,444C254,444 254,442 254,442M336,461C337,461 338,461 338,461C339,461 340,461 340,461C341,462 342,462 342,462M383,302C384,302 385,301 386,301C386,300 387,300 388,299C388,298 389,297 389,297M90,508C91,508 94,507 95,507C97,506 98,506 100,505C101,505 103,504 104,504" fill="none" stroke="#6a6a6a" stroke-width="1" stroke-linecap="round"/><path d="M266,391C267,391 269,392 271,392C272,392 274,392 275,392C276,391 279,390 279,390M307,479C309,479 312,479 314,478C316,477 318,476 320,475C322,474 324,471 324,470M382,345C382,345 384,344 385,344C387,344 388,344 389,345C390,345 391,347 392,347M327,463C327,463 328,461 328,461C329,460 330,459 331,458C331,458 333,457 333,457M216,415C217,416 218,416 219,416C220,417 221,417 222,417C223,418 225,418 225,418" fill="none" stroke="#888888" stroke-width="1.5" stroke-linecap="round"/><path d="M166,493C166,492 164,489 164,488C164,486 164,484 165,482C165,480 167,477 168,477M109,476C109,475 108,472 108,470C109,469 109,467 110,466C111,465 114,463 115,463M152,296C153,296 154,294 154,294C154,293 154,292 154,292C153,291 152,290 152,290M363,489C363,489 364,486 364,485C365,484 366,483 367,482C368,481 370,480 371,480M88,445C89,446 94,449 96,450C99,450 101,450 103,448C104,446 106,440 107,439" fill="none" stroke="#6a6a6a" stroke-width="2" stroke-linecap="round"/><path d="M184,345C185,344 185,343 186,343C186,342 186,341 186,340C186,340 186,338 186,338M299,415C300,415 300,413 300,412C300,410 301,409 302,408C302,407 303,406 304,406M162,332C162,332 163,330 163,329C164,329 165,328 166,328C167,328 168,328 169,328M95,413C95,413 96,413 97,412C97,412 98,411 99,411C99,410 101,410 101,410M324,493C324,492 325,490 325,489C326,488 327,487 327,486C328,485 329,484 330,483M86,429C86,428 86,426 87,425C87,423 87,422 88,421C88,419 89,417 89,417M355,399C356,399 359,396 360,394C362,392 363,391 365,389C366,387 369,384 369,383M22,380C21,378 20,373 20,371C21,368 22,366 24,365C26,363 32,362 33,362M242,348C243,347 245,345 246,343C247,342 247,340 248,338C248,336 248,333 248,332" fill="none" stroke="#5e5e5e" stroke-width="1.8" stroke-linecap="round"/><path d="M345,533C346,533 347,531 349,531C350,530 352,529 353,529C355,529 357,528 358,528M304,322C304,322 305,320 306,320C307,319 308,318 308,317C309,316 310,315 311,315M297,411C298,411 300,410 302,410C304,410 306,410 307,409C309,409 312,408 313,408M36,485C36,484 38,481 38,479C39,477 40,475 40,473C41,471 42,468 42,467M182,479C182,479 183,478 183,477C183,476 184,476 185,475C185,475 186,474 187,474" fill="none" stroke="#787878" stroke-width="1.9" stroke-linecap="round"/><path d="M337,326C337,326 339,326 340,326C341,326 341,325 342,325C342,324 343,323 343,323M206,405C207,404 207,402 208,401C209,400 209,399 211,399C212,399 214,399 214,399M271,401C271,401 270,399 269,397C269,396 269,395 269,393C268,392 269,390 269,389M305,306C306,306 309,306 310,306C312,306 314,307 315,307C317,308 319,309 320,309" fill="none" stroke="#6a6a6a" stroke-width="1.3" stroke-linecap="round"/><path d="M314,517C315,517 319,517 321,516C323,515 325,514 326,513C328,511 330,509 331,508M131,349C131,348 130,347 130,346C130,345 130,344 130,344C130,343 131,342 131,341M183,474C183,473 183,470 184,468C184,467 184,465 184,463C185,461 185,458 186,457M143,434C143,433 146,432 147,431C148,431 150,431 151,431C153,431 155,432 156,432M237,416C237,416 239,415 241,415C242,415 244,415 245,415C246,416 248,416 249,416M21,407C21,407 20,405 20,404C19,403 19,402 19,400C19,399 19,397 19,397M85,279C86,279 89,280 91,279C92,279 94,278 95,277C96,275 96,272 97,271M230,291C230,290 233,287 234,285C235,283 235,280 235,278C235,276 233,272 233,270" fill="none" stroke="#6a6a6a" stroke-width="1.9" stroke-linecap="round"/><path d="M98,318C98,317 100,316 101,315C101,314 102,314 103,312C103,311 104,310 104,309M325,415C325,414 324,411 324,410C324,408 323,406 323,404C322,402 321,399 321,398M222,395C223,394 226,393 228,392C229,391 231,390 232,388C233,387 233,384 234,383M111,523C112,522 114,519 115,517C117,515 119,514 121,513C123,512 127,511 128,510M76,513C77,512 80,510 82,508C83,506 84,504 84,501C83,499 81,495 81,493" fill="none" stroke="#5e5e5e" stroke-width="1.9" stroke-linecap="round"/><path d="M286,531C286,531 288,531 289,530C290,530 291,529 292,528C292,527 293,525 293,525M293,417C292,417 292,415 292,413C292,412 292,411 292,410C292,408 293,406 293,406M29,357C30,357 33,358 35,358C37,358 39,357 41,356C43,355 45,353 46,353M341,458C341,457 340,456 340,455C340,454 340,453 340,452C340,451 340,449 340,449" fill="none" stroke="#888888" stroke-width="1.4" stroke-linecap="round"/><path d="M132,324C132,323 132,322 132,322C133,321 133,320 133,320C133,319 134,318 134,318M161,473C161,473 162,472 162,471C163,470 163,470 164,469C164,469 165,468 166,468" fill="none" stroke="#888888" stroke-width="1.3" stroke-linecap="round"/><path d="M337,491C338,490 339,488 340,486C340,484 341,483 342,481C343,480 345,477 346,477M111,514C111,515 111,518 111,520C111,521 112,523 113,524C114,526 117,528 118,528M107,391C108,390 110,388 112,386C113,384 115,382 116,380C117,378 119,375 119,374M330,414C331,413 332,412 333,412C334,411 335,411 336,411C337,411 339,411 340,411M282,364C282,363 282,361 282,360C283,359 283,358 284,357C284,356 286,355 286,354M278,418C278,417 277,413 277,411C277,409 278,407 279,405C280,403 283,400 284,399M97,484C98,483 99,481 100,480C100,479 101,478 101,477C101,475 101,473 101,473M168,481C168,481 171,480 172,480C173,479 174,478 175,477C175,476 175,473 176,473M171,347C170,346 169,345 168,343C168,342 167,341 167,340C167,339 167,337 167,336" fill="none" stroke="#787878" stroke-width="1.1" stroke-linecap="round"/><path d="M363,505C363,505 365,505 365,505C366,506 367,506 368,506C369,507 369,508 370,509M382,291C382,291 384,290 385,290C386,290 387,290 388,290C389,290 390,290 391,290M347,465C348,465 350,465 352,465C354,466 356,465 358,465C359,465 362,464 363,464M42,479C42,478 43,475 44,473C45,472 46,470 46,468C47,466 49,463 49,462" fill="none" stroke="#5e5e5e" stroke-width="1" stroke-linecap="round"/><path d="M25,509C26,509 28,510 29,510C30,511 32,511 33,511C34,510 36,510 37,509M3,335C3,333 4,330 5,328C6,326 7,324 9,322C10,320 12,318 13,317M391,280C391,279 392,278 392,278C393,277 394,276 394,276C394,275 395,274 395,274M271,358C272,358 275,357 277,357C279,356 281,355 283,354C285,353 288,350 289,350" fill="none" stroke="#6a6a6a" stroke-width="1.5" stroke-linecap="round"/><path d="M12,295C13,294 16,293 18,292C20,292 22,293 24,293C26,294 28,297 29,298M172,491C172,491 173,489 174,488C175,487 176,486 177,486C178,486 181,485 181,485M137,376C136,375 134,372 133,370C131,368 130,366 129,364C127,363 125,360 124,359" fill="none" stroke="#5e5e5e" stroke-width="2" stroke-linecap="round"/><path d="M49,526C50,526 51,526 52,526C53,526 54,526 55,527C56,527 57,527 58,527M266,418C266,418 269,416 270,414C271,413 271,411 271,410C271,408 269,405 268,404M224,400C225,400 227,400 228,400C230,400 231,400 233,400C234,400 236,400 237,400M75,354C76,354 78,354 80,354C81,354 83,354 84,355C86,355 88,355 89,355M372,357C373,357 374,357 374,357C375,357 376,356 376,356C377,355 377,354 378,354M254,461C254,461 256,460 257,460C259,460 260,459 261,459C262,458 264,458 265,457M61,528C61,528 63,527 64,527C65,526 67,526 68,525C69,525 71,525 71,524" fill="none" stroke="#888888" stroke-width="1.7" stroke-linecap="round"/><path d="M345,293C345,293 344,290 344,288C344,287 345,285 346,284C347,283 349,281 350,280M190,332C190,332 192,332 193,333C194,333 194,334 195,335C196,335 197,336 198,337M290,455C290,454 290,450 290,448C291,446 291,444 291,442C291,439 292,436 292,435M351,446C351,446 352,443 352,442C353,441 354,440 355,439C356,438 358,436 358,436M285,311C286,311 289,308 291,308C294,307 296,307 298,308C300,309 303,312 304,312" fill="none" stroke="#888888" stroke-width="1.6" stroke-linecap="round"/><path d="M96,293C97,293 101,292 103,292C105,293 107,293 108,295C109,296 111,299 112,300M270,523C271,522 272,520 272,519C272,518 272,517 271,517C270,516 268,515 267,515M206,528C207,527 209,524 209,523C210,521 210,519 210,517C210,515 209,512 208,511M102,296C103,296 106,295 107,294C109,294 110,293 111,291C112,290 113,287 114,286" fill="none" stroke="#5e5e5e" stroke-width="1.5" stroke-linecap="round"/><path d="M64,336C64,335 64,334 65,333C65,333 65,332 66,331C66,330 67,329 67,329M211,329C211,329 213,329 215,329C216,329 217,329 218,328C220,328 221,327 222,327M153,436C153,436 154,433 155,432C155,431 156,430 158,429C159,428 161,428 162,428M281,405C282,406 284,406 285,407C286,407 288,408 289,408C290,409 292,410 293,410M344,438C344,437 346,435 347,433C349,432 350,430 351,429C353,427 354,425 355,425M64,441C64,441 65,442 66,443C67,443 67,443 68,443C69,443 70,443 71,442M333,283C333,282 336,279 337,276C338,274 339,272 339,269C339,267 337,263 337,262" fill="none" stroke="#6a6a6a" stroke-width="1.1" stroke-linecap="round"/><path d="M34,328C35,327 38,325 40,324C42,323 44,323 46,323C49,323 52,325 53,325M332,381C333,381 336,384 338,385C340,386 342,387 344,389C346,390 349,391 350,392M138,373C139,372 141,369 143,368C145,367 147,366 149,365C151,365 155,365 156,365M99,420C99,419 99,417 99,416C99,415 99,414 100,413C101,412 102,412 103,411M127,483C127,482 129,481 130,480C131,480 132,479 133,479C134,478 136,478 137,478M192,443C192,442 191,440 191,438C191,437 192,435 192,434C193,433 195,431 196,431" fill="none" stroke="#6a6a6a" stroke-width="1.7" stroke-linecap="round"/><path d="M266,519C266,519 268,517 269,516C269,514 270,513 270,511C270,510 270,508 271,507M376,524C376,525 379,528 381,529C383,530 385,530 387,531C389,531 393,530 394,530M67,462C68,463 72,464 74,464C77,464 79,464 82,465C84,465 88,465 89,465" fill="none" stroke="#6a6a6a" stroke-width="1.6" stroke-linecap="round"/><path d="M322,427C322,426 325,424 326,423C327,423 329,422 330,423C332,423 334,425 335,425M54,362C54,362 53,359 53,358C53,356 53,355 53,353C52,351 52,349 52,348M27,402C28,401 31,399 33,398C35,397 37,396 39,396C41,395 45,395 46,395M98,363C99,362 103,361 105,360C107,358 109,356 110,354C111,352 112,349 112,347" fill="none" stroke="#5e5e5e" stroke-width="1.1" stroke-linecap="round"/><path d="M29,283C29,282 30,281 31,280C32,279 32,279 33,278C33,277 34,275 35,275M263,364C263,364 264,363 265,362C266,362 266,361 267,360C267,359 268,358 268,357M13,488C13,487 13,484 13,482C14,481 15,480 16,479C18,478 21,478 22,478" fill="none" stroke="#787878" stroke-width="1.4" stroke-linecap="round"/><path d="M140,335C140,336 142,336 143,336C144,336 145,336 146,335C147,335 148,333 149,333M98,412C97,411 97,409 97,408C97,407 97,406 98,405C98,403 99,402 100,401M220,532C220,531 220,529 221,528C221,526 221,525 221,523C221,522 222,520 222,519M44,521C44,520 46,518 48,517C49,516 51,515 53,515C54,515 57,515 58,515M145,421C146,421 149,421 151,421C152,421 154,420 156,420C158,419 160,418 161,418M352,511C353,511 356,512 358,512C359,512 361,511 362,510C363,509 364,506 365,505" fill="none" stroke="#5e5e5e" stroke-width="1.3" stroke-linecap="round"/><path d="M23,371C23,371 22,371 21,370C21,369 20,369 20,368C20,368 20,366 20,366M274,439C275,439 276,439 277,439C277,439 278,439 279,439C280,439 281,439 281,439" fill="none" stroke="#787878" stroke-width="1.6" stroke-linecap="round"/><path d="M63,305C63,304 63,303 63,302C63,301 63,300 63,299C64,298 64,297 64,296M251,469C252,469 255,469 256,469C258,469 260,469 262,468C263,468 266,467 267,466M183,447C182,447 179,445 178,443C178,442 177,440 177,439C177,437 179,434 179,433M110,382C111,382 112,381 113,380C113,379 114,379 114,378C115,377 116,376 116,375M276,490C277,489 282,486 284,484C286,482 286,480 286,477C285,475 282,470 281,469M359,450C359,450 360,448 360,447C360,447 361,446 362,446C363,445 364,445 364,445" fill="none" stroke="#5e5e5e" stroke-width="1.7" stroke-linecap="round"/><path d="M281,326C282,326 284,326 285,325C286,325 287,324 288,324C289,324 291,323 291,323M94,490C95,489 96,488 97,488C98,487 99,486 100,485C100,485 101,483 102,483M219,287C220,286 223,284 224,282C226,281 227,279 228,276C229,274 229,271 230,270M347,440C348,440 351,439 352,439C354,438 355,437 356,435C357,434 358,431 358,430" fill="none" stroke="#787878" stroke-width="1.7" stroke-linecap="round"/><path d="M360,536C361,536 363,535 365,534C366,534 368,533 369,532C371,531 372,529 373,528M186,503C187,503 189,503 190,503C191,504 192,504 193,505C193,506 194,508 194,508M227,334C227,333 228,333 229,333C230,332 231,332 232,332C232,332 234,333 234,333M129,278C129,278 129,277 129,276C130,276 130,275 131,275C132,274 133,274 133,274M248,280C249,280 252,278 253,278C255,277 257,277 260,277C262,277 265,278 266,278M123,377C123,377 125,376 126,375C126,375 127,374 127,373C127,372 126,370 126,370" fill="none" stroke="#888888" stroke-width="1.2" stroke-linecap="round"/><path d="M64,419C65,419 67,419 69,419C70,419 72,419 73,418C75,418 77,418 78,418M295,500C296,499 299,498 301,497C302,495 302,494 302,492C302,490 300,487 299,486" fill="none" stroke="#5e5e5e" stroke-width="1.2" stroke-linecap="round"/><path d="M128,278C127,277 124,275 124,274C123,273 123,271 123,270C124,269 126,266 127,266M115,364C116,363 116,362 117,362C117,361 118,361 119,361C119,361 121,361 121,361M116,280C117,279 120,277 121,275C123,274 124,272 124,270C124,267 124,264 124,263M190,349C191,348 192,346 192,345C192,344 192,342 192,341C192,340 192,338 192,337M230,367C230,367 229,366 229,365C229,364 229,363 229,362C230,361 231,360 231,360" fill="none" stroke="#5e5e5e" stroke-width="1.4" stroke-linecap="round"/><path d="M100,444C100,443 101,440 102,439C103,438 104,438 105,438C106,438 109,439 110,439M184,418C184,417 185,416 185,415C185,415 185,414 185,413C185,412 185,411 185,411M357,275C358,274 362,273 364,273C366,272 368,272 371,272C373,271 376,271 378,271" fill="none" stroke="#6a6a6a" stroke-width="1.4" stroke-linecap="round"/><path d="M172,367C173,367 176,365 178,364C180,364 182,363 184,363C186,363 189,363 190,363M75,396C76,395 76,394 77,393C78,392 78,392 79,391C80,390 81,389 81,389M157,404C158,404 161,403 162,402C164,402 166,401 168,400C170,400 173,399 174,398M316,304C317,303 319,302 320,301C321,300 322,299 323,298C324,297 326,295 326,294M165,512C166,511 168,509 169,508C170,506 172,505 173,504C175,503 177,502 178,501" fill="none" stroke="#5e5e5e" stroke-width="1.6" stroke-linecap="round"/><path d="M140,347C141,347 142,346 144,345C145,345 146,344 146,343C147,343 149,341 149,341M368,336C368,336 371,336 372,336C373,336 375,336 376,336C377,335 379,334 380,334" fill="none" stroke="#6a6a6a" stroke-width="1.8" stroke-linecap="round"/><path d="M124,468C124,467 123,465 123,463C123,461 123,459 123,458C124,456 125,454 126,453" fill="none" stroke="#888888" stroke-width="1" stroke-linecap="round"/><path d="M40,516C41,515 42,513 42,512C43,510 42,509 42,507C42,506 40,504 40,503M64,291C65,291 66,289 67,288C68,287 69,286 70,285C71,284 72,282 73,282" fill="none" stroke="#787878" stroke-width="1.2" stroke-linecap="round"/><path d="M331,508C331,508 332,507 333,506C333,505 334,505 334,504C335,503 336,502 336,502" fill="none" stroke="#787878" stroke-width="1.5" stroke-linecap="round"/></g><g filter="url(#b1)"><path d="M200,293C206.1,292.4 228.5,288.9 236.7,289.3C244.8,289.7 242.8,294 248.9,295.4C255,296.8 266,295 273.3,297.9C280.6,300.8 286.8,308.1 292.9,312.6C299,317.1 303.9,323.8 310,324.8C316.1,325.8 323.5,321.1 329.6,318.7C335.7,316.2 339.8,312.8 346.7,310.1C353.6,307.5 363.1,304.4 371.1,302.8C379.2,301.2 391,300.7 395,300.3" fill="none" stroke="#b8b8b8" stroke-width="3" stroke-linecap="round"/><path d="M91,289C92.5,288 96,285 100,283C104,281 110,278.5 115,277C120,275.5 124.2,275 130,274C135.8,273 146.7,271.5 150,271" fill="none" stroke="#b4b4b4" stroke-width="2.6" stroke-linecap="round"/><path d="M58,300C60,299.2 65.5,295.7 70,295C74.5,294.3 81,294.3 85,296C89,297.7 91.5,301.3 94,305C96.5,308.7 99,315.8 100,318" fill="none" stroke="#acacac" stroke-width="2.6" stroke-linecap="round"/><path d="M40,320C38.4,323.2 32.7,333 30.3,339C27.9,345 25.9,349.1 25.5,356C25.1,362.9 28.7,373.2 27.9,380.5C27.1,387.8 21.8,396.8 20.6,400" fill="none" stroke="#a4a4a4" stroke-width="2.6" stroke-linecap="round"/><path d="M205.4,474.6C208,475.9 214.8,481 220.8,482.3C226.8,483.6 235.4,484 241.4,482.3C247.4,480.6 252.5,476.7 256.8,472C261.1,467.3 263.2,457.2 267.1,454C271,450.8 274.9,453.1 280,452.7C285.1,452.3 291.1,451 298,451.4C304.9,451.8 315.1,456.1 321.1,455.3C327.1,454.5 330.6,450 334,446.3C337.4,442.6 339.1,437.7 341.7,433.4C344.3,429.1 345.5,424 349.4,420.6C353.2,417.2 358.8,415 364.8,412.9C370.8,410.8 380.4,409 385.4,407.7C390.4,406.4 393.4,405.5 395,405.1" fill="none" stroke="#c4c4c4" stroke-width="3" stroke-linecap="round"/><path d="M57.3,473C58.1,477.5 60.2,493.1 62.2,500C64.2,506.9 65.5,511.7 69.6,514.5C73.7,517.3 80.2,515.4 86.7,517C93.2,518.6 105,522.8 108.7,524" fill="none" stroke="#a4a4a4" stroke-width="2.6" stroke-linecap="round"/></g><g filter="url(#b2)"><path d="M205,479C207.7,480.2 215,484.8 221,486C227,487.2 235,487.7 241,486C247,484.3 252.5,480.7 257,476C261.5,471.3 264.2,461.2 268,458C271.8,454.8 275,457.3 280,457C285,456.7 291.2,455.7 298,456C304.8,456.3 315,459.8 321,459C327,458.2 330.3,454.5 334,451C337.7,447.5 340.2,442.3 343,438C345.8,433.7 347.2,428.5 351,425C354.8,421.5 360.2,419.2 366,417C371.8,414.8 381.2,413.3 386,412C390.8,410.7 393.5,409.5 395,409" fill="none" stroke="#111" stroke-width="3.5" stroke-linecap="round"/></g><g filter="url(#b2)"><path fill="#4a4a4a" d="M93.1 398.6a7 5 -47 1 0 9.5 -10.2a7 5 -47 1 0 -9.5 10.2M15.9 515.6a9.7 4.8 -79 1 0 3.7 -19.1a9.7 4.8 -79 1 0 -3.7 19.1M9.8 289.5a7.7 5.6 -86 1 0 1 -15.4a7.7 5.6 -86 1 0 -1 15.4M205.1 353.5a9.1 5.2 -34 1 0 15.1 -10.3a9.1 5.2 -34 1 0 -15.1 10.3M211.6 521.6a7.5 5.1 -19 1 0 14.2 -4.9a7.5 5.1 -19 1 0 -14.2 4.9M252.2 366.6a9.3 5.8 -46 1 0 12.8 -13.4a9.3 5.8 -46 1 0 -12.8 13.4M258.5 378.4a7.1 5.7 -23 1 0 13.2 -5.5a7.1 5.7 -23 1 0 -13.2 5.5M181.2 472.7a7.2 5.3 -6 1 0 14.3 -1.5a7.2 5.3 -6 1 0 -14.3 1.5M361 318.3a7.3 5 -22 1 0 13.6 -5.5a7.3 5 -22 1 0 -13.6 5.5M339 456.4a8.4 5.2 -57 1 0 9.2 -14.1a8.4 5.2 -57 1 0 -9.2 14.1M242.5 465.3a9.9 4.9 -21 1 0 18.5 -7.1a9.9 4.9 -21 1 0 -18.5 7.1M43.5 310.7a10.4 5.6 -1 1 0 20.7 -0.4a10.4 5.6 -1 1 0 -20.7 0.4M370.4 308.2a7.8 5.6 -87 1 0 0.8 -15.6a7.8 5.6 -87 1 0 -0.8 15.6M312.8 476.1a11.1 4.7 -54 1 0 13.2 -17.9a11.1 4.7 -54 1 0 -13.2 17.9M74.2 411.1a11.5 5.9 -50 1 0 14.6 -17.7a11.5 5.9 -50 1 0 -14.6 17.7M366.6 287.9a11.4 5 -55 1 0 13.2 -18.6a11.4 5 -55 1 0 -13.2 18.6M359.7 515.1a11 4.6 -42 1 0 16.3 -14.8a11 4.6 -42 1 0 -16.3 14.8M28 277.6a10.5 4.9 -10 1 0 20.7 -3.8a10.5 4.9 -10 1 0 -20.7 3.8M166.2 297.4a11.6 5.2 -1 1 0 23.2 -0.4a11.6 5.2 -1 1 0 -23.2 0.4M257.5 347.9a9.3 5.7 -36 1 0 15.1 -10.8a9.3 5.7 -36 1 0 -15.1 10.8M281.9 277.2a11.5 5.2 -41 1 0 17.3 -15.2a11.5 5.2 -41 1 0 -17.3 15.2M27.6 318.3a9.3 5 -57 1 0 10.3 -15.5a9.3 5 -57 1 0 -10.3 15.5M342.2 328a9.5 4.8 -15 1 0 18.4 -5a9.5 4.8 -15 1 0 -18.4 5M326.6 401.5a11.6 6 -35 1 0 18.9 -13.4a11.6 6 -35 1 0 -18.9 13.4M226.5 500.2a11.4 4.5 -55 1 0 13.1 -18.7a11.4 4.5 -55 1 0 -13.1 18.7M150.3 467.7a11 5.2 -38 1 0 17.2 -13.5a11 5.2 -38 1 0 -17.2 13.5M124 404.3a10.8 5.8 -7 1 0 21.5 -2.6a10.8 5.8 -7 1 0 -21.5 2.6M34.4 471a11.3 5.1 -10 1 0 22.3 -3.8a11.3 5.1 -10 1 0 -22.3 3.8M158.2 493a10.5 4.7 -35 1 0 17.3 -12a10.5 4.7 -35 1 0 -17.3 12M97.1 388.8a9.8 4.6 -64 1 0 8.6 -17.6a9.8 4.6 -64 1 0 -8.6 17.6M356.2 303.2a10.9 4.6 -63 1 0 9.8 -19.4a10.9 4.6 -63 1 0 -9.8 19.4M151.6 458.4a11 5.4 -51 1 0 13.9 -17a11 5.4 -51 1 0 -13.9 17M320.6 449.4a10.3 5.4 -68 1 0 7.8 -19.1a10.3 5.4 -68 1 0 -7.8 19.1M339.5 495.9a9.5 5.1 -49 1 0 12.6 -14.3a9.5 5.1 -49 1 0 -12.6 14.3M87.6 434.4a11.5 5.4 -23 1 0 21.2 -9.1a11.5 5.4 -23 1 0 -21.2 9.1M133.4 325.8a7.7 5.9 -32 1 0 13.1 -8.1a7.7 5.9 -32 1 0 -13.1 8.1M162.5 534.8a10.7 5.8 -58 1 0 11.4 -18a10.7 5.8 -58 1 0 -11.4 18M172.9 385.3a8.5 4.9 -63 1 0 7.6 -15.2a8.5 4.9 -63 1 0 -7.6 15.2M279 418.5a11.7 5.1 -39 1 0 18.1 -14.7a11.7 5.1 -39 1 0 -18.1 14.7M161.6 351.3a10 5 -20 1 0 18.7 -7a10 5 -20 1 0 -18.7 7M172.8 322a11.2 4.8 -22 1 0 20.8 -8.4a11.2 4.8 -22 1 0 -20.8 8.4M129.1 340.7a8.8 4.6 -31 1 0 15.1 -8.9a8.8 4.6 -31 1 0 -15.1 8.9M186.9 357.9a7.1 4.6 -40 1 0 10.9 -9a7.1 4.6 -40 1 0 -10.9 9M371.7 330.4a8.9 5.2 -57 1 0 9.8 -15a8.9 5.2 -57 1 0 -9.8 15M11.3 437.5a7.7 4.7 -31 1 0 13.1 -7.8a7.7 4.7 -31 1 0 -13.1 7.8M301 281.4a11.9 5.4 -15 1 0 22.9 -6.1a11.9 5.4 -15 1 0 -22.9 6.1M63.9 527.7a10.3 5.6 -43 1 0 15.1 -14a10.3 5.6 -43 1 0 -15.1 14M120.4 390.1a8.5 5.2 -52 1 0 10.5 -13.3a8.5 5.2 -52 1 0 -10.5 13.3M90.5 414.8a10.1 5.9 -51 1 0 12.7 -15.8a10.1 5.9 -51 1 0 -12.7 15.8M198.1 415.8a8.2 5.8 -14 1 0 16 -3.9a8.2 5.8 -14 1 0 -16 3.9M288.4 506a9.5 5.4 -27 1 0 17 -8.6a9.5 5.4 -27 1 0 -17 8.6M205.9 378.6a9 4.9 -51 1 0 11.4 -13.9a9 4.9 -51 1 0 -11.4 13.9M314.5 487.2a8.9 5.5 2 1 0 17.8 0.5a8.9 5.5 2 1 0 -17.8 -0.5M361.9 273.8a7.7 5.6 -47 1 0 10.5 -11.2a7.7 5.6 -47 1 0 -10.5 11.2M43.3 391.8a11.7 4.7 -33 1 0 19.6 -12.8a11.7 4.7 -33 1 0 -19.6 12.8M37 344.6a6.8 4.8 -79 1 0 2.7 -13.3a6.8 4.8 -79 1 0 -2.7 13.3M268.9 370.6a10 5.1 -83 1 0 2.3 -19.8a10 5.1 -83 1 0 -2.3 19.8M101.7 450.3a6.7 4.8 -43 1 0 9.7 -9.2a6.7 4.8 -43 1 0 -9.7 9.2M156.6 430.8a11.9 4.8 -14 1 0 23.1 -5.8a11.9 4.8 -14 1 0 -23.1 5.8M297 431.3a9.5 5.6 -58 1 0 10.1 -16.2a9.5 5.6 -58 1 0 -10.1 16.2M91.8 346.8a9.8 5.2 -11 1 0 19.2 -3.7a9.8 5.2 -11 1 0 -19.2 3.7M275.5 535.3a9.4 5.6 -30 1 0 16.2 -9.5a9.4 5.6 -30 1 0 -16.2 9.5M93.4 336a8.7 5.4 -48 1 0 11.7 -12.8a8.7 5.4 -48 1 0 -11.7 12.8M54.4 516.3a10.1 5.1 -64 1 0 8.8 -18.2a10.1 5.1 -64 1 0 -8.8 18.2M115.3 385.2a8.8 5.1 -86 1 0 1.2 -17.6a8.8 5.1 -86 1 0 -1.2 17.6M219.6 402a8.6 5.4 -19 1 0 16.2 -5.7a8.6 5.4 -19 1 0 -16.2 5.7M101.8 534.8a8.4 5.2 -22 1 0 15.5 -6.2a8.4 5.2 -22 1 0 -15.5 6.2M280 350.4a9.4 5.6 -36 1 0 15.2 -11.2a9.4 5.6 -36 1 0 -15.2 11.2M207.6 282.4a8.7 6 -51 1 0 10.9 -13.5a8.7 6 -51 1 0 -10.9 13.5M65.2 463.3a11.4 5 -50 1 0 14.8 -17.4a11.4 5 -50 1 0 -14.8 17.4M60.8 330.4a12 4.6 -35 1 0 19.6 -13.8a12 4.6 -35 1 0 -19.6 13.8M174.4 339a9.2 5.8 -44 1 0 13.1 -12.8a9.2 5.8 -44 1 0 -13.1 12.8M227.8 369.9a7.6 6 -43 1 0 11.1 -10.4a7.6 6 -43 1 0 -11.1 10.4M384.7 380.7a10.4 5 -46 1 0 14.6 -15a10.4 5 -46 1 0 -14.6 15M115.3 315.3a8.4 5.7 -36 1 0 13.6 -9.8a8.4 5.7 -36 1 0 -13.6 9.8M361.2 423.3a12 4.6 -59 1 0 12.3 -20.5a12 4.6 -59 1 0 -12.3 20.5M224.4 330.1a10.9 5.2 -64 1 0 9.7 -19.5a10.9 5.2 -64 1 0 -9.7 19.5M368.6 391.7a11.7 4.6 -58 1 0 12.6 -19.8a11.7 4.6 -58 1 0 -12.6 19.8M212.2 360.8a11.4 5.1 -29 1 0 19.8 -11a11.4 5.1 -29 1 0 -19.8 11M155.9 478.8a9.2 5.7 -47 1 0 12.5 -13.5a9.2 5.7 -47 1 0 -12.5 13.5M237.3 539a8.7 5.9 -45 1 0 12.2 -12.3a8.7 5.9 -45 1 0 -12.2 12.3M322.3 503.9a7.8 5.9 -30 1 0 13.5 -7.8a7.8 5.9 -30 1 0 -13.5 7.8M182.3 375.4a10.8 5.1 -24 1 0 19.8 -8.7a10.8 5.1 -24 1 0 -19.8 8.7M16.3 389.1a10 5.9 -61 1 0 9.6 -17.6a10 5.9 -61 1 0 -9.6 17.6M176 519.5a9.4 5.8 -31 1 0 16.2 -9.7a9.4 5.8 -31 1 0 -16.2 9.7M102.5 354.5a11.8 5.7 -18 1 0 22.6 -7.2a11.8 5.7 -18 1 0 -22.6 7.2M199.6 430.6a7.5 5.7 -45 1 0 10.7 -10.6a7.5 5.7 -45 1 0 -10.7 10.6M82.8 387.2a8.1 5.6 -42 1 0 12 -11a8.1 5.6 -42 1 0 -12 11M141.2 411.8a11 5.7 -49 1 0 14.3 -16.7a11 5.7 -49 1 0 -14.3 16.7M30 382.6a7.2 5.8 -48 1 0 9.8 -10.7a7.2 5.8 -48 1 0 -9.8 10.7M165.5 395.1a10.2 4.9 -10 1 0 20.1 -3.6a10.2 4.9 -10 1 0 -20.1 3.6M261.7 448.3a9.4 5.8 -58 1 0 10.1 -15.9a9.4 5.8 -58 1 0 -10.1 15.9M205.1 319.2a8.1 4.8 -8 1 0 16 -2.4a8.1 4.8 -8 1 0 -16 2.4M244.3 405.6a7.1 5 -27 1 0 12.6 -6.6a7.1 5 -27 1 0 -12.6 6.6M281.1 303.2a7.1 5.3 -24 1 0 13 -5.8a7.1 5.3 -24 1 0 -13 5.8M104.2 528.7a7.1 5.7 -88 1 0 0.5 -14.3a7.1 5.7 -88 1 0 -0.5 14.3M352.8 352.5a9.7 4.9 -32 1 0 16.3 -10.4a9.7 4.9 -32 1 0 -16.3 10.4M52.8 284.1a7.6 5.2 -26 1 0 13.8 -6.6a7.6 5.2 -26 1 0 -13.8 6.6M348.3 476a7.8 4.5 -39 1 0 12 -9.8a7.8 4.5 -39 1 0 -12 9.8M130.6 468.5a6.9 5.4 -69 1 0 5 -12.8a6.9 5.4 -69 1 0 -5 12.8M323.7 534.4a6.6 5.1 -39 1 0 10.3 -8.2a6.6 5.1 -39 1 0 -10.3 8.2M108.9 524.4a9.8 4.8 -57 1 0 10.6 -16.6a9.8 4.8 -57 1 0 -10.6 16.6M372 423.6a10.8 5.8 -24 1 0 19.7 -8.9a10.8 5.8 -24 1 0 -19.7 8.9M198.9 525.5a6.6 5.3 -75 1 0 3.3 -12.8a6.6 5.3 -75 1 0 -3.3 12.8M331.4 418.6a11.3 5.7 -24 1 0 20.8 -9.1a11.3 5.7 -24 1 0 -20.8 9.1M68 368.5a10 5.6 -33 1 0 16.7 -10.9a10 5.6 -33 1 0 -16.7 10.9M161.1 438.8a11.7 6 -1 1 0 23.4 -0.2a11.7 6 -1 1 0 -23.4 0.2M232.6 409a6.5 5 -43 1 0 9.6 -8.8a6.5 5 -43 1 0 -9.6 8.8M31.1 431.4a9.2 5.1 -40 1 0 14.1 -11.9a9.2 5.1 -40 1 0 -14.1 11.9M300.5 315a11.4 5.8 -10 1 0 22.4 -4.1a11.4 5.8 -10 1 0 -22.4 4.1M33.9 512.8a7.5 5.6 -67 1 0 5.8 -13.9a7.5 5.6 -67 1 0 -5.8 13.9M58 489.8a11.2 5.5 -30 1 0 19.3 -11.2a11.2 5.5 -30 1 0 -19.3 11.2M233.4 298.7a9.3 5 -29 1 0 16.3 -8.9a9.3 5 -29 1 0 -16.3 8.9M359.1 533.6a8.8 4.6 -24 1 0 16.1 -7.3a8.8 4.6 -24 1 0 -16.1 7.3M177.5 411a10.1 5.2 -52 1 0 12.4 -16a10.1 5.2 -52 1 0 -12.4 16M44.7 457.2a6.5 5.3 -79 1 0 2.5 -12.8a6.5 5.3 -79 1 0 -2.5 12.8M367.4 375.7a9.8 4.5 -51 1 0 12.4 -15.3a9.8 4.5 -51 1 0 -12.4 15.3M306.7 446a7.6 5.1 -38 1 0 11.9 -9.3a7.6 5.1 -38 1 0 -11.9 9.3M343.5 280.6a8.6 4.8 -32 1 0 14.6 -9a8.6 4.8 -32 1 0 -14.6 9M161.9 371a9.1 5.3 -42 1 0 13.5 -12.1a9.1 5.3 -42 1 0 -13.5 12.1M61.1 308.7a10.8 4.8 0 1 0 21.6 0.1a10.8 4.8 0 1 0 -21.6 -0.1M152.1 396.7a10.7 5.4 -44 1 0 15.4 -15a10.7 5.4 -44 1 0 -15.4 15M201 495a6.7 5.1 -59 1 0 6.9 -11.6a6.7 5.1 -59 1 0 -6.9 11.6M185.8 415.2a8.9 5.4 -26 1 0 16 -7.8a8.9 5.4 -26 1 0 -16 7.8M242.1 312.4a9.9 5.8 -30 1 0 17.1 -9.9a9.9 5.8 -30 1 0 -17.1 9.9M290.6 365.7a7.5 4.5 -12 1 0 14.6 -3.1a7.5 4.5 -12 1 0 -14.6 3.1M234.7 471a10.8 4.9 -65 1 0 9 -19.6a10.8 4.9 -65 1 0 -9 19.6M207.2 444.9a7.9 4.7 -17 1 0 15.1 -4.5a7.9 4.7 -17 1 0 -15.1 4.5M383.8 473.7a8 5.7 -26 1 0 14.5 -7a8 5.7 -26 1 0 -14.5 7M203.9 399.7a9.2 4.5 -22 1 0 17.1 -6.8a9.2 4.5 -22 1 0 -17.1 6.8M137 466.3a11.8 5.7 -22 1 0 21.9 -9a11.8 5.7 -22 1 0 -21.9 9M169.1 485.2a8.3 5.8 -31 1 0 14.3 -8.4a8.3 5.8 -31 1 0 -14.3 8.4M188 448.2a9.2 5 -41 1 0 13.8 -12.1a9.2 5 -41 1 0 -13.8 12.1M16.3 354.6a7.6 5.8 -20 1 0 14.3 -5.2a7.6 5.8 -20 1 0 -14.3 5.2M134.3 501.7a8.5 5.3 -13 1 0 16.5 -3.8a8.5 5.3 -13 1 0 -16.5 3.8M329 361.3a7.9 4.7 -29 1 0 13.9 -7.6a7.9 4.7 -29 1 0 -13.9 7.6M332.4 486.7a10.9 5.9 -50 1 0 14 -16.6a10.9 5.9 -50 1 0 -14 16.6M304 538.8a10.8 5.7 -43 1 0 15.9 -14.6a10.8 5.7 -43 1 0 -15.9 14.6M22.9 335.8a9.6 5.6 -43 1 0 14 -13a9.6 5.6 -43 1 0 -14 13M175.7 289.2a6.7 5.8 -27 1 0 12 -6.2a6.7 5.8 -27 1 0 -12 6.2M390 456a6.7 5.7 -31 1 0 11.6 -6.8a6.7 5.7 -31 1 0 -11.6 6.8M382.7 489.1a9 5.6 -35 1 0 14.8 -10.3a9 5.6 -35 1 0 -14.8 10.3M61.8 291.8a7.7 5.8 -30 1 0 13.3 -7.7a7.7 5.8 -30 1 0 -13.3 7.7M333.4 437.9a8.5 5.6 -48 1 0 11.5 -12.6a8.5 5.6 -48 1 0 -11.5 12.6M215.3 299.7a10.1 4.9 -20 1 0 19 -6.9a10.1 4.9 -20 1 0 -19 6.9M247.5 534a9.5 5.4 -55 1 0 10.8 -15.6a9.5 5.4 -55 1 0 -10.8 15.6M113.3 273.8a10 4.9 -36 1 0 16.2 -11.8a10 4.9 -36 1 0 -16.2 11.8M206.8 475a8.2 5.7 -30 1 0 14.2 -8.3a8.2 5.7 -30 1 0 -14.2 8.3M392.8 328.7a6.5 5.8 -76 1 0 3.1 -12.7a6.5 5.8 -76 1 0 -3.1 12.7M274.2 470.9a9.1 5.9 -38 1 0 14.3 -11.1a9.1 5.9 -38 1 0 -14.3 11.1M93.9 277.5a10.9 5.4 -62 1 0 10.2 -19.3a10.9 5.4 -62 1 0 -10.2 19.3M382.1 343.7a8 5.8 -72 1 0 5 -15.3a8 5.8 -72 1 0 -5 15.3M203 503a6.6 5.3 -22 1 0 12.3 -4.8a6.6 5.3 -22 1 0 -12.3 4.8M153 505.4a7.8 4.7 -26 1 0 13.9 -6.9a7.8 4.7 -26 1 0 -13.9 6.9M398 432a10.8 5.9 -87 1 0 1.2 -21.6a10.8 5.9 -87 1 0 -1.2 21.6M12.8 466.6a6.9 5.9 -57 1 0 7.6 -11.5a6.9 5.9 -57 1 0 -7.6 11.5M283.7 287.6a8.7 4.6 -46 1 0 12 -12.5a8.7 4.6 -46 1 0 -12 12.5M335.3 326.3a9.7 4.9 -61 1 0 9.4 -17a9.7 4.9 -61 1 0 -9.4 17M309.9 399.7a8.4 6 -51 1 0 10.6 -13a8.4 6 -51 1 0 -10.6 13M182.9 292.4a11.3 5.6 -15 1 0 21.8 -6.1a11.3 5.6 -15 1 0 -21.8 6.1M6 429.3a10.3 5.6 -58 1 0 11 -17.3a10.3 5.6 -58 1 0 -11 17.3M352.1 386.8a11.2 5.9 -41 1 0 16.8 -14.8a11.2 5.9 -41 1 0 -16.8 14.8M310.3 519.9a8.4 4.7 -25 1 0 15.2 -7.1a8.4 4.7 -25 1 0 -15.2 7.1M4.6 524.9a10.2 5.9 -43 1 0 14.9 -14.1a10.2 5.9 -43 1 0 -14.9 14.1M295.1 386.4a7.6 5.5 -54 1 0 8.8 -12.3a7.6 5.5 -54 1 0 -8.8 12.3M388.9 402.3a8.8 5.9 -59 1 0 9.1 -15a8.8 5.9 -59 1 0 -9.1 15M41.4 403.1a6.7 4.6 -25 1 0 12.2 -5.6a6.7 4.6 -25 1 0 -12.2 5.6M125 376.6a8.2 4.8 -32 1 0 13.8 -8.8a8.2 4.8 -32 1 0 -13.8 8.8M262 280a11.9 4.8 -63 1 0 10.7 -21.3a11.9 4.8 -63 1 0 -10.7 21.3M204.1 296.7a10.2 4.7 -54 1 0 12 -16.5a10.2 4.7 -54 1 0 -12 16.5M111.7 402a10.8 5.4 -64 1 0 9.4 -19.6a10.8 5.4 -64 1 0 -9.4 19.6M85.1 304.1a8.9 4.9 -86 1 0 1.2 -17.7a8.9 4.9 -86 1 0 -1.2 17.7M382.4 302.9a8 5.6 -60 1 0 8.1 -13.9a8 5.6 -60 1 0 -8.1 13.9M323.3 323.1a8.7 5.9 -54 1 0 10.1 -14.1a8.7 5.9 -54 1 0 -10.1 14.1M306.8 419.3a11.4 4.7 -7 1 0 22.6 -2.8a11.4 4.7 -7 1 0 -22.6 2.8M252.1 487.5a9.4 5.1 -35 1 0 15.5 -10.7a9.4 5.1 -35 1 0 -15.5 10.7M9.7 541.8a9.4 4.8 -62 1 0 8.9 -16.5a9.4 4.8 -62 1 0 -8.9 16.5M225.3 440.8a11.7 5.1 -48 1 0 15.8 -17.3a11.7 5.1 -48 1 0 -15.8 17.3M284.7 373.5a7 4.7 -76 1 0 3.4 -13.5a7 4.7 -76 1 0 -3.4 13.5M385.2 518.9a6.7 4.5 -41 1 0 10.1 -8.8a6.7 4.5 -41 1 0 -10.1 8.8M207.1 532.2a10.2 4.6 -10 1 0 20.1 -3.7a10.2 4.6 -10 1 0 -20.1 3.7M308.5 413.7a8.6 5.2 -63 1 0 7.7 -15.4a8.6 5.2 -63 1 0 -7.7 15.4M359.4 445.2a11.4 4.8 -18 1 0 21.8 -6.9a11.4 4.8 -18 1 0 -21.8 6.9M196.6 407.8a6.7 5.8 -45 1 0 9.4 -9.5a6.7 5.8 -45 1 0 -9.4 9.5M353.9 520.4a7.8 4.9 -32 1 0 13.3 -8.4a7.8 4.9 -32 1 0 -13.3 8.4M260.8 527.9a11.9 4.9 -58 1 0 12.5 -20.2a11.9 4.9 -58 1 0 -12.5 20.2M53.8 332.9a8.3 4.6 3 1 0 16.7 0.9a8.3 4.6 3 1 0 -16.7 -0.9M154.6 313.8a12 5.8 -41 1 0 18.2 -15.6a12 5.8 -41 1 0 -18.2 15.6M56.9 421.6a10.3 5.8 -47 1 0 14.2 -15a10.3 5.8 -47 1 0 -14.2 15M333.5 533.8a9.9 5 -37 1 0 15.9 -11.8a9.9 5 -37 1 0 -15.9 11.8"/></g><g filter="url(#b1)"><path fill="#6a6a6a" d="M17 512.8a7.4 3.4 -79 1 0 2.8 -14.6a7.4 3.4 -79 1 0 -2.8 14.6M213.6 521.2a5.2 3.7 -19 1 0 9.9 -3.4a5.2 3.7 -19 1 0 -9.9 3.4M260.6 377.8a4.8 4.2 -23 1 0 8.9 -3.7a4.8 4.2 -23 1 0 -8.9 3.7M183.1 472.9a4.9 3.8 -6 1 0 9.8 -1a4.9 3.8 -6 1 0 -9.8 1M45.3 311a8.1 4.2 -1 1 0 16.1 -0.3a8.1 4.2 -1 1 0 -16.1 0.3M368.4 286a9.1 3.6 -55 1 0 10.5 -14.9a9.1 3.6 -55 1 0 -10.5 14.9M30 277.5a8.2 3.5 -10 1 0 16.2 -3a8.2 3.5 -10 1 0 -16.2 3M284 275.8a9.2 3.8 -41 1 0 13.8 -12.2a9.2 3.8 -41 1 0 -13.8 12.2M29.4 316.2a7 3.6 -57 1 0 7.7 -11.7a7 3.6 -57 1 0 -7.7 11.7M328.7 400.3a9.3 4.5 -35 1 0 15.1 -10.7a9.3 4.5 -35 1 0 -15.1 10.7M125.9 404.4a8.5 4.4 -7 1 0 17 -2.1a8.5 4.4 -7 1 0 -17 2.1M36.4 471a9 3.7 -10 1 0 17.7 -3a9 3.7 -10 1 0 -17.7 3M357.8 300.9a8.6 3.2 -63 1 0 7.7 -15.3a8.6 3.2 -63 1 0 -7.7 15.3M322.1 446.9a8 4 -68 1 0 6.1 -14.9a8 4 -68 1 0 -6.1 14.9M89.7 433.8a9.2 4 -23 1 0 17 -7.3a9.2 4 -23 1 0 -17 7.3M135.5 324.8a5.4 4.4 -32 1 0 9.1 -5.6a5.4 4.4 -32 1 0 -9.1 5.6M65.9 526.2a8 4.2 -43 1 0 11.7 -10.8a8 4.2 -43 1 0 -11.7 10.8M122.3 388.2a6.2 3.8 -52 1 0 7.6 -9.7a6.2 3.8 -52 1 0 -7.6 9.7M363.8 272.2a5.4 4.2 -47 1 0 7.3 -7.8a5.4 4.2 -47 1 0 -7.3 7.8M38.1 341.8a4.5 3.4 -79 1 0 1.8 -8.8a4.5 3.4 -79 1 0 -1.8 8.8M95.4 334.4a6.4 3.9 -48 1 0 8.6 -9.4a6.4 3.9 -48 1 0 -8.6 9.4M116.2 382.2a6.5 3.7 -86 1 0 0.9 -13a6.5 3.7 -86 1 0 -0.9 13M221.7 401.6a6.3 3.9 -19 1 0 11.9 -4.2a6.3 3.9 -19 1 0 -11.9 4.2M176.3 337.4a6.9 4.4 -44 1 0 9.8 -9.6a6.9 4.4 -44 1 0 -9.8 9.6M229.8 368.4a5.3 4.6 -43 1 0 7.8 -7.2a5.3 4.6 -43 1 0 -7.8 7.2M226 327.8a8.6 3.8 -64 1 0 7.7 -15.4a8.6 3.8 -64 1 0 -7.7 15.4M214.3 359.9a9.1 3.7 -29 1 0 15.8 -8.8a9.1 3.7 -29 1 0 -15.8 8.8M178.1 518.5a7.1 4.4 -31 1 0 12.2 -7.3a7.1 4.4 -31 1 0 -12.2 7.3M167.5 395a7.9 3.5 -10 1 0 15.5 -2.8a7.9 3.5 -10 1 0 -15.5 2.8M263.5 446.2a7.1 4.3 -58 1 0 7.6 -12a7.1 4.3 -58 1 0 -7.6 12M246.4 404.8a4.8 3.6 -27 1 0 8.5 -4.4a4.8 3.6 -27 1 0 -8.5 4.4M283.2 302.6a4.8 3.9 -24 1 0 8.8 -3.9a4.8 3.9 -24 1 0 -8.8 3.9M354.9 351.5a7.4 3.5 -32 1 0 12.5 -7.9a7.4 3.5 -32 1 0 -12.5 7.9M132.1 466a4.6 4 -69 1 0 3.3 -8.5a4.6 4 -69 1 0 -3.3 8.5M200.2 522.8a4.3 3.9 -75 1 0 2.2 -8.4a4.3 3.9 -75 1 0 -2.2 8.4M162.9 439.1a9.4 4.5 -1 1 0 18.8 -0.2a9.4 4.5 -1 1 0 -18.8 0.2M234.6 407.5a4.2 3.5 -43 1 0 6.2 -5.7a4.2 3.5 -43 1 0 -6.2 5.7M60.1 488.9a8.9 4.1 -30 1 0 15.4 -8.9a8.9 4.1 -30 1 0 -15.4 8.9M163.9 369.5a6.8 3.9 -42 1 0 10.1 -9a6.8 3.9 -42 1 0 -10.1 9M209.3 444.6a5.6 3.3 -17 1 0 10.7 -3.2a5.6 3.3 -17 1 0 -10.7 3.2M206 399.2a6.9 3.1 -22 1 0 12.8 -5.1a6.9 3.1 -22 1 0 -12.8 5.1M335.4 436.2a6.2 4.1 -48 1 0 8.4 -9.2a6.2 4.1 -48 1 0 -8.4 9.2M249.3 532a7.2 4 -55 1 0 8.2 -11.8a7.2 4 -55 1 0 -8.2 11.8M115.3 272.7a7.7 3.5 -36 1 0 12.5 -9.1a7.7 3.5 -36 1 0 -12.5 9.1M383.5 341a5.7 4.3 -72 1 0 3.5 -10.9a5.7 4.3 -72 1 0 -3.5 10.9M205.1 502.5a4.3 3.9 -22 1 0 8 -3.1a4.3 3.9 -22 1 0 -8 3.1M398.8 429a8.5 4.5 -87 1 0 0.9 -17a8.5 4.5 -87 1 0 -0.9 17M337 324.1a7.4 3.5 -61 1 0 7.2 -13a7.4 3.5 -61 1 0 -7.2 13M311.7 397.9a6.1 4.6 -51 1 0 7.7 -9.4a6.1 4.6 -51 1 0 -7.7 9.4M312.4 519.2a6.1 3.3 -25 1 0 11 -5.1a6.1 3.3 -25 1 0 -11 5.1M296.9 384.4a5.3 4 -54 1 0 6.1 -8.5a5.3 4 -54 1 0 -6.1 8.5M390.6 400.2a6.5 4.4 -59 1 0 6.7 -11a6.5 4.4 -59 1 0 -6.7 11M43.5 402.5a4.4 3.2 -25 1 0 8 -3.7a4.4 3.2 -25 1 0 -8 3.7M263.6 277.7a9.6 3.4 -63 1 0 8.6 -17.1a9.6 3.4 -63 1 0 -8.6 17.1M205.9 294.8a7.9 3.3 -54 1 0 9.3 -12.8a7.9 3.3 -54 1 0 -9.3 12.8M86 301a6.6 3.5 -86 1 0 0.9 -13.1a6.6 3.5 -86 1 0 -0.9 13.1M384.1 300.7a5.7 4.2 -60 1 0 5.8 -9.9a5.7 4.2 -60 1 0 -5.8 9.9M308.8 419.4a9.1 3.3 -7 1 0 18.1 -2.3a9.1 3.3 -7 1 0 -18.1 2.3M227.3 439.1a9.4 3.6 -48 1 0 12.7 -13.9a9.4 3.6 -48 1 0 -12.7 13.9M285.9 370.8a4.7 3.3 -76 1 0 2.3 -9a4.7 3.3 -76 1 0 -2.3 9M387.2 517.4a4.4 3.1 -41 1 0 6.6 -5.8a4.4 3.1 -41 1 0 -6.6 5.8M335.6 532.6a7.6 3.6 -37 1 0 12.2 -9a7.6 3.6 -37 1 0 -12.2 9"/><path fill="#7a7a7a" d="M10.7 286.5a5.4 4.1 -86 1 0 0.7 -10.9a5.4 4.1 -86 1 0 -0.7 10.9M207.1 352.4a6.8 3.8 -34 1 0 11.3 -7.7a6.8 3.8 -34 1 0 -11.3 7.7M254.2 364.9a7 4.3 -46 1 0 9.6 -10.1a7 4.3 -46 1 0 -9.6 10.1M363.1 317.7a5 3.6 -22 1 0 9.3 -3.8a5 3.6 -22 1 0 -9.3 3.8M340.7 454.3a6.1 3.8 -57 1 0 6.7 -10.3a6.1 3.8 -57 1 0 -6.7 10.3M371.2 305.1a5.5 4.2 -87 1 0 0.5 -11a5.5 4.2 -87 1 0 -0.5 11M314.6 474.1a8.8 3.3 -54 1 0 10.5 -14.2a8.8 3.3 -54 1 0 -10.5 14.2M361.7 513.6a8.7 3.2 -42 1 0 12.8 -11.7a8.7 3.2 -42 1 0 -12.8 11.7M168 297.8a9.3 3.8 -1 1 0 18.7 -0.3a9.3 3.8 -1 1 0 -18.7 0.3M259.6 346.8a7 4.3 -36 1 0 11.3 -8.1a7 4.3 -36 1 0 -11.3 8.1M228.3 498.2a9.1 3.1 -55 1 0 10.4 -14.9a9.1 3.1 -55 1 0 -10.4 14.9M160.3 491.9a8.2 3.3 -35 1 0 13.5 -9.4a8.2 3.3 -35 1 0 -13.5 9.4M98.7 386.5a7.5 3.2 -64 1 0 6.6 -13.5a7.5 3.2 -64 1 0 -6.6 13.5M153.5 456.5a8.7 4 -51 1 0 11 -13.5a8.7 4 -51 1 0 -11 13.5M164.2 532.6a8.4 4.4 -58 1 0 8.9 -14.2a8.4 4.4 -58 1 0 -8.9 14.2M174.5 383a6.2 3.5 -63 1 0 5.6 -11.1a6.2 3.5 -63 1 0 -5.6 11.1M163.6 350.8a7.7 3.6 -20 1 0 14.4 -5.4a7.7 3.6 -20 1 0 -14.4 5.4M131.2 339.7a6.5 3.2 -31 1 0 11.2 -6.6a6.5 3.2 -31 1 0 -11.2 6.6M13.4 436.5a5.4 3.3 -31 1 0 9.2 -5.5a5.4 3.3 -31 1 0 -9.2 5.5M200.1 415.6a5.9 4.4 -14 1 0 11.5 -2.8a5.9 4.4 -14 1 0 -11.5 2.8M290.5 505.2a7.2 4 -27 1 0 12.9 -6.5a7.2 4 -27 1 0 -12.9 6.5M207.8 376.8a6.7 3.5 -51 1 0 8.5 -10.3a6.7 3.5 -51 1 0 -8.5 10.3M316.2 487.6a6.6 4.1 2 1 0 13.2 0.4a6.6 4.1 2 1 0 -13.2 -0.4M103.7 448.8a4.4 3.3 -43 1 0 6.4 -6.1a4.4 3.3 -43 1 0 -6.4 6.1M158.6 430.6a9.6 3.4 -14 1 0 18.7 -4.7a9.6 3.4 -14 1 0 -18.7 4.7M93.7 346.8a7.5 3.7 -11 1 0 14.7 -2.8a7.5 3.7 -11 1 0 -14.7 2.8M277.6 534.4a7.1 4.2 -30 1 0 12.2 -7.2a7.1 4.2 -30 1 0 -12.2 7.2M55.9 513.9a7.8 3.7 -64 1 0 6.8 -14.1a7.8 3.7 -64 1 0 -6.8 14.1M209.5 280.6a6.4 4.5 -51 1 0 8 -9.9a6.4 4.5 -51 1 0 -8 9.9M62.8 329.3a9.7 3.1 -35 1 0 15.9 -11.2a9.7 3.1 -35 1 0 -15.9 11.2M386.7 379.1a8.1 3.6 -46 1 0 11.4 -11.7a8.1 3.6 -46 1 0 -11.4 11.7M362.9 421.1a9.7 3.2 -59 1 0 9.9 -16.6a9.7 3.2 -59 1 0 -9.9 16.6M324.3 503a5.5 4.5 -30 1 0 9.5 -5.5a5.5 4.5 -30 1 0 -9.5 5.5M104.6 354.1a9.5 4.3 -18 1 0 18.2 -5.8a9.5 4.3 -18 1 0 -18.2 5.8M201.6 429.1a5.2 4.3 -45 1 0 7.4 -7.4a5.2 4.3 -45 1 0 -7.4 7.4M32 380.9a4.9 4.3 -48 1 0 6.7 -7.3a4.9 4.3 -48 1 0 -6.7 7.3M325.8 533.1a4.3 3.7 -39 1 0 6.7 -5.3a4.3 3.7 -39 1 0 -6.7 5.3M110.7 522.3a7.5 3.4 -57 1 0 8.1 -12.7a7.5 3.4 -57 1 0 -8.1 12.7M333.5 418a9 4.3 -24 1 0 16.6 -7.2a9 4.3 -24 1 0 -16.6 7.2M33.1 430a6.9 3.6 -40 1 0 10.5 -8.9a6.9 3.6 -40 1 0 -10.5 8.9M302.5 314.9a9.1 4.4 -10 1 0 17.9 -3.3a9.1 4.4 -10 1 0 -17.9 3.3M361.1 532.9a6.5 3.1 -24 1 0 11.9 -5.4a6.5 3.1 -24 1 0 -11.9 5.4M45.8 454.3a4.2 3.8 -79 1 0 1.6 -8.3a4.2 3.8 -79 1 0 -1.6 8.3M369.3 373.9a7.5 3.1 -51 1 0 9.5 -11.7a7.5 3.1 -51 1 0 -9.5 11.7M187.9 414.5a6.6 4 -26 1 0 11.9 -5.8a6.6 4 -26 1 0 -11.9 5.8M139 465.8a9.5 4.2 -22 1 0 17.7 -7.2a9.5 4.2 -22 1 0 -17.7 7.2M190 446.8a6.9 3.6 -41 1 0 10.3 -9.1a6.9 3.6 -41 1 0 -10.3 9.1M136.3 501.5a6.2 3.9 -13 1 0 12.1 -2.8a6.2 3.9 -13 1 0 -12.1 2.8M331.1 360.5a5.6 3.2 -29 1 0 9.8 -5.4a5.6 3.2 -29 1 0 -9.8 5.4M24.9 334.4a7.3 4.2 -43 1 0 10.7 -9.9a7.3 4.2 -43 1 0 -10.7 9.9M177.8 288.4a4.4 4.4 -27 1 0 7.9 -4.1a4.4 4.4 -27 1 0 -7.9 4.1M63.9 290.9a5.4 4.4 -30 1 0 9.3 -5.4a5.4 4.4 -30 1 0 -9.3 5.4M217.4 299.3a7.8 3.5 -20 1 0 14.7 -5.3a7.8 3.5 -20 1 0 -14.7 5.3M208.8 474a5.9 4.3 -30 1 0 10.3 -6a5.9 4.3 -30 1 0 -10.3 6M394 326a4.2 4.3 -76 1 0 2 -8.2a4.2 4.3 -76 1 0 -2 8.2M14.6 464.6a4.6 4.5 -57 1 0 5.1 -7.7a4.6 4.5 -57 1 0 -5.1 7.7M7.8 427.2a8 4.2 -58 1 0 8.5 -13.4a8 4.2 -58 1 0 -8.5 13.4M6.6 523.4a7.9 4.5 -43 1 0 11.5 -10.9a7.9 4.5 -43 1 0 -11.5 10.9M127 375.5a5.9 3.4 -32 1 0 9.9 -6.3a5.9 3.4 -32 1 0 -9.9 6.3M325.1 321.2a6.4 4.5 -54 1 0 7.5 -10.4a6.4 4.5 -54 1 0 -7.5 10.4M11.3 539.5a7.1 3.4 -62 1 0 6.7 -12.5a7.1 3.4 -62 1 0 -6.7 12.5M356 519.4a5.5 3.5 -32 1 0 9.4 -5.9a5.5 3.5 -32 1 0 -9.4 5.9M262.5 525.8a9.6 3.4 -58 1 0 10.1 -16.3a9.6 3.4 -58 1 0 -10.1 16.3M55.5 333.4a6 3.2 3 1 0 12.1 0.7a6 3.2 3 1 0 -12.1 -0.7M156.6 312.5a9.7 4.4 -41 1 0 14.7 -12.6a9.7 4.4 -41 1 0 -14.7 12.6M58.8 419.9a8 4.4 -47 1 0 11 -11.6a8 4.4 -47 1 0 -11 11.6"/><path fill="#8a8a8a" d="M95.1 396.9a4.7 3.6 -47 1 0 6.4 -6.9a4.7 3.6 -47 1 0 -6.4 6.9M244.6 464.8a7.6 3.5 -21 1 0 14.2 -5.5a7.6 3.5 -21 1 0 -14.2 5.5M76.1 409.3a9.2 4.5 -50 1 0 11.7 -14.2a9.2 4.5 -50 1 0 -11.7 14.2M344.2 327.8a7.2 3.4 -15 1 0 14 -3.8a7.2 3.4 -15 1 0 -14 3.8M152.4 466.5a8.7 3.8 -38 1 0 13.6 -10.7a8.7 3.8 -38 1 0 -13.6 10.7M341.5 494.1a7.2 3.7 -49 1 0 9.6 -10.9a7.2 3.7 -49 1 0 -9.6 10.9M281 417.2a9.4 3.7 -39 1 0 14.6 -11.8a9.4 3.7 -39 1 0 -14.6 11.8M174.9 321.4a8.9 3.4 -22 1 0 16.5 -6.6a8.9 3.4 -22 1 0 -16.5 6.6M188.9 356.6a4.8 3.2 -40 1 0 7.3 -6.1a4.8 3.2 -40 1 0 -7.3 6.1M373.5 328.3a6.6 3.8 -57 1 0 7.2 -11.1a6.6 3.8 -57 1 0 -7.2 11.1M303.1 281.2a9.6 4 -15 1 0 18.5 -4.9a9.6 4 -15 1 0 -18.5 4.9M92.3 412.9a7.8 4.5 -51 1 0 9.8 -12.2a7.8 4.5 -51 1 0 -9.8 12.2M45.4 390.7a9.4 3.3 -33 1 0 15.8 -10.3a9.4 3.3 -33 1 0 -15.8 10.3M269.8 367.7a7.7 3.7 -83 1 0 1.8 -15.2a7.7 3.7 -83 1 0 -1.8 15.2M298.8 429.2a7.2 4.2 -58 1 0 7.6 -12.3a7.2 4.2 -58 1 0 -7.6 12.3M103.9 534.3a6.1 3.8 -22 1 0 11.3 -4.5a6.1 3.8 -22 1 0 -11.3 4.5M282 349.2a7.1 4.2 -36 1 0 11.5 -8.4a7.1 4.2 -36 1 0 -11.5 8.4M67.1 461.5a9.1 3.6 -50 1 0 11.8 -13.9a9.1 3.6 -50 1 0 -11.8 13.9M117.4 314.2a6.1 4.3 -36 1 0 9.9 -7.1a6.1 4.3 -36 1 0 -9.9 7.1M370.3 389.6a9.4 3.2 -58 1 0 10.1 -15.9a9.4 3.2 -58 1 0 -10.1 15.9M157.9 477.2a6.9 4.3 -47 1 0 9.4 -10.1a6.9 4.3 -47 1 0 -9.4 10.1M239.2 537.4a6.4 4.5 -45 1 0 9 -9a6.4 4.5 -45 1 0 -9 9M184.4 374.7a8.5 3.7 -24 1 0 15.6 -6.9a8.5 3.7 -24 1 0 -15.6 6.9M18 386.8a7.7 4.5 -61 1 0 7.4 -13.6a7.7 4.5 -61 1 0 -7.4 13.6M84.8 385.8a5.8 4.2 -42 1 0 8.6 -7.9a5.8 4.2 -42 1 0 -8.6 7.9M143.1 410a8.7 4.2 -49 1 0 11.3 -13.2a8.7 4.2 -49 1 0 -11.3 13.2M207.1 319.3a5.8 3.4 -8 1 0 11.5 -1.7a5.8 3.4 -8 1 0 -11.5 1.7M105 525.7a4.8 4.3 -88 1 0 0.3 -9.7a4.8 4.3 -88 1 0 -0.3 9.7M54.9 283.4a5.3 3.7 -26 1 0 9.6 -4.6a5.3 3.7 -26 1 0 -9.6 4.6M350.3 474.6a5.5 3.1 -39 1 0 8.5 -6.9a5.5 3.1 -39 1 0 -8.5 6.9M374.1 422.9a8.5 4.3 -24 1 0 15.5 -7a8.5 4.3 -24 1 0 -15.5 7M70 367.4a7.7 4.2 -33 1 0 12.9 -8.4a7.7 4.2 -33 1 0 -12.9 8.4M35.4 510.4a5.2 4.2 -67 1 0 4 -9.6a5.2 4.2 -67 1 0 -4 9.6M235.5 297.8a7 3.6 -29 1 0 12.2 -6.7a7 3.6 -29 1 0 -12.2 6.7M179.3 409.1a7.8 3.7 -52 1 0 9.6 -12.3a7.8 3.7 -52 1 0 -9.6 12.3M308.7 444.7a5.3 3.6 -38 1 0 8.3 -6.5a5.3 3.6 -38 1 0 -8.3 6.5M345.6 279.6a6.3 3.3 -32 1 0 10.7 -6.5a6.3 3.3 -32 1 0 -10.7 6.5M62.9 309.2a8.5 3.4 0 1 0 17 0.1a8.5 3.4 0 1 0 -17 -0.1M154.1 395.1a8.4 3.9 -44 1 0 12.1 -11.8a8.4 3.9 -44 1 0 -12.1 11.8M202.7 492.8a4.4 3.7 -59 1 0 4.5 -7.6a4.4 3.7 -59 1 0 -4.5 7.6M244.1 311.5a7.6 4.4 -30 1 0 13.1 -7.6a7.6 4.4 -30 1 0 -13.1 7.6M292.6 365.6a5.2 3.1 -12 1 0 10.1 -2.1a5.2 3.1 -12 1 0 -10.1 2.1M236.3 468.6a8.5 3.5 -65 1 0 7.1 -15.5a8.5 3.5 -65 1 0 -7.1 15.5M385.9 473a5.7 4.3 -26 1 0 10.3 -5a5.7 4.3 -26 1 0 -10.3 5M171.2 484.3a6 4.3 -31 1 0 10.3 -6.1a6 4.3 -31 1 0 -10.3 6.1M18.4 354.1a5.3 4.4 -20 1 0 10 -3.7a5.3 4.4 -20 1 0 -10 3.7M334.3 484.9a8.6 4.4 -50 1 0 11 -13.1a8.6 4.4 -50 1 0 -11 13.1M306 537.3a8.5 4.3 -43 1 0 12.5 -11.5a8.5 4.3 -43 1 0 -12.5 11.5M392.1 455a4.4 4.3 -31 1 0 7.6 -4.5a4.4 4.3 -31 1 0 -7.6 4.5M384.8 488a6.7 4.2 -35 1 0 11.1 -7.7a6.7 4.2 -35 1 0 -11.1 7.7M276.3 469.6a6.8 4.4 -38 1 0 10.7 -8.3a6.8 4.4 -38 1 0 -10.7 8.3M95.5 275.3a8.6 3.9 -62 1 0 8.1 -15.2a8.6 3.9 -62 1 0 -8.1 15.2M155.1 504.7a5.5 3.3 -26 1 0 9.8 -4.8a5.5 3.3 -26 1 0 -9.8 4.8M285.7 286a6.4 3.2 -46 1 0 8.8 -9.2a6.4 3.2 -46 1 0 -8.8 9.2M184.9 292.2a9 4.1 -15 1 0 17.4 -4.8a9 4.1 -15 1 0 -17.4 4.8M354.1 385.4a8.9 4.5 -41 1 0 13.4 -11.7a8.9 4.5 -41 1 0 -13.4 11.7M113.3 399.7a8.5 4 -64 1 0 7.4 -15.4a8.5 4 -64 1 0 -7.4 15.4M254.2 486.4a7.1 3.7 -35 1 0 11.7 -8.1a7.1 3.7 -35 1 0 -11.7 8.1M209.1 532.2a7.9 3.1 -10 1 0 15.5 -2.9a7.9 3.1 -10 1 0 -15.5 2.9M310.1 411.4a6.3 3.7 -63 1 0 5.6 -11.3a6.3 3.7 -63 1 0 -5.6 11.3M361.5 444.9a9.1 3.4 -18 1 0 17.4 -5.5a9.1 3.4 -18 1 0 -17.4 5.5M198.5 406.3a4.4 4.4 -45 1 0 6.2 -6.2a4.4 4.4 -45 1 0 -6.2 6.2"/><path fill="#101010" d="M94.6 395.6a4 2.5 -47 1 0 5.4 -5.8a4 2.5 -47 1 0 -5.4 5.8M16 511.9a6.7 2.3 -79 1 0 2.6 -13.2a6.7 2.3 -79 1 0 -2.6 13.2M314.1 472.9a8.1 2.2 -54 1 0 9.7 -13.1a8.1 2.2 -54 1 0 -9.7 13.1M75.6 408a8.5 3.4 -50 1 0 10.8 -13.1a8.5 3.4 -50 1 0 -10.8 13.1M259.5 345.4a6.3 3.2 -36 1 0 10.2 -7.3a6.3 3.2 -36 1 0 -10.2 7.3M28.7 315a6.3 2.5 -57 1 0 7 -10.5a6.3 2.5 -57 1 0 -7 10.5M328.5 398.9a8.6 3.5 -35 1 0 14 -9.9a8.6 3.5 -35 1 0 -14 9.9M153 455.2a8 2.9 -51 1 0 10.1 -12.4a8 2.9 -51 1 0 -10.1 12.4M89.9 432.5a8.5 2.9 -23 1 0 15.7 -6.7a8.5 2.9 -23 1 0 -15.7 6.7M173.8 381.8a5.5 2.4 -63 1 0 4.9 -9.8a5.5 2.4 -63 1 0 -4.9 9.8M163.9 349.4a7 2.5 -20 1 0 13.1 -4.9a7 2.5 -20 1 0 -13.1 4.9M175.1 320a8.2 2.3 -22 1 0 15.2 -6.1a8.2 2.3 -22 1 0 -15.2 6.1M131.1 338.4a5.8 2.1 -31 1 0 10 -5.9a5.8 2.1 -31 1 0 -10 5.9M372.9 327.1a5.9 2.7 -57 1 0 6.5 -9.9a5.9 2.7 -57 1 0 -6.5 9.9M91.9 411.6a7.1 3.4 -51 1 0 8.9 -11.1a7.1 3.4 -51 1 0 -8.9 11.1M317 486.5a5.9 3 2 1 0 11.8 0.3a5.9 3 2 1 0 -11.8 -0.3M268.7 366.9a7 2.6 -83 1 0 1.6 -13.8a7 2.6 -83 1 0 -1.6 13.8M94.2 345.4a6.8 2.7 -11 1 0 13.3 -2.6a6.8 2.7 -11 1 0 -13.3 2.6M66.7 460.2a8.4 2.5 -50 1 0 10.9 -12.8a8.4 2.5 -50 1 0 -10.9 12.8M117.3 312.8a5.4 3.2 -36 1 0 8.7 -6.3a5.4 3.2 -36 1 0 -8.7 6.3M214.3 358.5a8.4 2.6 -29 1 0 14.6 -8.1a8.4 2.6 -29 1 0 -14.6 8.1M238.9 536.1a5.7 3.4 -45 1 0 8 -8a5.7 3.4 -45 1 0 -8 8M184.6 373.4a7.8 2.6 -24 1 0 14.3 -6.3a7.8 2.6 -24 1 0 -14.3 6.3M17.2 385.6a7 3.4 -61 1 0 6.7 -12.3a7 3.4 -61 1 0 -6.7 12.3M142.7 408.7a8 3.2 -49 1 0 10.4 -12.1a8 3.2 -49 1 0 -10.4 12.1M167.9 393.7a7.2 2.4 -10 1 0 14.2 -2.6a7.2 2.4 -10 1 0 -14.2 2.6M354.8 350.1a6.7 2.4 -32 1 0 11.3 -7.2a6.7 2.4 -32 1 0 -11.3 7.2M55 282a4.6 2.7 -26 1 0 8.4 -4a4.6 2.7 -26 1 0 -8.4 4M350.1 473.3a4.8 2 -39 1 0 7.4 -6a4.8 2 -39 1 0 -7.4 6M325.6 531.8a3.6 2.6 -39 1 0 5.6 -4.5a3.6 2.6 -39 1 0 -5.6 4.5M32.8 428.7a6.2 2.6 -40 1 0 9.5 -8a6.2 2.6 -40 1 0 -9.5 8M34.6 509.2a4.5 3.1 -67 1 0 3.5 -8.3a4.5 3.1 -67 1 0 -3.5 8.3M178.8 407.9a7.1 2.7 -52 1 0 8.7 -11.2a7.1 2.7 -52 1 0 -8.7 11.2M63.6 308a7.8 2.3 0 1 0 15.6 0.1a7.8 2.3 0 1 0 -15.6 -0.1M244.1 310.1a6.9 3.3 -30 1 0 11.9 -6.9a6.9 3.3 -30 1 0 -11.9 6.9M235.5 467.5a7.8 2.4 -65 1 0 6.5 -14.2a7.8 2.4 -65 1 0 -6.5 14.2M209.6 443.2a4.9 2.2 -17 1 0 9.4 -2.8a4.9 2.2 -17 1 0 -9.4 2.8M333.9 483.6a7.9 3.4 -50 1 0 10.1 -12a7.9 3.4 -50 1 0 -10.1 12M24.6 333a6.6 3.1 -43 1 0 9.6 -8.9a6.6 3.1 -43 1 0 -9.6 8.9M392.1 453.6a3.7 3.2 -31 1 0 6.4 -3.8a3.7 3.2 -31 1 0 -6.4 3.8M205.3 501.1a3.6 2.8 -22 1 0 6.7 -2.6a3.6 2.8 -22 1 0 -6.7 2.6M155.2 503.3a4.8 2.2 -26 1 0 8.6 -4.2a4.8 2.2 -26 1 0 -8.6 4.2M397.7 428.2a7.8 3.4 -87 1 0 0.8 -15.6a7.8 3.4 -87 1 0 -0.8 15.6M311.2 396.6a5.4 3.5 -51 1 0 6.8 -8.3a5.4 3.5 -51 1 0 -6.8 8.3M185.3 290.8a8.3 3.1 -15 1 0 16 -4.4a8.3 3.1 -15 1 0 -16 4.4M296.3 383.2a4.6 3 -54 1 0 5.3 -7.4a4.6 3 -54 1 0 -5.3 7.4M390 399a5.8 3.4 -59 1 0 6 -9.8a5.8 3.4 -59 1 0 -6 9.8M84.8 300.3a5.9 2.4 -86 1 0 0.8 -11.7a5.9 2.4 -86 1 0 -0.8 11.7M254.1 485a6.4 2.6 -35 1 0 10.6 -7.3a6.4 2.6 -35 1 0 -10.6 7.3M386.9 516.1a3.7 2 -41 1 0 5.6 -4.8a3.7 2 -41 1 0 -5.6 4.8"/><path fill="#181818" d="M9.5 285.7a4.7 3.1 -86 1 0 0.6 -9.5a4.7 3.1 -86 1 0 -0.6 9.5M260.7 376.5a4.1 3.2 -23 1 0 7.6 -3.2a4.1 3.2 -23 1 0 -7.6 3.2M244.8 463.4a6.9 2.4 -21 1 0 12.9 -5a6.9 2.4 -21 1 0 -12.9 5M46 309.8a7.4 3.1 -1 1 0 14.7 -0.3a7.4 3.1 -1 1 0 -14.7 0.3M168.7 296.6a8.6 2.7 -1 1 0 17.3 -0.3a8.6 2.7 -1 1 0 -17.3 0.3M283.7 274.4a8.5 2.7 -41 1 0 12.8 -11.3a8.5 2.7 -41 1 0 -12.8 11.3M344.6 326.4a6.5 2.3 -15 1 0 12.6 -3.4a6.5 2.3 -15 1 0 -12.6 3.4M152.2 465.1a8 2.7 -38 1 0 12.5 -9.8a8 2.7 -38 1 0 -12.5 9.8M126.4 403.1a7.8 3.3 -7 1 0 15.6 -1.9a7.8 3.3 -7 1 0 -15.6 1.9M97.9 385.3a6.8 2.1 -64 1 0 6 -12.2a6.8 2.1 -64 1 0 -6 12.2M135.5 323.4a4.7 3.4 -32 1 0 8 -4.9a4.7 3.4 -32 1 0 -8 4.9M188.7 355.2a4.1 2.1 -40 1 0 6.3 -5.2a4.1 2.1 -40 1 0 -6.3 5.2M13.4 435.2a4.7 2.2 -31 1 0 8 -4.8a4.7 2.2 -31 1 0 -8 4.8M207.3 375.5a6 2.4 -51 1 0 7.6 -9.3a6 2.4 -51 1 0 -7.6 9.3M363.4 270.8a4.7 3.1 -47 1 0 6.4 -6.8a4.7 3.1 -47 1 0 -6.4 6.8M37.1 340.9a3.8 2.3 -79 1 0 1.5 -7.4a3.8 2.3 -79 1 0 -1.5 7.4M277.6 533a6.4 3.1 -30 1 0 11 -6.5a6.4 3.1 -30 1 0 -11 6.5M95 333a5.7 2.9 -48 1 0 7.7 -8.4a5.7 2.9 -48 1 0 -7.7 8.4M221.9 400.2a5.6 2.9 -19 1 0 10.6 -3.7a5.6 2.9 -19 1 0 -10.6 3.7M104.1 532.9a5.4 2.7 -22 1 0 10 -4a5.4 2.7 -22 1 0 -10 4M62.7 327.9a9 2.1 -35 1 0 14.7 -10.4a9 2.1 -35 1 0 -14.7 10.4M386.3 377.8a7.4 2.5 -46 1 0 10.4 -10.7a7.4 2.5 -46 1 0 -10.4 10.7M369.7 388.4a8.7 2.1 -58 1 0 9.3 -14.7a8.7 2.1 -58 1 0 -9.3 14.7M324.4 501.6a4.8 3.4 -30 1 0 8.3 -4.8a4.8 3.4 -30 1 0 -8.3 4.8M178.1 517.1a6.4 3.3 -31 1 0 11 -6.6a6.4 3.3 -31 1 0 -11 6.6M104.9 352.8a8.8 3.2 -18 1 0 16.9 -5.4a8.8 3.2 -18 1 0 -16.9 5.4M262.8 445a6.4 3.3 -58 1 0 6.9 -10.8a6.4 3.3 -58 1 0 -6.9 10.8M207.6 318a5.1 2.3 -8 1 0 10.1 -1.5a5.1 2.3 -8 1 0 -10.1 1.5M246.5 403.4a4.1 2.5 -27 1 0 7.3 -3.8a4.1 2.5 -27 1 0 -7.3 3.8M103.8 524.9a4.1 3.2 -88 1 0 0.3 -8.3a4.1 3.2 -88 1 0 -0.3 8.3M374.3 421.6a7.8 3.3 -24 1 0 14.3 -6.5a7.8 3.3 -24 1 0 -14.3 6.5M163.6 437.9a8.7 3.5 -1 1 0 17.4 -0.2a8.7 3.5 -1 1 0 -17.4 0.2M234.3 406.2a3.5 2.5 -43 1 0 5.2 -4.8a3.5 2.5 -43 1 0 -5.2 4.8M235.5 296.5a6.3 2.5 -29 1 0 11 -6a6.3 2.5 -29 1 0 -11 6M361.3 531.5a5.8 2.1 -24 1 0 10.6 -4.8a5.8 2.1 -24 1 0 -10.6 4.8M202 491.6a3.7 2.6 -59 1 0 3.8 -6.4a3.7 2.6 -59 1 0 -3.8 6.4M293 364.3a4.5 2 -12 1 0 8.7 -1.9a4.5 2 -12 1 0 -8.7 1.9M386 471.6a5 3.2 -26 1 0 9.1 -4.4a5 3.2 -26 1 0 -9.1 4.4M171.2 482.9a5.3 3.3 -31 1 0 9.1 -5.4a5.3 3.3 -31 1 0 -9.1 5.4M331.1 359.1a4.9 2.2 -29 1 0 8.6 -4.7a4.9 2.2 -29 1 0 -8.6 4.7M384.7 486.6a6 3.1 -35 1 0 9.9 -6.9a6 3.1 -35 1 0 -9.9 6.9M63.9 289.5a4.7 3.3 -30 1 0 8.1 -4.7a4.7 3.3 -30 1 0 -8.1 4.7M334.9 434.8a5.5 3.1 -48 1 0 7.5 -8.2a5.5 3.1 -48 1 0 -7.5 8.2M208.8 472.7a5.2 3.2 -30 1 0 9.1 -5.3a5.2 3.2 -30 1 0 -9.1 5.3M276.1 468.2a6.1 3.4 -38 1 0 9.6 -7.4a6.1 3.4 -38 1 0 -9.6 7.4M382.5 340a5 3.3 -72 1 0 3.1 -9.5a5 3.3 -72 1 0 -3.1 9.5M14 463.3a3.9 3.4 -57 1 0 4.3 -6.5a3.9 3.4 -57 1 0 -4.3 6.5M285.3 284.7a5.7 2.1 -46 1 0 7.9 -8.2a5.7 2.1 -46 1 0 -7.9 8.2M336.3 322.9a6.7 2.4 -61 1 0 6.5 -11.7a6.7 2.4 -61 1 0 -6.5 11.7M6.3 522.1a7.2 3.4 -43 1 0 10.5 -9.9a7.2 3.4 -43 1 0 -10.5 9.9M43.6 401.1a3.7 2.1 -25 1 0 6.7 -3.1a3.7 2.1 -25 1 0 -6.7 3.1M284.9 369.8a4 2.2 -76 1 0 1.9 -7.7a4 2.2 -76 1 0 -1.9 7.7M361.8 443.5a8.4 2.3 -18 1 0 16.1 -5.1a8.4 2.3 -18 1 0 -16.1 5.1M56.3 332.2a5.3 2.1 3 1 0 10.7 0.6a5.3 2.1 3 1 0 -10.7 -0.6M156.4 311.1a9 3.3 -41 1 0 13.6 -11.7a9 3.3 -41 1 0 -13.6 11.7"/><path fill="#202020" d="M213.9 519.9a4.5 2.6 -19 1 0 8.6 -3a4.5 2.6 -19 1 0 -8.6 3M253.8 363.6a6.3 3.3 -46 1 0 8.7 -9.1a6.3 3.3 -46 1 0 -8.7 9.1M183.6 471.6a4.2 2.8 -6 1 0 8.4 -0.9a4.2 2.8 -6 1 0 -8.4 0.9M340.1 453.1a5.4 2.7 -57 1 0 6 -9.1a5.4 2.7 -57 1 0 -6 9.1M227.8 497a8.4 2 -55 1 0 9.6 -13.7a8.4 2 -55 1 0 -9.6 13.7M357 299.8a7.9 2.1 -63 1 0 7.1 -14.1a7.9 2.1 -63 1 0 -7.1 14.1M321.2 445.8a7.3 2.9 -68 1 0 5.6 -13.6a7.3 2.9 -68 1 0 -5.6 13.6M303.4 279.8a8.9 2.9 -15 1 0 17.1 -4.5a8.9 2.9 -15 1 0 -17.1 4.5M65.6 524.9a7.3 3.1 -43 1 0 10.7 -9.9a7.3 3.1 -43 1 0 -10.7 9.9M121.8 386.9a5.5 2.7 -52 1 0 6.8 -8.6a5.5 2.7 -52 1 0 -6.8 8.6M200.5 414.3a5.2 3.3 -14 1 0 10.2 -2.5a5.2 3.3 -14 1 0 -10.2 2.5M45.3 389.4a8.7 2.2 -33 1 0 14.6 -9.6a8.7 2.2 -33 1 0 -14.6 9.6M103.4 447.5a3.7 2.3 -43 1 0 5.4 -5.1a3.7 2.3 -43 1 0 -5.4 5.1M159 429.2a8.9 2.3 -14 1 0 17.3 -4.4a8.9 2.3 -14 1 0 -17.3 4.4M298.1 428a6.5 3.1 -58 1 0 6.9 -11.1a6.5 3.1 -58 1 0 -6.9 11.1M55.2 512.8a7.1 2.6 -64 1 0 6.2 -12.8a7.1 2.6 -64 1 0 -6.2 12.8M115.1 381.4a5.8 2.6 -86 1 0 0.8 -11.6a5.8 2.6 -86 1 0 -0.8 11.6M281.9 347.9a6.4 3.1 -36 1 0 10.4 -7.6a6.4 3.1 -36 1 0 -10.4 7.6M176 336.1a6.2 3.3 -44 1 0 8.8 -8.6a6.2 3.3 -44 1 0 -8.8 8.6M229.5 367a4.6 3.5 -43 1 0 6.7 -6.3a4.6 3.5 -43 1 0 -6.7 6.3M225.3 326.6a7.9 2.7 -64 1 0 7.1 -14.2a7.9 2.7 -64 1 0 -7.1 14.2M31.6 379.5a4.2 3.3 -48 1 0 5.7 -6.2a4.2 3.3 -48 1 0 -5.7 6.2M283.3 301.2a4.1 2.8 -24 1 0 7.6 -3.4a4.1 2.8 -24 1 0 -7.6 3.4M131.2 464.9a3.9 2.9 -69 1 0 2.8 -7.2a3.9 2.9 -69 1 0 -2.8 7.2M70 366a7 3.1 -33 1 0 11.7 -7.6a7 3.1 -33 1 0 -11.7 7.6M44.8 453.4a3.5 2.8 -79 1 0 1.4 -6.9a3.5 2.8 -79 1 0 -1.4 6.9M368.8 372.6a6.8 2 -51 1 0 8.6 -10.6a6.8 2 -51 1 0 -8.6 10.6M308.6 443.3a4.6 2.6 -38 1 0 7.2 -5.6a4.6 2.6 -38 1 0 -7.2 5.6M345.6 278.2a5.6 2.3 -32 1 0 9.5 -5.8a5.6 2.3 -32 1 0 -9.5 5.8M153.7 393.8a7.7 2.9 -44 1 0 11.1 -10.8a7.7 2.9 -44 1 0 -11.1 10.8M139.2 464.4a8.8 3.2 -22 1 0 16.4 -6.7a8.8 3.2 -22 1 0 -16.4 6.7M136.8 500.2a5.5 2.8 -13 1 0 10.7 -2.5a5.5 2.8 -13 1 0 -10.7 2.5M177.8 287.1a3.7 3.3 -27 1 0 6.6 -3.5a3.7 3.3 -27 1 0 -6.6 3.5M248.7 530.7a6.5 2.9 -55 1 0 7.4 -10.6a6.5 2.9 -55 1 0 -7.4 10.6M115.2 271.3a7 2.4 -36 1 0 11.4 -8.3a7 2.4 -36 1 0 -11.4 8.3M7.2 425.9a7.3 3.1 -58 1 0 7.8 -12.3a7.3 3.1 -58 1 0 -7.8 12.3M205.4 293.5a7.2 2.2 -54 1 0 8.5 -11.6a7.2 2.2 -54 1 0 -8.5 11.6M112.5 398.5a7.8 2.9 -64 1 0 6.8 -14.2a7.8 2.9 -64 1 0 -6.8 14.2M10.6 538.3a6.4 2.3 -62 1 0 6.1 -11.3a6.4 2.3 -62 1 0 -6.1 11.3M209.6 530.9a7.2 2.1 -10 1 0 14.2 -2.6a7.2 2.1 -10 1 0 -14.2 2.6M261.9 524.6a8.9 2.4 -58 1 0 9.3 -15.1a8.9 2.4 -58 1 0 -9.3 15.1M335.4 531.2a6.9 2.5 -37 1 0 11.1 -8.2a6.9 2.5 -37 1 0 -11.1 8.2"/><path fill="#282828" d="M207 351a6.1 2.7 -34 1 0 10.2 -6.9a6.1 2.7 -34 1 0 -10.2 6.9M363.3 316.4a4.3 2.5 -22 1 0 8 -3.2a4.3 2.5 -22 1 0 -8 3.2M370.1 304.4a4.8 3.1 -87 1 0 0.5 -9.6a4.8 3.1 -87 1 0 -0.5 9.6M367.9 284.7a8.4 2.5 -55 1 0 9.7 -13.7a8.4 2.5 -55 1 0 -9.7 13.7M361.5 512.3a8 2.1 -42 1 0 11.8 -10.7a8 2.1 -42 1 0 -11.8 10.7M30.4 276.2a7.5 2.4 -10 1 0 14.8 -2.7a7.5 2.4 -10 1 0 -14.8 2.7M36.8 469.7a8.3 2.6 -10 1 0 16.3 -2.8a8.3 2.6 -10 1 0 -16.3 2.8M160.2 490.5a7.5 2.2 -35 1 0 12.3 -8.6a7.5 2.2 -35 1 0 -12.3 8.6M341 492.8a6.5 2.6 -49 1 0 8.7 -9.8a6.5 2.6 -49 1 0 -8.7 9.8M163.6 531.4a7.7 3.3 -58 1 0 8.2 -13a7.7 3.3 -58 1 0 -8.2 13M280.8 415.8a8.7 2.6 -39 1 0 13.5 -10.9a8.7 2.6 -39 1 0 -13.5 10.9M290.6 503.8a6.5 2.9 -27 1 0 11.7 -5.9a6.5 2.9 -27 1 0 -11.7 5.9M209 279.3a5.7 3.5 -51 1 0 7.1 -8.8a5.7 3.5 -51 1 0 -7.1 8.8M362.2 419.9a9 2.1 -59 1 0 9.2 -15.4a9 2.1 -59 1 0 -9.2 15.4M157.4 475.8a6.2 3.2 -47 1 0 8.5 -9.1a6.2 3.2 -47 1 0 -8.5 9.1M201.2 427.7a4.5 3.2 -45 1 0 6.5 -6.4a4.5 3.2 -45 1 0 -6.5 6.4M84.5 384.4a5.1 3.1 -42 1 0 7.6 -6.9a5.1 3.1 -42 1 0 -7.6 6.9M110 521.1a6.8 2.3 -57 1 0 7.4 -11.5a6.8 2.3 -57 1 0 -7.4 11.5M199.2 521.8a3.6 2.8 -75 1 0 1.8 -7a3.6 2.8 -75 1 0 -1.8 7M333.6 416.6a8.3 3.2 -24 1 0 15.3 -6.7a8.3 3.2 -24 1 0 -15.3 6.7M303 313.6a8.4 3.3 -10 1 0 16.5 -3a8.4 3.3 -10 1 0 -16.5 3M60.1 487.5a8.2 3 -30 1 0 14.1 -8.2a8.2 3 -30 1 0 -14.1 8.2M163.6 368.2a6.1 2.8 -42 1 0 9 -8.1a6.1 2.8 -42 1 0 -9 8.1M188 413.1a5.9 2.9 -26 1 0 10.6 -5.2a5.9 2.9 -26 1 0 -10.6 5.2M206.2 397.8a6.2 2 -22 1 0 11.5 -4.6a6.2 2 -22 1 0 -11.5 4.6M189.8 445.5a6.2 2.5 -41 1 0 9.3 -8.2a6.2 2.5 -41 1 0 -9.3 8.2M18.6 352.8a4.6 3.3 -20 1 0 8.6 -3.2a4.6 3.3 -20 1 0 -8.6 3.2M305.7 535.9a7.8 3.2 -43 1 0 11.5 -10.6a7.8 3.2 -43 1 0 -11.5 10.6M217.6 297.9a7.1 2.4 -20 1 0 13.4 -4.9a7.1 2.4 -20 1 0 -13.4 4.9M393 325a3.5 3.3 -76 1 0 1.7 -6.9a3.5 3.3 -76 1 0 -1.7 6.9M94.8 274.1a7.9 2.9 -62 1 0 7.4 -14a7.9 2.9 -62 1 0 -7.4 14M353.9 384.1a8.2 3.4 -41 1 0 12.3 -10.8a8.2 3.4 -41 1 0 -12.3 10.8M312.5 517.8a5.4 2.2 -25 1 0 9.8 -4.5a5.4 2.2 -25 1 0 -9.8 4.5M127 374.2a5.2 2.3 -32 1 0 8.7 -5.6a5.2 2.3 -32 1 0 -8.7 5.6M262.8 276.5a8.9 2.3 -63 1 0 8 -15.9a8.9 2.3 -63 1 0 -8 15.9M383.4 299.5a5 3.1 -60 1 0 5.1 -8.7a5 3.1 -60 1 0 -5.1 8.7M324.6 319.9a5.7 3.4 -54 1 0 6.6 -9.2a5.7 3.4 -54 1 0 -6.6 9.2M309.3 418.2a8.4 2.2 -7 1 0 16.7 -2.1a8.4 2.2 -7 1 0 -16.7 2.1M226.8 437.8a8.7 2.6 -48 1 0 11.8 -12.9a8.7 2.6 -48 1 0 -11.8 12.9M309.3 410.2a5.6 2.7 -63 1 0 5 -10a5.6 2.7 -63 1 0 -5 10M198.2 404.9a3.7 3.3 -45 1 0 5.2 -5.2a3.7 3.3 -45 1 0 -5.2 5.2M356 518a4.8 2.4 -32 1 0 8.2 -5.2a4.8 2.4 -32 1 0 -8.2 5.2M58.5 418.6a7.3 3.3 -47 1 0 10.1 -10.6a7.3 3.3 -47 1 0 -10.1 10.6"/></g><g filter="url(#b05)"><path stroke="#c8c8c8" stroke-width="1" stroke-linecap="round" d="M382.5 301h0M162.5 370h0M358.5 417.5h0M235 320h0M344.5 315.5h0M336 319.5h0M271.5 323.5h0M262.5 323h0M235.5 468h0M189 447h0M96.5 515.5h0M329.5 366.5h0M323.5 369h0M331.5 398h0M335.5 526.5h0M149 444.5h0M153.5 443h0M118.5 340.5h0M144.5 314h0M134 311.5h0M281.5 487h0M356 524.5h0M343 525.5h0M332 306.5h0M328.5 479h0M328.5 475h0M311.5 367h0M380.5 283.5h0M384 279.5h0M72.5 319h0M387.5 530h0M358.5 270h0M89 494h0M284.5 333.5h0M29.5 359.5h0M291 393.5h0M138 393.5h0M138 420h0M145.5 420.5h0M182 391h0M369 384.5h0M14 444.5h0M40.5 418h0M354 285.5h0M356 288h0M360.5 287.5h0M254.5 433h0M51 390h0M113.5 365h0M78.5 489h0M115 405h0M328 291.5h0M168 464h0M174 460h0M156 349.5h0"/><path stroke="#c8c8c8" stroke-width="1.5" stroke-linecap="round" d="M360.5 507h0M384.5 295.5h0M388 301h0M163.5 368.5h0M161 367.5h0M163.5 365h0M356.5 414.5h0M359 419.5h0M356 418.5h0M288 522h0M9 366.5h0M8 364.5h0M14 364.5h0M347 321.5h0M293 440.5h0M295 437h0M303.5 438.5h0M267 320h0M238.5 467.5h0M236 470h0M185 449h0M187 445.5h0M116 295.5h0M110 293h0M238.5 304.5h0M238.5 302h0M237.5 305.5h0M88.5 513h0M89 517.5h0M90.5 515.5h0M315 297.5h0M313.5 301h0M319.5 342h0M322 346h0M204 499.5h0M163 420.5h0M328 395.5h0M328.5 395h0M332.5 394.5h0M307 376.5h0M300 374h0M306 377h0M195.5 480h0M262.5 341.5h0M263.5 341h0M344.5 523.5h0M337 524h0M327 293.5h0M319 299h0M153.5 441h0M143.5 442.5h0M139.5 313.5h0M139 312.5h0M296.5 400.5h0M301 399h0M282 490h0M282 483h0M232.5 339.5h0M233.5 335.5h0M231 337h0M345 523.5h0M36 398.5h0M24 473h0M329 475h0M311.5 363h0M66.5 314.5h0M58.5 311h0M61.5 311.5h0M73 318.5h0M70 320.5h0M268.5 467.5h0M15 361h0M357 267.5h0M336.5 416h0M333 413.5h0M96.5 497.5h0M89 493h0M284 339h0M284 335h0M283 336.5h0M27.5 359h0M31 362.5h0M59.5 306.5h0M53 307.5h0M53.5 305.5h0M55.5 312.5h0M55.5 302h0M292.5 395.5h0M381 379h0M381.5 381.5h0M379 379h0M382.5 382h0M140.5 414h0M189 384h0M184 385.5h0M187.5 389h0M187 386h0M374 383.5h0M17 448h0M15.5 447.5h0M41.5 418h0M38.5 416.5h0M357 287h0M356 289h0M126.5 513h0M117 510h0M120 509h0M136.5 351h0M136.5 352h0M245.5 433.5h0M53.5 392.5h0M51.5 388.5h0M105 383h0M109.5 389.5h0M146 304h0M145 299.5h0M153.5 286.5h0M153.5 290.5h0M113 365.5h0M333 290h0M76 487.5h0M113 404.5h0M113.5 407.5h0M328.5 290h0M335.5 289h0M294.5 425h0M170.5 518.5h0M51 473.5h0M51 474h0M162 348h0M156 350.5h0M162.5 350h0M42.5 348.5h0"/><path stroke="#c8c8c8" stroke-width="2" stroke-linecap="round" d="M361.5 509h0M360 509h0M386.5 296h0M155.5 366h0M356.5 419h0M298 522h0M292.5 520.5h0M235.5 323.5h0M233 326h0M8.5 370h0M299 439h0M295.5 438h0M267 319.5h0M265.5 320.5h0M239.5 466h0M238.5 466.5h0M193.5 451h0M191 445.5h0M108 293h0M110 294.5h0M242 303h0M323 297h0M313 300.5h0M325.5 368.5h0M328.5 366.5h0M327.5 342.5h0M162.5 418.5h0M161 419.5h0M163.5 419.5h0M193 476h0M190 475.5h0M196.5 479.5h0M190.5 477h0M256 342.5h0M340 527.5h0M323.5 293.5h0M151 445h0M120.5 342.5h0M118 343.5h0M124 341.5h0M281 486h0M233.5 336h0M346 525h0M217.5 498h0M215.5 493.5h0M222.5 492.5h0M338.5 309.5h0M336 309.5h0M327 306.5h0M45 405h0M23.5 472.5h0M26 476.5h0M25 472h0M329.5 475h0M310 363.5h0M61 313h0M67 307.5h0M388.5 283h0M69.5 321.5h0M273.5 469h0M272 469.5h0M272 470h0M388 531h0M387 523h0M386 527.5h0M11.5 359h0M9 354.5h0M7.5 360h0M7 357h0M360 270.5h0M93.5 496h0M94 495h0M30.5 363.5h0M291 397h0M284 395h0M381 382.5h0M135.5 391.5h0M140.5 393h0M138.5 395h0M147 414h0M136.5 416.5h0M377.5 382.5h0M369 380.5h0M18 446h0M16 445h0M39 418h0M37.5 419.5h0M136 353.5h0M133 350h0M251 432h0M245.5 435.5h0M52 389.5h0M106 384h0M148 295.5h0M141.5 300.5h0M156.5 289h0M160.5 291.5h0M155.5 287h0M120 364h0M198 294.5h0M194 296h0M197.5 295.5h0M186.5 293.5h0M251 395.5h0M252.5 395h0M251 395h0M327 288.5h0M332.5 291h0M79 487.5h0M119 402h0M113 402h0M336.5 288h0M169.5 461h0M287.5 423.5h0M286 424.5h0M169 518.5h0M50 476h0M42.5 475h0M159.5 346.5h0M39.5 349.5h0M43 349h0M43.5 352.5h0"/><path stroke="#c8c8c8" stroke-width="2.5" stroke-linecap="round" d="M357 506.5h0M357.5 506h0M383 298.5h0M289 517.5h0M293 515.5h0M236 322h0M233 327h0M12 364.5h0M346.5 317.5h0M339 320.5h0M111 296h0M244 308.5h0M91 514.5h0M317.5 300h0M324 368.5h0M323.5 346h0M322.5 339h0M210.5 501h0M207.5 503.5h0M213 500.5h0M213.5 500.5h0M167.5 416.5h0M329.5 393h0M304.5 373h0M308 372h0M264.5 344.5h0M257.5 343.5h0M343 526h0M319 290.5h0M320 290.5h0M120 342h0M140.5 312h0M302 399.5h0M302 399.5h0M300 393.5h0M289 489.5h0M240 336.5h0M348 528h0M220.5 495h0M222.5 500h0M331.5 306.5h0M43 402.5h0M34.5 402.5h0M34 404.5h0M26.5 470.5h0M333.5 475h0M308.5 361.5h0M306.5 363.5h0M381.5 284.5h0M386 284h0M74.5 322.5h0M268 469.5h0M382 525h0M359.5 272.5h0M359.5 273h0M337.5 416.5h0M338.5 409h0M339.5 409.5h0M283.5 335h0M28 361h0M288 399.5h0M135 393.5h0M368.5 381.5h0M127.5 516h0M118.5 516h0M139 352.5h0M241 434.5h0M50 389.5h0M107.5 389h0M108.5 390h0M144.5 299.5h0M121 362.5h0M120.5 364h0M192.5 294.5h0M249.5 392h0M259.5 393h0M327 289h0M323.5 290.5h0M79 487h0M78 489.5h0M333.5 287.5h0M169.5 457h0M169 458h0M286 424h0M286 428.5h0M168 516.5h0M159.5 520h0M170.5 521.5h0M50 477.5h0M41.5 350h0"/><path stroke="#d0d0d0" stroke-width="1" stroke-linecap="round" d="M89 311h0M84.5 314.5h0M93.5 311.5h0M81 404h0M321.5 420h0M321.5 424h0M320.5 421h0M291 441h0M288 441h0M325.5 330h0M143 328h0M122 451.5h0M189.5 295.5h0M198 327h0M204.5 321.5h0M160 293.5h0M161.5 295.5h0M246 282h0M239 282.5h0M243.5 279h0M229.5 280h0M299.5 351h0"/><path stroke="#d0d0d0" stroke-width="1.5" stroke-linecap="round" d="M86.5 312.5h0M83.5 315.5h0M88.5 311h0M71 404h0M78.5 402.5h0M80 406.5h0M83.5 402.5h0M79.5 402h0M84.5 407h0M323.5 417.5h0M310.5 419h0M326.5 472h0M331 475h0M327.5 469.5h0M335.5 475.5h0M291 442h0M292 441h0M294 443h0M343.5 305.5h0M339 307h0M338.5 307h0M355.5 305.5h0M347.5 306h0M341.5 306h0M330.5 328h0M336 332.5h0M160.5 324.5h0M149 332.5h0M147.5 326.5h0M152 328h0M152 332.5h0M144.5 331h0M119.5 450h0M117 451.5h0M119 454.5h0M118.5 451.5h0M194.5 297h0M191.5 296h0M197 298.5h0M192.5 299h0M198 321h0M204.5 325h0M196.5 322.5h0M196 318h0M200.5 319h0M161 292.5h0M156.5 297h0M167.5 297.5h0M162.5 289h0M240 279.5h0M245.5 272.5h0M300 348h0M305.5 349h0M300 352.5h0M307.5 346.5h0M305 353h0M300.5 352h0"/><path stroke="#d0d0d0" stroke-width="2" stroke-linecap="round" d="M83 312.5h0M87 316.5h0M88 309h0M91 398.5h0M321.5 421h0M314.5 424h0M326.5 421h0M326 476h0M332.5 471.5h0M322.5 471h0M322 470.5h0M331 467.5h0M333 475.5h0M287.5 445.5h0M297 445.5h0M285 444h0M339 305.5h0M349 303.5h0M325 330.5h0M332 328.5h0M332 328h0M333 326h0M325 329.5h0M154 331.5h0M146.5 331.5h0M151.5 333h0M146 329h0M154.5 325h0M120 449h0M116.5 449.5h0M120.5 453h0M188 298.5h0M182.5 295.5h0M191.5 297.5h0M199.5 318.5h0M160.5 288.5h0M162 295.5h0M154 292h0M164 290h0M156 292h0M245.5 282.5h0M245 276h0M299.5 345.5h0"/><path stroke="#d0d0d0" stroke-width="2.5" stroke-linecap="round" d="M85.5 312.5h0M84.5 316h0M91.5 310.5h0M78 398.5h0M80.5 401.5h0M85.5 405h0M80.5 407.5h0M318 421.5h0M319 423.5h0M320 419.5h0M318.5 419.5h0M333 469.5h0M329 470.5h0M283.5 444.5h0M294.5 442.5h0M299 442h0M288 442h0M344.5 305h0M346.5 304h0M343.5 308.5h0M348.5 303.5h0M332.5 330h0M327.5 328.5h0M332.5 331h0M333 331h0M120.5 450h0M118.5 449h0M121 442h0M116 449.5h0M194 299h0M194.5 304h0M198 303h0M191 300.5h0M196 320.5h0M197 320.5h0M203.5 320h0M204.5 320h0M160.5 290h0M238 279h0M241.5 286h0M235.5 278.5h0M233.5 285h0M296 347.5h0M296.5 354h0M301.5 351h0M299.5 354h0"/></g></g><rect x="6" y="271" width="389" height="262" filter="url(#grain)" opacity="0.5"/><rect x="6" y="271" width="389" height="262" filter="url(#grainw)" opacity="0.15"/></g><g clip-path="url(#clipD)"><g filter="url(#b04)"><rect x="403" y="271" width="388" height="262" fill="#3e3e3e"/><g filter="url(#b2)"><path d="M554,427C555,426 557,423 559,419C561,414 563,406 564,403C566,399 569,400 570,399M563,464C563,462 560,457 559,455C559,452 561,451 561,449C561,447 561,443 561,442M647,533C646,532 645,528 645,527C645,526 647,527 647,526C648,524 647,521 647,520M417,471C417,469 419,464 419,460C419,457 416,454 416,452C415,449 418,447 418,446M701,458C702,457 707,454 709,453C711,451 713,450 714,448C715,445 715,439 715,437M539,334C539,332 540,327 541,325C541,323 541,323 541,321C541,319 541,316 541,315M469,454C469,452 470,449 470,446C471,443 473,437 474,433C474,430 473,427 473,425M709,351C710,350 713,348 716,346C719,344 725,342 729,341C733,340 738,339 740,338M512,387C514,386 520,382 522,380C523,377 520,373 521,371C522,368 526,368 527,367M746,481C747,481 751,481 752,479C753,477 753,472 753,470C754,468 755,467 756,466M456,524C456,524 455,521 455,520C456,518 460,517 461,516C462,515 461,515 461,515M672,491C672,490 668,484 668,483C667,481 668,483 668,481C668,479 667,472 667,471M520,419C520,418 521,414 522,412C523,410 526,409 527,408C528,407 527,408 527,408M634,457C636,456 640,455 643,453C646,452 649,448 653,447C656,445 660,443 661,442M395,298C397,298 405,298 407,297C410,295 409,291 411,289C413,287 418,285 419,284M495,388C496,387 500,386 503,383C505,380 508,375 510,372C512,368 515,364 515,362M748,411C748,410 747,408 746,405C745,403 742,399 741,397C740,395 740,393 739,393M567,287C568,286 571,284 572,282C572,281 571,280 571,278C571,276 572,271 572,269M528,476C528,473 527,466 528,462C529,458 532,456 532,452C533,448 530,441 530,439M475,490C474,489 471,486 469,484C468,483 468,483 467,481C465,478 462,471 462,469M771,291C771,291 773,290 774,288C775,287 775,285 777,283C779,282 783,280 784,279M401,288C401,286 405,279 406,276C407,273 406,271 407,269C408,267 409,264 410,263M550,529C551,528 553,523 554,520C555,517 555,514 555,511C555,508 553,503 553,501M487,494C487,492 489,488 490,486C492,484 494,483 496,481C498,479 500,475 501,473M407,342C408,342 409,342 409,340C409,338 409,334 409,331C408,329 407,327 407,326M412,480C413,480 415,480 417,478C418,476 419,473 420,469C422,465 424,458 425,456M641,539C640,538 638,534 638,533C639,532 642,534 644,531C646,528 649,519 650,516M496,504C496,502 497,497 498,495C498,492 500,492 500,490C500,488 498,483 497,482M613,388C613,387 615,383 615,381C616,379 616,377 616,374C617,371 620,364 620,363M759,380C759,378 756,372 755,369C754,365 754,363 754,359C755,355 757,348 757,346M551,440C552,441 553,443 554,443C555,443 555,440 556,438C557,436 560,431 560,430M562,303C564,302 570,300 571,298C572,296 569,296 570,293C571,291 575,286 576,285M666,377C667,376 670,371 673,369C676,367 679,367 682,365C685,362 690,358 692,356M762,306C764,306 771,304 774,303C777,301 777,299 779,297C782,295 789,291 791,289M430,460C431,460 431,461 432,459C433,458 435,453 436,451C437,449 437,448 437,448M741,290C743,289 749,282 749,281C750,279 746,282 746,280C745,278 748,272 748,270M772,298C771,297 767,295 766,293C765,292 766,292 765,291C765,290 765,287 765,286M630,363C630,362 633,361 634,358C634,355 631,349 631,347C630,345 631,345 631,344M703,540C704,539 705,536 707,533C710,530 715,525 716,523C717,521 715,520 714,519M429,489C429,488 427,484 428,481C428,479 433,476 434,473C434,470 431,466 431,464M505,341C505,340 508,337 509,336C509,335 508,336 508,335C508,333 508,327 508,325M442,499C442,498 441,495 442,493C443,491 446,488 447,485C448,483 447,479 447,478M668,478C669,477 668,475 669,472C670,469 671,463 673,460C675,458 681,457 682,456M460,494C459,494 456,495 455,493C455,491 459,485 459,483C460,481 458,481 458,480M741,433C743,433 749,439 752,438C754,437 755,431 757,429C758,428 761,430 762,430M570,344C570,344 573,344 574,341C574,339 571,332 571,329C572,325 573,322 574,320M453,423C453,422 458,418 458,414C458,409 455,401 455,397C456,393 459,390 459,388M715,521C715,519 714,513 715,510C715,507 716,507 717,504C718,501 720,493 720,491M579,302C579,301 581,300 583,298C586,297 590,295 593,294C595,292 599,289 600,289M531,390C531,388 528,384 530,381C531,378 536,372 538,369C540,366 540,363 540,362M473,435C474,434 476,430 476,428C477,426 476,426 477,424C477,422 480,417 480,416M524,430C524,431 523,434 524,434C525,434 529,435 529,433C529,431 526,423 525,421M555,479C556,479 559,477 561,476C563,474 564,472 566,470C568,468 572,465 573,464M684,351C685,350 691,348 694,345C696,343 696,338 698,336C700,334 706,332 708,332M451,539C452,538 454,539 456,537C459,535 462,530 464,528C466,525 467,524 468,523M683,419C683,418 683,417 683,415C683,413 682,410 682,407C682,404 685,398 685,397M588,415C588,414 587,411 589,410C590,408 594,406 595,404C596,402 595,400 595,400M468,350C468,350 468,349 468,348C469,346 469,343 470,341C470,339 471,337 471,337M649,390C650,388 656,384 659,381C661,378 661,377 663,374C666,371 672,365 673,363M595,429C595,429 597,430 598,429C599,428 600,425 601,424C602,423 602,422 602,422M466,359C466,359 467,363 468,362C470,360 475,353 475,351C475,349 470,349 469,349M554,444C555,442 554,438 555,434C556,430 559,425 559,422C559,419 556,418 556,417M536,515C536,512 538,502 538,497C538,493 535,492 536,489C537,487 542,484 543,483M405,473C407,472 412,468 415,465C418,462 420,457 422,455C424,452 425,450 426,449M659,301C660,299 664,291 665,287C667,282 669,280 670,276C672,272 674,265 675,263M748,304C750,303 753,302 755,301C756,299 755,296 757,295C758,293 762,292 763,291M426,325C427,323 430,316 432,315C433,313 436,318 437,317C438,315 438,307 438,305M530,528C531,527 535,524 537,522C539,519 540,514 543,512C546,510 553,510 555,509M594,428C594,426 596,421 596,417C596,413 594,407 593,404C592,400 591,397 591,395M783,526C784,524 785,518 785,516C784,513 782,513 781,509C780,506 781,497 781,495M510,321C510,321 510,320 512,318C514,316 521,314 523,311C525,309 525,304 526,303M541,307C541,307 539,310 540,308C540,306 542,298 543,295C543,293 544,294 544,293M430,424C430,424 433,424 434,422C435,421 435,418 437,417C438,415 442,414 443,413M711,302C710,301 706,298 707,297C709,295 718,294 720,293C723,291 720,289 720,288M752,511C753,509 756,505 758,502C759,499 760,496 762,493C763,490 767,484 768,482M491,466C493,466 495,466 499,463C502,460 510,450 513,448C517,447 517,453 517,454M684,421C685,420 691,416 693,414C695,412 695,413 696,411C698,409 702,404 703,402M556,499C556,499 557,499 559,498C560,498 563,495 565,495C566,494 568,496 569,496M561,395C562,394 568,395 569,393C571,391 569,385 570,382C572,378 579,374 580,373M477,423C478,422 486,415 488,413C491,410 490,410 492,408C494,406 499,402 501,401M642,314C643,314 646,312 647,311C647,309 645,308 646,306C647,304 651,301 652,300M782,342C783,341 783,338 784,335C785,332 786,329 786,326C787,323 785,319 785,317M407,352C408,351 415,348 416,346C417,343 413,341 414,338C415,335 421,330 422,329M527,391C528,390 529,385 530,383C532,381 535,381 536,379C538,378 538,375 539,375M484,320C485,319 491,316 492,314C493,311 489,309 489,307C490,305 493,301 494,300M519,371C519,369 518,363 518,361C518,358 521,357 521,354C521,350 519,343 519,341M738,445C737,444 737,440 737,437C737,434 736,430 736,428C736,426 737,425 737,424M569,521C570,521 571,522 573,521C576,520 580,516 582,515C585,514 587,515 588,515M738,282C739,281 741,279 741,276C741,274 738,269 738,267C738,264 740,261 741,260M454,307C454,305 452,297 452,294C453,291 454,292 456,290C457,288 459,284 459,283M657,501C659,501 664,503 665,502C667,502 667,500 669,498C671,497 676,493 678,492M682,377C684,376 689,373 691,370C694,367 695,362 697,359C698,356 700,352 700,351M778,540C779,540 784,540 787,538C789,536 790,531 792,528C794,526 799,524 800,524M791,356C791,355 790,352 790,349C790,347 792,346 792,344C792,341 791,336 791,334M576,293C578,293 584,292 587,292C590,292 591,292 593,292C595,291 598,290 599,290M650,511C650,509 652,503 653,499C653,495 651,490 652,487C652,483 654,481 654,480M634,526C634,525 637,525 637,523C636,520 632,514 632,512C631,509 633,507 633,506M726,314C727,314 732,316 734,316C737,315 738,312 739,311C740,310 740,311 740,311M435,461C436,460 437,458 439,456C441,455 444,454 446,452C448,451 450,448 450,447M670,472C670,471 669,467 669,464C669,461 670,457 669,454C668,451 664,447 663,445M653,280C654,278 657,274 659,272C661,270 661,271 664,269C667,268 673,265 675,265M474,372C475,371 477,366 478,364C480,362 480,361 482,360C484,360 488,359 489,359M559,482C560,481 564,482 565,481C565,479 560,476 561,474C561,473 567,470 568,469M626,500C628,499 634,499 637,497C640,496 642,494 644,492C647,490 652,488 653,487M592,493C593,491 595,488 595,485C595,482 593,476 592,472C592,468 592,462 592,460M580,284C580,283 579,279 580,276C580,274 582,270 583,268C584,265 585,262 585,261M575,334C575,333 576,328 575,325C575,321 573,318 573,314C574,310 577,304 577,302M409,364C409,363 410,358 410,356C411,354 412,354 413,352C414,350 414,346 414,345M416,550C417,548 421,541 423,538C424,534 425,530 425,527C425,525 425,523 425,522M659,406C660,405 662,399 662,397C662,395 659,397 659,395C659,393 662,388 662,386M421,433C421,433 419,431 419,429C420,427 421,425 421,424C422,423 424,422 424,422M601,468C602,466 602,462 603,457C604,453 606,446 607,443C608,439 609,437 609,436M567,532C568,530 568,522 570,518C572,514 576,509 579,506C581,503 583,500 584,499M746,329C746,327 746,320 746,317C747,313 748,312 749,310C751,308 753,306 754,305M448,499C448,497 450,491 449,487C449,483 443,479 442,476C441,473 443,470 443,468M768,434C769,432 768,426 770,424C771,421 776,420 778,418C780,417 782,413 783,412M696,522C696,522 698,521 699,518C701,514 703,507 705,504C706,501 709,501 710,500M728,420C729,420 733,417 734,416C734,414 731,413 732,411C733,409 739,405 740,404M681,415C682,413 684,407 686,403C687,399 687,395 688,392C690,389 693,386 694,384M415,301C415,299 414,294 415,292C415,290 417,289 417,287C418,285 418,283 418,282M529,469C529,467 529,461 528,458C527,456 525,457 523,454C522,450 518,440 517,437M617,357C617,356 617,353 619,351C620,350 624,349 625,347C627,346 627,344 628,343M642,411C642,410 640,409 639,407C639,406 641,404 641,402C641,401 642,399 642,399M627,456C628,454 632,450 635,448C637,447 640,448 643,448C646,447 650,446 652,445M547,502C547,501 547,494 547,491C548,489 547,490 548,487C549,485 551,480 551,478M579,350C579,349 579,347 581,345C584,343 591,341 594,338C597,336 597,333 598,332M444,483C445,482 448,480 450,480C453,479 456,479 458,478C460,477 461,474 461,474M619,444C621,443 627,441 630,439C633,436 634,431 637,428C640,426 645,425 647,425M522,307C522,306 521,302 521,299C521,296 522,293 523,289C523,285 522,279 521,277M505,440C505,440 508,439 509,436C510,434 511,427 512,424C513,421 516,418 517,417M762,377C763,375 763,372 764,370C765,368 768,369 768,367C769,366 768,362 768,361M663,267C665,267 672,265 676,266C680,267 681,271 684,274C688,276 693,280 694,282M608,461C609,460 613,456 615,454C616,452 617,451 617,450C617,448 616,447 616,447M438,542C438,540 438,535 439,532C440,530 441,527 443,525C444,524 448,523 449,523M782,409C782,407 781,401 782,399C782,396 783,395 783,391C783,388 783,380 783,378M693,485C693,485 693,485 695,483C697,482 704,477 706,474C708,471 707,468 707,467M513,456C514,456 519,456 520,455C521,454 518,453 519,451C520,448 525,443 526,442M518,309C518,308 519,307 520,307C521,306 523,306 524,304C526,302 527,295 527,293M713,468C714,467 717,465 719,463C722,461 724,458 726,456C728,453 730,450 730,449M697,393C698,391 699,387 700,384C701,382 702,379 703,376C705,373 710,367 711,366M512,473C511,473 510,471 509,469C507,468 506,464 505,462C504,460 504,457 503,456M779,305C780,303 784,298 784,295C785,293 783,291 783,289C783,286 784,283 785,282M454,516C455,515 457,513 460,510C463,508 468,504 472,501C475,498 478,495 479,494M592,379C592,379 590,378 591,376C591,374 595,370 595,368C596,366 595,363 595,362M479,523C480,522 482,519 484,518C486,518 486,517 488,518C490,518 493,519 494,519M445,433C445,433 444,431 445,431C446,430 451,431 452,429C453,427 453,421 453,419M642,469C643,467 644,461 644,458C645,455 645,452 646,450C647,448 649,447 650,446M557,311C557,310 558,308 560,308C563,307 567,309 570,308C573,307 578,303 579,302M517,299C516,297 512,289 511,285C510,282 511,280 510,277C509,275 505,270 504,269M514,332C515,332 521,333 523,333C525,332 524,330 527,327C529,325 535,319 537,317M622,329C622,328 623,325 623,323C623,321 625,320 625,319C624,318 621,319 620,319M742,473C741,472 742,469 741,467C740,464 737,459 735,457C732,454 728,453 727,453M494,520C495,518 497,513 498,511C499,508 498,508 498,506C499,504 499,499 499,497M650,352C651,351 653,349 656,347C659,344 666,342 669,339C672,337 674,333 675,332M566,311C567,309 572,303 572,301C572,299 570,299 569,297C569,296 570,291 571,290M646,336C646,334 647,329 647,326C648,324 647,323 647,320C647,316 647,307 647,304M570,411C570,410 571,407 571,405C572,402 573,398 573,396C574,394 574,393 575,393M456,416C459,415 468,412 471,411C474,409 472,409 473,406C475,403 480,396 481,394M647,376C646,373 647,364 646,360C645,356 641,357 641,354C641,351 645,343 646,341M587,324C587,322 585,317 584,314C582,311 582,311 580,308C579,306 576,300 575,299" fill="none" stroke="#4e4e4e" stroke-width="3" stroke-linecap="round"/></g><g filter="url(#b08)"><path d="M555,329C555,328 557,327 558,326C559,325 560,323 561,322C562,321 563,319 563,318M504,468C505,467 505,464 505,462C505,459 505,457 505,455C505,452 504,449 504,448M397,439C398,438 401,434 403,432C405,430 407,428 409,427C412,425 415,423 417,422M758,429C759,428 762,425 763,422C765,420 766,417 767,415C767,412 768,408 768,406M539,351C539,349 538,344 539,342C540,339 541,336 542,334C543,331 547,328 548,327" fill="none" stroke="#828282" stroke-width="1.3" stroke-linecap="round"/><path d="M452,482C452,481 454,480 455,479C457,478 458,477 459,476C461,475 462,474 463,473M648,327C648,326 649,324 649,323C650,321 650,320 651,319C652,317 653,315 653,315" fill="none" stroke="#828282" stroke-width="1" stroke-linecap="round"/><path d="M667,398C667,397 667,394 668,392C669,390 669,388 670,386C671,385 673,382 674,381M456,311C456,309 456,306 455,303C455,301 455,298 455,296C455,293 455,289 455,288M552,415C552,414 552,409 553,406C553,404 554,401 555,398C556,395 558,391 558,390" fill="none" stroke="#828282" stroke-width="1.7" stroke-linecap="round"/><path d="M680,300C682,300 688,299 690,297C693,295 694,293 695,290C695,287 693,281 693,279M776,436C777,435 780,432 781,430C782,427 783,425 784,423C785,420 786,417 786,415" fill="none" stroke="#666" stroke-width="1.5" stroke-linecap="round"/><path d="M485,539C486,538 488,534 490,532C492,530 494,528 495,526C497,524 500,521 501,520M735,365C735,364 735,361 735,360C736,358 737,357 738,356C740,355 743,355 744,355M556,453C556,452 556,450 556,448C557,446 557,444 557,442C557,440 557,437 557,437M554,278C554,278 553,275 553,274C553,272 553,271 554,270C555,269 557,267 558,267" fill="none" stroke="#666" stroke-width="1.1" stroke-linecap="round"/><path d="M597,499C597,498 599,496 599,494C600,492 601,491 602,489C603,488 604,485 604,484M755,342C754,341 748,338 746,336C743,333 742,330 741,327C740,324 740,318 740,316M523,505C524,505 527,504 528,503C529,502 530,501 530,500C531,498 531,496 531,495" fill="none" stroke="#747474" stroke-width="1.8" stroke-linecap="round"/><path d="M560,320C560,319 562,316 562,315C563,313 564,311 565,309C566,308 567,305 568,304M512,307C512,305 511,301 512,298C512,296 513,293 515,292C517,290 521,288 522,287M544,439C544,438 544,435 545,433C545,431 546,429 547,427C548,425 550,423 550,422M753,307C753,306 754,303 754,302C755,300 756,299 758,298C759,296 762,295 762,294M550,285C550,284 551,282 551,280C552,279 553,277 554,276C555,274 557,272 557,272M469,421C469,421 468,418 469,416C469,415 470,413 471,412C472,412 475,411 476,410M428,410C428,410 430,409 432,409C433,408 434,408 435,407C436,406 437,404 438,404M444,314C444,313 444,309 445,307C446,304 447,302 449,301C450,299 453,297 454,296M634,527C635,525 636,521 637,518C639,516 640,513 642,511C644,509 647,506 648,505" fill="none" stroke="#747474" stroke-width="1.3" stroke-linecap="round"/><path d="M458,367C458,366 460,364 461,363C461,362 462,360 463,359C463,357 463,354 463,354M498,367C498,365 499,361 499,358C499,355 499,352 499,349C500,346 500,341 500,339M500,342C500,341 502,338 503,336C504,334 505,332 506,330C506,327 508,324 508,323M404,485C404,484 406,482 407,480C408,478 409,476 411,475C412,473 415,471 415,470M424,322C424,322 425,320 426,319C426,318 426,316 426,315C426,314 425,312 425,311M631,385C632,385 636,383 637,382C639,380 641,379 642,377C643,375 643,371 643,370" fill="none" stroke="#5a5a5a" stroke-width="1.6" stroke-linecap="round"/><path d="M406,463C406,462 408,459 409,457C410,455 411,453 412,451C413,449 414,447 415,446M729,455C730,454 733,454 735,453C736,452 738,450 738,449C739,447 740,444 740,443M550,458C550,458 551,456 552,454C553,453 554,452 554,450C555,449 556,447 556,446M565,398C566,397 568,395 569,394C570,392 570,391 571,389C571,387 570,385 570,384" fill="none" stroke="#747474" stroke-width="1.6" stroke-linecap="round"/><path d="M589,382C590,381 593,379 595,377C597,376 598,374 600,372C601,370 603,367 604,366M486,469C487,468 488,466 489,465C489,464 490,463 490,462C490,460 490,458 490,458M781,458C781,456 781,451 782,448C783,446 785,444 787,442C790,441 795,440 797,440" fill="none" stroke="#828282" stroke-width="1.6" stroke-linecap="round"/><path d="M580,422C580,421 579,419 579,417C579,416 580,415 580,413C581,412 582,410 583,410M407,415C407,414 407,411 408,410C409,409 411,408 412,408C414,407 417,408 418,408M625,289C626,288 627,284 628,282C630,280 631,279 633,277C635,276 638,274 639,274M564,484C563,483 562,480 562,479C562,477 563,476 564,475C565,475 569,474 570,474M759,291C760,289 761,285 762,282C764,278 765,275 766,272C767,269 769,264 769,263" fill="none" stroke="#828282" stroke-width="1.1" stroke-linecap="round"/><path d="M524,443C525,442 528,438 530,436C531,434 533,431 535,429C536,427 538,423 539,422M507,509C508,508 510,507 512,507C513,506 515,505 516,504C518,503 520,502 521,502M754,525C755,524 755,519 757,517C758,514 760,512 762,511C765,509 770,508 771,507M438,378C439,377 443,374 445,371C448,369 450,367 452,364C454,362 457,358 458,356" fill="none" stroke="#747474" stroke-width="1.2" stroke-linecap="round"/><path d="M718,350C717,350 716,347 715,345C715,344 715,342 715,340C715,339 716,336 717,335M645,358C645,357 647,355 648,353C648,352 649,351 650,349C650,348 651,345 652,345M735,514C735,512 735,508 735,505C736,503 736,500 738,498C739,496 742,493 743,492M538,531C539,531 543,530 544,528C546,527 548,525 549,523C550,521 550,517 550,516M605,448C606,448 609,447 611,447C614,446 616,446 618,446C620,446 624,446 625,446M762,527C762,525 762,520 762,517C762,514 762,510 762,507C762,504 763,499 763,497M472,297C474,297 479,294 482,293C486,293 489,293 492,294C495,296 499,300 501,301M417,472C417,472 419,471 420,470C421,469 422,468 422,467C423,466 424,465 424,464M411,376C412,375 415,371 417,368C419,366 420,363 421,360C423,357 424,352 425,351" fill="none" stroke="#5a5a5a" stroke-width="1.2" stroke-linecap="round"/><path d="M640,323C640,322 640,317 641,313C642,310 643,307 645,304C646,301 649,297 650,295" fill="none" stroke="#747474" stroke-width="1" stroke-linecap="round"/><path d="M545,399C545,399 547,398 549,397C550,396 552,396 553,396C555,395 558,395 558,395M414,295C413,294 411,290 411,288C411,285 411,283 412,281C413,279 417,276 418,275M430,416C431,415 434,414 435,413C436,412 437,410 438,408C439,407 439,404 439,403M501,500C501,499 502,494 503,492C504,489 505,486 506,483C508,481 510,477 511,476" fill="none" stroke="#666" stroke-width="1.8" stroke-linecap="round"/><path d="M629,527C630,526 633,524 634,522C635,520 636,518 636,516C635,514 634,510 633,509M527,314C527,313 527,311 527,309C527,308 527,306 527,305C527,303 528,301 528,300M448,310C449,309 451,305 452,303C452,301 452,298 452,296C452,294 451,290 450,289M665,278C665,277 665,275 666,273C666,272 666,270 667,269C667,268 668,265 668,265M719,534C720,534 722,531 723,530C725,529 726,528 728,528C730,527 733,527 734,527" fill="none" stroke="#5a5a5a" stroke-width="1.3" stroke-linecap="round"/><path d="M630,447C630,446 631,444 632,443C632,441 633,440 633,438C634,437 635,435 635,434M608,340C608,339 611,337 612,336C613,335 614,333 614,332C615,330 616,327 616,326M584,415C585,414 586,413 587,412C587,411 588,411 589,410C591,410 592,410 593,410M655,386C655,384 654,379 654,376C654,373 655,370 656,367C657,364 660,359 660,358M589,294C590,294 592,294 593,293C594,292 596,291 596,290C597,289 598,287 598,286" fill="none" stroke="#828282" stroke-width="1.4" stroke-linecap="round"/><path d="M613,485C614,484 618,480 619,478C620,475 620,472 620,469C620,466 618,462 617,460M419,489C421,489 426,488 429,487C431,486 433,484 433,481C434,478 433,473 433,471M649,326C649,325 650,323 650,322C651,321 651,320 651,319C652,318 652,316 652,315M773,477C773,476 772,473 772,471C772,469 773,468 774,466C775,465 778,463 779,462M650,290C650,288 651,285 651,283C652,281 653,279 654,278C655,276 657,273 657,272M620,486C620,485 621,481 623,478C624,476 625,473 628,472C630,470 634,468 635,467M493,382C494,381 494,376 494,374C495,372 496,370 498,369C500,367 504,366 505,365M744,331C744,329 744,325 745,322C746,319 747,316 749,314C751,311 755,308 756,307" fill="none" stroke="#5a5a5a" stroke-width="1.5" stroke-linecap="round"/><path d="M551,305C551,304 552,302 552,300C553,299 553,297 553,296C554,294 554,292 554,291M412,384C412,384 413,381 415,379C416,378 417,377 419,377C420,377 423,378 424,378M774,348C774,347 775,344 776,342C777,341 778,339 780,338C782,337 784,335 785,335M556,400C557,398 561,394 562,391C563,388 563,385 562,382C561,379 558,375 557,373" fill="none" stroke="#666" stroke-width="1.6" stroke-linecap="round"/><path d="M589,300C589,299 592,298 593,297C594,295 595,294 595,293C596,291 596,288 596,288M658,352C658,351 656,345 657,342C657,339 658,336 660,334C662,332 667,329 668,328M404,299C405,298 407,296 408,294C409,292 409,291 409,289C409,287 409,284 408,283M518,369C518,368 520,367 521,365C523,364 524,363 525,362C526,360 527,358 527,357M589,418C590,416 590,412 591,409C592,407 593,405 595,402C596,400 600,398 601,397" fill="none" stroke="#666" stroke-width="1.7" stroke-linecap="round"/><path d="M470,527C471,526 472,522 474,521C475,519 477,517 479,516C481,515 485,514 487,514M778,488C778,487 779,485 780,484C780,483 781,482 782,481C782,480 783,478 783,477M497,503C498,502 499,501 500,500C500,498 501,497 502,496C502,495 503,493 503,492M654,457C655,457 656,456 657,455C657,454 657,452 657,451C658,450 657,448 657,448M693,455C693,454 693,451 694,449C695,447 695,445 696,444C698,442 700,440 700,439M607,313C606,312 602,307 601,304C600,302 600,299 601,296C603,293 608,290 609,288" fill="none" stroke="#747474" stroke-width="1.1" stroke-linecap="round"/><path d="M531,359C532,357 534,354 535,351C536,349 537,346 537,343C537,340 537,336 537,335M731,448C731,447 733,446 734,445C736,444 737,443 738,443C740,442 741,440 742,440M582,538C582,537 583,532 584,530C585,528 587,525 589,523C591,521 594,519 595,518M407,502C407,501 409,498 410,495C411,493 412,491 413,489C414,486 414,483 415,482M497,357C498,356 498,353 499,352C499,350 500,348 501,347C501,345 503,343 503,342" fill="none" stroke="#5a5a5a" stroke-width="1.4" stroke-linecap="round"/><path d="M757,455C758,454 759,452 760,450C761,448 762,447 763,445C764,443 766,441 766,440M717,293C716,292 714,286 715,283C715,280 716,278 719,277C721,275 727,274 729,274M549,464C550,463 554,462 555,461C557,459 559,458 560,456C562,454 563,451 564,450M602,361C602,360 601,356 601,353C601,351 602,348 603,346C605,344 608,341 609,341M688,419C689,418 690,415 691,413C692,411 693,410 695,408C696,407 699,405 700,404M624,415C624,414 625,410 626,408C627,406 628,404 629,403C631,401 633,398 634,398" fill="none" stroke="#828282" stroke-width="1.5" stroke-linecap="round"/><path d="M480,328C481,327 482,325 483,323C484,322 485,321 485,319C486,317 486,315 486,314M573,339C574,338 575,336 575,334C576,333 577,332 578,330C579,329 580,327 581,326M685,536C686,535 692,534 695,532C697,530 698,528 699,525C699,522 698,516 698,514M398,432C399,431 402,427 404,424C405,421 407,418 409,415C410,413 413,408 413,407M464,474C464,473 464,471 464,469C464,467 464,465 464,463C464,461 465,458 465,457M670,289C669,287 665,282 664,279C663,275 664,272 665,269C666,266 671,262 673,260" fill="none" stroke="#747474" stroke-width="1.7" stroke-linecap="round"/><path d="M427,308C426,307 424,300 425,297C425,294 426,291 429,289C431,287 437,285 439,284M478,482C480,482 484,483 487,483C490,482 493,481 496,480C498,478 502,475 503,474M708,495C707,495 705,493 703,492C702,491 701,490 701,488C700,487 701,484 701,483" fill="none" stroke="#666" stroke-width="1" stroke-linecap="round"/><path d="M567,308C566,307 565,304 565,302C565,300 566,299 567,297C568,296 570,293 571,293M735,417C736,417 739,417 740,416C741,415 742,414 742,413C742,412 741,409 741,408M633,334C633,333 633,331 634,329C634,327 635,326 636,324C637,322 638,320 639,320" fill="none" stroke="#666" stroke-width="1.2" stroke-linecap="round"/><path d="M666,296C666,295 666,291 666,288C666,286 667,283 667,281C668,278 670,275 671,274M697,437C697,435 695,430 695,426C695,423 696,420 698,417C700,414 705,411 706,410M564,374C564,373 564,369 564,366C564,363 565,360 566,357C566,354 567,350 568,349M509,532C509,531 509,528 509,526C510,524 511,522 512,520C513,518 515,515 516,514M475,387C476,386 478,384 480,382C481,381 483,379 484,377C485,375 487,373 488,372" fill="none" stroke="#747474" stroke-width="1.5" stroke-linecap="round"/><path d="M424,511C425,509 428,505 430,503C432,501 434,500 437,499C439,498 444,498 445,498M633,461C633,461 634,459 634,458C634,457 634,456 634,454C635,453 635,452 635,451M522,306C521,305 519,301 519,299C519,297 520,295 521,294C523,293 527,292 528,291" fill="none" stroke="#666" stroke-width="1.4" stroke-linecap="round"/><path d="M445,534C445,534 447,532 447,530C447,529 448,528 447,527C447,525 446,523 446,523M425,345C425,344 426,341 426,340C427,338 428,337 429,336C431,335 433,335 434,335M763,335C763,334 764,332 764,330C764,328 765,327 765,325C766,323 767,321 767,320" fill="none" stroke="#747474" stroke-width="1.4" stroke-linecap="round"/><path d="M597,425C598,424 602,423 604,422C606,420 607,419 608,416C609,414 610,410 610,409M438,522C439,521 444,518 446,516C448,513 449,511 450,508C450,505 450,499 450,498" fill="none" stroke="#5a5a5a" stroke-width="1.1" stroke-linecap="round"/><path d="M606,372C607,371 610,369 612,367C614,365 617,364 619,362C621,361 625,358 626,358M675,525C676,525 677,523 677,522C678,520 679,519 679,518C680,517 681,515 681,514M649,414C650,413 653,410 655,409C657,407 659,406 662,405C664,404 668,403 670,403" fill="none" stroke="#5a5a5a" stroke-width="1.7" stroke-linecap="round"/><path d="M480,323C481,322 482,320 483,318C484,316 485,314 486,313C487,311 487,308 488,307M639,544C639,542 637,535 638,532C638,529 640,526 642,523C645,521 651,519 653,518" fill="none" stroke="#5a5a5a" stroke-width="1.8" stroke-linecap="round"/><path d="M443,331C443,329 441,324 441,321C441,317 442,315 444,312C446,310 451,307 453,306" fill="none" stroke="#5a5a5a" stroke-width="1" stroke-linecap="round"/><path d="M471,514C471,513 473,512 474,511C475,510 477,509 478,508C479,507 480,506 481,505" fill="none" stroke="#666" stroke-width="1.3" stroke-linecap="round"/></g><g filter="url(#b2)"><path fill="#4a4a4a" d="M762.8 490.9a9.3 5.3 -64 1 0 8 -16.7a9.3 5.3 -64 1 0 -8 16.7M724.3 412.1a17 5.3 -66 1 0 13.7 -31.1a17 5.3 -66 1 0 -13.7 31.1M718.6 347.4a10.4 5 -74 1 0 5.9 -20a10.4 5 -74 1 0 -5.9 20M474.1 550.8a16.6 6.8 -70 1 0 11.3 -31.3a16.6 6.8 -70 1 0 -11.3 31.3M556.9 527.2a14.9 6.6 -65 1 0 12.8 -26.9a14.9 6.6 -65 1 0 -12.8 26.9M483.3 362.8a12.5 6 -64 1 0 10.9 -22.6a12.5 6 -64 1 0 -10.9 22.6M768.4 440.7a16.5 5.6 -61 1 0 16 -28.9a16.5 5.6 -61 1 0 -16 28.9M628.7 333.3a11 6.1 -73 1 0 6.5 -21a11 6.1 -73 1 0 -6.5 21M485.7 516.2a15.3 6.2 -70 1 0 10.3 -28.9a15.3 6.2 -70 1 0 -10.3 28.9M584.3 311.5a14.4 5.8 -67 1 0 11.2 -26.6a14.4 5.8 -67 1 0 -11.2 26.6M466.1 305.9a9.2 6.5 -51 1 0 11.7 -14.3a9.2 6.5 -51 1 0 -11.7 14.3M637.7 305.7a12.6 6.2 -84 1 0 2.8 -25a12.6 6.2 -84 1 0 -2.8 25M568 444.6a16.1 6.5 -71 1 0 10.6 -30.4a16.1 6.5 -71 1 0 -10.6 30.4M561.4 384.9a13.7 5.5 -57 1 0 15.1 -23a13.7 5.5 -57 1 0 -15.1 23M638.4 421.1a10 5.2 -67 1 0 7.8 -18.3a10 5.2 -67 1 0 -7.8 18.3M456.4 502.2a10.3 6.3 -81 1 0 3.3 -20.4a10.3 6.3 -81 1 0 -3.3 20.4M411.5 348.2a9.5 5.3 -71 1 0 6.2 -17.9a9.5 5.3 -71 1 0 -6.2 17.9M640 530.7a15.1 6.5 -58 1 0 16.1 -25.5a15.1 6.5 -58 1 0 -16.1 25.5M634.9 357.6a15.8 5.9 -69 1 0 11.4 -29.6a15.8 5.9 -69 1 0 -11.4 29.6M442.2 543.5a13.8 5.7 -70 1 0 9.4 -25.9a13.8 5.7 -70 1 0 -9.4 25.9M437.1 335.5a9 5.8 -78 1 0 3.9 -17.6a9 5.8 -78 1 0 -3.9 17.6M784.6 339.1a10.4 6.3 -56 1 0 11.5 -17.3a10.4 6.3 -56 1 0 -11.5 17.3M605.5 424.4a10.7 6 -58 1 0 11.2 -18.3a10.7 6 -58 1 0 -11.2 18.3M654.1 433.3a10 5.4 -69 1 0 7.3 -18.7a10 5.4 -69 1 0 -7.3 18.7M418.9 535.3a16.9 6.6 -68 1 0 12.9 -31.3a16.9 6.6 -68 1 0 -12.9 31.3M508.1 357.9a9 5.5 -55 1 0 10.4 -14.8a9 5.5 -55 1 0 -10.4 14.8M671.4 400.1a15.2 5.6 -76 1 0 7.5 -29.4a15.2 5.6 -76 1 0 -7.5 29.4M433 295.6a10.6 5.7 -76 1 0 5.1 -20.6a10.6 5.7 -76 1 0 -5.1 20.6M537.1 481.4a10.3 6.7 -65 1 0 8.6 -18.8a10.3 6.7 -65 1 0 -8.6 18.8M549.9 334.4a15.5 5.7 -66 1 0 12.6 -28.4a15.5 5.7 -66 1 0 -12.6 28.4M738.6 319.4a9.7 5.5 -80 1 0 3.4 -19a9.7 5.5 -80 1 0 -3.4 19M428.5 440.7a10.9 5.6 -61 1 0 10.7 -19a10.9 5.6 -61 1 0 -10.7 19M518.5 459.4a10.3 5.3 -70 1 0 7.1 -19.3a10.3 5.3 -70 1 0 -7.1 19.3M661.6 414.9a9.4 5.5 -83 1 0 2.3 -18.6a9.4 5.5 -83 1 0 -2.3 18.6M403.6 370.9a10.1 5.2 -78 1 0 4.3 -19.7a10.1 5.2 -78 1 0 -4.3 19.7M716.9 316.3a13.2 6.9 -77 1 0 6 -25.8a13.2 6.9 -77 1 0 -6 25.8M570.8 349.6a9.7 5.6 -60 1 0 9.7 -16.7a9.7 5.6 -60 1 0 -9.7 16.7M570.3 294.4a13.7 6.4 -79 1 0 5.3 -26.8a13.7 6.4 -79 1 0 -5.3 26.8M671.2 520.9a11.5 5.6 -77 1 0 5.1 -22.5a11.5 5.6 -77 1 0 -5.1 22.5M462.4 519.2a14.4 6.6 -65 1 0 12.4 -26.1a14.4 6.6 -65 1 0 -12.4 26.1M757.4 471.9a14.2 6.5 -72 1 0 8.6 -27.1a14.2 6.5 -72 1 0 -8.6 27.1M536.6 549.9a15.3 6.3 -66 1 0 12.5 -28a15.3 6.3 -66 1 0 -12.5 28M738 496.4a13.9 5.6 -77 1 0 6.1 -27.1a13.9 5.6 -77 1 0 -6.1 27.1M539.1 379.2a12.3 6.3 -69 1 0 8.6 -23.1a12.3 6.3 -69 1 0 -8.6 23.1M731.8 545.6a13.1 5.3 -67 1 0 10.2 -24a13.1 5.3 -67 1 0 -10.2 24M702.1 379.2a9.3 6.4 -67 1 0 7.2 -17.1a9.3 6.4 -67 1 0 -7.2 17.1M450.5 327.4a11.4 6.5 -73 1 0 6.6 -21.8a11.4 6.5 -73 1 0 -6.6 21.8M576.7 399.9a14.9 6.1 -64 1 0 12.9 -26.8a14.9 6.1 -64 1 0 -12.9 26.8M399.2 417.7a9.8 5.2 -76 1 0 4.9 -19a9.8 5.2 -76 1 0 -4.9 19M417.3 491.7a10.2 6.1 -66 1 0 8.3 -18.6a10.2 6.1 -66 1 0 -8.3 18.6M529.8 322.8a10.4 5 -72 1 0 6.5 -19.8a10.4 5 -72 1 0 -6.5 19.8M486.5 319.6a11.8 5.6 -68 1 0 9 -21.7a11.8 5.6 -68 1 0 -9 21.7M607.4 341.6a10.4 6.8 -75 1 0 5.5 -20.1a10.4 6.8 -75 1 0 -5.5 20.1M503.8 401.7a14.9 6.8 -81 1 0 4.5 -29.6a14.9 6.8 -81 1 0 -4.5 29.6M771.6 283.1a9.9 5.5 -61 1 0 9.5 -17.5a9.9 5.5 -61 1 0 -9.5 17.5M590.8 413.7a14.1 7 -65 1 0 11.7 -25.7a14.1 7 -65 1 0 -11.7 25.7M652.2 344.1a11.8 6.1 -67 1 0 9.1 -21.8a11.8 6.1 -67 1 0 -9.1 21.8M649.2 386.2a10.6 6.6 -70 1 0 7.4 -19.9a10.6 6.6 -70 1 0 -7.4 19.9M523.7 406.1a16.9 6 -71 1 0 10.7 -32a16.9 6 -71 1 0 -10.7 32M594.7 288.7a14.8 5.8 -84 1 0 2.8 -29.5a14.8 5.8 -84 1 0 -2.8 29.5M774.6 309.2a13.4 5.5 -65 1 0 11.5 -24.1a13.4 5.5 -65 1 0 -11.5 24.1M746.9 420.1a10.9 6.2 -84 1 0 2.3 -21.7a10.9 6.2 -84 1 0 -2.3 21.7M448.1 455.1a13.6 5.4 -64 1 0 11.8 -24.4a13.6 5.4 -64 1 0 -11.8 24.4M666.8 473.2a9.7 5.6 -69 1 0 7 -18.1a9.7 5.6 -69 1 0 -7 18.1M606.2 509.9a10.3 5.4 -79 1 0 3.8 -20.3a10.3 5.4 -79 1 0 -3.8 20.3M463.4 369.4a12 6.4 -69 1 0 8.8 -22.4a12 6.4 -69 1 0 -8.8 22.4M623.2 394.5a13.2 5.9 -78 1 0 5.4 -25.8a13.2 5.9 -78 1 0 -5.4 25.8M534.2 431.9a11 6.5 -68 1 0 8.4 -20.3a11 6.5 -68 1 0 -8.4 20.3M522.6 504a13.6 6.3 -58 1 0 14.4 -23.1a13.6 6.3 -58 1 0 -14.4 23.1M705.9 434.4a14.9 6.4 -66 1 0 12.2 -27.2a14.9 6.4 -66 1 0 -12.2 27.2M731.5 513a14.2 6.6 -67 1 0 11.1 -26.2a14.2 6.6 -67 1 0 -11.1 26.2M422.3 397.8a14 6.3 -70 1 0 9.4 -26.3a14 6.3 -70 1 0 -9.4 26.3M602.8 316.4a9.8 5.6 -63 1 0 8.8 -17.5a9.8 5.6 -63 1 0 -8.8 17.5M499.2 529.5a14.8 7 -59 1 0 15.4 -25.2a14.8 7 -59 1 0 -15.4 25.2M538.7 457.2a10.5 5.9 -68 1 0 7.8 -19.5a10.5 5.9 -68 1 0 -7.8 19.5M406.1 454.6a16.1 5.6 -67 1 0 12.4 -29.8a16.1 5.6 -67 1 0 -12.4 29.8M487.3 427.3a14.9 6.3 -78 1 0 6.1 -29.2a14.9 6.3 -78 1 0 -6.1 29.2M459.9 426.8a15.8 6.1 -72 1 0 10 -30a15.8 6.1 -72 1 0 -10 30M624.1 522a11 5.4 -66 1 0 8.9 -20.1a11 5.4 -66 1 0 -8.9 20.1M687.8 323.9a10.1 6.1 -50 1 0 12.9 -15.5a10.1 6.1 -50 1 0 -12.9 15.5M688.7 495.5a14.7 6.2 -68 1 0 10.9 -27.2a14.7 6.2 -68 1 0 -10.9 27.2M689.4 448.8a10.8 6.6 -75 1 0 5.7 -20.8a10.8 6.6 -75 1 0 -5.7 20.8M592.2 463.1a10.4 5.2 -91 1 0 -0.2 -20.7a10.4 5.2 -91 1 0 0.2 20.7M656.6 494.7a11.8 5 -64 1 0 10.4 -21.3a11.8 5 -64 1 0 -10.4 21.3M497.2 452.6a12.5 6.6 -59 1 0 12.7 -21.6a12.5 6.6 -59 1 0 -12.7 21.6M740.6 349.3a10.9 6.9 -74 1 0 6.1 -20.8a10.9 6.9 -74 1 0 -6.1 20.8M610.3 292.4a13.5 6.6 -77 1 0 6.1 -26.3a13.5 6.6 -77 1 0 -6.1 26.3M459.4 468.8a15.9 5.9 -63 1 0 14.4 -28.4a15.9 5.9 -63 1 0 -14.4 28.4M750.1 282.1a11.7 5.8 -57 1 0 12.8 -19.6a11.7 5.8 -57 1 0 -12.8 19.6M550.9 493.2a16.8 6.5 -65 1 0 14.2 -30.6a16.8 6.5 -65 1 0 -14.2 30.6M511 550.2a16.9 6.5 -76 1 0 8.4 -32.7a16.9 6.5 -76 1 0 -8.4 32.7M600 441.8a10.9 6.4 -68 1 0 8 -20.2a10.9 6.4 -68 1 0 -8 20.2M680.3 536.5a14.4 6.3 -60 1 0 14.4 -24.9a14.4 6.3 -60 1 0 -14.4 24.9M654.4 366.5a15.4 6.5 -57 1 0 16.7 -25.8a15.4 6.5 -57 1 0 -16.7 25.8M478.7 380a10.6 6.5 -64 1 0 9.4 -19a10.6 6.5 -64 1 0 -9.4 19M730.1 284.1a16 6.4 -81 1 0 5.1 -31.6a16 6.4 -81 1 0 -5.1 31.6M468.1 339.5a14.9 7 -62 1 0 14.1 -26.3a14.9 7 -62 1 0 -14.1 26.3M508.4 430.7a13.4 6.2 -63 1 0 12 -24a13.4 6.2 -63 1 0 -12 24M767.4 388.1a9.5 5.3 -58 1 0 10.1 -16.1a9.5 5.3 -58 1 0 -10.1 16.1M713.7 295.6a16.2 5 -75 1 0 8.4 -31.4a16.2 5 -75 1 0 -8.4 31.4M636.2 485.7a14.6 5.8 -65 1 0 12.1 -26.4a14.6 5.8 -65 1 0 -12.1 26.4M593.4 368.9a13.3 6.2 -66 1 0 10.7 -24.3a13.3 6.2 -66 1 0 -10.7 24.3M630.9 543.2a13.4 5.9 -84 1 0 3 -26.7a13.4 5.9 -84 1 0 -3 26.7M657.7 296a16.2 6 -83 1 0 3.8 -32.2a16.2 6 -83 1 0 -3.8 32.2M702 529.4a15.2 6.6 -69 1 0 10.6 -28.4a15.2 6.6 -69 1 0 -10.6 28.4M741.9 437.4a9.8 6.3 -80 1 0 3.4 -19.3a9.8 6.3 -80 1 0 -3.4 19.3M712.9 457.8a11.5 5.1 -47 1 0 15.6 -16.8a11.5 5.1 -47 1 0 -15.6 16.8M476.9 455.4a13.6 5.7 -66 1 0 10.9 -24.8a13.6 5.7 -66 1 0 -10.9 24.8M417.5 332.5a9.8 5 -78 1 0 4 -19.3a9.8 5 -78 1 0 -4 19.3M497.6 309.1a15.2 6.8 -66 1 0 12.2 -27.9a15.2 6.8 -66 1 0 -12.2 27.9M685.2 285.6a13.8 7 -60 1 0 13.8 -24a13.8 7 -60 1 0 -13.8 24M705.2 496.7a14 5.4 -56 1 0 15.7 -23.1a14 5.4 -56 1 0 -15.7 23.1M756.9 404.8a9.4 5.1 -69 1 0 6.7 -17.5a9.4 5.1 -69 1 0 -6.7 17.5M593.4 388.8a15.4 6 -57 1 0 16.8 -25.7a15.4 6 -57 1 0 -16.8 25.7M733 471.4a15.5 5.5 -68 1 0 11.7 -28.7a15.5 5.5 -68 1 0 -11.7 28.7M586.4 489.3a15.6 5.4 -70 1 0 10.6 -29.3a15.6 5.4 -70 1 0 -10.6 29.3M686.7 364.1a10.8 6 -74 1 0 5.9 -20.7a10.8 6 -74 1 0 -5.9 20.7M495.7 495.5a11 5.1 -58 1 0 11.8 -18.5a11 5.1 -58 1 0 -11.8 18.5M570.3 478.3a11.7 5.5 -74 1 0 6.4 -22.5a11.7 5.5 -74 1 0 -6.4 22.5M570.3 420.9a12 5.8 -68 1 0 9.1 -22.2a12 5.8 -68 1 0 -9.1 22.2"/></g><g filter="url(#b08)"><path fill="#1a1a1a" opacity="0.85" d="M709.5 335.5a7.4 4.9 -75 1 0 3.8 -14.3a7.4 4.9 -75 1 0 -3.8 14.3M434.7 414a9.3 5.6 -94 1 0 -1.2 -18.6a9.3 5.6 -94 1 0 1.2 18.6M746.5 388a7.8 5.4 -69 1 0 5.6 -14.6a7.8 5.4 -69 1 0 -5.6 14.6M482 389a7.2 4.8 -54 1 0 8.5 -11.5a7.2 4.8 -54 1 0 -8.5 11.5M687.2 350a10.9 6.5 -52 1 0 13.4 -17.3a10.9 6.5 -52 1 0 -13.4 17.3M594 435.7a15.5 6.3 -70 1 0 10.5 -29.2a15.5 6.3 -70 1 0 -10.5 29.2M785 534.9a15.2 6.1 -89 1 0 0.7 -30.5a15.2 6.1 -89 1 0 -0.7 30.5M466.4 286.5a9.2 6.3 -67 1 0 7.1 -16.9a9.2 6.3 -67 1 0 -7.1 16.9M646.8 303.3a10 6.2 -48 1 0 13.4 -14.8a10 6.2 -48 1 0 -13.4 14.8M670.8 335a15.7 4.7 -64 1 0 13.7 -28.1a15.7 4.7 -64 1 0 -13.7 28.1M773.4 500.1a7.1 4.9 -63 1 0 6.4 -12.6a7.1 4.9 -63 1 0 -6.4 12.6M664.8 305.2a10.2 4.6 -71 1 0 6.7 -19.2a10.2 4.6 -71 1 0 -6.7 19.2M605.2 549.1a13.6 5.2 -67 1 0 10.4 -25.1a13.6 5.2 -67 1 0 -10.4 25.1M402.6 528.4a11.4 5.9 -81 1 0 3.6 -22.6a11.4 5.9 -81 1 0 -3.6 22.6M651.8 355.8a7.8 4.8 -79 1 0 3 -15.2a7.8 4.8 -79 1 0 -3 15.2M654.5 545.3a10.2 5.2 -89 1 0 0.4 -20.3a10.2 5.2 -89 1 0 -0.4 20.3M588.6 358.6a10.7 5.5 -89 1 0 0.4 -21.4a10.7 5.5 -89 1 0 -0.4 21.4M409.4 439.7a12 5.7 -80 1 0 4 -23.6a12 5.7 -80 1 0 -4 23.6M742.7 531.2a15.1 6 -71 1 0 9.7 -28.6a15.1 6 -71 1 0 -9.7 28.6M566 342.6a15.6 6 -74 1 0 8.7 -29.9a15.6 6 -74 1 0 -8.7 29.9M688.4 308.6a10.5 4.9 -80 1 0 3.8 -20.7a10.5 4.9 -80 1 0 -3.8 20.7M407.9 468.8a13.9 4.5 -56 1 0 15.5 -23.1a13.9 4.5 -56 1 0 -15.5 23.1M679.5 511.8a12.9 5.9 -44 1 0 18.6 -17.9a12.9 5.9 -44 1 0 -18.6 17.9M516.7 525.7a10 4.5 -63 1 0 9 -17.9a10 4.5 -63 1 0 -9 17.9M585.7 381.1a7.8 6.3 -64 1 0 6.8 -14.1a7.8 6.3 -64 1 0 -6.8 14.1M396.5 346.6a12.9 5.7 -60 1 0 12.9 -22.2a12.9 5.7 -60 1 0 -12.9 22.2M754.4 433.6a8.1 6.4 -45 1 0 11.4 -11.4a8.1 6.4 -45 1 0 -11.4 11.4M751.7 312.2a8.5 4.9 -68 1 0 6.3 -15.7a8.5 4.9 -68 1 0 -6.3 15.7M695.8 426.8a7.4 4.6 -62 1 0 7 -13a7.4 4.6 -62 1 0 -7 13M512.7 505.6a11.7 6.2 -74 1 0 6.3 -22.5a11.7 6.2 -74 1 0 -6.3 22.5M619.2 438.9a9.1 6.1 -60 1 0 9.1 -15.7a9.1 6.1 -60 1 0 -9.1 15.7M549.9 463.4a12 4.7 -53 1 0 14.3 -19.3a12 4.7 -53 1 0 -14.3 19.3M791.1 363.3a10.3 5.1 -67 1 0 8.2 -18.9a10.3 5.1 -67 1 0 -8.2 18.9M435.7 516.7a8.2 6.4 -66 1 0 6.6 -14.9a8.2 6.4 -66 1 0 -6.6 14.9M525 361.7a11.8 4.5 -57 1 0 12.8 -19.8a11.8 4.5 -57 1 0 -12.8 19.8M526.6 415.3a14.9 5.7 -48 1 0 20.1 -22.1a14.9 5.7 -48 1 0 -20.1 22.1M785 466.4a13.2 5.6 -63 1 0 12 -23.6a13.2 5.6 -63 1 0 -12 23.6M739.2 459.5a14.5 5 -73 1 0 8.4 -27.8a14.5 5 -73 1 0 -8.4 27.8M500.8 465.4a8 4.8 -61 1 0 7.8 -14a8 4.8 -61 1 0 -7.8 14M588.9 449a7.5 6.4 -91 1 0 -0.3 -15.1a7.5 6.4 -91 1 0 0.3 15.1M424.2 310.1a7.4 5.5 -68 1 0 5.5 -13.7a7.4 5.5 -68 1 0 -5.5 13.7M444.2 369.6a14.1 4.9 -78 1 0 5.9 -27.6a14.1 4.9 -78 1 0 -5.9 27.6M669.8 411a10.3 5.3 -58 1 0 10.9 -17.5a10.3 5.3 -58 1 0 -10.9 17.5M614 495.3a15.3 5.2 -71 1 0 10.2 -28.9a15.3 5.2 -71 1 0 -10.2 28.9M633.6 404.3a12.8 4.7 -56 1 0 14.5 -21.2a12.8 4.7 -56 1 0 -14.5 21.2M614.5 370a11.5 5.4 -89 1 0 0.6 -23.1a11.5 5.4 -89 1 0 -0.6 23.1M539.7 304a7.9 6.2 -74 1 0 4.3 -15.3a7.9 6.2 -74 1 0 -4.3 15.3M570.5 306.3a10.1 5.4 -61 1 0 9.6 -17.7a10.1 5.4 -61 1 0 -9.6 17.7M638.7 322.9a11.1 4.5 -69 1 0 7.9 -20.8a11.1 4.5 -69 1 0 -7.9 20.8M618.6 406.6a13.8 5.1 -58 1 0 14.8 -23.3a13.8 5.1 -58 1 0 -14.8 23.3M422.8 288.7a15.4 4.5 -82 1 0 4.3 -30.5a15.4 4.5 -82 1 0 -4.3 30.5M443.1 433.8a7.1 4.8 -62 1 0 6.7 -12.6a7.1 4.8 -62 1 0 -6.7 12.6M768.1 422.8a10.4 6 -62 1 0 9.8 -18.3a10.4 6 -62 1 0 -9.8 18.3M410.8 406.1a12 5.5 -61 1 0 11.8 -20.8a12 5.5 -61 1 0 -11.8 20.8M647.8 513.7a14.3 5.1 -89 1 0 0.3 -28.7a14.3 5.1 -89 1 0 -0.3 28.7M782.4 388.5a10.9 5.5 -73 1 0 6.5 -20.8a10.9 5.5 -73 1 0 -6.5 20.8M493.3 479a10.8 5.5 -52 1 0 13.2 -17a10.8 5.5 -52 1 0 -13.2 17M689.9 382.4a12.2 4.6 -75 1 0 6.5 -23.5a12.2 4.6 -75 1 0 -6.5 23.5M456.8 344.5a14.2 5.6 -64 1 0 12.6 -25.4a14.2 5.6 -64 1 0 -12.6 25.4M547.8 297.4a10.7 6 -66 1 0 8.7 -19.6a10.7 6 -66 1 0 -8.7 19.6M674.9 320.3a15.2 5.8 -85 1 0 2.7 -30.3a15.2 5.8 -85 1 0 -2.7 30.3M791 475.3a7.6 4.5 -66 1 0 6.1 -13.9a7.6 4.5 -66 1 0 -6.1 13.9M682.6 340.8a13.9 5.5 -60 1 0 14 -24a13.9 5.5 -60 1 0 -14 24M562 372.9a14.9 6.2 -70 1 0 10.2 -28a14.9 6.2 -70 1 0 -10.2 28M755.2 527.6a14.4 4.6 -67 1 0 11.3 -26.5a14.4 4.6 -67 1 0 -11.3 26.5"/><path fill="#9a9a9a" d="M764.3 488.5a7 3.8 -64 1 0 6 -12.6a7 3.8 -64 1 0 -6 12.6M725.8 409.6a14.7 3.8 -66 1 0 11.9 -26.9a14.7 3.8 -66 1 0 -11.9 26.9M719.8 344.7a8.1 3.5 -74 1 0 4.6 -15.6a8.1 3.5 -74 1 0 -4.6 15.6M484.8 360.4a10.2 4.5 -64 1 0 8.9 -18.5a10.2 4.5 -64 1 0 -8.9 18.5M638.6 302.8a10.3 4.7 -84 1 0 2.3 -20.4a10.3 4.7 -84 1 0 -2.3 20.4M639.8 418.6a7.7 3.7 -67 1 0 6 -14.1a7.7 3.7 -67 1 0 -6 14.1M641.6 528.5a12.8 5 -58 1 0 13.6 -21.6a12.8 5 -58 1 0 -13.6 21.6M607.1 422.2a8.4 4.5 -58 1 0 8.8 -14.3a8.4 4.5 -58 1 0 -8.8 14.3M509.8 355.8a6.7 4 -55 1 0 7.7 -11a6.7 4 -55 1 0 -7.7 11M739.6 316.6a7.4 4 -80 1 0 2.6 -14.5a7.4 4 -80 1 0 -2.6 14.5M572.4 347.4a7.4 4.1 -60 1 0 7.4 -12.7a7.4 4.1 -60 1 0 -7.4 12.7M463.9 516.8a12.1 5.1 -65 1 0 10.4 -22a12.1 5.1 -65 1 0 -10.4 22M538 547.4a13 4.8 -66 1 0 10.6 -23.8a13 4.8 -66 1 0 -10.6 23.8M418.7 489.3a7.9 4.6 -66 1 0 6.4 -14.4a7.9 4.6 -66 1 0 -6.4 14.4M504.7 398.8a12.6 5.3 -81 1 0 3.8 -25a12.6 5.3 -81 1 0 -3.8 25M773.2 280.8a7.6 4 -61 1 0 7.3 -13.4a7.6 4 -61 1 0 -7.3 13.4M592.3 411.2a11.8 5.5 -65 1 0 9.8 -21.5a11.8 5.5 -65 1 0 -9.8 21.5M525 403.5a14.6 4.5 -71 1 0 9.3 -27.6a14.6 4.5 -71 1 0 -9.3 27.6M776.1 306.8a11.1 4 -65 1 0 9.5 -20a11.1 4 -65 1 0 -9.5 20M707.4 431.9a12.6 4.9 -66 1 0 10.4 -23a12.6 4.9 -66 1 0 -10.4 23M732.9 510.5a11.9 5.1 -67 1 0 9.3 -22a11.9 5.1 -67 1 0 -9.3 22M540 454.7a8.2 4.4 -68 1 0 6.1 -15.2a8.2 4.4 -68 1 0 -6.1 15.2M488.3 424.5a12.6 4.8 -78 1 0 5.2 -24.7a12.6 4.8 -78 1 0 -5.2 24.7M461.2 424.1a13.5 4.6 -72 1 0 8.5 -25.6a13.5 4.6 -72 1 0 -8.5 25.6M689.7 322.1a7.8 4.6 -50 1 0 9.9 -12a7.8 4.6 -50 1 0 -9.9 12M690.5 446.1a8.5 5.1 -75 1 0 4.5 -16.4a8.5 5.1 -75 1 0 -4.5 16.4M460.9 466.4a13.6 4.4 -63 1 0 12.3 -24.3a13.6 4.4 -63 1 0 -12.3 24.3M512.1 547.4a14.6 5 -76 1 0 7.3 -28.3a14.6 5 -76 1 0 -7.3 28.3M731 281.2a13.7 4.9 -81 1 0 4.4 -27a13.7 4.9 -81 1 0 -4.4 27M469.7 337.2a12.6 5.5 -62 1 0 11.9 -22.2a12.6 5.5 -62 1 0 -11.9 22.2M510 428.3a11.1 4.7 -63 1 0 10 -19.9a11.1 4.7 -63 1 0 -10 19.9M714.8 292.8a13.9 3.5 -75 1 0 7.2 -26.9a13.9 3.5 -75 1 0 -7.2 26.9M631.8 540.2a11.1 4.4 -84 1 0 2.5 -22.1a11.1 4.4 -84 1 0 -2.5 22.1M478.4 452.9a11.3 4.2 -66 1 0 9.1 -20.6a11.3 4.2 -66 1 0 -9.1 20.6M499 306.6a12.9 5.3 -66 1 0 10.4 -23.7a12.9 5.3 -66 1 0 -10.4 23.7M686.9 283.4a11.5 5.5 -60 1 0 11.5 -20a11.5 5.5 -60 1 0 -11.5 20M706.9 494.6a11.7 3.9 -56 1 0 13.1 -19.3a11.7 3.9 -56 1 0 -13.1 19.3M758.3 402.2a7.1 3.6 -69 1 0 5.1 -13.2a7.1 3.6 -69 1 0 -5.1 13.2M734.4 468.9a13.2 4 -68 1 0 10 -24.5a13.2 4 -68 1 0 -10 24.5M687.8 361.4a8.5 4.5 -74 1 0 4.7 -16.3a8.5 4.5 -74 1 0 -4.7 16.3M497.4 493.4a8.7 3.6 -58 1 0 9.3 -14.7a8.7 3.6 -58 1 0 -9.3 14.7M571.4 475.6a9.4 4 -74 1 0 5.2 -18.1a9.4 4 -74 1 0 -5.2 18.1"/><path fill="#a6a6a6" d="M770 438.4a14.2 4.1 -61 1 0 13.8 -24.8a14.2 4.1 -61 1 0 -13.8 24.8M487 513.6a13 4.7 -70 1 0 8.7 -24.5a13 4.7 -70 1 0 -8.7 24.5M585.7 309a12.1 4.3 -67 1 0 9.4 -22.4a12.1 4.3 -67 1 0 -9.4 22.4M457.3 499.3a8 4.8 -81 1 0 2.6 -15.9a8 4.8 -81 1 0 -2.6 15.9M443.6 540.9a11.5 4.2 -70 1 0 7.8 -21.6a11.5 4.2 -70 1 0 -7.8 21.6M438.2 332.7a6.7 4.2 -78 1 0 2.9 -13.1a6.7 4.2 -78 1 0 -2.9 13.1M420.3 532.8a14.6 5.1 -68 1 0 11.2 -27.1a14.6 5.1 -68 1 0 -11.2 27.1M538.6 479a8 5.2 -65 1 0 6.7 -14.6a8 5.2 -65 1 0 -6.7 14.6M430.1 438.4a8.6 4.1 -61 1 0 8.5 -15a8.6 4.1 -61 1 0 -8.5 15M519.8 456.9a8 3.8 -70 1 0 5.5 -14.9a8 3.8 -70 1 0 -5.5 14.9M662.5 412a7.1 4 -83 1 0 1.7 -14.1a7.1 4 -83 1 0 -1.7 14.1M571.3 291.6a11.4 4.9 -79 1 0 4.4 -22.3a11.4 4.9 -79 1 0 -4.4 22.3M672.2 518.1a9.2 4.1 -77 1 0 4.1 -18a9.2 4.1 -77 1 0 -4.1 18M739.1 493.6a11.6 4.1 -77 1 0 5 -22.6a11.6 4.1 -77 1 0 -5 22.6M540.5 376.6a10 4.8 -69 1 0 7 -18.8a10 4.8 -69 1 0 -7 18.8M733.3 543.2a10.8 3.8 -67 1 0 8.4 -19.8a10.8 3.8 -67 1 0 -8.4 19.8M703.5 376.7a7 4.9 -67 1 0 5.4 -12.9a7 4.9 -67 1 0 -5.4 12.9M451.7 324.7a9.1 5 -73 1 0 5.3 -17.4a9.1 5 -73 1 0 -5.3 17.4M400.3 414.9a7.5 3.7 -76 1 0 3.7 -14.5a7.5 3.7 -76 1 0 -3.7 14.5M487.9 317.1a9.5 4.1 -68 1 0 7.2 -17.5a9.5 4.1 -68 1 0 -7.2 17.5M608.6 338.9a8.1 5.3 -75 1 0 4.3 -15.7a8.1 5.3 -75 1 0 -4.3 15.7M650.5 383.7a8.3 5.1 -70 1 0 5.8 -15.6a8.3 5.1 -70 1 0 -5.8 15.6M747.8 417.2a8.6 4.7 -84 1 0 1.8 -17.2a8.6 4.7 -84 1 0 -1.8 17.2M449.6 452.7a11.3 3.8 -64 1 0 9.8 -20.3a11.3 3.8 -64 1 0 -9.8 20.3M624.3 391.6a10.9 4.4 -78 1 0 4.4 -21.2a10.9 4.4 -78 1 0 -4.4 21.2M535.6 429.4a8.7 5 -68 1 0 6.6 -16a8.7 5 -68 1 0 -6.6 16M524.2 501.8a11.3 4.7 -58 1 0 11.9 -19.2a11.3 4.7 -58 1 0 -11.9 19.2M500.9 527.3a12.5 5.5 -59 1 0 13 -21.2a12.5 5.5 -59 1 0 -13 21.2M741.8 346.6a8.6 5.4 -74 1 0 4.8 -16.4a8.6 5.4 -74 1 0 -4.8 16.4M611.4 289.6a11.2 5.1 -77 1 0 5.1 -21.8a11.2 5.1 -77 1 0 -5.1 21.8M656.1 364.4a13.1 5 -57 1 0 14.2 -22a13.1 5 -57 1 0 -14.2 22M480.2 377.6a8.3 4.9 -64 1 0 7.4 -14.9a8.3 4.9 -64 1 0 -7.4 14.9M769 385.9a7.2 3.8 -58 1 0 7.7 -12.2a7.2 3.8 -58 1 0 -7.7 12.2M658.5 293a13.9 4.5 -83 1 0 3.3 -27.6a13.9 4.5 -83 1 0 -3.3 27.6M418.6 329.6a7.5 3.5 -78 1 0 3.1 -14.8a7.5 3.5 -78 1 0 -3.1 14.8M595 386.7a13.1 4.5 -57 1 0 14.3 -21.9a13.1 4.5 -57 1 0 -14.3 21.9M587.8 486.8a13.3 3.9 -70 1 0 9 -25a13.3 3.9 -70 1 0 -9 25"/><path fill="#b2b2b2" d="M475.4 548.2a14.3 5.3 -70 1 0 9.7 -27a14.3 5.3 -70 1 0 -9.7 27M558.4 524.8a12.6 5.1 -65 1 0 10.8 -22.7a12.6 5.1 -65 1 0 -10.8 22.7M630 330.6a8.7 4.6 -73 1 0 5.1 -16.6a8.7 4.6 -73 1 0 -5.1 16.6M467.9 304a6.9 5 -51 1 0 8.8 -10.8a6.9 5 -51 1 0 -8.8 10.8M569.3 442a13.8 5 -71 1 0 9.1 -26a13.8 5 -71 1 0 -9.1 26M563.1 382.8a11.4 4 -57 1 0 12.5 -19.1a11.4 4 -57 1 0 -12.5 19.1M412.7 345.6a7.2 3.8 -71 1 0 4.7 -13.6a7.2 3.8 -71 1 0 -4.7 13.6M636.2 355.1a13.5 4.4 -69 1 0 9.8 -25.3a13.5 4.4 -69 1 0 -9.8 25.3M786.3 337a8.1 4.8 -56 1 0 9 -13.4a8.1 4.8 -56 1 0 -9 13.4M655.4 430.7a7.7 3.9 -69 1 0 5.6 -14.4a7.7 3.9 -69 1 0 -5.6 14.4M672.6 397.3a12.9 4.1 -76 1 0 6.4 -25a12.9 4.1 -76 1 0 -6.4 25M434.2 292.9a8.3 4.2 -76 1 0 4 -16.1a8.3 4.2 -76 1 0 -4 16.1M551.3 332a13.2 4.2 -66 1 0 10.7 -24.2a13.2 4.2 -66 1 0 -10.7 24.2M404.6 368a7.8 3.7 -78 1 0 3.3 -15.2a7.8 3.7 -78 1 0 -3.3 15.2M718 313.5a10.9 5.3 -77 1 0 4.9 -21.3a10.9 5.3 -77 1 0 -4.9 21.3M758.6 469.3a11.9 4.9 -72 1 0 7.2 -22.7a11.9 4.9 -72 1 0 -7.2 22.7M578.2 397.5a12.6 4.6 -64 1 0 10.9 -22.6a12.6 4.6 -64 1 0 -10.9 22.6M531 320.2a8.1 3.5 -72 1 0 5.1 -15.4a8.1 3.5 -72 1 0 -5.1 15.4M653.6 341.6a9.5 4.6 -67 1 0 7.3 -17.6a9.5 4.6 -67 1 0 -7.3 17.6M595.6 285.7a12.5 4.3 -84 1 0 2.4 -24.9a12.5 4.3 -84 1 0 -2.4 24.9M668.2 470.7a7.4 4.1 -69 1 0 5.3 -13.8a7.4 4.1 -69 1 0 -5.3 13.8M607.2 507a8 3.9 -79 1 0 3 -15.8a8 3.9 -79 1 0 -3 15.8M464.7 366.9a9.7 4.9 -69 1 0 7.1 -18.1a9.7 4.9 -69 1 0 -7.1 18.1M423.6 395.2a11.7 4.8 -70 1 0 7.9 -22a11.7 4.8 -70 1 0 -7.9 22M604.3 314a7.5 4.1 -63 1 0 6.7 -13.4a7.5 4.1 -63 1 0 -6.7 13.4M407.5 452.1a13.8 4.1 -67 1 0 10.6 -25.5a13.8 4.1 -67 1 0 -10.6 25.5M625.6 519.5a8.7 3.9 -66 1 0 7 -15.9a8.7 3.9 -66 1 0 -7 15.9M690.1 493a12.4 4.7 -68 1 0 9.2 -22.9a12.4 4.7 -68 1 0 -9.2 22.9M592.8 460a8.1 3.7 -91 1 0 -0.2 -16.1a8.1 3.7 -91 1 0 0.2 16.1M658.1 492.3a9.5 3.5 -64 1 0 8.4 -17.1a9.5 3.5 -64 1 0 -8.4 17.1M498.9 450.4a10.2 5.1 -59 1 0 10.4 -17.6a10.2 5.1 -59 1 0 -10.4 17.6M751.8 280a9.4 4.3 -57 1 0 10.3 -15.8a9.4 4.3 -57 1 0 -10.3 15.8M552.3 490.8a14.5 4.9 -65 1 0 12.2 -26.4a14.5 4.9 -65 1 0 -12.2 26.4M601.4 439.3a8.6 4.9 -68 1 0 6.3 -15.9a8.6 4.9 -68 1 0 -6.3 15.9M681.9 534.3a12.1 4.8 -60 1 0 12.1 -20.9a12.1 4.8 -60 1 0 -12.1 20.9M637.6 483.3a12.3 4.3 -65 1 0 10.2 -22.3a12.3 4.3 -65 1 0 -10.2 22.3M594.8 366.4a11 4.7 -66 1 0 8.8 -20.1a11 4.7 -66 1 0 -8.8 20.1M703.3 526.9a12.9 5.1 -69 1 0 9 -24.1a12.9 5.1 -69 1 0 -9 24.1M742.8 434.5a7.5 4.8 -80 1 0 2.6 -14.8a7.5 4.8 -80 1 0 -2.6 14.8M714.8 456.1a9.2 3.6 -47 1 0 12.4 -13.5a9.2 3.6 -47 1 0 -12.4 13.5M571.7 418.4a9.7 4.3 -68 1 0 7.4 -17.9a9.7 4.3 -68 1 0 -7.4 17.9"/><path fill="#0e0e0e" d="M725 408.6a14 2.8 -66 1 0 11.3 -25.6a14 2.8 -66 1 0 -11.3 25.6M719 343.7a7.4 2.5 -74 1 0 4.2 -14.2a7.4 2.5 -74 1 0 -4.2 14.2M769.3 437.3a13.5 3.1 -61 1 0 13.1 -23.6a13.5 3.1 -61 1 0 -13.1 23.6M562.6 381.6a10.7 3 -57 1 0 11.8 -17.9a10.7 3 -57 1 0 -11.8 17.9M639.1 417.5a7 2.7 -67 1 0 5.4 -12.8a7 2.7 -67 1 0 -5.4 12.8M456.4 498.4a7.3 3.8 -81 1 0 2.4 -14.5a7.3 3.8 -81 1 0 -2.4 14.5M635.4 354a12.8 3.4 -69 1 0 9.3 -24a12.8 3.4 -69 1 0 -9.3 24M437.2 331.8a6 3.3 -78 1 0 2.6 -11.8a6 3.3 -78 1 0 -2.6 11.8M654.7 429.7a7 2.9 -69 1 0 5.1 -13.1a7 2.9 -69 1 0 -5.1 13.1M671.7 396.4a12.2 3.1 -76 1 0 6 -23.6a12.2 3.1 -76 1 0 -6 23.6M519 455.8a7.3 2.8 -70 1 0 5 -13.6a7.3 2.8 -70 1 0 -5 13.6M661.5 411.1a6.4 3 -83 1 0 1.6 -12.7a6.4 3 -83 1 0 -1.6 12.7M570.4 290.7a10.7 3.9 -79 1 0 4.2 -20.9a10.7 3.9 -79 1 0 -4.2 20.9M671.3 517.1a8.5 3.1 -77 1 0 3.8 -16.7a8.5 3.1 -77 1 0 -3.8 16.7M463.2 515.7a11.4 4.1 -65 1 0 9.8 -20.7a11.4 4.1 -65 1 0 -9.8 20.7M539.7 375.6a9.3 3.8 -69 1 0 6.5 -17.4a9.3 3.8 -69 1 0 -6.5 17.4M732.5 542.1a10.1 2.8 -67 1 0 7.9 -18.5a10.1 2.8 -67 1 0 -7.9 18.5M702.8 375.6a6.3 3.9 -67 1 0 4.9 -11.6a6.3 3.9 -67 1 0 -4.9 11.6M450.9 323.7a8.4 4 -73 1 0 4.9 -16.1a8.4 4 -73 1 0 -4.9 16.1M399.4 414a6.8 2.7 -76 1 0 3.4 -13.2a6.8 2.7 -76 1 0 -3.4 13.2M503.8 397.9a11.9 4.3 -81 1 0 3.6 -23.6a11.9 4.3 -81 1 0 -3.6 23.6M591.5 410.1a11.1 4.5 -65 1 0 9.2 -20.2a11.1 4.5 -65 1 0 -9.2 20.2M649.8 382.6a7.6 4.1 -70 1 0 5.3 -14.3a7.6 4.1 -70 1 0 -5.3 14.3M594.5 284.9a11.8 3.3 -84 1 0 2.3 -23.5a11.8 3.3 -84 1 0 -2.3 23.5M775.4 305.7a10.4 3 -65 1 0 8.9 -18.7a10.4 3 -65 1 0 -8.9 18.7M746.7 416.3a7.9 3.7 -84 1 0 1.6 -15.8a7.9 3.7 -84 1 0 -1.6 15.8M448.9 451.6a10.6 2.9 -64 1 0 9.2 -19a10.6 2.9 -64 1 0 -9.2 19M606.3 506.1a7.3 2.9 -79 1 0 2.7 -14.4a7.3 2.9 -79 1 0 -2.7 14.4M534.8 428.4a8 4 -68 1 0 6.1 -14.8a8 4 -68 1 0 -6.1 14.8M523.6 500.6a10.6 3.8 -58 1 0 11.2 -18a10.6 3.8 -58 1 0 -11.2 18M706.6 430.8a11.9 3.9 -66 1 0 9.8 -21.8a11.9 3.9 -66 1 0 -9.8 21.8M732.2 509.4a11.2 4.1 -67 1 0 8.7 -20.7a11.2 4.1 -67 1 0 -8.7 20.7M539.3 453.6a7.5 3.4 -68 1 0 5.6 -13.9a7.5 3.4 -68 1 0 -5.6 13.9M460.4 423.1a12.8 3.6 -72 1 0 8.1 -24.3a12.8 3.6 -72 1 0 -8.1 24.3M591.6 459.3a7.4 2.7 -91 1 0 -0.2 -14.7a7.4 2.7 -91 1 0 0.2 14.7M741 345.6a7.9 4.4 -74 1 0 4.4 -15.1a7.9 4.4 -74 1 0 -4.4 15.1M479.5 376.5a7.6 4 -64 1 0 6.8 -13.6a7.6 4 -64 1 0 -6.8 13.6M469.1 336.1a11.9 4.5 -62 1 0 11.3 -21a11.9 4.5 -62 1 0 -11.3 21M768.5 384.8a6.5 2.8 -58 1 0 6.9 -11a6.5 2.8 -58 1 0 -6.9 11M714 291.9a13.2 2.5 -75 1 0 6.8 -25.6a13.2 2.5 -75 1 0 -6.8 25.6M594.5 385.5a12.4 3.5 -57 1 0 13.5 -20.7a12.4 3.5 -57 1 0 -13.5 20.7M733.6 467.8a12.5 3 -68 1 0 9.5 -23.2a12.5 3 -68 1 0 -9.5 23.2M587 485.7a12.6 2.9 -70 1 0 8.5 -23.6a12.6 2.9 -70 1 0 -8.5 23.6M570.6 474.6a8.7 3 -74 1 0 4.8 -16.8a8.7 3 -74 1 0 -4.8 16.8"/><path fill="#161616" d="M763.6 487.4a6.3 2.8 -64 1 0 5.4 -11.3a6.3 2.8 -64 1 0 -5.4 11.3M474.6 547.2a13.6 4.3 -70 1 0 9.2 -25.7a13.6 4.3 -70 1 0 -9.2 25.7M486.2 512.6a12.3 3.7 -70 1 0 8.3 -23.2a12.3 3.7 -70 1 0 -8.3 23.2M585 307.9a11.4 3.3 -67 1 0 8.9 -21.1a11.4 3.3 -67 1 0 -8.9 21.1M637.6 302a9.6 3.7 -84 1 0 2.1 -19.1a9.6 3.7 -84 1 0 -2.1 19.1M419.5 531.7a13.9 4.1 -68 1 0 10.6 -25.8a13.9 4.1 -68 1 0 -10.6 25.8M429.5 437.3a7.9 3.1 -61 1 0 7.8 -13.8a7.9 3.1 -61 1 0 -7.8 13.8M717.1 312.6a10.2 4.4 -77 1 0 4.6 -20a10.2 4.4 -77 1 0 -4.6 20M571.8 346.2a6.7 3.1 -60 1 0 6.7 -11.5a6.7 3.1 -60 1 0 -6.7 11.5M757.8 468.3a11.2 4 -72 1 0 6.8 -21.4a11.2 4 -72 1 0 -6.8 21.4M537.3 546.4a12.3 3.8 -66 1 0 10.1 -22.5a12.3 3.8 -66 1 0 -10.1 22.5M418 488.2a7.2 3.6 -66 1 0 5.8 -13.1a7.2 3.6 -66 1 0 -5.8 13.1M487.1 316a8.8 3.1 -68 1 0 6.7 -16.2a8.8 3.1 -68 1 0 -6.7 16.2M607.7 337.9a7.4 4.3 -75 1 0 3.9 -14.3a7.4 4.3 -75 1 0 -3.9 14.3M652.9 340.5a8.8 3.6 -67 1 0 6.8 -16.3a8.8 3.6 -67 1 0 -6.8 16.3M524.2 402.5a13.9 3.5 -71 1 0 8.8 -26.3a13.9 3.5 -71 1 0 -8.8 26.3M667.4 469.6a6.7 3.1 -69 1 0 4.8 -12.5a6.7 3.1 -69 1 0 -4.8 12.5M464 365.8a9 3.9 -69 1 0 6.6 -16.8a9 3.9 -69 1 0 -6.6 16.8M623.3 390.7a10.2 3.4 -78 1 0 4.1 -19.9a10.2 3.4 -78 1 0 -4.1 19.9M624.8 518.4a8 2.9 -66 1 0 6.5 -14.6a8 2.9 -66 1 0 -6.5 14.6M689.3 491.9a11.7 3.7 -68 1 0 8.7 -21.6a11.7 3.7 -68 1 0 -8.7 21.6M689.7 445.1a7.8 4.1 -75 1 0 4.1 -15a7.8 4.1 -75 1 0 -4.1 15M610.4 288.7a10.5 4.1 -77 1 0 4.7 -20.5a10.5 4.1 -77 1 0 -4.7 20.5M751.2 278.8a8.7 3.3 -57 1 0 9.5 -14.6a8.7 3.3 -57 1 0 -9.5 14.6M551.6 489.7a13.8 4 -65 1 0 11.6 -25.1a13.8 4 -65 1 0 -11.6 25.1M511.2 546.5a13.9 4 -76 1 0 6.9 -26.9a13.9 4 -76 1 0 -6.9 26.9M657.5 292.2a13.2 3.5 -83 1 0 3.1 -26.2a13.2 3.5 -83 1 0 -3.1 26.2M741.9 433.7a6.8 3.8 -80 1 0 2.4 -13.4a6.8 3.8 -80 1 0 -2.4 13.4M417.6 328.7a6.8 2.5 -78 1 0 2.8 -13.4a6.8 2.5 -78 1 0 -2.8 13.4M757.5 401.2a6.4 2.6 -69 1 0 4.6 -11.9a6.4 2.6 -69 1 0 -4.6 11.9"/><path fill="#1e1e1e" d="M557.7 523.7a11.9 4.1 -65 1 0 10.2 -21.5a11.9 4.1 -65 1 0 -10.2 21.5M484.1 359.3a9.5 3.5 -64 1 0 8.3 -17.2a9.5 3.5 -64 1 0 -8.3 17.2M629.1 329.6a8 3.6 -73 1 0 4.7 -15.3a8 3.6 -73 1 0 -4.7 15.3M467.5 302.8a6.2 4 -51 1 0 7.9 -9.7a6.2 4 -51 1 0 -7.9 9.7M568.5 441a13.1 4 -71 1 0 8.7 -24.7a13.1 4 -71 1 0 -8.7 24.7M411.9 344.5a6.5 2.8 -71 1 0 4.2 -12.2a6.5 2.8 -71 1 0 -4.2 12.2M641.1 527.3a12.1 4 -58 1 0 12.9 -20.5a12.1 4 -58 1 0 -12.9 20.5M442.8 539.9a10.8 3.2 -70 1 0 7.3 -20.2a10.8 3.2 -70 1 0 -7.3 20.2M785.7 335.8a7.4 3.8 -56 1 0 8.2 -12.3a7.4 3.8 -56 1 0 -8.2 12.3M606.6 421.1a7.7 3.5 -58 1 0 8.1 -13.2a7.7 3.5 -58 1 0 -8.1 13.2M509.3 354.6a6 3 -55 1 0 6.9 -9.9a6 3 -55 1 0 -6.9 9.9M433.3 291.9a7.6 3.2 -76 1 0 3.7 -14.7a7.6 3.2 -76 1 0 -3.7 14.7M537.9 477.9a7.3 4.2 -65 1 0 6.1 -13.3a7.3 4.2 -65 1 0 -6.1 13.3M550.6 330.9a12.5 3.2 -66 1 0 10.1 -23a12.5 3.2 -66 1 0 -10.1 23M738.7 315.7a6.7 3 -80 1 0 2.3 -13.1a6.7 3 -80 1 0 -2.3 13.1M403.7 367.1a7.1 2.7 -78 1 0 3 -13.8a7.1 2.7 -78 1 0 -3 13.8M738.1 492.7a10.9 3.1 -77 1 0 4.7 -21.2a10.9 3.1 -77 1 0 -4.7 21.2M577.5 396.4a11.9 3.6 -64 1 0 10.3 -21.4a11.9 3.6 -64 1 0 -10.3 21.4M530.2 319.2a7.4 2.5 -72 1 0 4.6 -14.1a7.4 2.5 -72 1 0 -4.6 14.1M772.6 279.7a6.9 3 -61 1 0 6.6 -12.2a6.9 3 -61 1 0 -6.6 12.2M422.8 394.2a11 3.8 -70 1 0 7.4 -20.7a11 3.8 -70 1 0 -7.4 20.7M603.7 312.9a6.8 3.1 -63 1 0 6.1 -12.2a6.8 3.1 -63 1 0 -6.1 12.2M500.3 526.2a11.8 4.5 -59 1 0 12.3 -20a11.8 4.5 -59 1 0 -12.3 20M406.7 451.1a13.1 3.1 -67 1 0 10.1 -24.2a13.1 3.1 -67 1 0 -10.1 24.2M487.4 423.6a11.9 3.8 -78 1 0 4.9 -23.4a11.9 3.8 -78 1 0 -4.9 23.4M689.3 320.8a7.1 3.6 -50 1 0 9 -10.9a7.1 3.6 -50 1 0 -9 10.9M657.4 491.2a8.8 2.5 -64 1 0 7.7 -15.9a8.8 2.5 -64 1 0 -7.7 15.9M498.3 449.3a9.5 4.1 -59 1 0 9.7 -16.4a9.5 4.1 -59 1 0 -9.7 16.4M460.2 465.3a12.9 3.4 -63 1 0 11.7 -23.1a12.9 3.4 -63 1 0 -11.7 23.1M600.6 438.2a7.9 3.9 -68 1 0 5.8 -14.6a7.9 3.9 -68 1 0 -5.8 14.6M681.3 533.1a11.4 3.8 -60 1 0 11.4 -19.7a11.4 3.8 -60 1 0 -11.4 19.7M655.5 363.2a12.4 4 -57 1 0 13.5 -20.8a12.4 4 -57 1 0 -13.5 20.8M730 280.3a13 3.9 -81 1 0 4.1 -25.6a13 3.9 -81 1 0 -4.1 25.6M509.3 427.2a10.4 3.7 -63 1 0 9.3 -18.6a10.4 3.7 -63 1 0 -9.3 18.6M636.9 482.2a11.6 3.3 -65 1 0 9.6 -21a11.6 3.3 -65 1 0 -9.6 21M594.1 365.3a10.3 3.7 -66 1 0 8.3 -18.8a10.3 3.7 -66 1 0 -8.3 18.8M630.8 539.4a10.4 3.4 -84 1 0 2.3 -20.7a10.4 3.4 -84 1 0 -2.3 20.7M702.5 525.8a12.2 4.1 -69 1 0 8.5 -22.8a12.2 4.1 -69 1 0 -8.5 22.8M714.4 454.8a8.5 2.6 -47 1 0 11.5 -12.4a8.5 2.6 -47 1 0 -11.5 12.4M477.6 451.8a10.6 3.2 -66 1 0 8.5 -19.3a10.6 3.2 -66 1 0 -8.5 19.3M498.3 305.6a12.2 4.3 -66 1 0 9.8 -22.4a12.2 4.3 -66 1 0 -9.8 22.4M686.2 282.2a10.8 4.5 -60 1 0 10.8 -18.8a10.8 4.5 -60 1 0 -10.8 18.8M706.4 493.4a11 2.9 -56 1 0 12.4 -18.2a11 2.9 -56 1 0 -12.4 18.2M687 360.4a7.8 3.5 -74 1 0 4.3 -14.9a7.8 3.5 -74 1 0 -4.3 14.9M496.8 492.2a8 2.6 -58 1 0 8.6 -13.5a8 2.6 -58 1 0 -8.6 13.5M571 417.4a9 3.3 -68 1 0 6.8 -16.6a9 3.3 -68 1 0 -6.8 16.6"/></g><g filter="url(#b05)"><path fill="#7e7e7e" d="M711.4 329.1a3.5 1.6 -76 1 0 1.7 -6.7a3.5 1.6 -76 1 0 -1.7 6.7M428 412.7a4.6 2.4 -59 1 0 4.8 -7.9a4.6 2.4 -59 1 0 -4.8 7.9M426.9 399.3a4.1 2.3 -33 1 0 6.9 -4.5a4.1 2.3 -33 1 0 -6.9 4.5M590.2 432.6a6.8 1.7 -52 1 0 8.3 -10.8a6.8 1.7 -52 1 0 -8.3 10.8M598.2 422.7a4.3 2.9 -74 1 0 2.4 -8.2a4.3 2.9 -74 1 0 -2.4 8.2M600.9 423.3a6.7 2.7 -92 1 0 -0.5 -13.3a6.7 2.7 -92 1 0 0.5 13.3M599.1 415a3.9 2.4 -72 1 0 2.5 -7.5a3.9 2.4 -72 1 0 -2.5 7.5M778.2 534a6 2 -54 1 0 7 -9.7a6 2 -54 1 0 -7 9.7M780.5 525.6a4.7 2.4 -53 1 0 5.7 -7.5a4.7 2.4 -53 1 0 -5.7 7.5M777.8 520.1a5.6 1.8 -59 1 0 5.8 -9.6a5.6 1.8 -59 1 0 -5.8 9.6M784.5 507.7a5.1 2.9 -74 1 0 2.7 -9.8a5.1 2.9 -74 1 0 -2.7 9.8M772.1 495.1a3.7 1.7 -68 1 0 2.8 -6.9a3.7 1.7 -68 1 0 -2.8 6.9M602.8 546.7a4.2 1.4 -58 1 0 4.5 -7.1a4.2 1.4 -58 1 0 -4.5 7.1M604.5 545.3a4.7 2 -53 1 0 5.7 -7.5a4.7 2 -53 1 0 -5.7 7.5M610.3 543a4.9 1.8 -97 1 0 -1.2 -9.6a4.9 1.8 -97 1 0 1.2 9.6M608 533a3.4 1.9 -40 1 0 5.2 -4.3a3.4 1.9 -40 1 0 -5.2 4.3M402.8 525.7a6 1.8 -79 1 0 2.3 -11.7a6 1.8 -79 1 0 -2.3 11.7M653.6 343.3a2.8 1.3 -88 1 0 0.2 -5.6a2.8 1.3 -88 1 0 -0.2 5.6M655.1 542.2a3.5 1.8 -110 1 0 -2.4 -6.5a3.5 1.8 -110 1 0 2.4 6.5M589 356.6a4.7 2.1 -127 1 0 -5.7 -7.4a4.7 2.1 -127 1 0 5.7 7.4M586.6 344.9a4.1 1.4 -82 1 0 1.1 -8.2a4.1 1.4 -82 1 0 -1.1 8.2M408 437.6a3.8 2.6 -93 1 0 -0.4 -7.5a3.8 2.6 -93 1 0 0.4 7.5M411 422.2a5 2.1 -91 1 0 -0.2 -10a5 2.1 -91 1 0 0.2 10M742.7 532.7a4.5 2.6 -86 1 0 0.6 -8.9a4.5 2.6 -86 1 0 -0.6 8.9M742.3 528.3a4.8 2.4 -78 1 0 1.9 -9.3a4.8 2.4 -78 1 0 -1.9 9.3M744.4 525.2a5.8 2.2 -68 1 0 4.3 -10.9a5.8 2.2 -68 1 0 -4.3 10.9M746.5 522a5.3 1.7 -92 1 0 -0.4 -10.5a5.3 1.7 -92 1 0 0.4 10.5M570.1 323.9a4.3 2.1 -52 1 0 5.3 -6.8a4.3 2.1 -52 1 0 -5.3 6.8M691.7 297.5a4.4 1.4 -124 1 0 -4.8 -7.3a4.4 1.4 -124 1 0 4.8 7.3M408.7 463.4a4 1 -62 1 0 3.7 -7a4 1 -62 1 0 -3.7 7M683.4 508.5a3.9 2.3 -44 1 0 5.6 -5.4a3.9 2.3 -44 1 0 -5.6 5.4M686.9 500.1a3.5 1.9 -15 1 0 6.7 -1.9a3.5 1.9 -15 1 0 -6.7 1.9M591 372.3a4.7 2 -80 1 0 1.6 -9.2a4.7 2 -80 1 0 -1.6 9.2M586.7 372.9a6.1 2.8 -50 1 0 7.8 -9.4a6.1 2.8 -50 1 0 -7.8 9.4M393.8 346.2a3.5 2.5 -65 1 0 3 -6.3a3.5 2.5 -65 1 0 -3 6.3M394.8 339.6a4.6 2.1 -29 1 0 8.1 -4.4a4.6 2.1 -29 1 0 -8.1 4.4M757.7 433.8a6.2 2.2 -73 1 0 3.6 -11.8a6.2 2.2 -73 1 0 -3.6 11.8M753.7 425.2a5.1 3 -5 1 0 10.1 -0.9a5.1 3 -5 1 0 -10.1 0.9M750.3 310.5a3.5 1.6 -60 1 0 3.5 -6a3.5 1.6 -60 1 0 -3.5 6M697.8 419.8a3.1 1.5 -76 1 0 1.5 -6.1a3.1 1.5 -76 1 0 -1.5 6.1M701.8 418.4a3.8 1.6 -110 1 0 -2.7 -7.2a3.8 1.6 -110 1 0 2.7 7.2M514.3 507.9a4.7 2.3 -99 1 0 -1.4 -9.3a4.7 2.3 -99 1 0 1.4 9.3M510.7 500.3a4.2 2.1 -54 1 0 4.9 -6.9a4.2 2.1 -54 1 0 -4.9 6.9M622.7 440.3a4.6 2.5 -114 1 0 -3.7 -8.4a4.6 2.5 -114 1 0 3.7 8.4M623.9 436.6a6 2.8 -83 1 0 1.5 -12a6 2.8 -83 1 0 -1.5 12M559.2 452.5a3.7 1.9 -64 1 0 3.3 -6.7a3.7 1.9 -64 1 0 -3.3 6.7M789.6 355.9a4 1.4 -30 1 0 6.9 -4a4 1.4 -30 1 0 -6.9 4M528.2 353.9a3.8 1.6 -67 1 0 2.9 -6.9a3.8 1.6 -67 1 0 -2.9 6.9M527.7 348.7a3.9 1.5 -35 1 0 6.4 -4.5a3.9 1.5 -35 1 0 -6.4 4.5M534.6 343.9a2.8 1.7 -64 1 0 2.5 -5a2.8 1.7 -64 1 0 -2.5 5M527.3 407.6a3.3 1.9 -22 1 0 6.2 -2.5a3.3 1.9 -22 1 0 -6.2 2.5M531.4 402.9a4.1 2.1 -12 1 0 8.1 -1.7a4.1 2.1 -12 1 0 -8.1 1.7M790.8 453.3a4.2 1.6 -68 1 0 3.1 -7.8a4.2 1.6 -68 1 0 -3.1 7.8M793.9 446.4a4.1 1.7 -88 1 0 0.2 -8.2a4.1 1.7 -88 1 0 -0.2 8.2M740.9 451.7a4.4 1.8 -72 1 0 2.8 -8.5a4.4 1.8 -72 1 0 -2.8 8.5M742.5 435.8a3.7 1.3 -45 1 0 5.2 -5.2a3.7 1.3 -45 1 0 -5.2 5.2M505.9 455.8a3.6 2 -90 1 0 -0 -7.2a3.6 2 -90 1 0 0 7.2M587.8 442a4.8 2.6 -95 1 0 -0.8 -9.6a4.8 2.6 -95 1 0 0.8 9.6M444.4 359.6a2.9 2 -82 1 0 0.8 -5.7a2.9 2 -82 1 0 -0.8 5.7M447.5 353.4a4.6 2 -96 1 0 -1 -9.1a4.6 2 -96 1 0 1 9.1M610.6 488.2a5 1.4 -44 1 0 7.2 -6.9a5 1.4 -44 1 0 -7.2 6.9M616.1 485.7a3.7 1.4 -71 1 0 2.4 -7.1a3.7 1.4 -71 1 0 -2.4 7.1M613.8 481.9a4.8 1.5 -33 1 0 8 -5.3a4.8 1.5 -33 1 0 -8 5.3M617.5 477a3.2 1.5 -64 1 0 2.8 -5.8a3.2 1.5 -64 1 0 -2.8 5.8M622.1 471.4a3.2 2.2 -107 1 0 -1.9 -6.1a3.2 2.2 -107 1 0 1.9 6.1M629.1 397.9a3.9 1.2 7 1 0 7.7 0.9a3.9 1.2 7 1 0 -7.7 -0.9M610.8 359.6a4.5 1.8 -87 1 0 0.5 -8.9a4.5 1.8 -87 1 0 -0.5 8.9M611.2 354.7a3.4 1.7 -77 1 0 1.5 -6.6a3.4 1.7 -77 1 0 -1.5 6.6M537.2 306.4a4.9 2.4 -75 1 0 2.5 -9.5a4.9 2.4 -75 1 0 -2.5 9.5M641.3 315.1a3.7 1.3 -96 1 0 -0.7 -7.4a3.7 1.3 -96 1 0 0.7 7.4M621.5 396.4a4.9 1.8 -64 1 0 4.3 -8.8a4.9 1.8 -64 1 0 -4.3 8.8M629.4 389.5a3.2 1.3 -88 1 0 0.3 -6.4a3.2 1.3 -88 1 0 -0.3 6.4M771.7 410.4a4.3 1.8 -38 1 0 6.9 -5.3a4.3 1.8 -38 1 0 -6.9 5.3M410.6 406.3a5.3 1.9 -66 1 0 4.4 -9.6a5.3 1.9 -66 1 0 -4.4 9.6M415.2 396.5a4.3 1.5 -67 1 0 3.4 -7.8a4.3 1.5 -67 1 0 -3.4 7.8M417.9 389.5a3.9 2.3 -93 1 0 -0.4 -7.8a3.9 2.3 -93 1 0 0.4 7.8M649.4 511.6a3.8 1.4 -133 1 0 -5.1 -5.5a3.8 1.4 -133 1 0 5.1 5.5M646.4 492.5a4.5 1.4 -78 1 0 1.9 -8.9a4.5 1.4 -78 1 0 -1.9 8.9M646.1 490.4a4.6 1.4 -52 1 0 5.7 -7.2a4.6 1.4 -52 1 0 -5.7 7.2M785.4 379.2a5 2.3 -83 1 0 1.2 -9.9a5 2.3 -83 1 0 -1.2 9.9M785.2 373.3a3.2 1.6 -51 1 0 4 -4.9a3.2 1.6 -51 1 0 -4 4.9M785 371.7a3.3 2.2 -60 1 0 3.3 -5.8a3.3 2.2 -60 1 0 -3.3 5.8M498.2 477.2a4.5 1.8 -96 1 0 -0.9 -9a4.5 1.8 -96 1 0 0.9 9M493.1 473.7a4.9 2 -45 1 0 6.9 -6.9a4.9 2 -45 1 0 -6.9 6.9M458.9 338.2a5.5 2.5 -88 1 0 0.3 -11a5.5 2.5 -88 1 0 -0.3 11M552.4 284a6.4 2.4 -92 1 0 -0.4 -12.8a6.4 2.4 -92 1 0 0.4 12.8M674.6 319.7a4.6 2.2 -80 1 0 1.6 -9a4.6 2.2 -80 1 0 -1.6 9M670.9 318.5a5.7 2.2 -69 1 0 4.1 -10.6a5.7 2.2 -69 1 0 -4.1 10.6M671.6 307.4a5.3 1.9 -63 1 0 4.8 -9.5a5.3 1.9 -63 1 0 -4.8 9.5M793.7 468.1a3.4 1.2 -93 1 0 -0.3 -6.7a3.4 1.2 -93 1 0 0.3 6.7M682.4 337.2a3.8 1.9 -86 1 0 0.6 -7.5a3.8 1.9 -86 1 0 -0.6 7.5M687.8 327.8a4.9 1.5 -44 1 0 7.1 -6.8a4.9 1.5 -44 1 0 -7.1 6.8M554.7 366.3a6.5 2.5 -32 1 0 11.1 -6.9a6.5 2.5 -32 1 0 -11.1 6.9M563.1 364.8a4.4 2.3 -98 1 0 -1.3 -8.7a4.4 2.3 -98 1 0 1.3 8.7M562.2 360.8a5.4 1.8 -88 1 0 0.4 -10.7a5.4 1.8 -88 1 0 -0.4 10.7M756.2 515.8a3.7 1.2 -43 1 0 5.4 -5a3.7 1.2 -43 1 0 -5.4 5M759.5 512.5a2.7 1.7 -64 1 0 2.4 -4.9a2.7 1.7 -64 1 0 -2.4 4.9"/><path fill="#8e8e8e" d="M709.1 336.9a3.3 1.8 -95 1 0 -0.6 -6.6a3.3 1.8 -95 1 0 0.6 6.6M437.2 409.2a5.2 2.2 -139 1 0 -7.8 -6.8a5.2 2.2 -139 1 0 7.8 6.8M749.9 380a3.5 2.2 -103 1 0 -1.6 -6.8a3.5 2.2 -103 1 0 1.6 6.8M483.4 379.8a2.8 1.7 -19 1 0 5.2 -1.8a2.8 1.7 -19 1 0 -5.2 1.8M683.2 351.3a6.5 2.3 -34 1 0 10.9 -7.3a6.5 2.3 -34 1 0 -10.9 7.3M685.3 346.4a4.7 2.8 -12 1 0 9.1 -1.9a4.7 2.8 -12 1 0 -9.1 1.9M693.3 343.2a4.2 2.9 -70 1 0 2.9 -8a4.2 2.9 -70 1 0 -2.9 8M694.8 345.3a5.2 2.1 -83 1 0 1.3 -10.4a5.2 2.1 -83 1 0 -1.3 10.4M693.7 342.1a4.6 1.8 -78 1 0 1.9 -8.9a4.6 1.8 -78 1 0 -1.9 8.9M597.1 437.2a6.2 2.2 -106 1 0 -3.5 -11.9a6.2 2.2 -106 1 0 3.5 11.9M590.9 424.8a4 2.5 -25 1 0 7.2 -3.4a4 2.5 -25 1 0 -7.2 3.4M783.3 533.4a6.2 1.7 -101 1 0 -2.3 -12.1a6.2 1.7 -101 1 0 2.3 12.1M788.5 530a5.2 1.7 -105 1 0 -2.7 -10a5.2 1.7 -105 1 0 2.7 10M785.2 518.6a3.7 2.8 -141 1 0 -5.8 -4.7a3.7 2.8 -141 1 0 5.8 4.7M464.8 287.7a4.7 2.3 -62 1 0 4.3 -8.3a4.7 2.3 -62 1 0 -4.3 8.3M466 286.2a5.7 2.4 -94 1 0 -0.8 -11.4a5.7 2.4 -94 1 0 0.8 11.4M461.2 279a5.1 2.7 -20 1 0 9.7 -3.4a5.1 2.7 -20 1 0 -9.7 3.4M465 279.6a6.5 1.9 -52 1 0 8 -10.1a6.5 1.9 -52 1 0 -8 10.1M670.1 327.8a4.2 1.7 -46 1 0 5.8 -6.1a4.2 1.7 -46 1 0 -5.8 6.1M677 313.9a2.7 1.8 -32 1 0 4.5 -2.8a2.7 1.8 -32 1 0 -4.5 2.8M767.1 500.1a4.6 1.7 -42 1 0 6.7 -6.1a4.6 1.7 -42 1 0 -6.7 6.1M663.1 304a3.6 1.4 -82 1 0 1 -7.2a3.6 1.4 -82 1 0 -1 7.2M667.9 296.7a3.9 1.1 -95 1 0 -0.7 -7.8a3.9 1.1 -95 1 0 0.7 7.8M601.9 543.5a4.3 1.9 -18 1 0 8.3 -2.6a4.3 1.9 -18 1 0 -8.3 2.6M398.7 529.4a5 2.2 -81 1 0 1.5 -9.9a5 2.2 -81 1 0 -1.5 9.9M400.7 516.5a4.5 2.7 -84 1 0 0.9 -9a4.5 2.7 -84 1 0 -0.9 9M648.6 356.1a4.2 1.4 -50 1 0 5.4 -6.5a4.2 1.4 -50 1 0 -5.4 6.5M653.6 543a3.5 2 -79 1 0 1.3 -6.9a3.5 2 -79 1 0 -1.3 6.9M655 539.2a4.1 2.1 -88 1 0 0.3 -8.2a4.1 2.1 -88 1 0 -0.3 8.2M585.1 348.1a4.5 2.2 -72 1 0 2.8 -8.6a4.5 2.2 -72 1 0 -2.8 8.6M412.4 430.1a3.6 1.8 -74 1 0 1.9 -6.9a3.6 1.8 -74 1 0 -1.9 6.9M410.8 425.3a5.2 1.8 -117 1 0 -4.7 -9.3a5.2 1.8 -117 1 0 4.7 9.3M564.5 341.5a6.1 2.1 -48 1 0 8.1 -9a6.1 2.1 -48 1 0 -8.1 9M572.8 327.3a4.4 2.3 -129 1 0 -5.4 -6.8a4.4 2.3 -129 1 0 5.4 6.8M409 470.7a3.8 1.4 -84 1 0 0.7 -7.5a3.8 1.4 -84 1 0 -0.7 7.5M409.4 460.8a2.9 1.4 -40 1 0 4.4 -3.7a2.9 1.4 -40 1 0 -4.4 3.7M421.5 451.4a3.8 1.2 -103 1 0 -1.7 -7.4a3.8 1.2 -103 1 0 1.7 7.4M683.9 504.7a4 2.1 -45 1 0 5.7 -5.6a4 2.1 -45 1 0 -5.7 5.6M523.1 515.1a2.6 1.6 -77 1 0 1.2 -5.1a2.6 1.6 -77 1 0 -1.2 5.1M582.2 382.6a4.6 2.9 -45 1 0 6.5 -6.4a4.6 2.9 -45 1 0 -6.5 6.4M392.6 343.3a4.6 1.8 -71 1 0 2.9 -8.6a4.6 1.8 -71 1 0 -2.9 8.6M398.6 337.4a3.4 2.1 -47 1 0 4.7 -5a3.4 2.1 -47 1 0 -4.7 5M749.6 434.6a6.6 2.7 -38 1 0 10.4 -8a6.6 2.7 -38 1 0 -10.4 8M753 310.1a3.3 1.5 -124 1 0 -3.7 -5.5a3.3 1.5 -124 1 0 3.7 5.5M753.8 299.7a3.9 1.3 -77 1 0 1.8 -7.6a3.9 1.3 -77 1 0 -1.8 7.6M694.3 422.4a4 1.8 -52 1 0 5 -6.3a4 1.8 -52 1 0 -5 6.3M511.5 491.8a3.9 2.2 -42 1 0 5.8 -5.3a3.9 2.2 -42 1 0 -5.8 5.3M624.3 433.8a6.4 2.8 -95 1 0 -1.2 -12.7a6.4 2.8 -95 1 0 1.2 12.7M548.8 463a3.4 1.1 -67 1 0 2.7 -6.2a3.4 1.1 -67 1 0 -2.7 6.2M556.7 452.2a3.5 1.2 -51 1 0 4.5 -5.5a3.5 1.2 -51 1 0 -4.5 5.5M793.7 353.5a3.9 1.3 -77 1 0 1.7 -7.5a3.9 1.3 -77 1 0 -1.7 7.5M431.5 515a4.8 1.9 -48 1 0 6.4 -7.1a4.8 1.9 -48 1 0 -6.4 7.1M435.1 512.3a6.5 2 -49 1 0 8.4 -9.8a6.5 2 -49 1 0 -8.4 9.8M439.4 505.9a5 2.9 -60 1 0 5 -8.7a5 2.9 -60 1 0 -5 8.7M784.3 457.2a4.8 2.1 -35 1 0 7.9 -5.6a4.8 2.1 -35 1 0 -7.9 5.6M590.3 451.5a7 2.1 -124 1 0 -7.8 -11.7a7 2.1 -124 1 0 7.8 11.7M428.4 303.9a5.6 2.2 -81 1 0 1.6 -11a5.6 2.2 -81 1 0 -1.6 11M440.1 368.1a3.9 1.8 -50 1 0 5 -5.9a3.9 1.8 -50 1 0 -5 5.9M667.3 411a4.1 2.2 -49 1 0 5.4 -6.1a4.1 2.2 -49 1 0 -5.4 6.1M671.7 402.6a3 1.6 -41 1 0 4.6 -4a3 1.6 -41 1 0 -4.6 4M617.6 487.1a4.3 1.3 -112 1 0 -3.2 -7.9a4.3 1.3 -112 1 0 3.2 7.9M620.2 478.9a4.5 2 -104 1 0 -2.1 -8.6a4.5 2 -104 1 0 2.1 8.6M637.3 397.1a4.2 1.3 -87 1 0 0.4 -8.4a4.2 1.3 -87 1 0 -0.4 8.4M641.3 390.1a2.9 1.6 -51 1 0 3.7 -4.5a2.9 1.6 -51 1 0 -3.7 4.5M642.2 391a3.6 1.4 -74 1 0 2 -7a3.6 1.4 -74 1 0 -2 7M534 299.1a6 2.5 -61 1 0 5.8 -10.4a6 2.5 -61 1 0 -5.8 10.4M537.1 292.5a5.4 2.6 -53 1 0 6.5 -8.7a5.4 2.6 -53 1 0 -6.5 8.7M575.6 294.5a3.7 1.6 -96 1 0 -0.7 -7.5a3.7 1.6 -96 1 0 0.7 7.5M638.5 316.6a3.1 1.4 -66 1 0 2.5 -5.7a3.1 1.4 -66 1 0 -2.5 5.7M643.6 310.8a3.6 1 -103 1 0 -1.6 -6.9a3.6 1 -103 1 0 1.6 6.9M620.2 403a3.3 1.8 -86 1 0 0.5 -6.5a3.3 1.8 -86 1 0 -0.5 6.5M421.4 281a2.5 1.5 -44 1 0 3.6 -3.5a2.5 1.5 -44 1 0 -3.6 3.5M423.8 268.6a3.7 1.6 -60 1 0 3.6 -6.4a3.7 1.6 -60 1 0 -3.6 6.4M424.5 264.4a2.5 1.3 -64 1 0 2.2 -4.4a2.5 1.3 -64 1 0 -2.2 4.4M450.9 425.2a4.4 1.8 -115 1 0 -3.6 -7.9a4.4 1.8 -115 1 0 3.6 7.9M769.7 421.8a5.9 1.7 -105 1 0 -3 -11.4a5.9 1.7 -105 1 0 3 11.4M645.4 510.4a3.5 1.9 -70 1 0 2.3 -6.5a3.5 1.9 -70 1 0 -2.3 6.5M779.6 386.1a5.1 1.5 -61 1 0 5 -8.9a5.1 1.5 -61 1 0 -5 8.9M782.2 384.8a5.3 2.2 -107 1 0 -3.1 -10.1a5.3 2.2 -107 1 0 3.1 10.1M782.7 378.6a5.2 1.5 -46 1 0 7.3 -7.5a5.2 1.5 -46 1 0 -7.3 7.5M497.8 473.8a4.7 1.5 -48 1 0 6.2 -7a4.7 1.5 -48 1 0 -6.2 7M687.4 378.5a3.1 1.5 -5 1 0 6.2 -0.6a3.1 1.5 -5 1 0 -6.2 0.6M692.7 370a3 1.2 -93 1 0 -0.3 -5.9a3 1.2 -93 1 0 0.3 5.9M691 366.9a4 1.1 -83 1 0 1 -7.9a4 1.1 -83 1 0 -1 7.9M668.1 308.4a5.1 2.7 -66 1 0 4.1 -9.4a5.1 2.7 -66 1 0 -4.1 9.4M675.8 295.3a4.5 2.6 -89 1 0 0.2 -9a4.5 2.6 -89 1 0 -0.2 9M789.8 466.7a4 1.2 -29 1 0 7 -3.8a4 1.2 -29 1 0 -7 3.8M689.3 326.4a3.3 2.4 -64 1 0 2.9 -6a3.3 2.4 -64 1 0 -2.9 6M562.8 371.1a5.3 2.4 -71 1 0 3.4 -10.1a5.3 2.4 -71 1 0 -3.4 10.1M568.9 352.2a5.5 2.1 -87 1 0 0.6 -11.1a5.5 2.1 -87 1 0 -0.6 11.1"/><path fill="#a0a0a0" d="M711.4 324.4a3 1.5 -98 1 0 -0.8 -5.9a3 1.5 -98 1 0 0.8 5.9M436.1 407.8a3.7 1.9 -88 1 0 0.2 -7.3a3.7 1.9 -88 1 0 -0.2 7.3M486.5 379.7a2.8 1.3 -64 1 0 2.5 -5.1a2.8 1.3 -64 1 0 -2.5 5.1M695.6 337.3a5.2 2.3 -54 1 0 6 -8.4a5.2 2.3 -54 1 0 -6 8.4M598.8 411.5a6.8 2.9 -43 1 0 10 -9.3a6.8 2.9 -43 1 0 -10 9.3M785.8 523.3a4.6 2.8 -62 1 0 4.3 -8.1a4.6 2.8 -62 1 0 -4.3 8.1M787 514.8a5.1 1.9 -105 1 0 -2.7 -9.8a5.1 1.9 -105 1 0 2.7 9.8M650.9 295.5a4.8 2.1 -33 1 0 8.1 -5.2a4.8 2.1 -33 1 0 -8.1 5.2M671.5 331.3a3.2 1.8 -62 1 0 3.1 -5.7a3.2 1.8 -62 1 0 -3.1 5.7M675.3 320.8a3.6 1.1 -35 1 0 5.9 -4.1a3.6 1.1 -35 1 0 -5.9 4.1M683.1 312a4.3 1.4 -94 1 0 -0.6 -8.6a4.3 1.4 -94 1 0 0.6 8.6M665.4 292.3a3.6 1.8 -46 1 0 5 -5.3a3.6 1.8 -46 1 0 -5 5.3M667.7 290.6a3.8 1.8 -75 1 0 1.9 -7.3a3.8 1.8 -75 1 0 -1.9 7.3M608.7 536a2.9 1.9 -75 1 0 1.5 -5.7a2.9 1.9 -75 1 0 -1.5 5.7M401.1 518.1a5.3 2.5 -76 1 0 2.7 -10.3a5.3 2.5 -76 1 0 -2.7 10.3M650.7 351.5a3.6 1.5 -74 1 0 2 -6.9a3.6 1.5 -74 1 0 -2 6.9M649.4 347.7a2.7 1.7 -61 1 0 2.7 -4.8a2.7 1.7 -61 1 0 -2.7 4.8M652.5 531a4.2 1.7 -96 1 0 -0.8 -8.4a4.2 1.7 -96 1 0 0.8 8.4M588.7 345a4 2.3 -114 1 0 -3.3 -7.4a4 2.3 -114 1 0 3.3 7.4M744.6 521.4a4.9 2.5 -80 1 0 1.7 -9.6a4.9 2.5 -80 1 0 -1.7 9.6M564.7 338.4a5 2.4 -70 1 0 3.4 -9.4a5 2.4 -70 1 0 -3.4 9.4M570.3 333.4a6.2 1.8 -85 1 0 1.1 -12.3a6.2 1.8 -85 1 0 -1.1 12.3M685.4 306.2a3.5 1.9 -29 1 0 6.1 -3.3a3.5 1.9 -29 1 0 -6.1 3.3M692.5 294.9a4.2 2 -118 1 0 -4 -7.3a4.2 2 -118 1 0 4 7.3M415.8 455.6a3.4 1.7 -76 1 0 1.6 -6.5a3.4 1.7 -76 1 0 -1.6 6.5M678.7 508.1a5.1 2.4 -15 1 0 9.8 -2.7a5.1 2.4 -15 1 0 -9.8 2.7M686.7 503a5.5 1.6 -47 1 0 7.5 -8.1a5.5 1.6 -47 1 0 -7.5 8.1M689.9 502.1a5 2.4 -59 1 0 5.1 -8.6a5 2.4 -59 1 0 -5.1 8.6M514.1 520.2a3.5 1.7 -36 1 0 5.7 -4.1a3.5 1.7 -36 1 0 -5.7 4.1M516.4 515.9a3.4 1.3 -7 1 0 6.8 -0.8a3.4 1.3 -7 1 0 -6.8 0.8M519.3 516a2.3 1.4 -64 1 0 2.1 -4.2a2.3 1.4 -64 1 0 -2.1 4.2M518.1 510.3a3.6 1 -26 1 0 6.5 -3.2a3.6 1 -26 1 0 -6.5 3.2M401.3 328.8a4.4 1.7 -34 1 0 7.3 -5a4.4 1.7 -34 1 0 -7.3 5M510 498.6a5.7 2.4 -60 1 0 5.8 -9.8a5.7 2.4 -60 1 0 -5.8 9.8M518.4 498.1a6.3 2.1 -117 1 0 -5.7 -11.3a6.3 2.1 -117 1 0 5.7 11.3M516.1 496.8a6.6 2.8 -87 1 0 0.6 -13.1a6.6 2.8 -87 1 0 -0.6 13.1M619.8 432.6a6.6 1.9 -62 1 0 6.1 -11.6a6.6 1.9 -62 1 0 -6.1 11.6M552.1 459.2a2.7 1.1 -86 1 0 0.4 -5.4a2.7 1.1 -86 1 0 -0.4 5.4M555.3 458.2a4.1 1.6 -101 1 0 -1.6 -8.1a4.1 1.6 -101 1 0 1.6 8.1M789.3 360.3a3.3 1.8 -11 1 0 6.5 -1.2a3.3 1.8 -11 1 0 -6.5 1.2M787.6 358.7a4.4 1.4 -41 1 0 6.7 -5.8a4.4 1.4 -41 1 0 -6.7 5.8M791.6 351.8a4.1 1.8 -71 1 0 2.7 -7.7a4.1 1.8 -71 1 0 -2.7 7.7M797.8 350.6a3.5 1.5 -84 1 0 0.8 -7a3.5 1.5 -84 1 0 -0.8 7M434.3 517.4a5.8 2.9 -63 1 0 5.3 -10.3a5.8 2.9 -63 1 0 -5.3 10.3M523.2 357.3a3.6 1.5 -51 1 0 4.5 -5.5a3.6 1.5 -51 1 0 -4.5 5.5M527.5 355.3a2.6 1.6 -63 1 0 2.3 -4.6a2.6 1.6 -63 1 0 -2.3 4.6M528.7 412.4a3.5 1.5 -58 1 0 3.7 -6a3.5 1.5 -58 1 0 -3.7 6M531.5 413.5a5 1.7 -82 1 0 1.4 -9.9a5 1.7 -82 1 0 -1.4 9.9M779.4 462.3a3.7 1.5 -18 1 0 7.1 -2.3a3.7 1.5 -18 1 0 -7.1 2.3M783.6 463.1a4 1.6 -72 1 0 2.4 -7.5a4 1.6 -72 1 0 -2.4 7.5M787.3 460a3.2 2.5 -73 1 0 1.8 -6.2a3.2 2.5 -73 1 0 -1.8 6.2M793.9 453.8a5.2 1.5 -106 1 0 -2.8 -10.1a5.2 1.5 -106 1 0 2.8 10.1M738.4 457.7a3.2 1.6 -73 1 0 1.9 -6.1a3.2 1.6 -73 1 0 -1.9 6.1M743 445.2a3 1.7 -52 1 0 3.6 -4.7a3 1.7 -52 1 0 -3.6 4.7M448.3 354.3a3.5 1.7 -100 1 0 -1.2 -6.8a3.5 1.7 -100 1 0 1.2 6.8M447.8 345.7a2.7 1.4 -75 1 0 1.4 -5.2a2.7 1.4 -75 1 0 -1.4 5.2M671.1 411.4a4.8 1.5 -74 1 0 2.7 -9.3a4.8 1.5 -74 1 0 -2.7 9.3M678.7 397.8a5 1.7 -113 1 0 -3.9 -9.1a5 1.7 -113 1 0 3.9 9.1M608.9 489.1a4.1 1.4 -25 1 0 7.4 -3.5a4.1 1.4 -25 1 0 -7.4 3.5M637.8 393.4a3.5 1.8 -68 1 0 2.6 -6.4a3.5 1.8 -68 1 0 -2.6 6.4M613.8 366.6a4.2 1.7 -68 1 0 3.1 -7.8a4.2 1.7 -68 1 0 -3.1 7.8M540.3 299.6a4.1 2.2 -114 1 0 -3.4 -7.5a4.1 2.2 -114 1 0 3.4 7.5M577.7 295a3.2 2.3 -114 1 0 -2.6 -6a3.2 2.3 -114 1 0 2.6 6M640.4 310.4a3 1.3 -43 1 0 4.4 -4.1a3 1.3 -43 1 0 -4.4 4.1M618.4 401a3 2.2 -56 1 0 3.3 -4.9a3 2.2 -56 1 0 -3.3 4.9M622 401.8a4.5 1.9 -91 1 0 -0.1 -9.1a4.5 1.9 -91 1 0 0.1 9.1M627.4 388.1a3 1.7 -49 1 0 4 -4.6a3 1.7 -49 1 0 -4 4.6M421.1 286.4a2.5 1.5 -89 1 0 0.1 -4.9a2.5 1.5 -89 1 0 -0.1 4.9M421.2 271.1a2.5 1.2 -61 1 0 2.4 -4.4a2.5 1.2 -61 1 0 -2.4 4.4M443.2 430.1a3.8 1.5 -41 1 0 5.7 -4.9a3.8 1.5 -41 1 0 -5.7 4.9M762.6 418.3a5.6 2 12 1 0 10.9 2.4a5.6 2 12 1 0 -10.9 -2.4M771.9 409a4.2 2.6 -59 1 0 4.3 -7.3a4.2 2.6 -59 1 0 -4.3 7.3M408.3 406.8a5.5 1.7 -69 1 0 3.9 -10.2a5.5 1.7 -69 1 0 -3.9 10.2M415.4 400.3a3.6 2.2 -82 1 0 1 -7.2a3.6 2.2 -82 1 0 -1 7.2M412.7 399.2a4.8 1.8 -66 1 0 3.9 -8.7a4.8 1.8 -66 1 0 -3.9 8.7M648.5 500.9a2.9 2.1 -131 1 0 -3.8 -4.4a2.9 2.1 -131 1 0 3.8 4.4M645 500.9a3.1 1.7 -79 1 0 1.2 -6.1a3.1 1.7 -79 1 0 -1.2 6.1M780.3 389.1a5.3 2.3 -77 1 0 2.3 -10.3a5.3 2.3 -77 1 0 -2.3 10.3M501.1 467a3.6 1.4 -66 1 0 3 -6.6a3.6 1.4 -66 1 0 -3 6.6M688.2 369.9a3.2 1.2 -16 1 0 6.2 -1.8a3.2 1.2 -16 1 0 -6.2 1.8M695.1 364.7a3.9 1.6 -95 1 0 -0.7 -7.7a3.9 1.6 -95 1 0 0.7 7.7M456.5 333.5a5 1.6 -42 1 0 7.4 -6.7a5 1.6 -42 1 0 -7.4 6.7M461.1 329.2a4.1 2.5 -46 1 0 5.7 -6a4.1 2.5 -46 1 0 -5.7 6M468.9 329.3a4.3 1.8 -95 1 0 -0.8 -8.6a4.3 1.8 -95 1 0 0.8 8.6M546.2 293.5a6 2.1 -40 1 0 9.2 -7.8a6 2.1 -40 1 0 -9.2 7.8M674.4 314.8a4.9 1.6 -82 1 0 1.4 -9.7a4.9 1.6 -82 1 0 -1.4 9.7M674.1 302.4a5.5 1.8 -83 1 0 1.3 -10.9a5.5 1.8 -83 1 0 -1.3 10.9M672.3 299.9a5.1 2.4 -64 1 0 4.4 -9.2a5.1 2.4 -64 1 0 -4.4 9.2M791.1 476.1a3.3 1.2 -97 1 0 -0.8 -6.5a3.3 1.2 -97 1 0 0.8 6.5M680.5 334.1a5.1 2.1 -22 1 0 9.5 -3.8a5.1 2.1 -22 1 0 -9.5 3.8M686.8 333.1a4.1 1.4 -61 1 0 4 -7.2a4.1 1.4 -61 1 0 -4 7.2M689.8 328.8a3.8 2.4 -82 1 0 1 -7.5a3.8 2.4 -82 1 0 -1 7.5M695.3 320.6a3.5 2 -107 1 0 -2 -6.6a3.5 2 -107 1 0 2 6.6M564.5 362.3a4.4 2.1 -88 1 0 0.3 -8.9a4.4 2.1 -88 1 0 -0.3 8.9M568.6 354.4a5 1.8 -101 1 0 -2 -9.9a5 1.8 -101 1 0 2 9.9M569.7 352.4a3.8 2.6 -104 1 0 -1.8 -7.4a3.8 2.6 -104 1 0 1.8 7.4M756.4 526.9a3.2 1.7 -93 1 0 -0.3 -6.4a3.2 1.7 -93 1 0 0.3 6.4M756.2 521.1a4.1 1.4 -69 1 0 3 -7.7a4.1 1.4 -69 1 0 -3 7.7"/><path fill="#b4b4b4" d="M704.8 329.6a4.1 2.1 -49 1 0 5.4 -6.1a4.1 2.1 -49 1 0 -5.4 6.1M739.8 383.5a4.4 1.8 -38 1 0 6.9 -5.5a4.4 1.8 -38 1 0 -6.9 5.5M745.7 379.5a3.8 1.6 -54 1 0 4.5 -6.1a3.8 1.6 -54 1 0 -4.5 6.1M479.7 389.9a4.2 1.5 -76 1 0 2 -8.2a4.2 1.5 -76 1 0 -2 8.2M589.1 424.7a5.5 2.4 -37 1 0 8.8 -6.6a5.5 2.4 -37 1 0 -8.8 6.6M599.1 416.7a5.5 1.9 -70 1 0 3.8 -10.3a5.5 1.9 -70 1 0 -3.8 10.3M780.5 514.6a6.5 1.8 -50 1 0 8.3 -9.9a6.5 1.8 -50 1 0 -8.3 9.9M461.6 272.4a6.1 2.4 -23 1 0 11.2 -4.7a6.1 2.4 -23 1 0 -11.2 4.7M648.3 308.6a6.5 2.2 -96 1 0 -1.4 -12.9a6.5 2.2 -96 1 0 1.4 12.9M647.5 299.3a3.9 2.3 -13 1 0 7.7 -1.8a3.9 2.3 -13 1 0 -7.7 1.8M650.2 294.2a6.5 2 -46 1 0 9 -9.3a6.5 2 -46 1 0 -9 9.3M669.5 333.3a3.5 1.9 -77 1 0 1.6 -6.9a3.5 1.9 -77 1 0 -1.6 6.9M674 323.3a3 1.4 -70 1 0 2.1 -5.6a3 1.4 -70 1 0 -2.1 5.6M674.5 318a3.6 1.3 -45 1 0 5.1 -5.2a3.6 1.3 -45 1 0 -5.1 5.2M772.9 498.2a3.7 2 -68 1 0 2.8 -6.8a3.7 2 -68 1 0 -2.8 6.8M608.2 535.6a4.4 1.9 -59 1 0 4.5 -7.6a4.4 1.9 -59 1 0 -4.5 7.6M401.9 519a5.1 2.5 -66 1 0 4.1 -9.3a5.1 2.5 -66 1 0 -4.1 9.3M407.7 513.2a6 2.6 -120 1 0 -6 -10.5a6 2.6 -120 1 0 6 10.5M650.5 537.7a4.8 1.9 -68 1 0 3.5 -9a4.8 1.9 -68 1 0 -3.5 9M654.8 532.2a3.8 1.6 -129 1 0 -4.7 -5.8a3.8 1.6 -129 1 0 4.7 5.8M587.5 355.3a3.5 2 -100 1 0 -1.3 -6.9a3.5 2 -100 1 0 1.3 6.9M407.2 439.8a3.7 2.4 -88 1 0 0.2 -7.5a3.7 2.4 -88 1 0 -0.2 7.5M750.4 507.7a4.2 2.1 -56 1 0 4.7 -7a4.2 2.1 -56 1 0 -4.7 7M572.8 317.5a3.7 2.7 -81 1 0 1.2 -7.3a3.7 2.7 -81 1 0 -1.2 7.3M685.2 306.2a4.1 1.9 -50 1 0 5.3 -6.4a4.1 1.9 -50 1 0 -5.3 6.4M689.9 303.9a4.5 1.4 -86 1 0 0.6 -8.9a4.5 1.4 -86 1 0 -0.6 8.9M686.7 299.3a3.8 1.8 -73 1 0 2.3 -7.3a3.8 1.8 -73 1 0 -2.3 7.3M415.9 454.4a2.7 1.2 -54 1 0 3.2 -4.4a2.7 1.2 -54 1 0 -3.2 4.4M690 499.8a5.5 2.3 -38 1 0 8.7 -6.8a5.5 2.3 -38 1 0 -8.7 6.8M583.4 378a6.4 2.6 -64 1 0 5.6 -11.6a6.4 2.6 -64 1 0 -5.6 11.6M404.8 336.1a3.5 1.9 -63 1 0 3.1 -6.2a3.5 1.9 -63 1 0 -3.1 6.2M406 335.4a4.6 1.8 -128 1 0 -5.6 -7.2a4.6 1.8 -128 1 0 5.6 7.2M756.9 425.1a6.1 2.6 -33 1 0 10.1 -6.6a6.1 2.6 -33 1 0 -10.1 6.6M749.7 306.2a3.8 1.8 -37 1 0 6 -4.6a3.8 1.8 -37 1 0 -6 4.6M510.4 488.4a6.1 2.6 -65 1 0 5.1 -11.1a6.1 2.6 -65 1 0 -5.1 11.1M619.5 438.7a6.4 2 -64 1 0 5.6 -11.5a6.4 2 -64 1 0 -5.6 11.5M523.6 362.9a3.7 1.2 -88 1 0 0.3 -7.5a3.7 1.2 -88 1 0 -0.3 7.5M533.3 348.2a3.1 1.3 -67 1 0 2.4 -5.7a3.1 1.3 -67 1 0 -2.4 5.7M526.8 415.6a4 2.6 -67 1 0 3.2 -7.4a4 2.6 -67 1 0 -3.2 7.4M536.2 406.3a5.4 2.2 -63 1 0 4.9 -9.5a5.4 2.2 -63 1 0 -4.9 9.5M537.9 396.3a5.9 1.8 -43 1 0 8.6 -8.1a5.9 1.8 -43 1 0 -8.6 8.1M744.1 453.3a4.1 1.3 -149 1 0 -6.9 -4.2a4.1 1.3 -149 1 0 6.9 4.2M739 450.9a4.7 2 -61 1 0 4.5 -8.1a4.7 2 -61 1 0 -4.5 8.1M746.2 444.3a4.3 1.7 -112 1 0 -3.2 -8a4.3 1.7 -112 1 0 3.2 8M742.9 442.1a3.9 1.8 -85 1 0 0.7 -7.8a3.9 1.8 -85 1 0 -0.7 7.8M746.1 441.6a4.5 1.5 -89 1 0 0.2 -9.1a4.5 1.5 -89 1 0 -0.2 9.1M502.4 461a2.6 1.2 -106 1 0 -1.4 -5.1a2.6 1.2 -106 1 0 1.4 5.1M586.2 446.7a4.1 2.1 -60 1 0 4.1 -7.1a4.1 2.1 -60 1 0 -4.1 7.1M591.9 439.2a4.8 1.8 -137 1 0 -7.1 -6.5a4.8 1.8 -137 1 0 7.1 6.5M421.8 306.7a4.4 2.3 -48 1 0 5.8 -6.5a4.4 2.3 -48 1 0 -5.8 6.5M442.2 364.9a3.9 2 -81 1 0 1.2 -7.6a3.9 2 -81 1 0 -1.2 7.6M444.1 344.2a4.7 2 3 1 0 9.4 0.5a4.7 2 3 1 0 -9.4 -0.5M673.6 405.9a3.6 1.4 -67 1 0 2.8 -6.6a3.6 1.4 -67 1 0 -2.8 6.6M632.7 401a3.6 1.1 -49 1 0 4.7 -5.5a3.6 1.1 -49 1 0 -4.7 5.5M641.6 389.9a3.1 1.8 -37 1 0 5 -3.7a3.1 1.8 -37 1 0 -5 3.7M611.3 368.3a3.9 2.3 -60 1 0 3.9 -6.8a3.9 2.3 -60 1 0 -3.9 6.8M613.1 351.2a5 1.9 -60 1 0 5 -8.7a5 1.9 -60 1 0 -5 8.7M574 299.2a4.3 2.1 -80 1 0 1.4 -8.5a4.3 2.1 -80 1 0 -1.4 8.5M637.2 320.9a2.4 1.6 -46 1 0 3.3 -3.4a2.4 1.6 -46 1 0 -3.3 3.4M643.3 304a2.6 1.3 -17 1 0 4.9 -1.5a2.6 1.3 -17 1 0 -4.9 1.5M424.3 283.9a2.8 1.2 -100 1 0 -0.9 -5.6a2.8 1.2 -100 1 0 0.9 5.6M421.8 269.8a2.4 1.3 -70 1 0 1.6 -4.5a2.4 1.3 -70 1 0 -1.6 4.5M423 262a2.8 1.5 -30 1 0 4.9 -2.8a2.8 1.5 -30 1 0 -4.9 2.8M441.6 434a3.9 1.3 -83 1 0 1 -7.7a3.9 1.3 -83 1 0 -1 7.7M768 414.7a4.3 1.6 -57 1 0 4.7 -7.2a4.3 1.6 -57 1 0 -4.7 7.2M774.4 408.4a5 2 -59 1 0 5.1 -8.6a5 2 -59 1 0 -5.1 8.6M414.1 392.9a5.6 2.4 -44 1 0 8 -7.9a5.6 2.4 -44 1 0 -8 7.9M643.5 505.5a3.1 1.6 -83 1 0 0.8 -6.2a3.1 1.6 -83 1 0 -0.8 6.2M646.2 499.7a4.6 1.6 -75 1 0 2.4 -8.9a4.6 1.6 -75 1 0 -2.4 8.9M647.1 495.9a4.1 1.3 -106 1 0 -2.2 -8a4.1 1.3 -106 1 0 2.2 8M496.6 466.6a3.9 1.6 -31 1 0 6.6 -4a3.9 1.6 -31 1 0 -6.6 4M498.7 468a3.5 2.1 -70 1 0 2.3 -6.6a3.5 2.1 -70 1 0 -2.3 6.6M692.7 379.6a4.1 1.3 -140 1 0 -6.4 -5.3a4.1 1.3 -140 1 0 6.4 5.3M452.5 343.6a5.2 1.8 -64 1 0 4.6 -9.3a5.2 1.8 -64 1 0 -4.6 9.3M452.4 341.7a5.4 2.1 -35 1 0 8.9 -6.2a5.4 2.1 -35 1 0 -8.9 6.2M459.9 331.3a3.3 1.8 -56 1 0 3.7 -5.4a3.3 1.8 -56 1 0 -3.7 5.4M463.5 318.9a4.3 1.7 5 1 0 8.5 0.7a4.3 1.7 5 1 0 -8.5 -0.7M548 295.4a3.7 1.9 -74 1 0 2 -7.2a3.7 1.9 -74 1 0 -2 7.2M549.6 296.6a4.5 2.6 -84 1 0 1 -9a4.5 2.6 -84 1 0 -1 9M789.2 468.8a3.5 1.2 -20 1 0 6.5 -2.3a3.5 1.2 -20 1 0 -6.5 2.3M679.5 340a4 1.7 -46 1 0 5.6 -5.8a4 1.7 -46 1 0 -5.6 5.8M680.5 329.2a4.2 1.7 -31 1 0 7.2 -4.3a4.2 1.7 -31 1 0 -7.2 4.3M562.3 357.2a5.6 1.7 -44 1 0 8.1 -7.8a5.6 1.7 -44 1 0 -8.1 7.8"/><path fill="#c4c4c4" d="M432.5 403.4a3.4 2.1 -91 1 0 -0.1 -6.7a3.4 2.1 -91 1 0 0.1 6.7M744.2 387.4a4.8 2 -64 1 0 4.2 -8.5a4.8 2 -64 1 0 -4.2 8.5M478.5 386.9a4.2 1.6 -27 1 0 7.4 -3.8a4.2 1.6 -27 1 0 -7.4 3.8M689.3 345.5a4.8 2.4 -83 1 0 1.2 -9.5a4.8 2.4 -83 1 0 -1.2 9.5M592.9 432.3a4.3 2 -101 1 0 -1.6 -8.5a4.3 2 -101 1 0 1.6 8.5M649.5 302.6a5.9 2.7 -98 1 0 -1.6 -11.8a5.9 2.7 -98 1 0 1.6 11.8M654.1 298.3a6 2.6 -124 1 0 -6.8 -9.9a6 2.6 -124 1 0 6.8 9.9M669.7 326.3a3.8 1.4 -24 1 0 7 -3.1a3.8 1.4 -24 1 0 -7 3.1M673.3 314a3.3 1.5 -14 1 0 6.3 -1.5a3.3 1.5 -14 1 0 -6.3 1.5M774.2 489.6a2.8 1.6 -24 1 0 5.1 -2.3a2.8 1.6 -24 1 0 -5.1 2.3M661.2 301.6a4 1.1 -57 1 0 4.4 -6.7a4 1.1 -57 1 0 -4.4 6.7M664 299.5a3.5 1.7 -51 1 0 4.4 -5.4a3.5 1.7 -51 1 0 -4.4 5.4M606.2 536.4a4.6 1.8 -47 1 0 6.3 -6.8a4.6 1.8 -47 1 0 -6.3 6.8M614 530.2a4 1.4 -76 1 0 1.9 -7.9a4 1.4 -76 1 0 -1.9 7.9M403.1 524.6a5.2 2.7 -104 1 0 -2.6 -10.1a5.2 2.7 -104 1 0 2.6 10.1M592.3 348.6a5.1 1.6 -132 1 0 -6.9 -7.5a5.1 1.6 -132 1 0 6.9 7.5M410.1 433.7a5 2.1 -77 1 0 2.3 -9.7a5 2.1 -77 1 0 -2.3 9.7M412 424.9a3.4 2.3 -83 1 0 0.9 -6.8a3.4 2.3 -83 1 0 -0.9 6.8M743.2 525a5.5 2.1 -79 1 0 2.1 -10.7a5.5 2.1 -79 1 0 -2.1 10.7M750.1 515.9a4.6 2 -135 1 0 -6.5 -6.5a4.6 2 -135 1 0 6.5 6.5M746.1 511.7a4.4 2.2 -59 1 0 4.5 -7.5a4.4 2.2 -59 1 0 -4.5 7.5M752.7 508.5a5.9 2.5 -116 1 0 -5.3 -10.6a5.9 2.5 -116 1 0 5.3 10.6M563.7 336.4a6 2.6 -57 1 0 6.6 -10.1a6 2.6 -57 1 0 -6.6 10.1M565.4 336.5a5.3 1.8 -78 1 0 2.3 -10.3a5.3 1.8 -78 1 0 -2.3 10.3M567.2 326.9a3.9 1.7 -66 1 0 3.2 -7.1a3.9 1.7 -66 1 0 -3.2 7.1M570.7 321.3a4 1.8 -121 1 0 -4.1 -6.9a4 1.8 -121 1 0 4.1 6.9M406.3 464a3.2 1.7 -68 1 0 2.4 -5.9a3.2 1.7 -68 1 0 -2.4 5.9M409.9 460.9a3.8 1.5 -50 1 0 4.8 -5.8a3.8 1.5 -50 1 0 -4.8 5.8M414.8 449.6a3 1 -40 1 0 4.5 -3.8a3 1 -40 1 0 -4.5 3.8M677.8 507.3a4.3 2.4 -18 1 0 8.3 -2.7a4.3 2.4 -18 1 0 -8.3 2.7M514.2 524.7a3.3 1.5 -40 1 0 5 -4.3a3.3 1.5 -40 1 0 -5 4.3M403.8 332.7a3.5 2.1 -53 1 0 4.2 -5.6a3.5 2.1 -53 1 0 -4.2 5.6M752.9 304.2a4.4 1.9 -61 1 0 4.3 -7.6a4.4 1.9 -61 1 0 -4.3 7.6M692.9 425.1a2.4 1.1 -96 1 0 -0.5 -4.7a2.4 1.1 -96 1 0 0.5 4.7M554.4 454.8a2.4 1.3 -11 1 0 4.8 -1a2.4 1.3 -11 1 0 -4.8 1M556.9 445.2a3.6 1.6 -13 1 0 7 -1.6a3.6 1.6 -13 1 0 -7 1.6M531.4 409a5.5 1.8 -64 1 0 4.8 -9.9a5.5 1.8 -64 1 0 -4.8 9.9M540.1 402.3a3.8 1.5 -72 1 0 2.4 -7.2a3.8 1.5 -72 1 0 -2.4 7.2M539.6 399.8a4.1 1.8 -59 1 0 4.2 -7.1a4.1 1.8 -59 1 0 -4.2 7.1M786.4 453.7a4.8 2 -18 1 0 9.1 -2.9a4.8 2 -18 1 0 -9.1 2.9M738.9 455a2.8 1.7 -75 1 0 1.5 -5.5a2.8 1.7 -75 1 0 -1.5 5.5M498.6 462.9a3.1 1.9 -36 1 0 5 -3.6a3.1 1.9 -36 1 0 -5 3.6M499.9 456.5a4 1.6 -16 1 0 7.7 -2.2a4 1.6 -16 1 0 -7.7 2.2M420.5 310.7a5.2 2.1 -66 1 0 4.2 -9.6a5.2 2.1 -66 1 0 -4.2 9.6M426.4 302.6a3.5 2.1 -73 1 0 2.1 -6.8a3.5 2.1 -73 1 0 -2.1 6.8M442.6 364a3.6 1.8 -54 1 0 4.2 -5.8a3.6 1.8 -54 1 0 -4.2 5.8M443.5 358.2a4.3 1.5 -64 1 0 3.7 -7.7a4.3 1.5 -64 1 0 -3.7 7.7M677.3 400.4a3.7 1.8 -63 1 0 3.4 -6.6a3.7 1.8 -63 1 0 -3.4 6.6M609.3 492.4a3.4 2.1 -60 1 0 3.4 -5.8a3.4 2.1 -60 1 0 -3.4 5.8M620.1 477a4.8 2.1 -88 1 0 0.3 -9.7a4.8 2.1 -88 1 0 -0.3 9.7M635.3 399.7a4.4 1.5 -64 1 0 3.8 -7.8a4.4 1.5 -64 1 0 -3.8 7.8M614.4 363.1a4.2 2 -117 1 0 -3.8 -7.4a4.2 2 -117 1 0 3.8 7.4M617.2 357.2a4.1 1.4 -149 1 0 -7.1 -4.2a4.1 1.4 -149 1 0 7.1 4.2M570.7 305.4a4.2 2 -92 1 0 -0.4 -8.4a4.2 2 -92 1 0 0.4 8.4M572 304.9a4.1 1.8 -38 1 0 6.5 -5a4.1 1.8 -38 1 0 -6.5 5M571.3 299.8a3.8 2.3 -63 1 0 3.4 -6.7a3.8 2.3 -63 1 0 -3.4 6.7M641.1 319.9a3.7 1.5 -107 1 0 -2.2 -7a3.7 1.5 -107 1 0 2.2 7M617.3 405.4a3.3 2 -58 1 0 3.5 -5.7a3.3 2 -58 1 0 -3.5 5.7M623.4 392.2a3 1.4 -67 1 0 2.3 -5.5a3 1.4 -67 1 0 -2.3 5.5M624.7 390.9a4.5 1.4 -46 1 0 6.2 -6.5a4.5 1.4 -46 1 0 -6.2 6.5M418.1 275.9a3.3 1.1 -18 1 0 6.2 -2a3.3 1.1 -18 1 0 -6.2 2M421.6 275.7a2.9 1.4 -65 1 0 2.5 -5.4a2.9 1.4 -65 1 0 -2.5 5.4M443.8 426.7a3.5 1.3 -54 1 0 4.2 -5.7a3.5 1.3 -54 1 0 -4.2 5.7M489.5 478.2a4.9 2 -32 1 0 8.4 -5.2a4.9 2 -32 1 0 -8.4 5.2M688.4 374.7a2.8 1.7 -13 1 0 5.4 -1.3a2.8 1.7 -13 1 0 -5.4 1.3M696.5 365.8a4 1.6 -128 1 0 -5 -6.3a4 1.6 -128 1 0 5 6.3M456.7 341.9a5 2.3 -72 1 0 3.1 -9.5a5 2.3 -72 1 0 -3.1 9.5M549.9 291.6a5.5 2.6 -70 1 0 3.8 -10.4a5.5 2.6 -70 1 0 -3.8 10.4M549.9 286.3a4.8 1.6 -49 1 0 6.3 -7.2a4.8 1.6 -49 1 0 -6.3 7.2M671.2 315a5.9 2.5 -90 1 0 0.1 -11.9a5.9 2.5 -90 1 0 -0.1 11.9M672.9 301.4a3.7 1.8 -42 1 0 5.5 -5a3.7 1.8 -42 1 0 -5.5 5M561.3 375.8a5.4 1.8 -80 1 0 1.9 -10.7a5.4 1.8 -80 1 0 -1.9 10.7M758.3 521.9a3.3 1.1 -124 1 0 -3.7 -5.6a3.3 1.1 -124 1 0 3.7 5.6M754.4 520.2a3.7 1.3 -52 1 0 4.5 -5.8a3.7 1.3 -52 1 0 -4.5 5.8M760.3 508.3a3.8 1.4 -40 1 0 5.9 -5a3.8 1.4 -40 1 0 -5.9 5M762.9 507.3a2.5 1.1 -66 1 0 2 -4.5a2.5 1.1 -66 1 0 -2 4.5M761.9 506.6a4.1 1.8 -61 1 0 3.9 -7.2a4.1 1.8 -61 1 0 -3.9 7.2"/><path stroke="#e8e8e8" stroke-width="1" stroke-linecap="round" d="M712 327h0M429.5 404h0M424 405h0M428 404.5h0M437 400.5h0M432.5 406h0M744 379.5h0M697 343h0M694.5 337.5h0M686.5 340h0M693 339h0M694 338.5h0M586 417.5h0M596.5 425.5h0M593 414.5h0M599 420.5h0M597 415h0M599.5 420h0M602 423.5h0M598.5 433.5h0M785 513h0M780 523.5h0M783.5 523h0M798.5 514.5h0M773.5 523h0M796 521h0M466.5 278.5h0M465 274h0M646 294h0M641 294h0M645 296.5h0M674.5 318.5h0M669.5 314h0M684 320.5h0M673 328.5h0M677.5 320h0M682.5 326.5h0M773 492h0M668.5 291.5h0M666 297.5h0M666 293h0M661 296h0M606 536.5h0M598.5 538.5h0M602 534h0M610 536h0M605.5 538.5h0M599.5 540h0M403 516.5h0M656 345h0M649 345.5h0M654 345.5h0M653.5 348.5h0M653.5 529.5h0M654 534h0M652.5 531.5h0M651.5 533h0M590 349.5h0M590 351h0M582 345.5h0M588 347h0M583 343.5h0M587 354h0M592 349h0M595.5 347.5h0M406 427h0M406.5 425h0M405 429h0M405.5 427h0M735 511h0M747 517.5h0M746.5 518h0M743.5 514h0M747.5 517h0M587.5 329h0M568.5 329.5h0M578 329.5h0M571 323h0M690.5 295h0M684 297h0M690 293.5h0M686 307.5h0M423.5 461h0M411 450h0M410 460h0M423 461h0M422 454.5h0M407.5 449.5h0M698.5 499.5h0M685.5 501.5h0M515 516.5h0M520 517.5h0M517.5 514h0M520 514.5h0M514 517.5h0M589.5 373.5h0M589.5 372.5h0M595.5 369.5h0M590 370h0M411 336.5h0M406 334h0M395.5 337h0M403 333.5h0M398 332h0M762 427h0M762.5 425.5h0M761.5 424h0M759.5 427.5h0M756.5 298.5h0M754.5 299.5h0M760 307h0M696.5 420h0M699 421h0M695 417.5h0M695 419.5h0M506 497h0M511.5 488.5h0M512 490h0M522 496.5h0M515 492h0M622.5 435h0M626 431h0M555.5 447h0M554.5 452h0M548 454h0M800.5 352.5h0M792 355.5h0M798 351h0M794.5 352h0M793.5 351h0M440.5 505.5h0M438.5 509.5h0M435 506.5h0M439 508h0M539 350.5h0M525 350h0M532 349.5h0M535 351h0M524.5 354.5h0M535 352h0M530.5 341.5h0M532.5 399.5h0M528.5 399.5h0M537.5 397h0M536.5 403h0M527.5 404h0M539 403h0M535 400.5h0M544.5 399h0M791 446.5h0M791 463h0M789.5 453.5h0M788.5 454.5h0M794 452h0M796 460h0M791 457.5h0M731.5 437.5h0M746.5 437h0M747 444h0M737.5 448.5h0M747.5 437.5h0M735 441h0M746 448h0M746 432h0M731 441h0M507 457.5h0M500 457h0M501 458h0M584 438h0M586.5 440.5h0M586 440.5h0M423 304.5h0M423.5 297h0M429 298h0M442.5 348h0M444 347h0M438 349h0M441 352h0M445 356h0M438 353.5h0M676.5 400h0M677 394.5h0M674 396.5h0M670 400h0M612.5 477.5h0M610 478.5h0M612.5 474h0M608 479h0M622 483h0M630 484.5h0M617 488h0M610 487h0M635 387.5h0M632.5 393h0M639 391h0M615 357h0M613.5 360h0M614 358h0M538.5 296.5h0M574 294.5h0M579.5 296.5h0M566 294.5h0M638.5 309.5h0M634 312h0M638.5 312.5h0M643.5 315h0M648 312.5h0M638 312h0M632 397h0M627 392.5h0M623.5 397.5h0M619 390.5h0M415.5 271.5h0M417 276h0M421.5 272h0M429 272h0M431 278.5h0M419 271h0M423 275h0M421.5 277h0M447 425h0M444 425.5h0M766.5 416.5h0M764.5 415h0M768.5 410.5h0M777.5 413h0M769 413h0M768.5 410.5h0M408 392.5h0M412 393h0M411.5 390h0M410 398h0M643 501h0M652 495.5h0M651 508h0M636 494.5h0M652.5 495.5h0M785.5 382.5h0M787 374h0M782.5 376h0M785.5 378.5h0M500 469.5h0M498.5 472.5h0M495.5 472h0M499.5 471h0M496.5 470.5h0M683.5 376h0M685 369h0M700.5 368h0M471 333h0M472 326.5h0M463.5 326.5h0M459 326h0M459.5 329h0M545.5 284.5h0M548.5 286.5h0M669 302h0M676 303h0M674 309.5h0M676 301h0M677 303.5h0M670.5 306h0M680.5 325.5h0M689.5 327.5h0M686 330h0M694 331.5h0M686.5 325h0M578.5 359.5h0M570.5 359h0M567 356h0M557.5 367h0M568 363.5h0M761.5 515h0M757.5 516.5h0M758.5 505.5h0M769 514h0"/><path stroke="#e8e8e8" stroke-width="1.5" stroke-linecap="round" d="M711 327.5h0M712.5 328.5h0M713 326.5h0M707.5 326h0M429.5 402.5h0M431 402h0M426.5 404.5h0M433 404h0M747.5 375h0M750.5 382h0M748.5 380.5h0M745.5 376h0M745.5 382h0M483.5 382h0M487.5 381h0M692 341h0M694 340h0M694 340h0M689.5 336h0M693.5 343h0M595 420.5h0M591 414.5h0M580 414.5h0M591.5 426.5h0M583.5 415h0M599 428h0M584.5 427h0M786.5 516h0M795.5 518.5h0M785 516h0M779.5 521.5h0M784 521h0M782 521.5h0M779.5 513.5h0M792.5 519h0M788 526.5h0M471 277h0M464 274h0M465.5 276.5h0M470 272.5h0M467 279h0M651.5 295.5h0M649 298h0M651 292h0M650 292.5h0M653.5 293h0M666.5 323.5h0M675 321h0M675.5 321.5h0M679.5 321.5h0M669 315.5h0M678.5 324.5h0M677.5 315.5h0M667.5 315h0M671 324h0M779.5 493h0M773 491h0M778 490.5h0M664.5 298h0M658.5 292h0M672 293h0M666 292h0M672.5 294h0M618.5 537h0M611.5 533.5h0M614 539h0M620.5 533.5h0M618 532h0M606.5 532.5h0M617 536h0M392 516h0M406 516h0M404.5 518.5h0M404.5 514.5h0M649 349.5h0M652.5 534.5h0M648 532.5h0M640 535.5h0M657.5 531.5h0M585.5 343.5h0M583 348.5h0M420 429h0M410 424.5h0M406.5 426.5h0M409.5 422h0M417.5 425h0M414 426h0M742.5 521h0M748 511.5h0M757 507.5h0M749.5 521h0M746.5 525.5h0M753.5 512h0M741.5 515.5h0M740.5 513h0M560 318.5h0M583 325.5h0M575.5 321.5h0M572 318.5h0M565 328h0M570.5 324h0M567.5 329.5h0M569 327.5h0M577.5 322h0M689 301h0M688.5 295h0M693.5 296.5h0M693 298h0M684.5 301.5h0M411.5 456h0M413.5 451h0M405 457.5h0M414 459.5h0M414 449h0M684.5 502.5h0M690.5 504h0M681.5 499.5h0M692.5 503.5h0M687 494.5h0M693 504h0M689.5 502.5h0M685 502h0M521 509h0M520 515.5h0M587 374.5h0M587 376h0M398 331.5h0M413.5 334.5h0M395.5 331.5h0M398 331.5h0M396 333.5h0M396.5 337h0M398.5 337h0M412 328h0M394.5 330.5h0M757.5 428.5h0M755.5 421h0M751 299.5h0M747 307h0M752.5 304h0M750.5 308h0M700 419h0M508 487h0M508.5 490h0M515 486h0M618.5 427.5h0M625.5 430.5h0M623.5 426h0M557.5 458.5h0M561 455h0M555.5 452.5h0M556 457h0M558.5 452.5h0M551 456h0M564.5 455h0M542.5 457.5h0M797.5 347.5h0M800.5 366h0M436 506h0M439.5 505h0M434 502.5h0M525 349.5h0M524.5 355h0M526 345h0M530 356h0M527.5 348h0M535 394h0M532 402.5h0M543 406.5h0M532.5 395.5h0M534.5 408.5h0M533 405.5h0M533.5 402h0M531.5 396.5h0M793 449.5h0M785 450.5h0M785.5 454h0M787.5 453h0M730 445h0M742 441h0M743 440h0M733 451h0M735.5 443h0M741 442h0M504.5 453.5h0M502 455.5h0M502 457.5h0M503.5 458.5h0M589.5 441h0M426.5 298h0M427.5 299h0M424 299.5h0M426 301h0M436 353h0M447 352.5h0M451.5 347.5h0M454.5 345.5h0M439 358h0M456.5 359h0M676.5 400.5h0M674 399.5h0M667.5 401h0M670 400h0M675.5 400.5h0M609.5 482h0M626 478h0M616.5 486.5h0M615.5 485.5h0M615 476.5h0M620.5 477.5h0M634.5 397h0M642 393.5h0M639.5 390h0M634.5 391h0M648 395h0M629.5 395h0M645 396h0M646.5 393h0M638 394.5h0M622 356h0M616.5 356.5h0M608.5 357h0M611.5 355h0M538 293.5h0M545 293h0M541.5 296h0M541.5 292.5h0M539.5 296.5h0M578.5 295.5h0M577.5 300.5h0M574.5 294.5h0M577.5 291h0M641 315h0M643.5 316h0M641 304.5h0M642 306.5h0M644 311.5h0M637 310h0M630.5 388h0M615.5 397h0M622 392h0M627.5 394.5h0M627 388.5h0M625 393.5h0M618 392.5h0M634.5 396.5h0M621.5 392.5h0M415.5 278.5h0M415 266.5h0M427 272.5h0M413 265h0M422 270h0M445 425h0M769 413h0M766.5 414h0M412 398h0M415 395.5h0M422.5 396.5h0M408.5 394h0M416.5 390h0M416 394h0M656 498.5h0M644.5 504.5h0M641.5 493h0M634.5 495.5h0M652 500.5h0M650 501h0M640.5 492h0M788 376h0M788.5 376.5h0M785 377h0M791.5 379h0M498 469h0M500.5 472.5h0M502.5 471h0M497 467.5h0M495.5 468h0M694 367h0M701.5 369h0M688.5 371.5h0M690.5 366.5h0M687.5 373h0M694 368.5h0M689 370.5h0M688.5 372.5h0M462.5 328h0M473.5 330.5h0M468 325h0M460.5 331.5h0M463 332h0M551.5 286h0M555.5 288.5h0M551 284h0M546 285h0M541.5 292.5h0M678 299.5h0M685 302.5h0M682.5 299h0M680.5 303.5h0M682 305h0M667 294.5h0M664 305.5h0M666 303h0M666 301.5h0M796 465h0M789.5 464.5h0M799 465.5h0M790.5 466.5h0M678.5 325h0M689.5 331.5h0M695.5 322h0M684 328h0M697 322h0M686.5 326h0M690.5 330h0M562.5 361.5h0M557.5 358.5h0M570.5 351.5h0M571 359h0M575 368h0M560.5 356.5h0M565.5 359h0M563 361h0M565 359.5h0M763 508.5h0M751 507.5h0M756.5 511.5h0M758.5 512.5h0M753 514.5h0M766 519h0M750 515.5h0M771 516h0M768 512h0"/><path stroke="#e8e8e8" stroke-width="2" stroke-linecap="round" d="M709 326.5h0M709.5 330h0M748 381h0M481 384.5h0M479.5 381.5h0M488 378.5h0M483 380.5h0M691 337h0M584 428.5h0M610.5 423h0M593.5 417h0M786 525h0M783 521h0M465 276.5h0M467 278.5h0M654 294h0M648 297h0M675.5 320h0M678 318h0M689 322h0M773.5 489.5h0M776.5 491h0M659 292h0M612.5 530h0M600 534h0M408.5 516.5h0M406.5 516.5h0M398 510h0M406.5 512.5h0M395 519.5h0M402 511h0M411.5 522h0M652 344h0M654 348.5h0M648.5 534.5h0M652.5 529h0M581.5 348.5h0M403.5 425.5h0M399 425h0M417.5 424.5h0M751 521.5h0M739 514.5h0M750.5 514.5h0M747 520h0M568.5 321h0M573 322.5h0M561 322h0M559 329.5h0M562.5 320.5h0M686 293h0M689 297.5h0M410 452.5h0M415 453.5h0M416.5 447h0M411 461.5h0M683 504h0M683.5 498h0M682.5 504h0M694.5 494.5h0M518 515h0M522 516h0M513.5 513.5h0M586 371.5h0M760 425.5h0M757.5 427.5h0M752 303h0M700.5 420h0M695.5 421h0M514 493h0M514.5 493.5h0M513.5 492h0M516.5 495.5h0M628 426.5h0M619 432h0M619 430.5h0M617.5 426h0M554.5 450h0M553 456h0M790.5 351.5h0M795 353h0M796.5 356.5h0M796 354h0M441.5 506.5h0M533.5 349.5h0M530 408h0M788 446h0M797 457.5h0M786.5 456h0M743.5 439.5h0M504.5 458h0M578.5 439h0M577.5 438.5h0M585 440.5h0M451 360h0M443 358.5h0M445.5 348.5h0M447.5 354.5h0M683.5 405.5h0M670.5 402h0M629.5 474.5h0M619 483h0M621 473h0M636.5 387.5h0M640.5 390h0M610 353h0M613 354.5h0M615 358h0M606.5 360.5h0M607 346h0M543 296h0M578 292h0M569 296h0M576.5 295h0M623.5 387.5h0M627 391.5h0M412.5 273.5h0M425 273h0M427 269.5h0M423.5 278h0M443.5 425.5h0M444 424.5h0M443.5 425.5h0M766.5 417.5h0M765.5 411h0M773.5 414h0M419 395h0M416.5 397.5h0M417 389.5h0M644 492h0M647.5 495.5h0M648 500h0M649.5 502.5h0M784.5 379h0M782 383.5h0M786.5 375.5h0M504 471h0M694 378h0M686.5 369h0M471.5 336h0M463 334h0M453.5 326h0M466.5 320h0M458 330h0M459 333h0M552 285h0M551 284h0M553 281.5h0M554.5 282.5h0M676 304h0M659 295h0M790 469h0M793.5 466.5h0M786.5 467h0M695 317h0M698 328h0M684 328.5h0M566 360h0M569 352.5h0M564 350.5h0M753 521.5h0M754.5 510.5h0M747.5 511.5h0"/></g></g><rect x="403" y="271" width="388" height="262" filter="url(#grain)" opacity="0.5"/><rect x="403" y="271" width="388" height="262" filter="url(#grainw)" opacity="0.15"/></g>
<rect x="6.0" y="2.0" width="40.5" height="37.0" fill="#fff"/><rect x="403.0" y="2.0" width="39.0" height="37.0" fill="#fff"/><rect x="6.0" y="271.0" width="40.0" height="37.3" fill="#fff"/><rect x="403.0" y="271.0" width="39.0" height="37.3" fill="#fff"/><rect x="289.0" y="2.0" width="106.0" height="22.8" fill="#fff"/><rect x="666.7" y="2.0" width="124.3" height="22.6" fill="#fff"/><rect x="275.7" y="271.0" width="119.3" height="24.1" fill="#fff"/><rect x="649.9" y="271.0" width="141.1" height="23.6" fill="#fff"/><g font-family="Liberation Sans" fill="#000" opacity="0.999"><text x="14.26" y="32.1" font-size="36.46" font-weight="bold" textLength="23.86" lengthAdjust="spacingAndGlyphs" stroke="#000" stroke-width="0.9" stroke-linejoin="round">A</text><text x="409.00" y="32.9" font-size="36.46" font-weight="bold" textLength="21.36" lengthAdjust="spacingAndGlyphs" stroke="#000" stroke-width="0.9" stroke-linejoin="round">B</text><text x="12.77" y="303.9" font-size="36.46" font-weight="bold" textLength="21.36" lengthAdjust="spacingAndGlyphs" stroke="#000" stroke-width="0.9" stroke-linejoin="round">C</text><text x="409.29" y="303.1" font-size="36.46" font-weight="bold" textLength="25.79" lengthAdjust="spacingAndGlyphs" stroke="#000" stroke-width="0.9" stroke-linejoin="round">D</text><text x="9.85" y="572.6" font-size="36.46" font-weight="bold" textLength="18.16" lengthAdjust="spacingAndGlyphs" stroke="#000" stroke-width="0.9" stroke-linejoin="round">E</text><text x="405.41" y="572.6" font-size="36.46" font-weight="bold" textLength="17.01" lengthAdjust="spacingAndGlyphs" stroke="#000" stroke-width="0.9" stroke-linejoin="round">F</text><text x="294.18" y="20.7" font-size="24.2" font-weight="bold" textLength="95.37" lengthAdjust="spacingAndGlyphs" stroke="#000" stroke-width="0.5" stroke-linejoin="round">P2L8-H3</text><text x="669.06" y="21.2" font-size="24.2" font-weight="bold" textLength="117.93" lengthAdjust="spacingAndGlyphs" stroke="#000" stroke-width="0.5" stroke-linejoin="round">P2L8-mH3</text><text x="280.36" y="291.2" font-size="24.2" font-weight="bold" textLength="110.05" lengthAdjust="spacingAndGlyphs" stroke="#000" stroke-width="0.5" stroke-linejoin="round">P2L8-H10</text><text x="654.45" y="290.1" font-size="24.2" font-weight="bold" textLength="132.40" lengthAdjust="spacingAndGlyphs" stroke="#000" stroke-width="0.5" stroke-linejoin="round">P2L8-mH10</text></g><rect x="13.0" y="255.0" width="41.0" height="5.3" fill="#fff"/><rect x="408.6" y="255.5" width="30.1" height="5.0" fill="#fff"/><rect x="10.2" y="523.8" width="41.7" height="5.0" fill="#fff"/><rect x="407.0" y="523.8" width="42.2" height="5.3" fill="#fff"/>
<g opacity="0.999"><path d="M31.6,589.8 V817.8 H394.8 V589.8 Z" fill="none" stroke="#3a3a3a" stroke-width="1.3"/><path d="M72.0,817.8 v-2.5 M112.4,817.8 v-4.0 M152.9,817.8 v-2.5 M193.3,817.8 v-4.0 M233.7,817.8 v-2.5 M274.2,817.8 v-4.0 M314.6,817.8 v-2.5 M355.0,817.8 v-4.0 M31.6,798.8 h2.5 M31.6,779.8 h4.0 M31.6,760.8 h2.5 M31.6,741.8 h4.0 M31.6,722.8 h2.5 M31.6,703.8 h4.0 M31.6,684.8 h2.5 M31.6,665.8 h4.0 M31.6,646.8 h2.5 M31.6,627.8 h4.0 M31.6,608.8 h2.5 " stroke="#3a3a3a" stroke-width="1.1" fill="none"/><g font-family="Liberation Sans" font-size="10.8" fill="#222"><text x="27.0" y="821.6" text-anchor="end">0</text><text x="27.0" y="783.6" text-anchor="end">5</text><text x="27.0" y="745.6" text-anchor="end">10</text><text x="27.0" y="707.6" text-anchor="end">15</text><text x="27.0" y="669.6" text-anchor="end">20</text><text x="27.0" y="631.6" text-anchor="end">25</text><text x="27.0" y="593.6" text-anchor="end">30</text><text x="31.6" y="831.0" text-anchor="middle">0</text><text x="112.4" y="831.0" text-anchor="middle">100</text><text x="193.3" y="831.0" text-anchor="middle">200</text><text x="274.2" y="831.0" text-anchor="middle">300</text><text x="355.0" y="831.0" text-anchor="middle">400</text></g><text x="187.5" y="849.5" font-family="Liberation Sans" font-size="11.7" fill="#222" textLength="52" lengthAdjust="spacingAndGlyphs">Strain (%)</text><text x="-35" y="0" font-family="Liberation Sans" font-size="11.7" fill="#222" textLength="70" lengthAdjust="spacingAndGlyphs" transform="translate(9.9,704.0) rotate(-90)">Stress (MPa)</text><polyline points="31.8,817.3 33.0,780.3 34.3,762.7 36.8,747.7 38.5,742.5 41.3,739.5 45.0,736.4 50.0,733.9 60.0,732.1 85.1,728.1 110.1,723.8 135.2,719.6 160.3,715.8 185.3,712.1 210.4,708.0 235.4,704.3 260.0,701.3 279.7,697.3 292.5,694.5 305.3,690.9 322.3,686.7 339.4,682.4 347.9,679.2 360.7,676.0 369.3,674.9 375.7,673.2 376.7,673.6" fill="none" stroke="#151515" stroke-width="1.1" stroke-linejoin="round"/><line x1="376.7" y1="673.6" x2="376.7" y2="694.1" stroke="#151515" stroke-width="1.1"/><polyline points="31.8,817.3 32.5,770.0 33.8,740.0 35.0,711.4 36.3,702.6 38.8,698.8 41.3,697.8 46.3,696.3 48.8,695.4 53.8,695.7 56.3,693.2 60.1,692.3 65.1,690.7 71.4,688.2 77.6,685.7 85.1,682.5 95.2,677.5 102.7,674.8 110.2,671.5 120.5,666.6 132.6,662.1 147.6,656.8 162.6,651.6 177.7,644.8 185.2,642.6 192.7,640.3 200.2,635.0 207.7,632.8 215.3,629.8 224.3,623.0 230.0,621.7 236.3,617.8 245.1,613.2 251.3,610.1 257.6,606.9 263.9,603.5 272.6,598.8 278.3,595.7 279.5,596.3 279.9,597.0" fill="none" stroke="#f03a3a" stroke-width="1.1" stroke-linejoin="round"/><line x1="279.9" y1="597.0" x2="279.9" y2="660.2" stroke="#f59090" stroke-width="1.1"/><polyline points="31.8,817.3 32.6,780.0 34.4,740.0 36.3,718.9 38.8,708.8 42.5,703.8 48.8,700.1 55.1,696.3 61.3,692.6 67.6,690.0 73.9,686.9 80.1,684.4 86.4,682.5 92.7,680.7 98.9,678.1 111.5,674.4 117.5,672.9 125.0,669.6 140.1,664.8 155.1,659.8 162.6,658.3 170.2,655.3 174.7,653.8 182.2,649.3 188.2,647.8 192.7,644.1 200.2,643.3 206.2,641.8 215.3,639.5 219.8,638.8 225.8,638.8 226.5,639.5" fill="none" stroke="#2e2eff" stroke-width="1.1" stroke-linejoin="round"/><line x1="226.6" y1="639.5" x2="226.6" y2="695.8" stroke="#6a6aff" stroke-width="1.4"/><polyline points="31.8,817.3 33.0,790.0 34.3,760.0 35.6,740.0 37.5,722.6 40.0,712.6 43.8,707.0 48.8,703.8 55.1,702.6 67.6,699.8 80.1,696.9 92.7,693.8 105.2,690.7 117.7,688.2 125.0,686.9 140.1,683.2 155.1,678.6 170.2,673.4 185.2,668.1 194.2,665.1 203.2,661.4 209.2,660.3 218.3,656.8 226.3,653.7 232.5,650.8 245.1,646.2 257.6,641.4 270.1,636.4 280.2,632.4 288.9,628.2 297.7,623.2 302.7,622.0 306.5,620.5 307.1,621.2" fill="none" stroke="#3aae6a" stroke-width="1.1" stroke-linejoin="round"/><line x1="307.1" y1="621.2" x2="307.1" y2="649.5" stroke="#5cbf85" stroke-width="1.1"/><circle cx="376.7" cy="679.8" r="2.80" fill="#000"/><rect x="248.8" y="607.6" width="5.0" height="5.0" fill="#e82a34"/><path d="M206.7,638.7 L209.8,644.3 L203.6,644.3 Z" fill="#1515e0"/><path d="M307.1,627.2 L310.6,630.7 L307.1,634.2 L303.6,630.7 Z" fill="#2e9e5e"/><g font-family="Liberation Sans" font-size="10" fill="#222"><line x1="296.2" y1="748.8" x2="318.8" y2="748.8" stroke="#555" stroke-width="1.1"/><text x="319.1" y="752.4">(</text><circle cx="327.1" cy="748.8" r="4.06" fill="#000"/><text x="332.4" y="752.4">)P2L8</text><line x1="296.2" y1="764.1" x2="318.8" y2="764.1" stroke="#ff8080" stroke-width="1.1"/><text x="319.1" y="767.7">(</text><rect x="323.5" y="760.5" width="7.2" height="7.2" fill="#ee1111"/><text x="332.4" y="767.7">)P2L8-H3</text><line x1="296.2" y1="779.4" x2="318.8" y2="779.4" stroke="#3030ff" stroke-width="1.1"/><text x="319.1" y="783.0">(</text><path d="M327.1,776.1 L331.6,782.1 L322.6,782.1 Z" fill="#1e6fc0"/><text x="332.4" y="783.0">)P2L8-H5</text><line x1="296.2" y1="794.7" x2="318.8" y2="794.7" stroke="#50b070" stroke-width="1.1"/><text x="319.1" y="798.3">(</text><path d="M327.1,789.6 L332.2,794.7 L327.1,799.8 L322.0,794.7 Z" fill="#0a7a0a"/><text x="332.4" y="798.3">)P2L8-H10</text></g><path d="M437.0,590.2 V815.5 H795.8 V590.2 Z" fill="none" stroke="#3a3a3a" stroke-width="1.3"/><path d="M476.8,815.5 v-2.5 M516.6,815.5 v-4.0 M556.5,815.5 v-2.5 M596.3,815.5 v-4.0 M636.1,815.5 v-2.5 M676.0,815.5 v-4.0 M715.8,815.5 v-2.5 M755.6,815.5 v-4.0 M437.0,796.7 h2.5 M437.0,778.0 h4.0 M437.0,759.2 h2.5 M437.0,740.4 h4.0 M437.0,721.6 h2.5 M437.0,702.9 h4.0 M437.0,684.1 h2.5 M437.0,665.3 h4.0 M437.0,646.5 h2.5 M437.0,627.8 h4.0 M437.0,609.0 h2.5 " stroke="#3a3a3a" stroke-width="1.1" fill="none"/><g font-family="Liberation Sans" font-size="10.8" fill="#222"><text x="431.8" y="819.4" text-anchor="end">0</text><text x="431.8" y="781.8" text-anchor="end">5</text><text x="431.8" y="744.2" text-anchor="end">10</text><text x="431.8" y="706.7" text-anchor="end">15</text><text x="431.8" y="669.1" text-anchor="end">20</text><text x="431.8" y="631.6" text-anchor="end">25</text><text x="431.8" y="594.1" text-anchor="end">30</text><text x="437.0" y="828.9" text-anchor="middle">0</text><text x="516.6" y="828.9" text-anchor="middle">100</text><text x="596.3" y="828.9" text-anchor="middle">200</text><text x="676.0" y="828.9" text-anchor="middle">300</text><text x="755.6" y="828.9" text-anchor="middle">400</text></g><text x="590.5" y="847.8" font-family="Liberation Sans" font-size="11.7" fill="#222" textLength="52" lengthAdjust="spacingAndGlyphs">Strain (%)</text><text x="-35" y="0" font-family="Liberation Sans" font-size="11.7" fill="#222" textLength="70" lengthAdjust="spacingAndGlyphs" transform="translate(415.8,703.3) rotate(-90)">Stress (MPa)</text><polyline points="437.0,815.2 437.5,780.3 438.8,760.2 441.3,746.4 445.0,737.6 448.8,735.2 453.8,732.7 466.3,730.2 485.1,727.4 503.9,724.9 522.7,722.4 535.0,720.8 555.3,716.3 580.4,712.6 605.4,708.3 630.0,705.1 648.1,702.3 698.3,691.5 735.8,682.8 760.9,675.7 776.4,672.2 777.7,672.8" fill="none" stroke="#151515" stroke-width="1.1" stroke-linejoin="round"/><line x1="777.7" y1="672.8" x2="777.7" y2="693.3" stroke="#555" stroke-width="1.1"/><polyline points="437.0,815.2 437.5,780.3 438.8,737.7 439.8,707.6 440.6,691.3 441.9,688.2 443.1,687.2 445.7,688.8 448.5,690.0 451.3,688.5 457.6,683.8 463.8,679.4 470.1,675.6 475.1,672.5 480.1,670.0 505.2,660.2 530.0,653.7 546.3,649.7 562.6,644.3 578.9,637.5 595.1,629.3 611.4,620.4 627.7,612.7 642.4,606.8 647.3,605.7 649.7,607.3" fill="none" stroke="#ff3838" stroke-width="1.1" stroke-linejoin="round"/><line x1="649.7" y1="607.3" x2="649.7" y2="683.1" stroke="#ff3838" stroke-width="1.1"/><polyline points="437.0,815.2 437.8,790.0 438.8,767.7 440.0,740.0 442.5,726.4 445.7,718.2 448.8,714.5 453.8,712.6 460.1,710.7 472.6,707.0 485.1,703.8 497.7,700.7 510.2,698.6 522.7,695.1 535.0,690.0 546.3,686.3 562.6,679.8 578.9,672.5 587.0,670.4 598.4,668.1 605.7,666.4 608.2,667.6 609.5,670.0 609.8,671.0" fill="none" stroke="#3030ff" stroke-width="1.1" stroke-linejoin="round"/><line x1="609.8" y1="671.0" x2="609.8" y2="695.3" stroke="#3030ff" stroke-width="1.4"/><polyline points="437.0,815.2 438.0,780.0 438.8,755.2 440.0,738.9 441.3,722.6 443.8,711.4 447.5,703.2 451.3,700.1 455.0,699.2 466.3,696.9 478.9,695.1 491.4,693.2 503.9,691.3 512.7,689.4 522.7,688.2 535.0,686.0 546.3,681.4 562.6,676.5 578.9,671.3 595.1,665.1 611.4,659.4 627.7,654.6 639.1,651.3 644.0,650.0 648.1,650.2 649.2,651.0" fill="none" stroke="#1a8a1a" stroke-width="1.1" stroke-linejoin="round"/><line x1="649.0" y1="651.0" x2="649.0" y2="702.3" stroke="#1a8a1a" stroke-width="1.1"/><circle cx="777.7" cy="679.2" r="2.80" fill="#000"/><rect x="646.9" y="609.2" width="5.0" height="5.0" fill="#f21010"/><path d="M609.8,671.3 L612.9,676.9 L606.7,676.9 Z" fill="#1515e8"/><path d="M644.0,646.6 L647.5,650.1 L644.0,653.6 L640.5,650.1 Z" fill="#007f00"/><g font-family="Liberation Sans" font-size="10" fill="#222"><line x1="694.0" y1="752.6" x2="716.7" y2="752.6" stroke="#555" stroke-width="1.1"/><text x="717.0" y="756.2">(</text><circle cx="724.7" cy="752.6" r="4.06" fill="#000"/><text x="730.0" y="756.2">)P2L8</text><line x1="694.0" y1="767.8" x2="716.7" y2="767.8" stroke="#ff8080" stroke-width="1.1"/><text x="717.0" y="771.4">(</text><rect x="721.1" y="764.2" width="7.2" height="7.2" fill="#ee1111"/><text x="730.0" y="771.4">)P2L8-mH3</text><line x1="694.0" y1="783.0" x2="716.7" y2="783.0" stroke="#3030ff" stroke-width="1.1"/><text x="717.0" y="786.6">(</text><path d="M724.7,779.7 L729.2,785.7 L720.2,785.7 Z" fill="#1e6fc0"/><text x="730.0" y="786.6">)P2L8-mH5</text><line x1="694.0" y1="798.2" x2="716.7" y2="798.2" stroke="#208a20" stroke-width="1.1"/><text x="717.0" y="801.8">(</text><path d="M724.7,793.1 L729.8,798.2 L724.7,803.3 L719.6,798.2 Z" fill="#0a7a0a"/><text x="730.0" y="801.8">)P2L8-mH10</text></g></g>
</svg>
</body></html>
